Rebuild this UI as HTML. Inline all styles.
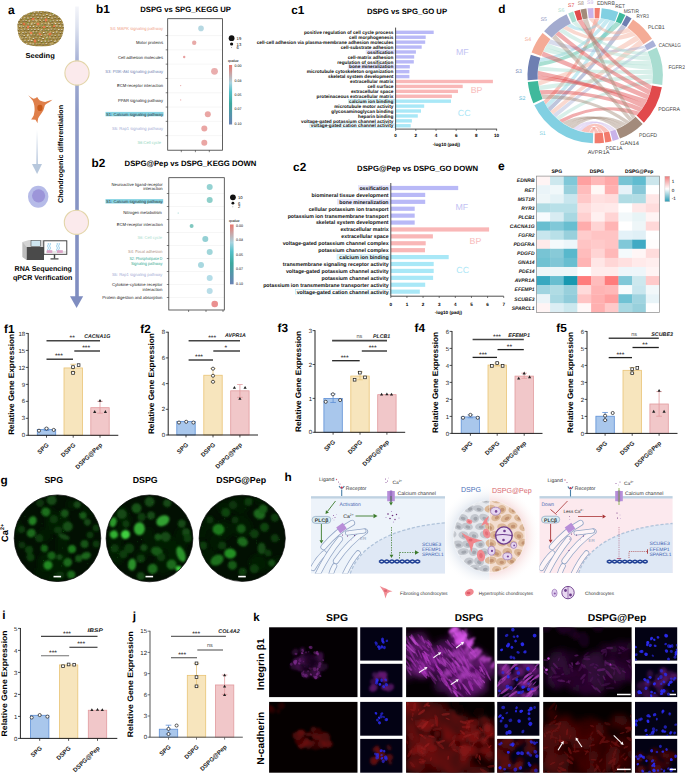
<!DOCTYPE html>
<html><head><meta charset="utf-8"><title>Figure</title>
<style>html,body{margin:0;padding:0;background:#fff;} svg{display:block;}</style></head>
<body><svg width="685" height="775" viewBox="0 0 685 775" font-family='"Liberation Sans", sans-serif' text-rendering="geometricPrecision">
<rect x="0" y="0" width="685" height="775" fill="#ffffff"/>
<text x="8.00" y="13.70" font-size="12" font-weight="bold" >a</text>
<clipPath id="scf"><path d="M17.5,27 C17,17 28,11 40.5,11 C53,11 64,17 63.8,27 C64,31 62,40 56,43.5 C50,46.5 45,46.3 40.5,46.3 C35,46.3 29,46 24,43 C19,39.5 17.5,33 17.5,27 Z"/></clipPath>
<g clip-path="url(#scf)">
<rect x="16.00" y="10.00" width="50.00" height="38.00" fill="#a48a44" />
<rect x="16.8" y="11.8" width="1.8" height="1.2" fill="#5a4618" fill-opacity="0.85"/>
<rect x="16.8" y="11.2" width="1.6" height="1.1" fill="#f4efe0" fill-opacity="0.79"/>
<rect x="20.0" y="12.1" width="1.8" height="1.2" fill="#5a4618" fill-opacity="0.85"/>
<rect x="20.0" y="11.5" width="1.6" height="1.1" fill="#f4efe0" fill-opacity="0.66"/>
<rect x="23.4" y="12.1" width="1.8" height="1.2" fill="#5a4618" fill-opacity="0.85"/>
<rect x="23.4" y="11.5" width="1.6" height="1.1" fill="#f4efe0" fill-opacity="0.52"/>
<rect x="27.1" y="11.8" width="1.8" height="1.2" fill="#5a4618" fill-opacity="0.85"/>
<rect x="27.1" y="11.2" width="1.6" height="1.1" fill="#f4efe0" fill-opacity="0.54"/>
<rect x="30.5" y="12.4" width="1.8" height="1.2" fill="#5a4618" fill-opacity="0.85"/>
<rect x="30.5" y="11.8" width="1.6" height="1.1" fill="#f4efe0" fill-opacity="0.56"/>
<rect x="33.7" y="12.2" width="1.8" height="1.2" fill="#5a4618" fill-opacity="0.85"/>
<rect x="33.7" y="11.6" width="1.6" height="1.1" fill="#f4efe0" fill-opacity="0.93"/>
<rect x="37.5" y="12.0" width="1.8" height="1.2" fill="#5a4618" fill-opacity="0.85"/>
<rect x="37.5" y="11.4" width="1.6" height="1.1" fill="#f4efe0" fill-opacity="0.94"/>
<rect x="40.3" y="12.4" width="1.8" height="1.2" fill="#5a4618" fill-opacity="0.85"/>
<rect x="40.3" y="11.8" width="1.6" height="1.1" fill="#f4efe0" fill-opacity="0.63"/>
<rect x="43.8" y="11.8" width="1.8" height="1.2" fill="#5a4618" fill-opacity="0.85"/>
<rect x="43.8" y="11.2" width="1.6" height="1.1" fill="#f4efe0" fill-opacity="0.64"/>
<rect x="47.9" y="11.8" width="1.8" height="1.2" fill="#5a4618" fill-opacity="0.85"/>
<rect x="47.9" y="11.2" width="1.6" height="1.1" fill="#f4efe0" fill-opacity="0.76"/>
<rect x="51.1" y="12.0" width="1.8" height="1.2" fill="#5a4618" fill-opacity="0.85"/>
<rect x="51.1" y="11.4" width="1.6" height="1.1" fill="#f4efe0" fill-opacity="0.75"/>
<rect x="54.0" y="11.7" width="1.8" height="1.2" fill="#5a4618" fill-opacity="0.85"/>
<rect x="54.0" y="11.1" width="1.6" height="1.1" fill="#f4efe0" fill-opacity="0.59"/>
<rect x="58.0" y="12.0" width="1.8" height="1.2" fill="#5a4618" fill-opacity="0.85"/>
<rect x="58.0" y="11.4" width="1.6" height="1.1" fill="#f4efe0" fill-opacity="0.64"/>
<rect x="61.3" y="12.1" width="1.8" height="1.2" fill="#5a4618" fill-opacity="0.85"/>
<rect x="61.3" y="11.5" width="1.6" height="1.1" fill="#f4efe0" fill-opacity="0.63"/>
<rect x="64.9" y="12.3" width="1.8" height="1.2" fill="#5a4618" fill-opacity="0.85"/>
<rect x="64.9" y="11.7" width="1.6" height="1.1" fill="#f4efe0" fill-opacity="0.61"/>
<rect x="18.8" y="15.0" width="1.8" height="1.2" fill="#5a4618" fill-opacity="0.85"/>
<rect x="18.8" y="14.4" width="1.6" height="1.1" fill="#f4efe0" fill-opacity="0.89"/>
<rect x="22.3" y="14.8" width="1.8" height="1.2" fill="#5a4618" fill-opacity="0.85"/>
<rect x="22.3" y="14.2" width="1.6" height="1.1" fill="#f4efe0" fill-opacity="0.94"/>
<rect x="25.1" y="14.9" width="1.8" height="1.2" fill="#5a4618" fill-opacity="0.85"/>
<rect x="25.1" y="14.3" width="1.6" height="1.1" fill="#f4efe0" fill-opacity="0.84"/>
<rect x="28.6" y="15.0" width="1.8" height="1.2" fill="#5a4618" fill-opacity="0.85"/>
<rect x="28.6" y="14.4" width="1.6" height="1.1" fill="#f4efe0" fill-opacity="0.52"/>
<rect x="32.5" y="15.2" width="1.8" height="1.2" fill="#5a4618" fill-opacity="0.85"/>
<rect x="32.5" y="14.6" width="1.6" height="1.1" fill="#f4efe0" fill-opacity="0.76"/>
<rect x="36.1" y="14.9" width="1.8" height="1.2" fill="#5a4618" fill-opacity="0.85"/>
<rect x="36.1" y="14.3" width="1.6" height="1.1" fill="#f4efe0" fill-opacity="0.81"/>
<rect x="39.2" y="15.1" width="1.8" height="1.2" fill="#5a4618" fill-opacity="0.85"/>
<rect x="39.2" y="14.5" width="1.6" height="1.1" fill="#f4efe0" fill-opacity="0.71"/>
<rect x="42.8" y="15.4" width="1.8" height="1.2" fill="#5a4618" fill-opacity="0.85"/>
<rect x="42.8" y="14.8" width="1.6" height="1.1" fill="#f4efe0" fill-opacity="0.71"/>
<rect x="46.1" y="14.6" width="1.8" height="1.2" fill="#5a4618" fill-opacity="0.85"/>
<rect x="46.1" y="14.0" width="1.6" height="1.1" fill="#f4efe0" fill-opacity="0.82"/>
<rect x="49.4" y="15.4" width="1.8" height="1.2" fill="#5a4618" fill-opacity="0.85"/>
<rect x="49.4" y="14.8" width="1.6" height="1.1" fill="#f4efe0" fill-opacity="0.87"/>
<rect x="52.5" y="14.9" width="1.8" height="1.2" fill="#5a4618" fill-opacity="0.85"/>
<rect x="52.5" y="14.3" width="1.6" height="1.1" fill="#f4efe0" fill-opacity="0.80"/>
<rect x="55.6" y="15.0" width="1.8" height="1.2" fill="#5a4618" fill-opacity="0.85"/>
<rect x="55.6" y="14.4" width="1.6" height="1.1" fill="#f4efe0" fill-opacity="0.58"/>
<rect x="59.1" y="14.6" width="1.8" height="1.2" fill="#5a4618" fill-opacity="0.85"/>
<rect x="59.1" y="14.0" width="1.6" height="1.1" fill="#f4efe0" fill-opacity="0.85"/>
<rect x="62.5" y="14.8" width="1.8" height="1.2" fill="#5a4618" fill-opacity="0.85"/>
<rect x="62.5" y="14.2" width="1.6" height="1.1" fill="#f4efe0" fill-opacity="0.68"/>
<rect x="17.4" y="17.6" width="1.8" height="1.2" fill="#5a4618" fill-opacity="0.85"/>
<rect x="17.4" y="17.0" width="1.6" height="1.1" fill="#f4efe0" fill-opacity="0.70"/>
<rect x="20.4" y="18.2" width="1.8" height="1.2" fill="#5a4618" fill-opacity="0.85"/>
<rect x="20.4" y="17.6" width="1.6" height="1.1" fill="#f4efe0" fill-opacity="0.87"/>
<rect x="24.2" y="17.7" width="1.8" height="1.2" fill="#5a4618" fill-opacity="0.85"/>
<rect x="24.2" y="17.1" width="1.6" height="1.1" fill="#f4efe0" fill-opacity="0.69"/>
<rect x="27.1" y="18.2" width="1.8" height="1.2" fill="#5a4618" fill-opacity="0.85"/>
<rect x="27.1" y="17.6" width="1.6" height="1.1" fill="#f4efe0" fill-opacity="0.93"/>
<rect x="30.3" y="17.6" width="1.8" height="1.2" fill="#5a4618" fill-opacity="0.85"/>
<rect x="30.3" y="17.0" width="1.6" height="1.1" fill="#f4efe0" fill-opacity="0.60"/>
<rect x="33.7" y="17.9" width="1.8" height="1.2" fill="#5a4618" fill-opacity="0.85"/>
<rect x="33.7" y="17.3" width="1.6" height="1.1" fill="#f4efe0" fill-opacity="0.77"/>
<rect x="37.2" y="17.5" width="1.8" height="1.2" fill="#5a4618" fill-opacity="0.85"/>
<rect x="37.2" y="16.9" width="1.6" height="1.1" fill="#f4efe0" fill-opacity="0.69"/>
<rect x="40.7" y="18.0" width="1.8" height="1.2" fill="#5a4618" fill-opacity="0.85"/>
<rect x="40.7" y="17.4" width="1.6" height="1.1" fill="#f4efe0" fill-opacity="0.93"/>
<rect x="44.4" y="17.9" width="1.8" height="1.2" fill="#5a4618" fill-opacity="0.85"/>
<rect x="44.4" y="17.3" width="1.6" height="1.1" fill="#f4efe0" fill-opacity="0.78"/>
<rect x="47.8" y="17.5" width="1.8" height="1.2" fill="#5a4618" fill-opacity="0.85"/>
<rect x="47.8" y="16.9" width="1.6" height="1.1" fill="#f4efe0" fill-opacity="0.90"/>
<rect x="51.3" y="18.2" width="1.8" height="1.2" fill="#5a4618" fill-opacity="0.85"/>
<rect x="51.3" y="17.6" width="1.6" height="1.1" fill="#f4efe0" fill-opacity="0.86"/>
<rect x="54.3" y="17.8" width="1.8" height="1.2" fill="#5a4618" fill-opacity="0.85"/>
<rect x="54.3" y="17.2" width="1.6" height="1.1" fill="#f4efe0" fill-opacity="0.55"/>
<rect x="57.9" y="17.5" width="1.8" height="1.2" fill="#5a4618" fill-opacity="0.85"/>
<rect x="57.9" y="16.9" width="1.6" height="1.1" fill="#f4efe0" fill-opacity="0.53"/>
<rect x="60.9" y="17.6" width="1.8" height="1.2" fill="#5a4618" fill-opacity="0.85"/>
<rect x="60.9" y="17.0" width="1.6" height="1.1" fill="#f4efe0" fill-opacity="0.65"/>
<rect x="64.2" y="17.5" width="1.8" height="1.2" fill="#5a4618" fill-opacity="0.85"/>
<rect x="64.2" y="16.9" width="1.6" height="1.1" fill="#f4efe0" fill-opacity="0.57"/>
<rect x="18.3" y="20.7" width="1.8" height="1.2" fill="#5a4618" fill-opacity="0.85"/>
<rect x="18.3" y="20.1" width="1.6" height="1.1" fill="#f4efe0" fill-opacity="0.51"/>
<rect x="22.5" y="20.9" width="1.8" height="1.2" fill="#5a4618" fill-opacity="0.85"/>
<rect x="22.5" y="20.3" width="1.6" height="1.1" fill="#f4efe0" fill-opacity="0.57"/>
<rect x="25.3" y="20.7" width="1.8" height="1.2" fill="#5a4618" fill-opacity="0.85"/>
<rect x="25.3" y="20.1" width="1.6" height="1.1" fill="#f4efe0" fill-opacity="0.66"/>
<rect x="28.5" y="21.1" width="1.8" height="1.2" fill="#5a4618" fill-opacity="0.85"/>
<rect x="28.5" y="20.5" width="1.6" height="1.1" fill="#f4efe0" fill-opacity="0.95"/>
<rect x="32.3" y="20.8" width="1.8" height="1.2" fill="#5a4618" fill-opacity="0.85"/>
<rect x="32.3" y="20.2" width="1.6" height="1.1" fill="#f4efe0" fill-opacity="0.54"/>
<rect x="35.3" y="20.7" width="1.8" height="1.2" fill="#5a4618" fill-opacity="0.85"/>
<rect x="35.3" y="20.1" width="1.6" height="1.1" fill="#f4efe0" fill-opacity="0.62"/>
<rect x="39.4" y="20.5" width="1.8" height="1.2" fill="#5a4618" fill-opacity="0.85"/>
<rect x="39.4" y="19.9" width="1.6" height="1.1" fill="#f4efe0" fill-opacity="0.51"/>
<rect x="43.0" y="20.8" width="1.8" height="1.2" fill="#5a4618" fill-opacity="0.85"/>
<rect x="43.0" y="20.2" width="1.6" height="1.1" fill="#f4efe0" fill-opacity="0.57"/>
<rect x="45.9" y="20.4" width="1.8" height="1.2" fill="#5a4618" fill-opacity="0.85"/>
<rect x="45.9" y="19.8" width="1.6" height="1.1" fill="#f4efe0" fill-opacity="0.74"/>
<rect x="49.8" y="21.1" width="1.8" height="1.2" fill="#5a4618" fill-opacity="0.85"/>
<rect x="49.8" y="20.5" width="1.6" height="1.1" fill="#f4efe0" fill-opacity="0.81"/>
<rect x="52.5" y="20.7" width="1.8" height="1.2" fill="#5a4618" fill-opacity="0.85"/>
<rect x="52.5" y="20.1" width="1.6" height="1.1" fill="#f4efe0" fill-opacity="0.58"/>
<rect x="56.4" y="20.8" width="1.8" height="1.2" fill="#5a4618" fill-opacity="0.85"/>
<rect x="56.4" y="20.2" width="1.6" height="1.1" fill="#f4efe0" fill-opacity="0.85"/>
<rect x="59.3" y="20.6" width="1.8" height="1.2" fill="#5a4618" fill-opacity="0.85"/>
<rect x="59.3" y="20.0" width="1.6" height="1.1" fill="#f4efe0" fill-opacity="0.87"/>
<rect x="63.4" y="21.1" width="1.8" height="1.2" fill="#5a4618" fill-opacity="0.85"/>
<rect x="63.4" y="20.5" width="1.6" height="1.1" fill="#f4efe0" fill-opacity="0.86"/>
<rect x="17.3" y="23.9" width="1.8" height="1.2" fill="#5a4618" fill-opacity="0.85"/>
<rect x="17.3" y="23.3" width="1.6" height="1.1" fill="#f4efe0" fill-opacity="0.60"/>
<rect x="20.4" y="23.6" width="1.8" height="1.2" fill="#5a4618" fill-opacity="0.85"/>
<rect x="20.4" y="23.0" width="1.6" height="1.1" fill="#f4efe0" fill-opacity="0.51"/>
<rect x="23.3" y="23.5" width="1.8" height="1.2" fill="#5a4618" fill-opacity="0.85"/>
<rect x="23.3" y="22.9" width="1.6" height="1.1" fill="#f4efe0" fill-opacity="0.62"/>
<rect x="27.4" y="24.1" width="1.8" height="1.2" fill="#5a4618" fill-opacity="0.85"/>
<rect x="27.4" y="23.5" width="1.6" height="1.1" fill="#f4efe0" fill-opacity="0.70"/>
<rect x="31.0" y="24.1" width="1.8" height="1.2" fill="#5a4618" fill-opacity="0.85"/>
<rect x="31.0" y="23.5" width="1.6" height="1.1" fill="#f4efe0" fill-opacity="0.93"/>
<rect x="33.9" y="23.5" width="1.8" height="1.2" fill="#5a4618" fill-opacity="0.85"/>
<rect x="33.9" y="22.9" width="1.6" height="1.1" fill="#f4efe0" fill-opacity="0.60"/>
<rect x="37.1" y="23.5" width="1.8" height="1.2" fill="#5a4618" fill-opacity="0.85"/>
<rect x="37.1" y="22.9" width="1.6" height="1.1" fill="#f4efe0" fill-opacity="0.78"/>
<rect x="41.2" y="24.0" width="1.8" height="1.2" fill="#5a4618" fill-opacity="0.85"/>
<rect x="41.2" y="23.4" width="1.6" height="1.1" fill="#f4efe0" fill-opacity="0.72"/>
<rect x="44.4" y="23.9" width="1.8" height="1.2" fill="#5a4618" fill-opacity="0.85"/>
<rect x="44.4" y="23.3" width="1.6" height="1.1" fill="#f4efe0" fill-opacity="0.54"/>
<rect x="47.8" y="24.0" width="1.8" height="1.2" fill="#5a4618" fill-opacity="0.85"/>
<rect x="47.8" y="23.4" width="1.6" height="1.1" fill="#f4efe0" fill-opacity="0.85"/>
<rect x="51.3" y="23.7" width="1.8" height="1.2" fill="#5a4618" fill-opacity="0.85"/>
<rect x="51.3" y="23.1" width="1.6" height="1.1" fill="#f4efe0" fill-opacity="0.58"/>
<rect x="54.7" y="23.6" width="1.8" height="1.2" fill="#5a4618" fill-opacity="0.85"/>
<rect x="54.7" y="23.0" width="1.6" height="1.1" fill="#f4efe0" fill-opacity="0.86"/>
<rect x="58.3" y="23.6" width="1.8" height="1.2" fill="#5a4618" fill-opacity="0.85"/>
<rect x="58.3" y="23.0" width="1.6" height="1.1" fill="#f4efe0" fill-opacity="0.68"/>
<rect x="61.6" y="23.9" width="1.8" height="1.2" fill="#5a4618" fill-opacity="0.85"/>
<rect x="61.6" y="23.3" width="1.6" height="1.1" fill="#f4efe0" fill-opacity="0.58"/>
<rect x="64.2" y="23.4" width="1.8" height="1.2" fill="#5a4618" fill-opacity="0.85"/>
<rect x="64.2" y="22.8" width="1.6" height="1.1" fill="#f4efe0" fill-opacity="0.91"/>
<rect x="19.0" y="26.3" width="1.8" height="1.2" fill="#5a4618" fill-opacity="0.85"/>
<rect x="19.0" y="25.7" width="1.6" height="1.1" fill="#f4efe0" fill-opacity="0.87"/>
<rect x="22.6" y="26.7" width="1.8" height="1.2" fill="#5a4618" fill-opacity="0.85"/>
<rect x="22.6" y="26.1" width="1.6" height="1.1" fill="#f4efe0" fill-opacity="0.66"/>
<rect x="25.5" y="26.3" width="1.8" height="1.2" fill="#5a4618" fill-opacity="0.85"/>
<rect x="25.5" y="25.7" width="1.6" height="1.1" fill="#f4efe0" fill-opacity="0.51"/>
<rect x="29.4" y="26.7" width="1.8" height="1.2" fill="#5a4618" fill-opacity="0.85"/>
<rect x="29.4" y="26.1" width="1.6" height="1.1" fill="#f4efe0" fill-opacity="0.74"/>
<rect x="32.7" y="26.5" width="1.8" height="1.2" fill="#5a4618" fill-opacity="0.85"/>
<rect x="32.7" y="25.9" width="1.6" height="1.1" fill="#f4efe0" fill-opacity="0.89"/>
<rect x="36.0" y="26.4" width="1.8" height="1.2" fill="#5a4618" fill-opacity="0.85"/>
<rect x="36.0" y="25.8" width="1.6" height="1.1" fill="#f4efe0" fill-opacity="0.61"/>
<rect x="38.9" y="26.4" width="1.8" height="1.2" fill="#5a4618" fill-opacity="0.85"/>
<rect x="38.9" y="25.8" width="1.6" height="1.1" fill="#f4efe0" fill-opacity="0.76"/>
<rect x="42.3" y="26.5" width="1.8" height="1.2" fill="#5a4618" fill-opacity="0.85"/>
<rect x="42.3" y="25.9" width="1.6" height="1.1" fill="#f4efe0" fill-opacity="0.56"/>
<rect x="46.3" y="26.5" width="1.8" height="1.2" fill="#5a4618" fill-opacity="0.85"/>
<rect x="46.3" y="25.9" width="1.6" height="1.1" fill="#f4efe0" fill-opacity="0.71"/>
<rect x="49.4" y="26.9" width="1.8" height="1.2" fill="#5a4618" fill-opacity="0.85"/>
<rect x="49.4" y="26.3" width="1.6" height="1.1" fill="#f4efe0" fill-opacity="0.69"/>
<rect x="53.1" y="26.6" width="1.8" height="1.2" fill="#5a4618" fill-opacity="0.85"/>
<rect x="53.1" y="26.0" width="1.6" height="1.1" fill="#f4efe0" fill-opacity="0.74"/>
<rect x="56.1" y="26.2" width="1.8" height="1.2" fill="#5a4618" fill-opacity="0.85"/>
<rect x="56.1" y="25.6" width="1.6" height="1.1" fill="#f4efe0" fill-opacity="0.70"/>
<rect x="59.2" y="26.2" width="1.8" height="1.2" fill="#5a4618" fill-opacity="0.85"/>
<rect x="59.2" y="25.6" width="1.6" height="1.1" fill="#f4efe0" fill-opacity="0.86"/>
<rect x="62.6" y="26.6" width="1.8" height="1.2" fill="#5a4618" fill-opacity="0.85"/>
<rect x="62.6" y="26.0" width="1.6" height="1.1" fill="#f4efe0" fill-opacity="0.83"/>
<rect x="17.1" y="29.4" width="1.8" height="1.2" fill="#5a4618" fill-opacity="0.85"/>
<rect x="17.1" y="28.8" width="1.6" height="1.1" fill="#f4efe0" fill-opacity="0.73"/>
<rect x="20.5" y="29.7" width="1.8" height="1.2" fill="#5a4618" fill-opacity="0.85"/>
<rect x="20.5" y="29.1" width="1.6" height="1.1" fill="#f4efe0" fill-opacity="0.55"/>
<rect x="23.9" y="29.3" width="1.8" height="1.2" fill="#5a4618" fill-opacity="0.85"/>
<rect x="23.9" y="28.7" width="1.6" height="1.1" fill="#f4efe0" fill-opacity="0.62"/>
<rect x="27.5" y="29.5" width="1.8" height="1.2" fill="#5a4618" fill-opacity="0.85"/>
<rect x="27.5" y="28.9" width="1.6" height="1.1" fill="#f4efe0" fill-opacity="0.75"/>
<rect x="30.9" y="29.8" width="1.8" height="1.2" fill="#5a4618" fill-opacity="0.85"/>
<rect x="30.9" y="29.2" width="1.6" height="1.1" fill="#f4efe0" fill-opacity="0.70"/>
<rect x="34.1" y="29.5" width="1.8" height="1.2" fill="#5a4618" fill-opacity="0.85"/>
<rect x="34.1" y="28.9" width="1.6" height="1.1" fill="#f4efe0" fill-opacity="0.73"/>
<rect x="37.6" y="29.5" width="1.8" height="1.2" fill="#5a4618" fill-opacity="0.85"/>
<rect x="37.6" y="28.9" width="1.6" height="1.1" fill="#f4efe0" fill-opacity="0.74"/>
<rect x="40.8" y="29.9" width="1.8" height="1.2" fill="#5a4618" fill-opacity="0.85"/>
<rect x="40.8" y="29.3" width="1.6" height="1.1" fill="#f4efe0" fill-opacity="0.81"/>
<rect x="44.6" y="29.9" width="1.8" height="1.2" fill="#5a4618" fill-opacity="0.85"/>
<rect x="44.6" y="29.3" width="1.6" height="1.1" fill="#f4efe0" fill-opacity="0.62"/>
<rect x="47.7" y="29.9" width="1.8" height="1.2" fill="#5a4618" fill-opacity="0.85"/>
<rect x="47.7" y="29.3" width="1.6" height="1.1" fill="#f4efe0" fill-opacity="0.88"/>
<rect x="50.6" y="29.2" width="1.8" height="1.2" fill="#5a4618" fill-opacity="0.85"/>
<rect x="50.6" y="28.6" width="1.6" height="1.1" fill="#f4efe0" fill-opacity="0.70"/>
<rect x="54.0" y="29.3" width="1.8" height="1.2" fill="#5a4618" fill-opacity="0.85"/>
<rect x="54.0" y="28.7" width="1.6" height="1.1" fill="#f4efe0" fill-opacity="0.53"/>
<rect x="58.0" y="29.7" width="1.8" height="1.2" fill="#5a4618" fill-opacity="0.85"/>
<rect x="58.0" y="29.1" width="1.6" height="1.1" fill="#f4efe0" fill-opacity="0.90"/>
<rect x="60.9" y="29.7" width="1.8" height="1.2" fill="#5a4618" fill-opacity="0.85"/>
<rect x="60.9" y="29.1" width="1.6" height="1.1" fill="#f4efe0" fill-opacity="0.80"/>
<rect x="64.2" y="29.8" width="1.8" height="1.2" fill="#5a4618" fill-opacity="0.85"/>
<rect x="64.2" y="29.2" width="1.6" height="1.1" fill="#f4efe0" fill-opacity="0.94"/>
<rect x="18.4" y="32.8" width="1.8" height="1.2" fill="#5a4618" fill-opacity="0.85"/>
<rect x="18.4" y="32.2" width="1.6" height="1.1" fill="#f4efe0" fill-opacity="0.68"/>
<rect x="22.1" y="32.8" width="1.8" height="1.2" fill="#5a4618" fill-opacity="0.85"/>
<rect x="22.1" y="32.2" width="1.6" height="1.1" fill="#f4efe0" fill-opacity="0.87"/>
<rect x="25.2" y="32.3" width="1.8" height="1.2" fill="#5a4618" fill-opacity="0.85"/>
<rect x="25.2" y="31.7" width="1.6" height="1.1" fill="#f4efe0" fill-opacity="0.73"/>
<rect x="28.7" y="32.2" width="1.8" height="1.2" fill="#5a4618" fill-opacity="0.85"/>
<rect x="28.7" y="31.6" width="1.6" height="1.1" fill="#f4efe0" fill-opacity="0.64"/>
<rect x="32.5" y="32.0" width="1.8" height="1.2" fill="#5a4618" fill-opacity="0.85"/>
<rect x="32.5" y="31.4" width="1.6" height="1.1" fill="#f4efe0" fill-opacity="0.75"/>
<rect x="35.6" y="32.0" width="1.8" height="1.2" fill="#5a4618" fill-opacity="0.85"/>
<rect x="35.6" y="31.4" width="1.6" height="1.1" fill="#f4efe0" fill-opacity="0.65"/>
<rect x="39.2" y="32.4" width="1.8" height="1.2" fill="#5a4618" fill-opacity="0.85"/>
<rect x="39.2" y="31.8" width="1.6" height="1.1" fill="#f4efe0" fill-opacity="0.53"/>
<rect x="43.0" y="32.6" width="1.8" height="1.2" fill="#5a4618" fill-opacity="0.85"/>
<rect x="43.0" y="32.0" width="1.6" height="1.1" fill="#f4efe0" fill-opacity="0.94"/>
<rect x="45.5" y="32.2" width="1.8" height="1.2" fill="#5a4618" fill-opacity="0.85"/>
<rect x="45.5" y="31.6" width="1.6" height="1.1" fill="#f4efe0" fill-opacity="0.52"/>
<rect x="49.6" y="32.2" width="1.8" height="1.2" fill="#5a4618" fill-opacity="0.85"/>
<rect x="49.6" y="31.6" width="1.6" height="1.1" fill="#f4efe0" fill-opacity="0.56"/>
<rect x="52.6" y="32.7" width="1.8" height="1.2" fill="#5a4618" fill-opacity="0.85"/>
<rect x="52.6" y="32.1" width="1.6" height="1.1" fill="#f4efe0" fill-opacity="0.87"/>
<rect x="55.9" y="32.1" width="1.8" height="1.2" fill="#5a4618" fill-opacity="0.85"/>
<rect x="55.9" y="31.5" width="1.6" height="1.1" fill="#f4efe0" fill-opacity="0.91"/>
<rect x="59.6" y="32.6" width="1.8" height="1.2" fill="#5a4618" fill-opacity="0.85"/>
<rect x="59.6" y="32.0" width="1.6" height="1.1" fill="#f4efe0" fill-opacity="0.54"/>
<rect x="62.5" y="32.6" width="1.8" height="1.2" fill="#5a4618" fill-opacity="0.85"/>
<rect x="62.5" y="32.0" width="1.6" height="1.1" fill="#f4efe0" fill-opacity="0.69"/>
<rect x="16.6" y="35.7" width="1.8" height="1.2" fill="#5a4618" fill-opacity="0.85"/>
<rect x="16.6" y="35.1" width="1.6" height="1.1" fill="#f4efe0" fill-opacity="0.79"/>
<rect x="20.7" y="35.0" width="1.8" height="1.2" fill="#5a4618" fill-opacity="0.85"/>
<rect x="20.7" y="34.4" width="1.6" height="1.1" fill="#f4efe0" fill-opacity="0.89"/>
<rect x="23.4" y="35.6" width="1.8" height="1.2" fill="#5a4618" fill-opacity="0.85"/>
<rect x="23.4" y="35.0" width="1.6" height="1.1" fill="#f4efe0" fill-opacity="0.70"/>
<rect x="27.0" y="35.3" width="1.8" height="1.2" fill="#5a4618" fill-opacity="0.85"/>
<rect x="27.0" y="34.7" width="1.6" height="1.1" fill="#f4efe0" fill-opacity="0.92"/>
<rect x="30.4" y="35.0" width="1.8" height="1.2" fill="#5a4618" fill-opacity="0.85"/>
<rect x="30.4" y="34.4" width="1.6" height="1.1" fill="#f4efe0" fill-opacity="0.74"/>
<rect x="33.7" y="35.0" width="1.8" height="1.2" fill="#5a4618" fill-opacity="0.85"/>
<rect x="33.7" y="34.4" width="1.6" height="1.1" fill="#f4efe0" fill-opacity="0.57"/>
<rect x="37.0" y="35.1" width="1.8" height="1.2" fill="#5a4618" fill-opacity="0.85"/>
<rect x="37.0" y="34.5" width="1.6" height="1.1" fill="#f4efe0" fill-opacity="0.64"/>
<rect x="40.6" y="35.5" width="1.8" height="1.2" fill="#5a4618" fill-opacity="0.85"/>
<rect x="40.6" y="34.9" width="1.6" height="1.1" fill="#f4efe0" fill-opacity="0.63"/>
<rect x="44.2" y="35.0" width="1.8" height="1.2" fill="#5a4618" fill-opacity="0.85"/>
<rect x="44.2" y="34.4" width="1.6" height="1.1" fill="#f4efe0" fill-opacity="0.66"/>
<rect x="47.1" y="35.1" width="1.8" height="1.2" fill="#5a4618" fill-opacity="0.85"/>
<rect x="47.1" y="34.5" width="1.6" height="1.1" fill="#f4efe0" fill-opacity="0.51"/>
<rect x="51.2" y="35.3" width="1.8" height="1.2" fill="#5a4618" fill-opacity="0.85"/>
<rect x="51.2" y="34.7" width="1.6" height="1.1" fill="#f4efe0" fill-opacity="0.59"/>
<rect x="54.4" y="35.6" width="1.8" height="1.2" fill="#5a4618" fill-opacity="0.85"/>
<rect x="54.4" y="35.0" width="1.6" height="1.1" fill="#f4efe0" fill-opacity="0.55"/>
<rect x="58.1" y="35.2" width="1.8" height="1.2" fill="#5a4618" fill-opacity="0.85"/>
<rect x="58.1" y="34.6" width="1.6" height="1.1" fill="#f4efe0" fill-opacity="0.72"/>
<rect x="61.5" y="35.2" width="1.8" height="1.2" fill="#5a4618" fill-opacity="0.85"/>
<rect x="61.5" y="34.6" width="1.6" height="1.1" fill="#f4efe0" fill-opacity="0.73"/>
<rect x="64.8" y="35.7" width="1.8" height="1.2" fill="#5a4618" fill-opacity="0.85"/>
<rect x="64.8" y="35.1" width="1.6" height="1.1" fill="#f4efe0" fill-opacity="0.65"/>
<rect x="19.0" y="38.4" width="1.8" height="1.2" fill="#5a4618" fill-opacity="0.85"/>
<rect x="19.0" y="37.8" width="1.6" height="1.1" fill="#f4efe0" fill-opacity="0.79"/>
<rect x="22.0" y="38.1" width="1.8" height="1.2" fill="#5a4618" fill-opacity="0.85"/>
<rect x="22.0" y="37.5" width="1.6" height="1.1" fill="#f4efe0" fill-opacity="0.52"/>
<rect x="25.1" y="37.9" width="1.8" height="1.2" fill="#5a4618" fill-opacity="0.85"/>
<rect x="25.1" y="37.3" width="1.6" height="1.1" fill="#f4efe0" fill-opacity="0.83"/>
<rect x="28.7" y="37.9" width="1.8" height="1.2" fill="#5a4618" fill-opacity="0.85"/>
<rect x="28.7" y="37.3" width="1.6" height="1.1" fill="#f4efe0" fill-opacity="0.54"/>
<rect x="32.6" y="38.5" width="1.8" height="1.2" fill="#5a4618" fill-opacity="0.85"/>
<rect x="32.6" y="37.9" width="1.6" height="1.1" fill="#f4efe0" fill-opacity="0.80"/>
<rect x="35.5" y="38.0" width="1.8" height="1.2" fill="#5a4618" fill-opacity="0.85"/>
<rect x="35.5" y="37.4" width="1.6" height="1.1" fill="#f4efe0" fill-opacity="0.63"/>
<rect x="39.1" y="37.9" width="1.8" height="1.2" fill="#5a4618" fill-opacity="0.85"/>
<rect x="39.1" y="37.3" width="1.6" height="1.1" fill="#f4efe0" fill-opacity="0.70"/>
<rect x="42.3" y="38.6" width="1.8" height="1.2" fill="#5a4618" fill-opacity="0.85"/>
<rect x="42.3" y="38.0" width="1.6" height="1.1" fill="#f4efe0" fill-opacity="0.94"/>
<rect x="45.9" y="38.0" width="1.8" height="1.2" fill="#5a4618" fill-opacity="0.85"/>
<rect x="45.9" y="37.4" width="1.6" height="1.1" fill="#f4efe0" fill-opacity="0.93"/>
<rect x="49.1" y="38.1" width="1.8" height="1.2" fill="#5a4618" fill-opacity="0.85"/>
<rect x="49.1" y="37.5" width="1.6" height="1.1" fill="#f4efe0" fill-opacity="0.50"/>
<rect x="52.6" y="38.2" width="1.8" height="1.2" fill="#5a4618" fill-opacity="0.85"/>
<rect x="52.6" y="37.6" width="1.6" height="1.1" fill="#f4efe0" fill-opacity="0.73"/>
<rect x="55.8" y="38.2" width="1.8" height="1.2" fill="#5a4618" fill-opacity="0.85"/>
<rect x="55.8" y="37.6" width="1.6" height="1.1" fill="#f4efe0" fill-opacity="0.50"/>
<rect x="59.3" y="37.9" width="1.8" height="1.2" fill="#5a4618" fill-opacity="0.85"/>
<rect x="59.3" y="37.3" width="1.6" height="1.1" fill="#f4efe0" fill-opacity="0.68"/>
<rect x="62.4" y="37.8" width="1.8" height="1.2" fill="#5a4618" fill-opacity="0.85"/>
<rect x="62.4" y="37.2" width="1.6" height="1.1" fill="#f4efe0" fill-opacity="0.64"/>
<rect x="16.7" y="41.2" width="1.8" height="1.2" fill="#5a4618" fill-opacity="0.85"/>
<rect x="16.7" y="40.6" width="1.6" height="1.1" fill="#f4efe0" fill-opacity="0.74"/>
<rect x="20.7" y="41.2" width="1.8" height="1.2" fill="#5a4618" fill-opacity="0.85"/>
<rect x="20.7" y="40.6" width="1.6" height="1.1" fill="#f4efe0" fill-opacity="0.82"/>
<rect x="24.2" y="41.0" width="1.8" height="1.2" fill="#5a4618" fill-opacity="0.85"/>
<rect x="24.2" y="40.4" width="1.6" height="1.1" fill="#f4efe0" fill-opacity="0.65"/>
<rect x="27.7" y="40.8" width="1.8" height="1.2" fill="#5a4618" fill-opacity="0.85"/>
<rect x="27.7" y="40.2" width="1.6" height="1.1" fill="#f4efe0" fill-opacity="0.83"/>
<rect x="30.7" y="40.7" width="1.8" height="1.2" fill="#5a4618" fill-opacity="0.85"/>
<rect x="30.7" y="40.1" width="1.6" height="1.1" fill="#f4efe0" fill-opacity="0.88"/>
<rect x="34.4" y="41.2" width="1.8" height="1.2" fill="#5a4618" fill-opacity="0.85"/>
<rect x="34.4" y="40.6" width="1.6" height="1.1" fill="#f4efe0" fill-opacity="0.83"/>
<rect x="37.7" y="40.8" width="1.8" height="1.2" fill="#5a4618" fill-opacity="0.85"/>
<rect x="37.7" y="40.2" width="1.6" height="1.1" fill="#f4efe0" fill-opacity="0.74"/>
<rect x="40.8" y="41.4" width="1.8" height="1.2" fill="#5a4618" fill-opacity="0.85"/>
<rect x="40.8" y="40.8" width="1.6" height="1.1" fill="#f4efe0" fill-opacity="0.86"/>
<rect x="44.5" y="41.2" width="1.8" height="1.2" fill="#5a4618" fill-opacity="0.85"/>
<rect x="44.5" y="40.6" width="1.6" height="1.1" fill="#f4efe0" fill-opacity="0.90"/>
<rect x="47.8" y="41.3" width="1.8" height="1.2" fill="#5a4618" fill-opacity="0.85"/>
<rect x="47.8" y="40.7" width="1.6" height="1.1" fill="#f4efe0" fill-opacity="0.60"/>
<rect x="50.5" y="40.8" width="1.8" height="1.2" fill="#5a4618" fill-opacity="0.85"/>
<rect x="50.5" y="40.2" width="1.6" height="1.1" fill="#f4efe0" fill-opacity="0.66"/>
<rect x="54.0" y="41.4" width="1.8" height="1.2" fill="#5a4618" fill-opacity="0.85"/>
<rect x="54.0" y="40.8" width="1.6" height="1.1" fill="#f4efe0" fill-opacity="0.75"/>
<rect x="57.9" y="41.2" width="1.8" height="1.2" fill="#5a4618" fill-opacity="0.85"/>
<rect x="57.9" y="40.6" width="1.6" height="1.1" fill="#f4efe0" fill-opacity="0.81"/>
<rect x="61.2" y="40.7" width="1.8" height="1.2" fill="#5a4618" fill-opacity="0.85"/>
<rect x="61.2" y="40.1" width="1.6" height="1.1" fill="#f4efe0" fill-opacity="0.86"/>
<rect x="64.8" y="41.1" width="1.8" height="1.2" fill="#5a4618" fill-opacity="0.85"/>
<rect x="64.8" y="40.5" width="1.6" height="1.1" fill="#f4efe0" fill-opacity="0.74"/>
<rect x="18.9" y="43.7" width="1.8" height="1.2" fill="#5a4618" fill-opacity="0.85"/>
<rect x="18.9" y="43.1" width="1.6" height="1.1" fill="#f4efe0" fill-opacity="0.83"/>
<rect x="21.9" y="43.7" width="1.8" height="1.2" fill="#5a4618" fill-opacity="0.85"/>
<rect x="21.9" y="43.1" width="1.6" height="1.1" fill="#f4efe0" fill-opacity="0.62"/>
<rect x="25.7" y="43.8" width="1.8" height="1.2" fill="#5a4618" fill-opacity="0.85"/>
<rect x="25.7" y="43.2" width="1.6" height="1.1" fill="#f4efe0" fill-opacity="0.83"/>
<rect x="29.4" y="44.0" width="1.8" height="1.2" fill="#5a4618" fill-opacity="0.85"/>
<rect x="29.4" y="43.4" width="1.6" height="1.1" fill="#f4efe0" fill-opacity="0.67"/>
<rect x="32.3" y="44.1" width="1.8" height="1.2" fill="#5a4618" fill-opacity="0.85"/>
<rect x="32.3" y="43.5" width="1.6" height="1.1" fill="#f4efe0" fill-opacity="0.85"/>
<rect x="35.8" y="44.1" width="1.8" height="1.2" fill="#5a4618" fill-opacity="0.85"/>
<rect x="35.8" y="43.5" width="1.6" height="1.1" fill="#f4efe0" fill-opacity="0.53"/>
<rect x="38.7" y="43.8" width="1.8" height="1.2" fill="#5a4618" fill-opacity="0.85"/>
<rect x="38.7" y="43.2" width="1.6" height="1.1" fill="#f4efe0" fill-opacity="0.83"/>
<rect x="42.3" y="44.1" width="1.8" height="1.2" fill="#5a4618" fill-opacity="0.85"/>
<rect x="42.3" y="43.5" width="1.6" height="1.1" fill="#f4efe0" fill-opacity="0.51"/>
<rect x="45.5" y="43.8" width="1.8" height="1.2" fill="#5a4618" fill-opacity="0.85"/>
<rect x="45.5" y="43.2" width="1.6" height="1.1" fill="#f4efe0" fill-opacity="0.80"/>
<rect x="49.5" y="44.1" width="1.8" height="1.2" fill="#5a4618" fill-opacity="0.85"/>
<rect x="49.5" y="43.5" width="1.6" height="1.1" fill="#f4efe0" fill-opacity="0.63"/>
<rect x="52.7" y="44.0" width="1.8" height="1.2" fill="#5a4618" fill-opacity="0.85"/>
<rect x="52.7" y="43.4" width="1.6" height="1.1" fill="#f4efe0" fill-opacity="0.71"/>
<rect x="55.7" y="44.3" width="1.8" height="1.2" fill="#5a4618" fill-opacity="0.85"/>
<rect x="55.7" y="43.7" width="1.6" height="1.1" fill="#f4efe0" fill-opacity="0.59"/>
<rect x="60.0" y="44.3" width="1.8" height="1.2" fill="#5a4618" fill-opacity="0.85"/>
<rect x="60.0" y="43.7" width="1.6" height="1.1" fill="#f4efe0" fill-opacity="0.51"/>
<rect x="62.9" y="44.3" width="1.8" height="1.2" fill="#5a4618" fill-opacity="0.85"/>
<rect x="62.9" y="43.7" width="1.6" height="1.1" fill="#f4efe0" fill-opacity="0.94"/>
<rect x="16.9" y="46.7" width="1.8" height="1.2" fill="#5a4618" fill-opacity="0.85"/>
<rect x="16.9" y="46.1" width="1.6" height="1.1" fill="#f4efe0" fill-opacity="0.59"/>
<rect x="20.8" y="46.7" width="1.8" height="1.2" fill="#5a4618" fill-opacity="0.85"/>
<rect x="20.8" y="46.1" width="1.6" height="1.1" fill="#f4efe0" fill-opacity="0.76"/>
<rect x="23.4" y="46.9" width="1.8" height="1.2" fill="#5a4618" fill-opacity="0.85"/>
<rect x="23.4" y="46.3" width="1.6" height="1.1" fill="#f4efe0" fill-opacity="0.93"/>
<rect x="26.8" y="47.2" width="1.8" height="1.2" fill="#5a4618" fill-opacity="0.85"/>
<rect x="26.8" y="46.6" width="1.6" height="1.1" fill="#f4efe0" fill-opacity="0.73"/>
<rect x="31.0" y="47.1" width="1.8" height="1.2" fill="#5a4618" fill-opacity="0.85"/>
<rect x="31.0" y="46.5" width="1.6" height="1.1" fill="#f4efe0" fill-opacity="0.60"/>
<rect x="34.4" y="46.9" width="1.8" height="1.2" fill="#5a4618" fill-opacity="0.85"/>
<rect x="34.4" y="46.3" width="1.6" height="1.1" fill="#f4efe0" fill-opacity="0.51"/>
<rect x="36.9" y="46.9" width="1.8" height="1.2" fill="#5a4618" fill-opacity="0.85"/>
<rect x="36.9" y="46.3" width="1.6" height="1.1" fill="#f4efe0" fill-opacity="0.70"/>
<rect x="40.6" y="46.6" width="1.8" height="1.2" fill="#5a4618" fill-opacity="0.85"/>
<rect x="40.6" y="46.0" width="1.6" height="1.1" fill="#f4efe0" fill-opacity="0.65"/>
<rect x="44.0" y="47.2" width="1.8" height="1.2" fill="#5a4618" fill-opacity="0.85"/>
<rect x="44.0" y="46.6" width="1.6" height="1.1" fill="#f4efe0" fill-opacity="0.50"/>
<rect x="47.9" y="47.2" width="1.8" height="1.2" fill="#5a4618" fill-opacity="0.85"/>
<rect x="47.9" y="46.6" width="1.6" height="1.1" fill="#f4efe0" fill-opacity="0.55"/>
<rect x="51.4" y="47.1" width="1.8" height="1.2" fill="#5a4618" fill-opacity="0.85"/>
<rect x="51.4" y="46.5" width="1.6" height="1.1" fill="#f4efe0" fill-opacity="0.91"/>
<rect x="54.2" y="46.8" width="1.8" height="1.2" fill="#5a4618" fill-opacity="0.85"/>
<rect x="54.2" y="46.2" width="1.6" height="1.1" fill="#f4efe0" fill-opacity="0.68"/>
<rect x="58.3" y="47.0" width="1.8" height="1.2" fill="#5a4618" fill-opacity="0.85"/>
<rect x="58.3" y="46.4" width="1.6" height="1.1" fill="#f4efe0" fill-opacity="0.66"/>
<rect x="61.1" y="46.7" width="1.8" height="1.2" fill="#5a4618" fill-opacity="0.85"/>
<rect x="61.1" y="46.1" width="1.6" height="1.1" fill="#f4efe0" fill-opacity="0.52"/>
<rect x="64.2" y="47.2" width="1.8" height="1.2" fill="#5a4618" fill-opacity="0.85"/>
<rect x="64.2" y="46.6" width="1.6" height="1.1" fill="#f4efe0" fill-opacity="0.63"/>
<line x1="60.97" y1="19.73" x2="62.67" y2="21.60" stroke="#c8ae68" stroke-width="0.6" />
<line x1="53.34" y1="38.48" x2="53.69" y2="40.00" stroke="#8a7030" stroke-width="0.6" />
<line x1="59.93" y1="43.92" x2="59.48" y2="46.83" stroke="#d8c282" stroke-width="0.6" />
<line x1="60.87" y1="25.38" x2="60.25" y2="27.04" stroke="#e2d09a" stroke-width="0.6" />
<line x1="39.82" y1="42.92" x2="39.53" y2="44.74" stroke="#8a7030" stroke-width="0.6" />
<line x1="33.15" y1="21.42" x2="30.80" y2="23.95" stroke="#e2d09a" stroke-width="0.6" />
<line x1="36.09" y1="19.35" x2="36.24" y2="22.19" stroke="#d8c282" stroke-width="0.6" />
<line x1="24.86" y1="16.66" x2="27.50" y2="18.67" stroke="#8a7030" stroke-width="0.6" />
<line x1="42.87" y1="26.85" x2="44.38" y2="29.47" stroke="#8a7030" stroke-width="0.6" />
<line x1="23.56" y1="17.73" x2="25.66" y2="18.35" stroke="#d8c282" stroke-width="0.6" />
<line x1="32.01" y1="23.89" x2="30.43" y2="24.96" stroke="#d8c282" stroke-width="0.6" />
<line x1="52.23" y1="25.45" x2="52.91" y2="27.90" stroke="#8a7030" stroke-width="0.6" />
<line x1="29.70" y1="37.32" x2="29.72" y2="39.97" stroke="#e2d09a" stroke-width="0.6" />
<line x1="22.92" y1="28.62" x2="21.64" y2="31.58" stroke="#c8ae68" stroke-width="0.6" />
<line x1="21.35" y1="42.39" x2="22.34" y2="45.00" stroke="#8a7030" stroke-width="0.6" />
<line x1="61.84" y1="40.70" x2="60.41" y2="41.30" stroke="#d8c282" stroke-width="0.6" />
<line x1="36.98" y1="37.73" x2="34.18" y2="39.71" stroke="#8a7030" stroke-width="0.6" />
<line x1="17.01" y1="24.70" x2="13.94" y2="25.42" stroke="#8a7030" stroke-width="0.6" />
<line x1="62.70" y1="19.70" x2="64.40" y2="20.30" stroke="#d8c282" stroke-width="0.6" />
<line x1="61.25" y1="36.26" x2="59.90" y2="38.97" stroke="#8a7030" stroke-width="0.6" />
<line x1="21.00" y1="38.19" x2="22.75" y2="38.20" stroke="#d8c282" stroke-width="0.6" />
<line x1="47.34" y1="21.63" x2="49.18" y2="22.42" stroke="#8a7030" stroke-width="0.6" />
<line x1="49.83" y1="14.92" x2="52.32" y2="15.48" stroke="#c8ae68" stroke-width="0.6" />
<line x1="35.24" y1="18.83" x2="34.77" y2="20.27" stroke="#e2d09a" stroke-width="0.6" />
<line x1="63.83" y1="20.75" x2="65.56" y2="23.42" stroke="#c8ae68" stroke-width="0.6" />
<line x1="39.34" y1="19.22" x2="41.78" y2="21.61" stroke="#e2d09a" stroke-width="0.6" />
<line x1="19.60" y1="17.79" x2="16.99" y2="18.78" stroke="#d8c282" stroke-width="0.6" />
<line x1="29.09" y1="34.36" x2="27.19" y2="34.81" stroke="#d8c282" stroke-width="0.6" />
<line x1="49.70" y1="36.14" x2="50.66" y2="38.22" stroke="#d8c282" stroke-width="0.6" />
<line x1="54.46" y1="36.87" x2="54.43" y2="38.78" stroke="#c8ae68" stroke-width="0.6" />
<line x1="31.65" y1="39.70" x2="33.10" y2="40.99" stroke="#e2d09a" stroke-width="0.6" />
<line x1="22.12" y1="32.83" x2="21.01" y2="35.92" stroke="#8a7030" stroke-width="0.6" />
<line x1="36.60" y1="34.29" x2="34.83" y2="34.57" stroke="#8a7030" stroke-width="0.6" />
<line x1="19.55" y1="11.83" x2="18.86" y2="14.05" stroke="#d8c282" stroke-width="0.6" />
<line x1="25.65" y1="26.74" x2="24.34" y2="28.41" stroke="#d8c282" stroke-width="0.6" />
<line x1="63.88" y1="43.61" x2="64.84" y2="45.21" stroke="#8a7030" stroke-width="0.6" />
<line x1="18.50" y1="34.26" x2="19.34" y2="36.34" stroke="#e2d09a" stroke-width="0.6" />
<line x1="37.79" y1="14.81" x2="39.41" y2="15.22" stroke="#8a7030" stroke-width="0.6" />
<line x1="61.91" y1="15.33" x2="60.01" y2="15.54" stroke="#e2d09a" stroke-width="0.6" />
<line x1="53.13" y1="21.80" x2="51.76" y2="22.77" stroke="#8a7030" stroke-width="0.6" />
<line x1="26.20" y1="29.95" x2="26.56" y2="32.07" stroke="#8a7030" stroke-width="0.6" />
<line x1="18.42" y1="25.38" x2="15.90" y2="27.07" stroke="#d8c282" stroke-width="0.6" />
<line x1="34.65" y1="27.24" x2="33.33" y2="28.18" stroke="#c8ae68" stroke-width="0.6" />
<line x1="52.12" y1="42.45" x2="53.11" y2="44.24" stroke="#d8c282" stroke-width="0.6" />
<line x1="29.32" y1="36.08" x2="30.44" y2="37.80" stroke="#d8c282" stroke-width="0.6" />
<line x1="50.91" y1="31.84" x2="48.13" y2="33.79" stroke="#d8c282" stroke-width="0.6" />
<line x1="18.14" y1="19.19" x2="18.41" y2="22.59" stroke="#8a7030" stroke-width="0.6" />
<line x1="54.12" y1="42.97" x2="52.65" y2="43.94" stroke="#8a7030" stroke-width="0.6" />
<line x1="25.60" y1="39.09" x2="23.46" y2="41.39" stroke="#c8ae68" stroke-width="0.6" />
<line x1="45.54" y1="22.47" x2="46.74" y2="24.35" stroke="#d8c282" stroke-width="0.6" />
<line x1="41.06" y1="24.71" x2="43.09" y2="25.82" stroke="#d8c282" stroke-width="0.6" />
<line x1="39.64" y1="30.06" x2="41.70" y2="31.20" stroke="#d8c282" stroke-width="0.6" />
<line x1="63.43" y1="20.27" x2="65.06" y2="20.71" stroke="#8a7030" stroke-width="0.6" />
<line x1="63.46" y1="45.02" x2="64.97" y2="45.94" stroke="#8a7030" stroke-width="0.6" />
<line x1="46.15" y1="34.59" x2="43.91" y2="36.87" stroke="#d8c282" stroke-width="0.6" />
<line x1="53.65" y1="21.29" x2="54.95" y2="22.85" stroke="#e2d09a" stroke-width="0.6" />
<line x1="51.69" y1="17.97" x2="53.11" y2="19.37" stroke="#c8ae68" stroke-width="0.6" />
<line x1="30.22" y1="42.76" x2="31.58" y2="43.67" stroke="#e2d09a" stroke-width="0.6" />
<line x1="63.65" y1="28.76" x2="65.97" y2="30.83" stroke="#8a7030" stroke-width="0.6" />
<line x1="63.57" y1="14.58" x2="63.82" y2="17.71" stroke="#8a7030" stroke-width="0.6" />
<line x1="59.98" y1="12.41" x2="61.03" y2="13.80" stroke="#c8ae68" stroke-width="0.6" />
<line x1="45.22" y1="39.98" x2="46.58" y2="40.92" stroke="#c8ae68" stroke-width="0.6" />
<line x1="38.11" y1="20.10" x2="35.51" y2="22.28" stroke="#d8c282" stroke-width="0.6" />
<line x1="46.96" y1="35.84" x2="47.68" y2="37.24" stroke="#e2d09a" stroke-width="0.6" />
<line x1="23.64" y1="18.14" x2="25.52" y2="20.08" stroke="#c8ae68" stroke-width="0.6" />
<line x1="55.29" y1="39.66" x2="55.93" y2="41.81" stroke="#e2d09a" stroke-width="0.6" />
<line x1="20.66" y1="12.10" x2="20.70" y2="14.57" stroke="#8a7030" stroke-width="0.6" />
<line x1="21.77" y1="24.84" x2="21.33" y2="27.58" stroke="#d8c282" stroke-width="0.6" />
<line x1="47.69" y1="24.92" x2="49.98" y2="27.54" stroke="#e2d09a" stroke-width="0.6" />
<line x1="36.64" y1="12.80" x2="34.36" y2="15.14" stroke="#8a7030" stroke-width="0.6" />
<line x1="36.57" y1="41.25" x2="34.35" y2="41.27" stroke="#c8ae68" stroke-width="0.6" />
<line x1="35.36" y1="25.17" x2="33.04" y2="25.60" stroke="#c8ae68" stroke-width="0.6" />
<line x1="36.92" y1="39.71" x2="37.86" y2="42.84" stroke="#8a7030" stroke-width="0.6" />
<line x1="53.33" y1="15.55" x2="55.10" y2="15.84" stroke="#8a7030" stroke-width="0.6" />
<line x1="21.18" y1="32.78" x2="22.17" y2="35.08" stroke="#c8ae68" stroke-width="0.6" />
<line x1="33.35" y1="16.66" x2="34.76" y2="17.50" stroke="#8a7030" stroke-width="0.6" />
<line x1="40.05" y1="39.17" x2="38.17" y2="39.37" stroke="#c8ae68" stroke-width="0.6" />
<line x1="56.35" y1="12.52" x2="54.30" y2="13.10" stroke="#8a7030" stroke-width="0.6" />
<line x1="21.06" y1="35.93" x2="19.23" y2="38.66" stroke="#c8ae68" stroke-width="0.6" />
<line x1="46.19" y1="32.52" x2="48.19" y2="33.93" stroke="#c8ae68" stroke-width="0.6" />
<line x1="18.96" y1="43.85" x2="20.92" y2="44.90" stroke="#c8ae68" stroke-width="0.6" />
<line x1="28.61" y1="36.37" x2="27.11" y2="36.87" stroke="#d8c282" stroke-width="0.6" />
<line x1="48.39" y1="22.35" x2="49.21" y2="24.62" stroke="#e2d09a" stroke-width="0.6" />
<line x1="47.50" y1="21.79" x2="49.12" y2="23.39" stroke="#e2d09a" stroke-width="0.6" />
<line x1="38.00" y1="26.34" x2="40.73" y2="26.54" stroke="#8a7030" stroke-width="0.6" />
<line x1="38.87" y1="26.64" x2="37.73" y2="29.56" stroke="#c8ae68" stroke-width="0.6" />
<line x1="55.09" y1="25.01" x2="57.26" y2="25.48" stroke="#e2d09a" stroke-width="0.6" />
<line x1="21.31" y1="26.47" x2="21.26" y2="28.05" stroke="#c8ae68" stroke-width="0.6" />
<line x1="20.87" y1="36.67" x2="18.93" y2="38.29" stroke="#d8c282" stroke-width="0.6" />
<line x1="52.35" y1="42.32" x2="50.93" y2="45.04" stroke="#d8c282" stroke-width="0.6" />
<line x1="34.35" y1="18.35" x2="31.65" y2="19.65" stroke="#e06a3c" stroke-width="1.2" />
<line x1="33.55" y1="18.21" x2="32.45" y2="19.79" stroke="#e8784a" stroke-width="1.2" />
<line x1="34.19" y1="18.93" x2="31.81" y2="19.07" stroke="#e8784a" stroke-width="1.2" />
<line x1="38.74" y1="22.89" x2="37.26" y2="25.11" stroke="#e8784a" stroke-width="1.2" />
<line x1="36.91" y1="23.77" x2="39.09" y2="24.23" stroke="#ea8050" stroke-width="1.2" />
<line x1="36.74" y1="23.31" x2="39.26" y2="24.69" stroke="#ea8050" stroke-width="1.2" />
<line x1="47.12" y1="19.66" x2="44.88" y2="20.34" stroke="#ea8050" stroke-width="1.2" />
<line x1="46.01" y1="18.55" x2="45.99" y2="21.45" stroke="#e8784a" stroke-width="1.2" />
<line x1="46.36" y1="18.78" x2="45.64" y2="21.22" stroke="#e8784a" stroke-width="1.2" />
<line x1="27.50" y1="26.22" x2="28.50" y2="27.78" stroke="#e8784a" stroke-width="1.2" />
<line x1="27.62" y1="25.78" x2="28.38" y2="28.22" stroke="#ea8050" stroke-width="1.2" />
<line x1="28.77" y1="25.79" x2="27.23" y2="28.21" stroke="#e8784a" stroke-width="1.2" />
<line x1="44.84" y1="26.36" x2="43.16" y2="27.64" stroke="#e06a3c" stroke-width="1.2" />
<line x1="42.60" y1="26.78" x2="45.40" y2="27.22" stroke="#ea8050" stroke-width="1.2" />
<line x1="44.22" y1="25.77" x2="43.78" y2="28.23" stroke="#e8784a" stroke-width="1.2" />
<line x1="30.14" y1="32.13" x2="31.86" y2="33.87" stroke="#ea8050" stroke-width="1.2" />
<line x1="31.76" y1="32.18" x2="30.24" y2="33.82" stroke="#ea8050" stroke-width="1.2" />
<line x1="32.25" y1="32.96" x2="29.75" y2="33.04" stroke="#ea8050" stroke-width="1.2" />
<line x1="39.52" y1="33.18" x2="40.48" y2="34.82" stroke="#e8784a" stroke-width="1.2" />
<line x1="38.86" y1="33.29" x2="41.14" y2="34.71" stroke="#e8784a" stroke-width="1.2" />
<line x1="39.28" y1="33.03" x2="40.72" y2="34.97" stroke="#ea8050" stroke-width="1.2" />
<line x1="50.63" y1="32.65" x2="49.37" y2="35.35" stroke="#e06a3c" stroke-width="1.2" />
<line x1="51.40" y1="33.68" x2="48.60" y2="34.32" stroke="#e06a3c" stroke-width="1.2" />
<line x1="49.08" y1="33.99" x2="50.92" y2="34.01" stroke="#e8784a" stroke-width="1.2" />
<line x1="34.22" y1="39.99" x2="35.78" y2="42.01" stroke="#ea8050" stroke-width="1.2" />
<line x1="35.06" y1="39.56" x2="34.94" y2="42.44" stroke="#e8784a" stroke-width="1.2" />
<line x1="34.95" y1="39.73" x2="35.05" y2="42.27" stroke="#e8784a" stroke-width="1.2" />
<line x1="23.10" y1="23.94" x2="24.90" y2="24.06" stroke="#ea8050" stroke-width="1.2" />
<line x1="23.30" y1="23.01" x2="24.70" y2="24.99" stroke="#e06a3c" stroke-width="1.2" />
<line x1="23.05" y1="23.19" x2="24.95" y2="24.81" stroke="#e06a3c" stroke-width="1.2" />
<line x1="52.98" y1="25.54" x2="55.02" y2="26.46" stroke="#ea8050" stroke-width="1.2" />
<line x1="53.20" y1="25.57" x2="54.80" y2="26.43" stroke="#e8784a" stroke-width="1.2" />
<line x1="54.71" y1="25.07" x2="53.29" y2="26.93" stroke="#e8784a" stroke-width="1.2" />
<circle cx="46.80" cy="40.01" r="0.50" fill="#5e9a2a" />
<circle cx="52.85" cy="25.46" r="0.50" fill="#5e9a2a" />
<circle cx="31.10" cy="13.36" r="0.50" fill="#5e9a2a" />
<circle cx="47.09" cy="30.43" r="0.50" fill="#5e9a2a" />
<circle cx="34.71" cy="33.01" r="0.50" fill="#5e9a2a" />
<circle cx="38.64" cy="42.05" r="0.50" fill="#5e9a2a" />
<circle cx="50.81" cy="20.70" r="0.50" fill="#5e9a2a" />
<circle cx="57.95" cy="14.36" r="0.50" fill="#5e9a2a" />
<circle cx="42.32" cy="25.59" r="0.50" fill="#5e9a2a" />
<circle cx="29.98" cy="14.81" r="0.50" fill="#5e9a2a" />
<circle cx="52.71" cy="13.38" r="0.50" fill="#5e9a2a" />
<circle cx="43.14" cy="42.17" r="0.50" fill="#5e9a2a" />
<circle cx="25.98" cy="19.19" r="0.50" fill="#5e9a2a" />
<circle cx="45.54" cy="28.72" r="0.50" fill="#5e9a2a" />
<circle cx="46.95" cy="38.21" r="0.50" fill="#5e9a2a" />
<circle cx="27.33" cy="22.59" r="0.50" fill="#5e9a2a" />
</g>
<text x="40.10" y="57.90" font-size="7.2" font-weight="bold" text-anchor="middle" textLength="29.30" lengthAdjust="spacingAndGlyphs" >Seeding</text>
<defs><linearGradient id="mbar" x1="0" y1="0" x2="0" y2="1"><stop offset="0" stop-color="#f4f5fa"/><stop offset="0.07" stop-color="#dde2ef"/><stop offset="0.18" stop-color="#aab4d7"/><stop offset="0.36" stop-color="#8e9bc8"/><stop offset="1" stop-color="#7f8dc0"/></linearGradient><linearGradient id="sarr" x1="0" y1="0" x2="0" y2="1"><stop offset="0" stop-color="#ffffff"/><stop offset="1" stop-color="#b6c6dc"/></linearGradient></defs>
<rect x="75.20" y="6.50" width="3.60" height="291.00" fill="url(#mbar)" />
<path d="M70,296.2 L83.2,296.2 L76.6,307.9 Z" fill="#7f8dc0" />
<circle cx="77.00" cy="73.00" r="12.10" fill="#fbeaec" stroke="#e3d5a9" stroke-width="1.1" />
<circle cx="76.40" cy="222.30" r="12.10" fill="#fbeaec" stroke="#e3d5a9" stroke-width="1.1" />
<path d="M28.2,95.3 Q31,97.5 33.4,98.8 Q35.5,98.5 37.2,97.1 Q38.3,99.3 39.9,100.6 Q43,101.8 45.1,102 Q49,100.8 52.4,99.7 Q50,101.8 47.4,103.2 Q45.6,104 44.8,105.5 Q44.2,108 43.4,110.2 Q41.8,113 39.9,115.4 Q38.8,117 38.1,118.4 Q37.6,121 37.5,123.3 Q36.6,121.3 35.5,119.8 Q33.3,119.4 31.1,119.5 Q32.6,117.5 33.7,115.4 Q34.3,112.8 34.6,110.2 Q34.6,107.8 34.3,105.5 Q33.8,103 32.8,100.8 Q30.6,98 28.2,95.3 Z" fill="#df7f4a" />
<ellipse cx="39.9" cy="107.9" rx="2.6" ry="3.1" fill="#c85a1a"/>
<rect x="36.30" y="130.00" width="1.60" height="35.00" fill="url(#sarr)" />
<path d="M32,164 L42,164 L37.1,174 Z" fill="#b7c7dc" />
<ellipse cx="38.2" cy="196.8" rx="10.2" ry="11" fill="#b6bbe8"/>
<circle cx="38.60" cy="195.80" r="6.60" fill="#9c95d9" />
<text x="63.10" y="154.00" font-size="7.1" font-weight="bold" text-anchor="middle" textLength="98.00" lengthAdjust="spacingAndGlyphs" transform="rotate(-90 63.10 154.00)" >Chondrogenic differentiation</text>
<path d="M22.5,242 L29,240 L44,240 L44,260 L27,260 L22.5,257 Z" fill="#d4d4d4" />
<rect x="26.50" y="247.00" width="17.50" height="13.00" fill="#4a4a4a" />
<rect x="31.00" y="240.30" width="9.50" height="6.00" fill="#cfe6f0" stroke="#555" stroke-width="0.6" />
<path d="M22.5,242 L26.5,247 L26.5,260 L22.5,257 Z" fill="#bdbdbd" />
<rect x="43.80" y="240.80" width="23.00" height="13.50" fill="#ffffff" stroke="#333" stroke-width="0.9" />
<path d="M46,252 L66,252" fill="none" stroke="#888" stroke-width="0.4" />
<path d="M48,243 q1,1 0,2 q-1,1 0,2 q1,1 0,2 q-1,1 0,2" fill="none" stroke="#5ab2e0" stroke-width="0.6" />
<path d="M50,243 q1,1 0,2 q-1,1 0,2 q1,1 0,2 q-1,1 0,2" fill="none" stroke="#5ab2e0" stroke-width="0.6" />
<path d="M57,243 q1,1 0,2 q-1,1 0,2 q1,1 0,2 q-1,1 0,2" fill="none" stroke="#5ab2e0" stroke-width="0.6" />
<path d="M59,243 q1,1 0,2 q-1,1 0,2 q1,1 0,2 q-1,1 0,2" fill="none" stroke="#5ab2e0" stroke-width="0.6" />
<rect x="46.80" y="250.20" width="5.50" height="2.70" fill="#dba2c6" />
<rect x="57.00" y="250.20" width="5.80" height="2.70" fill="#dba2c6" />
<rect x="53.80" y="254.30" width="1.40" height="4.20" fill="#444" />
<rect x="50.50" y="258.30" width="8.00" height="1.20" fill="#444" />
<text x="43.20" y="271.40" font-size="7.08" font-weight="bold" text-anchor="middle" textLength="57.20" lengthAdjust="spacingAndGlyphs" >RNA Sequencing</text>
<text x="42.70" y="280.20" font-size="7.07" font-weight="bold" text-anchor="middle" textLength="59.30" lengthAdjust="spacingAndGlyphs" >qPCR Verification</text>
<text x="96.00" y="12.50" font-size="11.8" font-weight="bold" >b1</text>
<text x="140.20" y="12.00" font-size="7.72" font-weight="bold" textLength="90.80" lengthAdjust="spacingAndGlyphs" >DSPG vs SPG_KEGG UP</text>
<line x1="167.70" y1="35.55" x2="222.50" y2="35.55" stroke="#ececec" stroke-width="0.5" />
<line x1="165.70" y1="35.55" x2="167.70" y2="35.55" stroke="#333" stroke-width="0.6" />
<line x1="167.70" y1="49.85" x2="222.50" y2="49.85" stroke="#ececec" stroke-width="0.5" />
<line x1="165.70" y1="49.85" x2="167.70" y2="49.85" stroke="#333" stroke-width="0.6" />
<line x1="167.70" y1="64.15" x2="222.50" y2="64.15" stroke="#ececec" stroke-width="0.5" />
<line x1="165.70" y1="64.15" x2="167.70" y2="64.15" stroke="#333" stroke-width="0.6" />
<line x1="167.70" y1="78.45" x2="222.50" y2="78.45" stroke="#ececec" stroke-width="0.5" />
<line x1="165.70" y1="78.45" x2="167.70" y2="78.45" stroke="#333" stroke-width="0.6" />
<line x1="167.70" y1="92.75" x2="222.50" y2="92.75" stroke="#ececec" stroke-width="0.5" />
<line x1="165.70" y1="92.75" x2="167.70" y2="92.75" stroke="#333" stroke-width="0.6" />
<line x1="167.70" y1="107.05" x2="222.50" y2="107.05" stroke="#ececec" stroke-width="0.5" />
<line x1="165.70" y1="107.05" x2="167.70" y2="107.05" stroke="#333" stroke-width="0.6" />
<line x1="167.70" y1="121.35" x2="222.50" y2="121.35" stroke="#ececec" stroke-width="0.5" />
<line x1="165.70" y1="121.35" x2="167.70" y2="121.35" stroke="#333" stroke-width="0.6" />
<line x1="167.70" y1="135.65" x2="222.50" y2="135.65" stroke="#ececec" stroke-width="0.5" />
<line x1="165.70" y1="135.65" x2="167.70" y2="135.65" stroke="#333" stroke-width="0.6" />
<rect x="167.70" y="18.70" width="54.80" height="131.50" fill="none" stroke="#3a3a3a" stroke-width="0.8" />
<circle cx="201.00" cy="28.40" r="2.80" fill="#b6d8e2" />
<circle cx="194.20" cy="42.70" r="2.20" fill="#e8aaa8" />
<circle cx="184.20" cy="57.00" r="1.20" fill="#e8a0a0" />
<circle cx="214.50" cy="71.30" r="3.40" fill="#eaaeae" />
<circle cx="180.70" cy="85.60" r="0.55" fill="#e8a0a0" />
<circle cx="180.70" cy="99.90" r="0.55" fill="#e8a0a0" />
<circle cx="207.80" cy="114.20" r="3.00" fill="#eaa6a4" />
<circle cx="204.30" cy="128.50" r="3.00" fill="#eaa6a4" />
<circle cx="204.30" cy="142.80" r="3.00" fill="#eaa6a4" />
<text x="163.00" y="30.00" font-size="4.3" fill="#f0a088" text-anchor="end" textLength="53.00" lengthAdjust="spacingAndGlyphs" >S4: MAPK signaling pathway</text>
<text x="163.00" y="44.30" font-size="4.3" fill="#222" text-anchor="end" textLength="27.00" lengthAdjust="spacingAndGlyphs" >Motor proteins</text>
<text x="163.00" y="58.60" font-size="4.3" fill="#222" text-anchor="end" textLength="45.00" lengthAdjust="spacingAndGlyphs" >Cell adhesion molecules</text>
<text x="163.00" y="72.90" font-size="4.3" fill="#6f7fb2" text-anchor="end" textLength="57.70" lengthAdjust="spacingAndGlyphs" >S3: PI3K-Akt signaling pathway</text>
<text x="163.00" y="87.20" font-size="4.3" fill="#222" text-anchor="end" textLength="46.00" lengthAdjust="spacingAndGlyphs" >ECM-receptor interaction</text>
<text x="163.00" y="101.50" font-size="4.3" fill="#222" text-anchor="end" textLength="45.00" lengthAdjust="spacingAndGlyphs" >PPAR signaling pathway</text>
<rect x="105.50" y="111.90" width="58.00" height="4.40" fill="#86d3e3" />
<text x="163.00" y="115.80" font-size="4.3" fill="#333" text-anchor="end" textLength="57.00" lengthAdjust="spacingAndGlyphs" >S1: Calcium signaling pathway</text>
<text x="163.00" y="130.10" font-size="4.3" fill="#a2aad4" text-anchor="end" textLength="51.00" lengthAdjust="spacingAndGlyphs" >S5: Rap1 signaling pathway</text>
<text x="161.00" y="144.40" font-size="4.3" fill="#94d6bd" text-anchor="end" textLength="23.60" lengthAdjust="spacingAndGlyphs" >S6:Cell cycle</text>
<circle cx="231.60" cy="38.20" r="2.90" fill="#111" />
<text x="236.60" y="39.70" font-size="4.2" >19</text>
<circle cx="231.60" cy="44.00" r="1.60" fill="#111" />
<text x="236.60" y="45.50" font-size="4.2" >13</text>
<circle cx="231.60" cy="47.60" r="0.35" fill="#111" />
<text x="236.60" y="49.10" font-size="4.2" >6</text>
<defs><linearGradient id="cb65" x1="0" y1="0" x2="0" y2="1"><stop offset="0" stop-color="#e8786e"/><stop offset="0.3" stop-color="#a9d3df"/><stop offset="0.45" stop-color="#55c0c9"/><stop offset="0.65" stop-color="#3da89e"/><stop offset="1" stop-color="#6a82b4"/></linearGradient></defs>
<rect x="229.00" y="65.00" width="3.10" height="59.50" fill="url(#cb65)" />
<text x="228.00" y="62.40" font-size="3.6" >qvalue</text>
<text x="234.60" y="67.30" font-size="3.6" >0.00</text>
<text x="234.60" y="81.67" font-size="3.6" >0.03</text>
<text x="234.60" y="96.05" font-size="3.6" >0.05</text>
<text x="234.60" y="110.42" font-size="3.6" >0.07</text>
<text x="234.60" y="124.80" font-size="3.6" >0.10</text>
<line x1="181.30" y1="150.20" x2="181.30" y2="152.20" stroke="#333" stroke-width="0.6" />
<line x1="195.40" y1="150.20" x2="195.40" y2="152.20" stroke="#333" stroke-width="0.6" />
<line x1="209.30" y1="150.20" x2="209.30" y2="152.20" stroke="#333" stroke-width="0.6" />
<text x="91.60" y="167.30" font-size="11.8" font-weight="bold" >b2</text>
<text x="124.60" y="166.20" font-size="7.72" font-weight="bold" textLength="131.80" lengthAdjust="spacingAndGlyphs" >DSPG@Pep vs DSPG_KEGG DOWN</text>
<line x1="168.80" y1="193.50" x2="224.30" y2="193.50" stroke="#ececec" stroke-width="0.5" />
<line x1="166.80" y1="193.50" x2="168.80" y2="193.50" stroke="#333" stroke-width="0.6" />
<line x1="168.80" y1="206.50" x2="224.30" y2="206.50" stroke="#ececec" stroke-width="0.5" />
<line x1="166.80" y1="206.50" x2="168.80" y2="206.50" stroke="#333" stroke-width="0.6" />
<line x1="168.80" y1="219.50" x2="224.30" y2="219.50" stroke="#ececec" stroke-width="0.5" />
<line x1="166.80" y1="219.50" x2="168.80" y2="219.50" stroke="#333" stroke-width="0.6" />
<line x1="168.80" y1="232.50" x2="224.30" y2="232.50" stroke="#ececec" stroke-width="0.5" />
<line x1="166.80" y1="232.50" x2="168.80" y2="232.50" stroke="#333" stroke-width="0.6" />
<line x1="168.80" y1="245.50" x2="224.30" y2="245.50" stroke="#ececec" stroke-width="0.5" />
<line x1="166.80" y1="245.50" x2="168.80" y2="245.50" stroke="#333" stroke-width="0.6" />
<line x1="168.80" y1="258.50" x2="224.30" y2="258.50" stroke="#ececec" stroke-width="0.5" />
<line x1="166.80" y1="258.50" x2="168.80" y2="258.50" stroke="#333" stroke-width="0.6" />
<line x1="168.80" y1="271.50" x2="224.30" y2="271.50" stroke="#ececec" stroke-width="0.5" />
<line x1="166.80" y1="271.50" x2="168.80" y2="271.50" stroke="#333" stroke-width="0.6" />
<line x1="168.80" y1="284.50" x2="224.30" y2="284.50" stroke="#ececec" stroke-width="0.5" />
<line x1="166.80" y1="284.50" x2="168.80" y2="284.50" stroke="#333" stroke-width="0.6" />
<line x1="168.80" y1="297.50" x2="224.30" y2="297.50" stroke="#ececec" stroke-width="0.5" />
<line x1="166.80" y1="297.50" x2="168.80" y2="297.50" stroke="#333" stroke-width="0.6" />
<rect x="168.80" y="177.70" width="55.50" height="132.30" fill="none" stroke="#3a3a3a" stroke-width="0.8" />
<circle cx="209.70" cy="187.00" r="3.00" fill="#94d2d2" />
<circle cx="209.70" cy="200.00" r="3.00" fill="#8ecfca" />
<circle cx="178.20" cy="213.00" r="0.60" fill="#8ecfca" />
<circle cx="191.60" cy="226.00" r="2.00" fill="#80c8c0" />
<circle cx="205.30" cy="239.00" r="3.00" fill="#94d0d4" />
<circle cx="209.70" cy="252.00" r="3.00" fill="#a0d6da" />
<circle cx="201.00" cy="265.00" r="3.00" fill="#a8d8e0" />
<circle cx="209.70" cy="278.00" r="3.00" fill="#b4dde8" />
<circle cx="209.70" cy="291.00" r="3.00" fill="#b8dde8" />
<circle cx="214.70" cy="304.00" r="3.30" fill="#ea9090" />
<text x="162.70" y="185.80" font-size="4.3" fill="#222" text-anchor="end" textLength="51.10" lengthAdjust="spacingAndGlyphs" >Neuroactive ligand-receptor</text>
<text x="162.70" y="190.00" font-size="4.3" fill="#222" text-anchor="end" textLength="19.40" lengthAdjust="spacingAndGlyphs" >interaction</text>
<rect x="105.50" y="199.10" width="57.70" height="4.40" fill="#86d3e3" />
<text x="162.70" y="203.00" font-size="4.3" fill="#333" text-anchor="end" textLength="56.70" lengthAdjust="spacingAndGlyphs" >S1: Calcium signaling pathway</text>
<text x="161.80" y="213.80" font-size="4.3" fill="#222" text-anchor="end" textLength="38.50" lengthAdjust="spacingAndGlyphs" >Nitrogen metabolism</text>
<text x="162.70" y="225.50" font-size="4.3" fill="#222" text-anchor="end" textLength="46.00" lengthAdjust="spacingAndGlyphs" >ECM-receptor interaction</text>
<text x="162.00" y="238.90" font-size="4.3" fill="#a8dccb" text-anchor="end" textLength="24.60" lengthAdjust="spacingAndGlyphs" >S6: Cell cycle</text>
<text x="162.40" y="252.60" font-size="4.3" fill="#b09080" text-anchor="end" textLength="34.40" lengthAdjust="spacingAndGlyphs" >S4: Focal adhesion</text>
<text x="162.40" y="260.20" font-size="4.3" fill="#30a890" text-anchor="end" textLength="33.00" lengthAdjust="spacingAndGlyphs" >S2: Phospholipase D</text>
<text x="162.40" y="265.20" font-size="4.3" fill="#30a890" text-anchor="end" textLength="31.50" lengthAdjust="spacingAndGlyphs" >Signaling pathway</text>
<text x="162.40" y="276.00" font-size="4.3" fill="#a2aad4" text-anchor="end" textLength="50.50" lengthAdjust="spacingAndGlyphs" >S5: Rap1 signaling pathway</text>
<text x="162.40" y="285.90" font-size="4.3" fill="#222" text-anchor="end" textLength="50.50" lengthAdjust="spacingAndGlyphs" >Cytokine-cytokine receptor</text>
<text x="162.40" y="290.60" font-size="4.3" fill="#222" text-anchor="end" textLength="19.80" lengthAdjust="spacingAndGlyphs" >interaction</text>
<text x="162.40" y="299.00" font-size="4.3" fill="#222" text-anchor="end" textLength="60.10" lengthAdjust="spacingAndGlyphs" >Protein digestion and absorption</text>
<circle cx="232.90" cy="197.30" r="2.90" fill="#111" />
<text x="237.90" y="198.80" font-size="4.2" >10</text>
<circle cx="232.90" cy="203.20" r="1.40" fill="#111" />
<text x="237.90" y="204.70" font-size="4.2" >6</text>
<circle cx="232.90" cy="206.80" r="0.35" fill="#111" />
<text x="237.90" y="208.30" font-size="4.2" >2</text>
<defs><linearGradient id="cb224" x1="0" y1="0" x2="0" y2="1"><stop offset="0" stop-color="#e8786e"/><stop offset="0.3" stop-color="#a9d3df"/><stop offset="0.45" stop-color="#55c0c9"/><stop offset="0.65" stop-color="#3da89e"/><stop offset="1" stop-color="#6a82b4"/></linearGradient></defs>
<rect x="230.00" y="224.50" width="3.60" height="59.80" fill="url(#cb224)" />
<text x="229.00" y="221.90" font-size="3.6" >qvalue</text>
<text x="236.10" y="226.80" font-size="3.6" >0.00</text>
<text x="236.10" y="241.25" font-size="3.6" >0.03</text>
<text x="236.10" y="255.70" font-size="3.6" >0.05</text>
<text x="236.10" y="270.15" font-size="3.6" >0.07</text>
<text x="236.10" y="284.60" font-size="3.6" >0.10</text>
<line x1="188.60" y1="310.00" x2="188.60" y2="312.00" stroke="#333" stroke-width="0.6" />
<line x1="206.00" y1="310.00" x2="206.00" y2="312.00" stroke="#333" stroke-width="0.6" />
<line x1="223.00" y1="310.00" x2="223.00" y2="312.00" stroke="#333" stroke-width="0.6" />
<text x="291.20" y="13.90" font-size="11.8" font-weight="bold" >c1</text>
<text x="366.90" y="14.20" font-size="7.72" font-weight="bold" textLength="80.20" lengthAdjust="spacingAndGlyphs" >DSPG vs SPG_GO UP</text>
<text x="393.40" y="34.00" font-size="4.73" font-weight="bold" fill="#111" text-anchor="end" >positive regulation of cell cycle process</text>
<rect x="395.60" y="30.60" width="38.10" height="3.40" fill="#b9b9f7" />
<text x="393.40" y="38.92" font-size="4.73" font-weight="bold" fill="#111" text-anchor="end" >cell morphogenesis</text>
<rect x="395.60" y="35.52" width="30.10" height="3.40" fill="#b9b9f7" />
<text x="393.40" y="43.84" font-size="4.73" font-weight="bold" fill="#111" text-anchor="end" >cell-cell adhesion via plasma-membrane adhesion molecules</text>
<rect x="395.60" y="40.44" width="29.60" height="3.40" fill="#b9b9f7" />
<text x="393.40" y="48.76" font-size="4.73" font-weight="bold" fill="#111" text-anchor="end" >cell-substrate adhesion</text>
<rect x="395.60" y="45.36" width="26.10" height="3.40" fill="#b9b9f7" />
<rect x="366.00" y="50.08" width="29.00" height="3.80" fill="#e6e6fd" stroke="#d6d6f8" stroke-width="0.4" />
<text x="393.40" y="53.68" font-size="4.73" font-weight="bold" fill="#111" text-anchor="end" >ossification</text>
<rect x="395.60" y="50.28" width="20.30" height="3.40" fill="#b9b9f7" />
<text x="393.40" y="58.60" font-size="4.73" font-weight="bold" fill="#111" text-anchor="end" >cell-matrix adhesion</text>
<rect x="395.60" y="55.20" width="18.60" height="3.40" fill="#b9b9f7" />
<text x="393.40" y="63.52" font-size="4.73" font-weight="bold" fill="#111" text-anchor="end" >regulation of ossification</text>
<rect x="395.60" y="60.12" width="18.20" height="3.40" fill="#b9b9f7" />
<rect x="348.00" y="64.84" width="47.00" height="3.80" fill="#e6e6fd" stroke="#d6d6f8" stroke-width="0.4" />
<text x="393.40" y="68.44" font-size="4.73" font-weight="bold" fill="#111" text-anchor="end" >bone mineralization</text>
<rect x="395.60" y="65.04" width="14.20" height="3.40" fill="#b9b9f7" />
<text x="393.40" y="73.36" font-size="4.73" font-weight="bold" fill="#111" text-anchor="end" >microtubule cytoskeleton organization</text>
<rect x="395.60" y="69.96" width="13.80" height="3.40" fill="#b9b9f7" />
<text x="393.40" y="78.28" font-size="4.73" font-weight="bold" fill="#111" text-anchor="end" >skeletal system development</text>
<rect x="395.60" y="74.88" width="13.80" height="3.40" fill="#b9b9f7" />
<text x="393.40" y="83.20" font-size="4.73" font-weight="bold" fill="#111" text-anchor="end" >extracellular matrix</text>
<rect x="395.60" y="79.80" width="97.30" height="3.40" fill="#f9b7b7" />
<text x="393.40" y="88.12" font-size="4.73" font-weight="bold" fill="#111" text-anchor="end" >cell surface</text>
<rect x="395.60" y="84.72" width="67.10" height="3.40" fill="#f9b7b7" />
<text x="393.40" y="93.04" font-size="4.73" font-weight="bold" fill="#111" text-anchor="end" >extracellular space</text>
<rect x="395.60" y="89.64" width="62.40" height="3.40" fill="#f9b7b7" />
<text x="393.40" y="97.96" font-size="4.73" font-weight="bold" fill="#111" text-anchor="end" >proteinaceous extracellular matrix</text>
<rect x="395.60" y="94.56" width="56.30" height="3.40" fill="#f9b7b7" />
<rect x="348.30" y="99.28" width="46.70" height="3.80" fill="#e2f6fc" stroke="#a6e2f2" stroke-width="0.5" />
<text x="393.40" y="102.88" font-size="4.73" font-weight="bold" fill="#111" text-anchor="end" >calcium ion binding</text>
<rect x="395.60" y="99.48" width="55.40" height="3.40" fill="#a9e8f7" />
<text x="393.40" y="107.80" font-size="4.73" font-weight="bold" fill="#111" text-anchor="end" >microtubule motor activity</text>
<rect x="395.60" y="104.40" width="28.60" height="3.40" fill="#a9e8f7" />
<text x="393.40" y="112.72" font-size="4.73" font-weight="bold" fill="#111" text-anchor="end" >glycosaminoglycan binding</text>
<rect x="395.60" y="109.32" width="25.40" height="3.40" fill="#a9e8f7" />
<text x="393.40" y="117.64" font-size="4.73" font-weight="bold" fill="#111" text-anchor="end" >heparin binding</text>
<rect x="395.60" y="114.24" width="22.20" height="3.40" fill="#a9e8f7" />
<text x="393.40" y="122.56" font-size="4.73" font-weight="bold" fill="#111" text-anchor="end" >voltage-gated potassium channel activity</text>
<rect x="395.60" y="119.16" width="16.30" height="3.40" fill="#a9e8f7" />
<rect x="309.80" y="123.88" width="85.20" height="3.80" fill="#ffffff" stroke="#a6e2f2" stroke-width="0.6" />
<text x="393.40" y="127.48" font-size="4.73" font-weight="bold" fill="#111" text-anchor="end" >voltage-gated cation channel activity</text>
<rect x="395.60" y="124.08" width="15.10" height="3.40" fill="#a9e8f7" />
<line x1="395.60" y1="27.60" x2="395.60" y2="129.10" stroke="#222" stroke-width="0.8" />
<line x1="395.60" y1="129.10" x2="497.10" y2="129.10" stroke="#222" stroke-width="0.8" />
<line x1="395.60" y1="129.10" x2="395.60" y2="130.90" stroke="#222" stroke-width="0.6" />
<text x="395.60" y="137.40" font-size="4.6" font-weight="bold" text-anchor="middle" >0</text>
<line x1="415.80" y1="129.10" x2="415.80" y2="130.90" stroke="#222" stroke-width="0.6" />
<text x="415.80" y="137.40" font-size="4.6" font-weight="bold" text-anchor="middle" >2</text>
<line x1="436.00" y1="129.10" x2="436.00" y2="130.90" stroke="#222" stroke-width="0.6" />
<text x="436.00" y="137.40" font-size="4.6" font-weight="bold" text-anchor="middle" >4</text>
<line x1="456.20" y1="129.10" x2="456.20" y2="130.90" stroke="#222" stroke-width="0.6" />
<text x="456.20" y="137.40" font-size="4.6" font-weight="bold" text-anchor="middle" >6</text>
<line x1="476.40" y1="129.10" x2="476.40" y2="130.90" stroke="#222" stroke-width="0.6" />
<text x="476.40" y="137.40" font-size="4.6" font-weight="bold" text-anchor="middle" >8</text>
<line x1="496.60" y1="129.10" x2="496.60" y2="130.90" stroke="#222" stroke-width="0.6" />
<text x="496.60" y="137.40" font-size="4.6" font-weight="bold" text-anchor="middle" >10</text>
<text x="455.90" y="55.10" font-size="8.8" fill="#c3c3f3" >MF</text>
<text x="470.70" y="93.00" font-size="8.8" fill="#f8bcbc" >BP</text>
<text x="457.80" y="116.40" font-size="8.8" fill="#a9e6f6" >CC</text>
<text x="446.40" y="146.20" font-size="4.6" font-weight="bold" text-anchor="middle" >-log10 (padj)</text>
<text x="293.10" y="171.00" font-size="11.8" font-weight="bold" >c2</text>
<text x="357.10" y="171.30" font-size="7.7" font-weight="bold" textLength="120.90" lengthAdjust="spacingAndGlyphs" >DSPG@Pep vs DSPG_GO DOWN</text>
<rect x="358.50" y="185.70" width="31.70" height="4.60" fill="#e6e6fd" stroke="#d6d6f8" stroke-width="0.4" />
<text x="388.60" y="189.89" font-size="5.25" font-weight="bold" fill="#111" text-anchor="end" >ossification</text>
<rect x="390.80" y="185.90" width="67.40" height="4.20" fill="#b9b9f7" />
<text x="388.60" y="196.80" font-size="5.25" font-weight="bold" fill="#111" text-anchor="end" >biomineral tissue development</text>
<rect x="390.80" y="192.81" width="34.40" height="4.20" fill="#b9b9f7" />
<rect x="337.50" y="199.52" width="52.70" height="4.60" fill="#e6e6fd" stroke="#d6d6f8" stroke-width="0.4" />
<text x="388.60" y="203.71" font-size="5.25" font-weight="bold" fill="#111" text-anchor="end" >bone mineralization</text>
<rect x="390.80" y="199.72" width="34.40" height="4.20" fill="#b9b9f7" />
<text x="388.60" y="210.62" font-size="5.25" font-weight="bold" fill="#111" text-anchor="end" >cellular potassium ion transport</text>
<rect x="390.80" y="206.63" width="23.90" height="4.20" fill="#b9b9f7" />
<text x="388.60" y="217.53" font-size="5.25" font-weight="bold" fill="#111" text-anchor="end" >potassium ion transmembrane transport</text>
<rect x="390.80" y="213.54" width="23.90" height="4.20" fill="#b9b9f7" />
<text x="388.60" y="224.44" font-size="5.25" font-weight="bold" fill="#111" text-anchor="end" >skeletal system development</text>
<rect x="390.80" y="220.45" width="23.90" height="4.20" fill="#b9b9f7" />
<text x="388.60" y="231.35" font-size="5.25" font-weight="bold" fill="#111" text-anchor="end" >extracellular matrix</text>
<rect x="390.80" y="227.36" width="98.30" height="4.20" fill="#f9b7b7" />
<text x="388.60" y="238.26" font-size="5.25" font-weight="bold" fill="#111" text-anchor="end" >extracellular space</text>
<rect x="390.80" y="234.27" width="42.10" height="4.20" fill="#f9b7b7" />
<text x="388.60" y="245.17" font-size="5.25" font-weight="bold" fill="#111" text-anchor="end" >voltage-gated potassium channel complex</text>
<rect x="390.80" y="241.18" width="34.90" height="4.20" fill="#f9b7b7" />
<text x="388.60" y="252.08" font-size="5.25" font-weight="bold" fill="#111" text-anchor="end" >potassium channel complex</text>
<rect x="390.80" y="248.09" width="34.20" height="4.20" fill="#f9b7b7" />
<rect x="337.00" y="254.80" width="53.20" height="4.60" fill="#e2f6fc" stroke="#a6e2f2" stroke-width="0.5" />
<text x="388.60" y="258.99" font-size="5.25" font-weight="bold" fill="#111" text-anchor="end" >calcium ion binding</text>
<rect x="390.80" y="255.00" width="57.90" height="4.20" fill="#a9e8f7" />
<text x="388.60" y="265.90" font-size="5.25" font-weight="bold" fill="#111" text-anchor="end" >transmembrane signaling receptor activity</text>
<rect x="390.80" y="261.91" width="42.90" height="4.20" fill="#a9e8f7" />
<text x="388.60" y="272.81" font-size="5.25" font-weight="bold" fill="#111" text-anchor="end" >voltage-gated potassium channel activity</text>
<rect x="390.80" y="268.82" width="42.90" height="4.20" fill="#a9e8f7" />
<text x="388.60" y="279.72" font-size="5.25" font-weight="bold" fill="#111" text-anchor="end" >potassium channel activity</text>
<rect x="390.80" y="275.73" width="42.30" height="4.20" fill="#a9e8f7" />
<text x="388.60" y="286.63" font-size="5.25" font-weight="bold" fill="#111" text-anchor="end" >potassium ion transmembrane transporter activity</text>
<rect x="390.80" y="282.64" width="34.40" height="4.20" fill="#a9e8f7" />
<rect x="295.50" y="289.35" width="94.70" height="4.60" fill="#ffffff" stroke="#a6e2f2" stroke-width="0.6" />
<text x="388.60" y="293.54" font-size="5.25" font-weight="bold" fill="#111" text-anchor="end" >voltage-gated cation channel activity</text>
<rect x="390.80" y="289.55" width="29.00" height="4.20" fill="#a9e8f7" />
<line x1="390.80" y1="183.00" x2="390.80" y2="296.20" stroke="#222" stroke-width="0.8" />
<line x1="390.80" y1="296.20" x2="503.70" y2="296.20" stroke="#222" stroke-width="0.8" />
<line x1="390.80" y1="296.20" x2="390.80" y2="298.00" stroke="#222" stroke-width="0.6" />
<text x="390.80" y="305.50" font-size="4.6" font-weight="bold" text-anchor="middle" >0</text>
<line x1="406.93" y1="296.20" x2="406.93" y2="298.00" stroke="#222" stroke-width="0.6" />
<text x="406.93" y="305.50" font-size="4.6" font-weight="bold" text-anchor="middle" >1</text>
<line x1="423.06" y1="296.20" x2="423.06" y2="298.00" stroke="#222" stroke-width="0.6" />
<text x="423.06" y="305.50" font-size="4.6" font-weight="bold" text-anchor="middle" >2</text>
<line x1="439.19" y1="296.20" x2="439.19" y2="298.00" stroke="#222" stroke-width="0.6" />
<text x="439.19" y="305.50" font-size="4.6" font-weight="bold" text-anchor="middle" >3</text>
<line x1="455.32" y1="296.20" x2="455.32" y2="298.00" stroke="#222" stroke-width="0.6" />
<text x="455.32" y="305.50" font-size="4.6" font-weight="bold" text-anchor="middle" >4</text>
<line x1="471.45" y1="296.20" x2="471.45" y2="298.00" stroke="#222" stroke-width="0.6" />
<text x="471.45" y="305.50" font-size="4.6" font-weight="bold" text-anchor="middle" >5</text>
<line x1="487.58" y1="296.20" x2="487.58" y2="298.00" stroke="#222" stroke-width="0.6" />
<text x="487.58" y="305.50" font-size="4.6" font-weight="bold" text-anchor="middle" >6</text>
<line x1="503.71" y1="296.20" x2="503.71" y2="298.00" stroke="#222" stroke-width="0.6" />
<text x="503.71" y="305.50" font-size="4.6" font-weight="bold" text-anchor="middle" >7</text>
<text x="455.50" y="209.80" font-size="8.8" fill="#c3c3f3" >MF</text>
<text x="469.60" y="244.00" font-size="8.8" fill="#f8bcbc" >BP</text>
<text x="456.30" y="272.70" font-size="8.8" fill="#a9e6f6" >CC</text>
<text x="448.30" y="314.30" font-size="4.6" font-weight="bold" text-anchor="middle" >-log10 (padj)</text>
<text x="498.20" y="12.80" font-size="11.8" font-weight="bold" >d</text>
<g opacity="1">
<path d="M593.2,132.9 A57.300000000000004,57.300000000000004 0 0 1 589.1,132.6 Q595.7,120.6 602.7,132.4 A57.300000000000004,57.300000000000004 0 0 1 598.7,132.8 Q595.8,122.8 593.2,132.9 Z" fill="#f27b6c" fill-opacity="0.45"/>
<path d="M589.1,132.6 A57.300000000000004,57.300000000000004 0 0 1 585.0,132.0 Q592.5,120.5 598.7,132.8 A57.300000000000004,57.300000000000004 0 0 1 594.7,132.9 Q592.5,122.7 589.1,132.6 Z" fill="#f27b6c" fill-opacity="0.45"/>
<path d="M585.0,132.0 A57.300000000000004,57.300000000000004 0 0 1 581.0,131.1 Q595.1,116.6 609.1,131.2 A57.300000000000004,57.300000000000004 0 0 1 603.7,132.3 Q594.5,119.2 585.0,132.0 Z" fill="#f27b6c" fill-opacity="0.45"/>
<path d="M581.0,131.1 A57.300000000000004,57.300000000000004 0 0 1 577.0,129.9 Q595.9,113.7 615.3,129.3 A57.300000000000004,57.300000000000004 0 0 1 612.7,130.2 Q596.4,115.6 581.0,131.1 Z" fill="#c9b3e9" fill-opacity="0.45"/>
<path d="M577.0,129.9 A57.300000000000004,57.300000000000004 0 0 1 573.1,128.5 Q593.6,113.3 612.7,130.2 A57.300000000000004,57.300000000000004 0 0 1 610.0,130.9 Q594.0,115.2 577.0,129.9 Z" fill="#c9b3e9" fill-opacity="0.45"/>
<path d="M573.1,128.5 A57.300000000000004,57.300000000000004 0 0 1 569.4,126.7 Q597.0,108.1 626.4,123.7 A57.300000000000004,57.300000000000004 0 0 1 623.1,125.6 Q597.2,110.2 573.1,128.5 Z" fill="#a38b7b" fill-opacity="0.45"/>
<path d="M569.4,126.7 A57.300000000000004,57.300000000000004 0 0 1 565.7,124.7 Q594.7,108.0 623.1,125.6 A57.300000000000004,57.300000000000004 0 0 1 619.7,127.4 Q594.8,110.2 569.4,126.7 Z" fill="#a38b7b" fill-opacity="0.45"/>
<path d="M565.7,124.7 A57.300000000000004,57.300000000000004 0 0 1 562.3,122.5 Q592.5,107.8 619.7,127.4 A57.300000000000004,57.300000000000004 0 0 1 616.2,128.9 Q592.4,110.0 565.7,124.7 Z" fill="#a38b7b" fill-opacity="0.45"/>
<path d="M562.3,122.5 A57.300000000000004,57.300000000000004 0 0 1 559.0,120.0 Q597.7,99.8 639.6,111.8 A57.300000000000004,57.300000000000004 0 0 1 636.4,115.4 Q597.8,102.2 562.3,122.5 Z" fill="#e14a4c" fill-opacity="0.45"/>
<path d="M559.0,120.0 A57.300000000000004,57.300000000000004 0 0 1 555.9,117.3 Q600.2,88.2 652.4,79.0 A57.300000000000004,57.300000000000004 0 0 1 651.9,83.6 Q601.0,90.4 559.0,120.0 Z" fill="#a9ddd1" fill-opacity="0.45"/>
<path d="M555.9,117.3 A57.300000000000004,57.300000000000004 0 0 1 553.0,114.3 Q597.4,78.6 645.4,48.0 A57.300000000000004,57.300000000000004 0 0 1 646.7,50.5 Q598.5,80.1 555.9,117.3 Z" fill="#a9b1d8" fill-opacity="0.45"/>
<path d="M553.0,114.3 A57.300000000000004,57.300000000000004 0 0 1 550.3,111.2 Q595.1,75.5 639.9,39.7 A57.300000000000004,57.300000000000004 0 0 1 643.3,44.4 Q596.8,77.6 553.0,114.3 Z" fill="#f4ab96" fill-opacity="0.45"/>
<path d="M550.3,111.2 A57.300000000000004,57.300000000000004 0 0 1 547.8,107.9 Q589.5,70.5 621.7,24.8 A57.300000000000004,57.300000000000004 0 0 1 626.0,27.3 Q591.4,72.1 550.3,111.2 Z" fill="#6e7fb2" fill-opacity="0.45"/>
<path d="M547.8,107.9 A57.300000000000004,57.300000000000004 0 0 1 545.6,104.4 Q585.6,68.2 610.2,20.3 A57.300000000000004,57.300000000000004 0 0 1 614.8,21.8 Q587.6,69.7 547.8,107.9 Z" fill="#82d0e2" fill-opacity="0.45"/>
<path d="M545.6,104.4 A57.300000000000004,57.300000000000004 0 0 1 543.7,100.7 Q580.4,66.4 594.7,18.3 A57.300000000000004,57.300000000000004 0 0 1 599.2,18.4 Q582.4,67.6 545.6,104.4 Z" fill="#f27b6c" fill-opacity="0.45"/>
<path d="M542.9,98.9 A57.300000000000004,57.300000000000004 0 0 1 541.1,94.6 Q589.5,94.4 629.6,121.5 A57.300000000000004,57.300000000000004 0 0 1 626.4,123.7 Q589.0,96.6 542.9,98.9 Z" fill="#a38b7b" fill-opacity="0.45"/>
<path d="M541.1,94.6 A57.300000000000004,57.300000000000004 0 0 1 539.8,90.2 Q592.9,88.7 642.5,107.9 A57.300000000000004,57.300000000000004 0 0 1 639.6,111.8 Q592.5,91.2 541.1,94.6 Z" fill="#e14a4c" fill-opacity="0.45"/>
<path d="M539.8,90.2 A57.300000000000004,57.300000000000004 0 0 1 538.8,85.7 Q595.4,78.0 652.5,74.3 A57.300000000000004,57.300000000000004 0 0 1 652.4,79.0 Q595.7,80.5 539.8,90.2 Z" fill="#a9ddd1" fill-opacity="0.45"/>
<path d="M538.8,85.7 A57.300000000000004,57.300000000000004 0 0 1 538.2,81.1 Q590.7,66.0 636.1,35.4 A57.300000000000004,57.300000000000004 0 0 1 639.9,39.7 Q592.0,68.5 538.8,85.7 Z" fill="#f4ab96" fill-opacity="0.45"/>
<path d="M538.0,79.6 A57.300000000000004,57.300000000000004 0 0 1 537.9,75.2 Q593.8,82.0 647.3,99.4 A57.300000000000004,57.300000000000004 0 0 1 645.1,103.8 Q593.2,84.4 538.0,79.6 Z" fill="#e14a4c" fill-opacity="0.45"/>
<path d="M537.9,75.2 A57.300000000000004,57.300000000000004 0 0 1 538.1,70.8 Q593.2,82.0 645.1,103.8 A57.300000000000004,57.300000000000004 0 0 1 642.5,107.9 Q592.5,84.4 537.9,75.2 Z" fill="#e14a4c" fill-opacity="0.45"/>
<path d="M538.1,70.8 A57.300000000000004,57.300000000000004 0 0 1 538.6,66.4 Q595.3,71.5 652.2,69.7 A57.300000000000004,57.300000000000004 0 0 1 652.5,74.3 Q595.3,74.0 538.1,70.8 Z" fill="#a9ddd1" fill-opacity="0.45"/>
<path d="M538.6,66.4 A57.300000000000004,57.300000000000004 0 0 1 539.5,62.1 Q584.8,55.8 615.7,22.1 A57.300000000000004,57.300000000000004 0 0 1 620.8,24.3 Q586.2,58.1 538.6,66.4 Z" fill="#40b99c" fill-opacity="0.45"/>
<path d="M539.5,62.1 A57.300000000000004,57.300000000000004 0 0 1 540.7,57.9 Q581.7,52.9 605.5,19.2 A57.300000000000004,57.300000000000004 0 0 1 610.2,20.3 Q583.0,55.0 539.5,62.1 Z" fill="#82d0e2" fill-opacity="0.45"/>
<path d="M541.4,56.0 A57.300000000000004,57.300000000000004 0 0 1 543.2,51.6 Q595.7,74.3 649.1,94.9 A57.300000000000004,57.300000000000004 0 0 1 647.3,99.4 Q594.7,76.7 541.4,56.0 Z" fill="#e14a4c" fill-opacity="0.45"/>
<path d="M543.2,51.6 A57.300000000000004,57.300000000000004 0 0 1 545.3,47.4 Q596.7,63.6 650.5,60.6 A57.300000000000004,57.300000000000004 0 0 1 651.5,65.1 Q596.4,66.1 543.2,51.6 Z" fill="#a9ddd1" fill-opacity="0.45"/>
<path d="M545.3,47.4 A57.300000000000004,57.300000000000004 0 0 1 547.8,43.4 Q597.7,63.7 651.5,65.1 A57.300000000000004,57.300000000000004 0 0 1 652.2,69.7 Q597.2,66.2 545.3,47.4 Z" fill="#a9ddd1" fill-opacity="0.45"/>
<path d="M547.8,43.4 A57.300000000000004,57.300000000000004 0 0 1 550.7,39.5 Q596.4,56.6 644.1,45.7 A57.300000000000004,57.300000000000004 0 0 1 645.4,48.0 Q596.0,58.6 547.8,43.4 Z" fill="#a9b1d8" fill-opacity="0.45"/>
<path d="M552.0,38.0 A57.300000000000004,57.300000000000004 0 0 1 555.3,34.5 Q594.5,76.2 632.5,119.1 A57.300000000000004,57.300000000000004 0 0 1 629.6,121.5 Q592.8,77.8 552.0,38.0 Z" fill="#a38b7b" fill-opacity="0.45"/>
<path d="M555.3,34.5 A57.300000000000004,57.300000000000004 0 0 1 558.8,31.3 Q600.4,67.5 650.6,90.3 A57.300000000000004,57.300000000000004 0 0 1 649.1,94.9 Q599.0,69.7 555.3,34.5 Z" fill="#e14a4c" fill-opacity="0.45"/>
<path d="M558.8,31.3 A57.300000000000004,57.300000000000004 0 0 1 562.7,28.4 Q601.4,56.2 649.1,56.1 A57.300000000000004,57.300000000000004 0 0 1 650.5,60.6 Q600.6,58.6 558.8,31.3 Z" fill="#a9ddd1" fill-opacity="0.45"/>
<path d="M562.7,28.4 A57.300000000000004,57.300000000000004 0 0 1 566.7,25.9 Q597.8,45.8 631.8,31.5 A57.300000000000004,57.300000000000004 0 0 1 636.1,35.4 Q597.8,48.7 562.7,28.4 Z" fill="#f4ab96" fill-opacity="0.45"/>
<path d="M566.7,25.9 A57.300000000000004,57.300000000000004 0 0 1 571.0,23.7 Q588.3,35.7 600.7,18.6 A57.300000000000004,57.300000000000004 0 0 1 605.5,19.2 Q588.8,38.3 566.7,25.9 Z" fill="#82d0e2" fill-opacity="0.45"/>
<path d="M572.4,23.1 A57.300000000000004,57.300000000000004 0 0 1 576.5,21.4 Q605.4,51.9 647.3,51.8 A57.300000000000004,57.300000000000004 0 0 1 649.1,56.1 Q604.5,54.1 572.4,23.1 Z" fill="#a9ddd1" fill-opacity="0.45"/>
<path d="M577.5,21.1 A57.300000000000004,57.300000000000004 0 0 1 582.3,19.8 Q607.7,62.4 651.6,85.6 A57.300000000000004,57.300000000000004 0 0 1 650.6,90.3 Q605.8,64.4 577.5,21.1 Z" fill="#e14a4c" fill-opacity="0.45"/>
<path d="M582.8,19.7 A57.300000000000004,57.300000000000004 0 0 1 587.7,18.8 Q604.2,71.2 635.4,116.5 A57.300000000000004,57.300000000000004 0 0 1 632.5,119.1 Q602.0,72.2 582.8,19.7 Z" fill="#a38b7b" fill-opacity="0.45"/>
<path d="M588.7,18.7 A57.300000000000004,57.300000000000004 0 0 1 593.7,18.3 Q606.1,38.1 627.2,28.1 A57.300000000000004,57.300000000000004 0 0 1 631.8,31.5 Q605.6,40.9 588.7,18.7 Z" fill="#f4ab96" fill-opacity="0.45"/>
</g>
<path d="M592.84,143.26 A67.7,67.7 0 0 1 534.35,105.28 L543.43,100.85 A57.6,57.6 0 0 0 593.19,133.16 Z" fill="#82d0e2" />
<path d="M533.35,103.14 A67.7,67.7 0 0 1 527.81,82.09 L537.87,81.12 A57.6,57.6 0 0 0 542.58,99.03 Z" fill="#40b99c" />
<path d="M527.66,80.32 A67.7,67.7 0 0 1 530.81,54.68 L540.42,57.80 A57.6,57.6 0 0 0 537.74,79.62 Z" fill="#6e7fb2" />
<path d="M531.58,52.45 A67.7,67.7 0 0 1 542.59,33.00 L550.44,39.35 A57.6,57.6 0 0 0 541.07,55.90 Z" fill="#f4ab96" />
<path d="M544.11,31.18 A67.7,67.7 0 0 1 566.59,14.24 L570.86,23.40 A57.6,57.6 0 0 0 551.73,37.81 Z" fill="#a3abcf" />
<path d="M568.20,13.52 A67.7,67.7 0 0 1 573.16,11.59 L576.45,21.14 A57.6,57.6 0 0 0 572.23,22.78 Z" fill="#a9ddd1" />
<path d="M574.28,11.21 A67.7,67.7 0 0 1 579.97,9.64 L582.24,19.48 A57.6,57.6 0 0 0 577.40,20.82 Z" fill="#e14a4c" />
<path d="M580.55,9.50 A67.7,67.7 0 0 1 586.36,8.48 L587.68,18.49 A57.6,57.6 0 0 0 582.73,19.37 Z" fill="#a38b7b" />
<path d="M587.54,8.34 A67.7,67.7 0 0 1 593.43,7.92 L593.69,18.02 A57.6,57.6 0 0 0 588.68,18.37 Z" fill="#c9b3e9" />
<path d="M594.61,7.90 A67.7,67.7 0 0 1 599.92,8.06 L599.22,18.14 A57.6,57.6 0 0 0 594.70,18.00 Z" fill="#f27b6c" />
<path d="M601.69,8.21 A67.7,67.7 0 0 1 618.35,11.98 L614.90,21.47 A57.6,57.6 0 0 0 600.72,18.27 Z" fill="#82d0e2" />
<path d="M619.46,12.40 A67.7,67.7 0 0 1 625.41,15.01 L620.90,24.05 A57.6,57.6 0 0 0 615.84,21.83 Z" fill="#40b99c" />
<path d="M626.46,15.55 A67.7,67.7 0 0 1 631.58,18.50 L626.15,27.02 A57.6,57.6 0 0 0 621.80,24.51 Z" fill="#6e7fb2" />
<path d="M633.06,19.47 A67.7,67.7 0 0 1 651.98,38.73 L643.51,44.23 A57.6,57.6 0 0 0 627.41,27.85 Z" fill="#f4ab96" />
<path d="M652.92,40.23 A67.7,67.7 0 0 1 656.05,45.92 L646.97,50.35 A57.6,57.6 0 0 0 644.31,45.50 Z" fill="#a9b1d8" />
<path d="M656.80,47.53 A67.7,67.7 0 0 1 662.24,85.02 L652.24,83.62 A57.6,57.6 0 0 0 647.61,51.71 Z" fill="#a9ddd1" />
<path d="M661.87,87.36 A67.7,67.7 0 0 1 643.90,122.63 L636.63,115.61 A57.6,57.6 0 0 0 651.92,85.60 Z" fill="#e14a4c" />
<path d="M642.65,123.89 A67.7,67.7 0 0 1 620.01,138.59 L616.31,129.19 A57.6,57.6 0 0 0 635.57,116.68 Z" fill="#a38b7b" />
<path d="M618.91,139.01 A67.7,67.7 0 0 1 612.72,140.99 L610.11,131.24 A57.6,57.6 0 0 0 615.37,129.55 Z" fill="#c9b3e9" />
<path d="M611.58,141.29 A67.7,67.7 0 0 1 605.21,142.56 L603.71,132.57 A57.6,57.6 0 0 0 609.13,131.49 Z" fill="#f27b6c" />
<path d="M604.04,142.72 A67.7,67.7 0 0 1 594.61,143.30 L594.70,133.20 A57.6,57.6 0 0 0 602.72,132.71 Z" fill="#f27b6c" />
<text x="539.40" y="135.40" font-size="5.3" fill="#82d0e2" textLength="6.30" lengthAdjust="spacingAndGlyphs" >S1</text>
<text x="519.00" y="100.40" font-size="5.3" fill="#5ab8d8" textLength="6.30" lengthAdjust="spacingAndGlyphs" >S2</text>
<text x="515.60" y="73.30" font-size="5.3" fill="#6e7fb2" textLength="6.30" lengthAdjust="spacingAndGlyphs" >S3</text>
<text x="524.80" y="40.90" font-size="5.3" fill="#f4ab96" textLength="6.30" lengthAdjust="spacingAndGlyphs" >S4</text>
<text x="540.70" y="21.20" font-size="5.3" fill="#8f98c4" textLength="6.30" lengthAdjust="spacingAndGlyphs" >S5</text>
<text x="558.00" y="11.50" font-size="5.3" fill="#a9ddd1" textLength="6.30" lengthAdjust="spacingAndGlyphs" >S6</text>
<text x="568.00" y="7.20" font-size="5.3" fill="#e14a4c" textLength="6.30" lengthAdjust="spacingAndGlyphs" >S7</text>
<text x="577.70" y="5.00" font-size="5.3" fill="#a38b7b" textLength="6.30" lengthAdjust="spacingAndGlyphs" >S8</text>
<text x="587.00" y="3.80" font-size="5.3" fill="#c9b3e9" textLength="6.30" lengthAdjust="spacingAndGlyphs" >S9</text>
<text x="596.90" y="5.10" font-size="5.3" fill="#444" textLength="17.90" lengthAdjust="spacingAndGlyphs" >EDNRB</text>
<text x="615.30" y="7.70" font-size="5.3" fill="#444" textLength="9.70" lengthAdjust="spacingAndGlyphs" >RET</text>
<text x="623.70" y="12.80" font-size="5.3" fill="#444" textLength="15.30" lengthAdjust="spacingAndGlyphs" >MSTIR</text>
<text x="636.50" y="17.90" font-size="5.3" fill="#444" textLength="12.50" lengthAdjust="spacingAndGlyphs" >RYR3</text>
<text x="648.00" y="28.90" font-size="5.3" fill="#444" textLength="16.60" lengthAdjust="spacingAndGlyphs" >PLCB1</text>
<text x="658.70" y="47.30" font-size="5.3" fill="#444" textLength="22.00" lengthAdjust="spacingAndGlyphs" >CACNA1G</text>
<text x="668.40" y="69.00" font-size="5.3" fill="#444" textLength="16.60" lengthAdjust="spacingAndGlyphs" >FGFR2</text>
<text x="658.20" y="111.00" font-size="5.3" fill="#444" textLength="21.80" lengthAdjust="spacingAndGlyphs" >PDGFRA</text>
<text x="639.00" y="136.70" font-size="5.3" fill="#444" textLength="18.00" lengthAdjust="spacingAndGlyphs" >PDGFD</text>
<text x="620.00" y="145.00" font-size="5.3" fill="#444" textLength="19.00" lengthAdjust="spacingAndGlyphs" >GAN14</text>
<text x="605.80" y="149.50" font-size="5.3" fill="#444" textLength="16.60" lengthAdjust="spacingAndGlyphs" >PDE1A</text>
<text x="587.80" y="154.00" font-size="5.3" fill="#444" textLength="21.70" lengthAdjust="spacingAndGlyphs" >AVPR1A</text>
<text x="498.10" y="170.30" font-size="12" font-weight="bold" >e</text>
<rect x="536.40" y="176.10" width="13.98" height="9.39" fill="#fff4f4" />
<rect x="550.08" y="176.10" width="13.98" height="9.39" fill="#cde8ee" />
<rect x="563.76" y="176.10" width="13.98" height="9.39" fill="#80c8d8" />
<rect x="577.43" y="176.10" width="13.98" height="9.39" fill="#ffa0a0" />
<rect x="591.11" y="176.10" width="13.98" height="9.39" fill="#ffb8b8" />
<rect x="604.79" y="176.10" width="13.98" height="9.39" fill="#ffa8a8" />
<rect x="618.47" y="176.10" width="13.98" height="9.39" fill="#78c4d4" />
<rect x="632.14" y="176.10" width="13.98" height="9.39" fill="#60bcd0" />
<rect x="645.82" y="176.10" width="13.98" height="9.39" fill="#cce6ec" />
<rect x="536.40" y="185.19" width="13.98" height="9.39" fill="#eaf4f8" />
<rect x="550.08" y="185.19" width="13.98" height="9.39" fill="#f0f8fa" />
<rect x="563.76" y="185.19" width="13.98" height="9.39" fill="#98d0dc" />
<rect x="577.43" y="185.19" width="13.98" height="9.39" fill="#ffbcbc" />
<rect x="591.11" y="185.19" width="13.98" height="9.39" fill="#fff8f6" />
<rect x="604.79" y="185.19" width="13.98" height="9.39" fill="#ffb0b0" />
<rect x="618.47" y="185.19" width="13.98" height="9.39" fill="#e6f2f8" />
<rect x="632.14" y="185.19" width="13.98" height="9.39" fill="#88c8d8" />
<rect x="645.82" y="185.19" width="13.98" height="9.39" fill="#ffffff" />
<rect x="536.40" y="194.27" width="13.98" height="9.39" fill="#eef6f8" />
<rect x="550.08" y="194.27" width="13.98" height="9.39" fill="#e4f2f6" />
<rect x="563.76" y="194.27" width="13.98" height="9.39" fill="#c8e6ee" />
<rect x="577.43" y="194.27" width="13.98" height="9.39" fill="#ffc8c8" />
<rect x="591.11" y="194.27" width="13.98" height="9.39" fill="#ffe0e0" />
<rect x="604.79" y="194.27" width="13.98" height="9.39" fill="#ffdcdc" />
<rect x="618.47" y="194.27" width="13.98" height="9.39" fill="#b0dce4" />
<rect x="632.14" y="194.27" width="13.98" height="9.39" fill="#b0dce4" />
<rect x="645.82" y="194.27" width="13.98" height="9.39" fill="#ffe6e6" />
<rect x="536.40" y="203.36" width="13.98" height="9.39" fill="#b0dce4" />
<rect x="550.08" y="203.36" width="13.98" height="9.39" fill="#b8e0e8" />
<rect x="563.76" y="203.36" width="13.98" height="9.39" fill="#b8e0e8" />
<rect x="577.43" y="203.36" width="13.98" height="9.39" fill="#ffdcdc" />
<rect x="591.11" y="203.36" width="13.98" height="9.39" fill="#ffe8e8" />
<rect x="604.79" y="203.36" width="13.98" height="9.39" fill="#ffeaea" />
<rect x="618.47" y="203.36" width="13.98" height="9.39" fill="#ffffff" />
<rect x="632.14" y="203.36" width="13.98" height="9.39" fill="#ffe8e8" />
<rect x="645.82" y="203.36" width="13.98" height="9.39" fill="#ffdcdc" />
<rect x="536.40" y="212.45" width="13.98" height="9.39" fill="#f6fbfd" />
<rect x="550.08" y="212.45" width="13.98" height="9.39" fill="#d8ecf2" />
<rect x="563.76" y="212.45" width="13.98" height="9.39" fill="#a8d8e2" />
<rect x="577.43" y="212.45" width="13.98" height="9.39" fill="#ffd0d0" />
<rect x="591.11" y="212.45" width="13.98" height="9.39" fill="#fff0f0" />
<rect x="604.79" y="212.45" width="13.98" height="9.39" fill="#ffd4d4" />
<rect x="618.47" y="212.45" width="13.98" height="9.39" fill="#f2f8fa" />
<rect x="632.14" y="212.45" width="13.98" height="9.39" fill="#e8f4f6" />
<rect x="645.82" y="212.45" width="13.98" height="9.39" fill="#fff4f4" />
<rect x="536.40" y="221.53" width="13.98" height="9.39" fill="#68bed0" />
<rect x="550.08" y="221.53" width="13.98" height="9.39" fill="#80c8d8" />
<rect x="563.76" y="221.53" width="13.98" height="9.39" fill="#68bed0" />
<rect x="577.43" y="221.53" width="13.98" height="9.39" fill="#ffacac" />
<rect x="591.11" y="221.53" width="13.98" height="9.39" fill="#ffd4d4" />
<rect x="604.79" y="221.53" width="13.98" height="9.39" fill="#ffb4b4" />
<rect x="618.47" y="221.53" width="13.98" height="9.39" fill="#ffffff" />
<rect x="632.14" y="221.53" width="13.98" height="9.39" fill="#eef6f8" />
<rect x="645.82" y="221.53" width="13.98" height="9.39" fill="#ffd8d8" />
<rect x="536.40" y="230.62" width="13.98" height="9.39" fill="#c8e6ee" />
<rect x="550.08" y="230.62" width="13.98" height="9.39" fill="#b8e0e8" />
<rect x="563.76" y="230.62" width="13.98" height="9.39" fill="#98d0dc" />
<rect x="577.43" y="230.62" width="13.98" height="9.39" fill="#ffcccc" />
<rect x="591.11" y="230.62" width="13.98" height="9.39" fill="#ffc4c4" />
<rect x="604.79" y="230.62" width="13.98" height="9.39" fill="#ffc4c4" />
<rect x="618.47" y="230.62" width="13.98" height="9.39" fill="#e4f2f8" />
<rect x="632.14" y="230.62" width="13.98" height="9.39" fill="#e0f0f6" />
<rect x="645.82" y="230.62" width="13.98" height="9.39" fill="#ffffff" />
<rect x="536.40" y="239.71" width="13.98" height="9.39" fill="#ffeaea" />
<rect x="550.08" y="239.71" width="13.98" height="9.39" fill="#f4fafc" />
<rect x="563.76" y="239.71" width="13.98" height="9.39" fill="#ecf6fa" />
<rect x="577.43" y="239.71" width="13.98" height="9.39" fill="#ffc4c4" />
<rect x="591.11" y="239.71" width="13.98" height="9.39" fill="#ffcaca" />
<rect x="604.79" y="239.71" width="13.98" height="9.39" fill="#ffc4c4" />
<rect x="618.47" y="239.71" width="13.98" height="9.39" fill="#80c8d8" />
<rect x="632.14" y="239.71" width="13.98" height="9.39" fill="#40aac4" />
<rect x="645.82" y="239.71" width="13.98" height="9.39" fill="#fffcfc" />
<rect x="536.40" y="248.79" width="13.98" height="9.39" fill="#78c4d4" />
<rect x="550.08" y="248.79" width="13.98" height="9.39" fill="#88cad8" />
<rect x="563.76" y="248.79" width="13.98" height="9.39" fill="#58b8cc" />
<rect x="577.43" y="248.79" width="13.98" height="9.39" fill="#ffbcbc" />
<rect x="591.11" y="248.79" width="13.98" height="9.39" fill="#ffd4d4" />
<rect x="604.79" y="248.79" width="13.98" height="9.39" fill="#ffb8b8" />
<rect x="618.47" y="248.79" width="13.98" height="9.39" fill="#f4fafc" />
<rect x="632.14" y="248.79" width="13.98" height="9.39" fill="#fff6f6" />
<rect x="645.82" y="248.79" width="13.98" height="9.39" fill="#ffdcdc" />
<rect x="536.40" y="257.88" width="13.98" height="9.39" fill="#70c2d2" />
<rect x="550.08" y="257.88" width="13.98" height="9.39" fill="#80c6d6" />
<rect x="563.76" y="257.88" width="13.98" height="9.39" fill="#68bed0" />
<rect x="577.43" y="257.88" width="13.98" height="9.39" fill="#ffb4b4" />
<rect x="591.11" y="257.88" width="13.98" height="9.39" fill="#ffe6e6" />
<rect x="604.79" y="257.88" width="13.98" height="9.39" fill="#ffd6d6" />
<rect x="618.47" y="257.88" width="13.98" height="9.39" fill="#ffe0e0" />
<rect x="632.14" y="257.88" width="13.98" height="9.39" fill="#ffeaea" />
<rect x="645.82" y="257.88" width="13.98" height="9.39" fill="#ffeeee" />
<rect x="536.40" y="266.97" width="13.98" height="9.39" fill="#eef6f8" />
<rect x="550.08" y="266.97" width="13.98" height="9.39" fill="#eef6f8" />
<rect x="563.76" y="266.97" width="13.98" height="9.39" fill="#eef6f8" />
<rect x="577.43" y="266.97" width="13.98" height="9.39" fill="#ffffff" />
<rect x="591.11" y="266.97" width="13.98" height="9.39" fill="#ffecec" />
<rect x="604.79" y="266.97" width="13.98" height="9.39" fill="#ffecec" />
<rect x="618.47" y="266.97" width="13.98" height="9.39" fill="#eef6fa" />
<rect x="632.14" y="266.97" width="13.98" height="9.39" fill="#eef6fa" />
<rect x="645.82" y="266.97" width="13.98" height="9.39" fill="#fff4f4" />
<rect x="536.40" y="276.05" width="13.98" height="9.39" fill="#38a8c0" />
<rect x="550.08" y="276.05" width="13.98" height="9.39" fill="#68bed0" />
<rect x="563.76" y="276.05" width="13.98" height="9.39" fill="#1898b0" />
<rect x="577.43" y="276.05" width="13.98" height="9.39" fill="#ff7c7c" />
<rect x="591.11" y="276.05" width="13.98" height="9.39" fill="#ffbcbc" />
<rect x="604.79" y="276.05" width="13.98" height="9.39" fill="#ff7c7c" />
<rect x="618.47" y="276.05" width="13.98" height="9.39" fill="#80c8d8" />
<rect x="632.14" y="276.05" width="13.98" height="9.39" fill="#cde8ee" />
<rect x="645.82" y="276.05" width="13.98" height="9.39" fill="#ffcaca" />
<rect x="536.40" y="285.14" width="13.98" height="9.39" fill="#a0d4e0" />
<rect x="550.08" y="285.14" width="13.98" height="9.39" fill="#b0dce4" />
<rect x="563.76" y="285.14" width="13.98" height="9.39" fill="#98d0dc" />
<rect x="577.43" y="285.14" width="13.98" height="9.39" fill="#ffdada" />
<rect x="591.11" y="285.14" width="13.98" height="9.39" fill="#ffb4b4" />
<rect x="604.79" y="285.14" width="13.98" height="9.39" fill="#ffb8b8" />
<rect x="618.47" y="285.14" width="13.98" height="9.39" fill="#f8fcfd" />
<rect x="632.14" y="285.14" width="13.98" height="9.39" fill="#c8e6ee" />
<rect x="645.82" y="285.14" width="13.98" height="9.39" fill="#f2f8fa" />
<rect x="536.40" y="294.23" width="13.98" height="9.39" fill="#eaf4f8" />
<rect x="550.08" y="294.23" width="13.98" height="9.39" fill="#a8d8e2" />
<rect x="563.76" y="294.23" width="13.98" height="9.39" fill="#90ccda" />
<rect x="577.43" y="294.23" width="13.98" height="9.39" fill="#ffc4c4" />
<rect x="591.11" y="294.23" width="13.98" height="9.39" fill="#ffb0b0" />
<rect x="604.79" y="294.23" width="13.98" height="9.39" fill="#ffa0a0" />
<rect x="618.47" y="294.23" width="13.98" height="9.39" fill="#70c2d4" />
<rect x="632.14" y="294.23" width="13.98" height="9.39" fill="#a0d4e0" />
<rect x="645.82" y="294.23" width="13.98" height="9.39" fill="#e8f4f8" />
<rect x="536.40" y="303.31" width="13.98" height="9.39" fill="#fff4f4" />
<rect x="550.08" y="303.31" width="13.98" height="9.39" fill="#dceef4" />
<rect x="563.76" y="303.31" width="13.98" height="9.39" fill="#cce8ee" />
<rect x="577.43" y="303.31" width="13.98" height="9.39" fill="#fff8f8" />
<rect x="591.11" y="303.31" width="13.98" height="9.39" fill="#ffb0b0" />
<rect x="604.79" y="303.31" width="13.98" height="9.39" fill="#ffcaca" />
<rect x="618.47" y="303.31" width="13.98" height="9.39" fill="#a8d8e2" />
<rect x="632.14" y="303.31" width="13.98" height="9.39" fill="#98d0dc" />
<rect x="645.82" y="303.31" width="13.98" height="9.39" fill="#ffffff" />
<rect x="536.40" y="176.10" width="123.10" height="136.30" fill="none" stroke="#8a8a8a" stroke-width="0.7" />
<text x="534.60" y="182.44" font-size="5.0" font-weight="bold" fill="#222" text-anchor="end" font-style="italic" >EDNRB</text>
<text x="534.60" y="191.53" font-size="5.0" font-weight="bold" fill="#222" text-anchor="end" font-style="italic" >RET</text>
<text x="534.60" y="200.62" font-size="5.0" font-weight="bold" fill="#222" text-anchor="end" font-style="italic" >MST1R</text>
<text x="534.60" y="209.70" font-size="5.0" font-weight="bold" fill="#222" text-anchor="end" font-style="italic" >RYR3</text>
<text x="534.60" y="218.79" font-size="5.0" font-weight="bold" fill="#222" text-anchor="end" font-style="italic" >PLCB1</text>
<text x="534.60" y="227.88" font-size="5.0" font-weight="bold" fill="#222" text-anchor="end" font-style="italic" >CACNA1G</text>
<text x="534.60" y="236.96" font-size="5.0" font-weight="bold" fill="#222" text-anchor="end" font-style="italic" >FGFR2</text>
<text x="534.60" y="246.05" font-size="5.0" font-weight="bold" fill="#222" text-anchor="end" font-style="italic" >PDGFRA</text>
<text x="534.60" y="255.14" font-size="5.0" font-weight="bold" fill="#222" text-anchor="end" font-style="italic" >PDGFD</text>
<text x="534.60" y="264.22" font-size="5.0" font-weight="bold" fill="#222" text-anchor="end" font-style="italic" >GNA14</text>
<text x="534.60" y="273.31" font-size="5.0" font-weight="bold" fill="#222" text-anchor="end" font-style="italic" >PDE14</text>
<text x="534.60" y="282.40" font-size="5.0" font-weight="bold" fill="#222" text-anchor="end" font-style="italic" >AVPR1A</text>
<text x="534.60" y="291.48" font-size="5.0" font-weight="bold" fill="#222" text-anchor="end" font-style="italic" >EFEMP1</text>
<text x="534.60" y="300.57" font-size="5.0" font-weight="bold" fill="#222" text-anchor="end" font-style="italic" >SCUBE3</text>
<text x="534.60" y="309.66" font-size="5.0" font-weight="bold" fill="#222" text-anchor="end" font-style="italic" >SPARCL1</text>
<text x="556.80" y="173.40" font-size="5.0" font-weight="bold" text-anchor="middle" >SPG</text>
<text x="596.80" y="173.40" font-size="5.0" font-weight="bold" text-anchor="middle" >DSPG</text>
<text x="639.20" y="173.40" font-size="5.0" font-weight="bold" text-anchor="middle" >DSPG@Pep</text>
<defs><linearGradient id="hmcb" x1="0" y1="0" x2="0" y2="1"><stop offset="0" stop-color="#f07c7c"/><stop offset="0.5" stop-color="#ffffff"/><stop offset="1" stop-color="#2a9db6"/></linearGradient></defs>
<rect x="664.90" y="176.20" width="4.80" height="25.40" fill="url(#hmcb)" stroke="#bbbbbb" stroke-width="0.4" />
<text x="671.80" y="183.30" font-size="4.6" >1</text>
<text x="671.80" y="191.50" font-size="4.6" >0</text>
<text x="671.80" y="199.60" font-size="4.6" >-1</text>
<rect x="37.30" y="429.41" width="18.40" height="5.89" fill="#a9c7ec" stroke="#5d8fd6" stroke-width="0.8" />
<line x1="46.50" y1="428.23" x2="46.50" y2="430.49" stroke="#5d8fd6" stroke-width="0.8" />
<line x1="43.70" y1="428.23" x2="49.30" y2="428.23" stroke="#5d8fd6" stroke-width="0.8" />
<line x1="43.70" y1="430.49" x2="49.30" y2="430.49" stroke="#5d8fd6" stroke-width="0.8" />
<rect x="64.00" y="367.95" width="18.40" height="67.35" fill="#f7e5bd" stroke="#e9c375" stroke-width="0.8" />
<line x1="73.20" y1="364.27" x2="73.20" y2="372.47" stroke="#e9c375" stroke-width="0.8" />
<line x1="70.40" y1="364.27" x2="76.00" y2="364.27" stroke="#e9c375" stroke-width="0.8" />
<line x1="70.40" y1="372.47" x2="76.00" y2="372.47" stroke="#e9c375" stroke-width="0.8" />
<rect x="90.80" y="407.68" width="18.40" height="27.62" fill="#f1c7c9" stroke="#e29b9e" stroke-width="0.8" />
<line x1="100.00" y1="401.34" x2="100.00" y2="413.23" stroke="#e29b9e" stroke-width="0.8" />
<line x1="97.20" y1="401.34" x2="102.80" y2="401.34" stroke="#e29b9e" stroke-width="0.8" />
<line x1="97.20" y1="413.23" x2="102.80" y2="413.23" stroke="#e29b9e" stroke-width="0.8" />
<circle cx="39.00" cy="430.72" r="1.55" fill="#ffffff" stroke="#222" stroke-width="0.75" />
<circle cx="46.50" cy="428.56" r="1.55" fill="#ffffff" stroke="#222" stroke-width="0.75" />
<circle cx="53.70" cy="429.92" r="1.55" fill="#ffffff" stroke="#222" stroke-width="0.75" />
<rect x="71.65" y="365.75" width="2.70" height="2.70" fill="#ffffff" stroke="#222" stroke-width="0.75" />
<rect x="77.25" y="363.77" width="2.70" height="2.70" fill="#ffffff" stroke="#222" stroke-width="0.75" />
<rect x="71.65" y="371.58" width="2.70" height="2.70" fill="#ffffff" stroke="#222" stroke-width="0.75" />
<path d="M98.40,401.69 L101.60,401.69 L100.00,398.89 Z" fill="#222" />
<path d="M93.10,412.90 L96.30,412.90 L94.70,410.10 Z" fill="#222" />
<path d="M103.80,412.90 L107.00,412.90 L105.40,410.10 Z" fill="#222" />
<line x1="28.20" y1="333.02" x2="28.20" y2="435.30" stroke="#222" stroke-width="1.0" />
<line x1="27.70" y1="435.30" x2="118.30" y2="435.30" stroke="#222" stroke-width="1.0" />
<line x1="25.80" y1="435.30" x2="28.20" y2="435.30" stroke="#222" stroke-width="0.8" />
<text x="25.20" y="437.45" font-size="6.0" fill="#222" text-anchor="end" >0</text>
<line x1="25.80" y1="418.32" x2="28.20" y2="418.32" stroke="#222" stroke-width="0.8" />
<text x="25.20" y="420.47" font-size="6.0" fill="#222" text-anchor="end" >3</text>
<line x1="25.80" y1="401.34" x2="28.20" y2="401.34" stroke="#222" stroke-width="0.8" />
<text x="25.20" y="403.49" font-size="6.0" fill="#222" text-anchor="end" >6</text>
<line x1="25.80" y1="384.36" x2="28.20" y2="384.36" stroke="#222" stroke-width="0.8" />
<text x="25.20" y="386.51" font-size="6.0" fill="#222" text-anchor="end" >9</text>
<line x1="25.80" y1="367.38" x2="28.20" y2="367.38" stroke="#222" stroke-width="0.8" />
<text x="25.20" y="369.53" font-size="6.0" fill="#222" text-anchor="end" >12</text>
<line x1="25.80" y1="350.40" x2="28.20" y2="350.40" stroke="#222" stroke-width="0.8" />
<text x="25.20" y="352.55" font-size="6.0" fill="#222" text-anchor="end" >15</text>
<line x1="25.80" y1="333.42" x2="28.20" y2="333.42" stroke="#222" stroke-width="0.8" />
<text x="25.20" y="335.57" font-size="6.0" fill="#222" text-anchor="end" >18</text>
<line x1="46.50" y1="435.30" x2="46.50" y2="437.70" stroke="#222" stroke-width="0.8" />
<line x1="73.20" y1="435.30" x2="73.20" y2="437.70" stroke="#222" stroke-width="0.8" />
<line x1="100.00" y1="435.30" x2="100.00" y2="437.70" stroke="#222" stroke-width="0.8" />
<text x="49.10" y="445.50" font-size="6.1" font-weight="bold" fill="#222" text-anchor="end" transform="rotate(-44 49.10 445.50)" >SPG</text>
<text x="75.80" y="445.50" font-size="6.1" font-weight="bold" fill="#222" text-anchor="end" transform="rotate(-44 75.80 445.50)" >DSPG</text>
<text x="102.60" y="445.50" font-size="6.1" font-weight="bold" fill="#222" text-anchor="end" transform="rotate(-44 102.60 445.50)" >DSPG@Pep</text>
<text x="14.20" y="384.36" font-size="7.95" font-weight="bold" text-anchor="middle" textLength="101.00" lengthAdjust="spacingAndGlyphs" transform="rotate(-90 14.20 384.36)" >Relative Gene Expression</text>
<line x1="46.50" y1="340.70" x2="100.00" y2="340.70" stroke="#444" stroke-width="1.6" />
<text x="72.20" y="339.80" font-size="6.8" fill="#222" text-anchor="middle" >**</text>
<line x1="46.50" y1="359.20" x2="73.00" y2="359.20" stroke="#222" stroke-width="1.3" />
<text x="58.90" y="358.30" font-size="6.8" fill="#222" text-anchor="middle" >***</text>
<line x1="74.30" y1="351.00" x2="100.00" y2="351.00" stroke="#222" stroke-width="1.3" />
<text x="86.20" y="350.10" font-size="6.8" fill="#222" text-anchor="middle" >***</text>
<text x="84.20" y="337.80" font-size="5.3" font-weight="bold" fill="#222" font-style="italic" textLength="26.10" lengthAdjust="spacingAndGlyphs" >CACNA1G</text>
<text x="4.00" y="332.50" font-size="11.8" font-weight="bold" >f1</text>
<rect x="176.80" y="421.38" width="18.40" height="13.62" fill="#a9c7ec" stroke="#5d8fd6" stroke-width="0.8" />
<rect x="203.80" y="375.25" width="18.40" height="59.75" fill="#f7e5bd" stroke="#e9c375" stroke-width="0.8" />
<line x1="213.00" y1="368.44" x2="213.00" y2="381.93" stroke="#e9c375" stroke-width="0.8" />
<line x1="210.20" y1="368.44" x2="215.80" y2="368.44" stroke="#e9c375" stroke-width="0.8" />
<line x1="210.20" y1="381.93" x2="215.80" y2="381.93" stroke="#e9c375" stroke-width="0.8" />
<rect x="230.70" y="390.80" width="18.40" height="44.20" fill="#f1c7c9" stroke="#e29b9e" stroke-width="0.8" />
<line x1="239.90" y1="384.50" x2="239.90" y2="397.35" stroke="#e29b9e" stroke-width="0.8" />
<line x1="237.10" y1="384.50" x2="242.70" y2="384.50" stroke="#e29b9e" stroke-width="0.8" />
<line x1="237.10" y1="397.35" x2="242.70" y2="397.35" stroke="#e29b9e" stroke-width="0.8" />
<circle cx="179.00" cy="422.54" r="1.55" fill="#ffffff" stroke="#222" stroke-width="0.75" />
<circle cx="186.20" cy="421.76" r="1.55" fill="#ffffff" stroke="#222" stroke-width="0.75" />
<circle cx="193.40" cy="422.54" r="1.55" fill="#ffffff" stroke="#222" stroke-width="0.75" />
<circle cx="213.00" cy="368.69" r="1.55" fill="#ffffff" stroke="#222" stroke-width="0.75" />
<circle cx="213.00" cy="375.76" r="1.55" fill="#ffffff" stroke="#222" stroke-width="0.75" />
<circle cx="213.00" cy="381.80" r="1.55" fill="#ffffff" stroke="#222" stroke-width="0.75" />
<path d="M232.80,388.78 L236.00,388.78 L234.40,385.98 Z" fill="#222" />
<path d="M243.50,388.78 L246.70,388.78 L245.10,385.98 Z" fill="#222" />
<path d="M238.30,399.83 L241.50,399.83 L239.90,397.03 Z" fill="#222" />
<line x1="168.20" y1="331.80" x2="168.20" y2="435.00" stroke="#222" stroke-width="1.0" />
<line x1="167.70" y1="435.00" x2="258.00" y2="435.00" stroke="#222" stroke-width="1.0" />
<line x1="165.80" y1="435.00" x2="168.20" y2="435.00" stroke="#222" stroke-width="0.8" />
<text x="165.20" y="437.15" font-size="6.0" fill="#222" text-anchor="end" >0</text>
<line x1="165.80" y1="409.30" x2="168.20" y2="409.30" stroke="#222" stroke-width="0.8" />
<text x="165.20" y="411.45" font-size="6.0" fill="#222" text-anchor="end" >2</text>
<line x1="165.80" y1="383.60" x2="168.20" y2="383.60" stroke="#222" stroke-width="0.8" />
<text x="165.20" y="385.75" font-size="6.0" fill="#222" text-anchor="end" >4</text>
<line x1="165.80" y1="357.90" x2="168.20" y2="357.90" stroke="#222" stroke-width="0.8" />
<text x="165.20" y="360.05" font-size="6.0" fill="#222" text-anchor="end" >6</text>
<line x1="165.80" y1="332.20" x2="168.20" y2="332.20" stroke="#222" stroke-width="0.8" />
<text x="165.20" y="334.35" font-size="6.0" fill="#222" text-anchor="end" >8</text>
<line x1="186.00" y1="435.00" x2="186.00" y2="437.40" stroke="#222" stroke-width="0.8" />
<line x1="213.00" y1="435.00" x2="213.00" y2="437.40" stroke="#222" stroke-width="0.8" />
<line x1="239.90" y1="435.00" x2="239.90" y2="437.40" stroke="#222" stroke-width="0.8" />
<text x="188.60" y="445.20" font-size="6.1" font-weight="bold" fill="#222" text-anchor="end" transform="rotate(-44 188.60 445.20)" >SPG</text>
<text x="215.60" y="445.20" font-size="6.1" font-weight="bold" fill="#222" text-anchor="end" transform="rotate(-44 215.60 445.20)" >DSPG</text>
<text x="242.50" y="445.20" font-size="6.1" font-weight="bold" fill="#222" text-anchor="end" transform="rotate(-44 242.50 445.20)" >DSPG@Pep</text>
<text x="154.20" y="383.60" font-size="7.95" font-weight="bold" text-anchor="middle" textLength="101.00" lengthAdjust="spacingAndGlyphs" transform="rotate(-90 154.20 383.60)" >Relative Gene Expression</text>
<line x1="188.60" y1="340.70" x2="240.00" y2="340.70" stroke="#444" stroke-width="1.6" />
<text x="212.20" y="339.80" font-size="6.8" fill="#222" text-anchor="middle" >***</text>
<line x1="188.60" y1="360.00" x2="213.00" y2="360.00" stroke="#222" stroke-width="1.3" />
<text x="199.00" y="359.10" font-size="6.8" fill="#222" text-anchor="middle" >***</text>
<line x1="213.30" y1="351.00" x2="240.00" y2="351.00" stroke="#222" stroke-width="1.3" />
<text x="225.80" y="350.10" font-size="6.8" fill="#222" text-anchor="middle" >*</text>
<text x="225.00" y="337.30" font-size="5.3" font-weight="bold" fill="#222" font-style="italic" textLength="20.90" lengthAdjust="spacingAndGlyphs" >AVPR1A</text>
<text x="140.30" y="332.50" font-size="11.8" font-weight="bold" >f2</text>
<rect x="323.90" y="398.40" width="18.40" height="33.90" fill="#a9c7ec" stroke="#5d8fd6" stroke-width="0.8" />
<line x1="333.10" y1="393.99" x2="333.10" y2="402.47" stroke="#5d8fd6" stroke-width="0.8" />
<line x1="330.30" y1="393.99" x2="335.90" y2="393.99" stroke="#5d8fd6" stroke-width="0.8" />
<line x1="330.30" y1="402.47" x2="335.90" y2="402.47" stroke="#5d8fd6" stroke-width="0.8" />
<rect x="350.80" y="376.03" width="18.40" height="56.27" fill="#f7e5bd" stroke="#e9c375" stroke-width="0.8" />
<line x1="360.00" y1="371.96" x2="360.00" y2="379.75" stroke="#e9c375" stroke-width="0.8" />
<line x1="357.20" y1="371.96" x2="362.80" y2="371.96" stroke="#e9c375" stroke-width="0.8" />
<line x1="357.20" y1="379.75" x2="362.80" y2="379.75" stroke="#e9c375" stroke-width="0.8" />
<rect x="377.70" y="394.67" width="18.40" height="37.63" fill="#f1c7c9" stroke="#e29b9e" stroke-width="0.8" />
<circle cx="325.70" cy="401.79" r="1.55" fill="#ffffff" stroke="#222" stroke-width="0.75" />
<circle cx="332.90" cy="394.33" r="1.55" fill="#ffffff" stroke="#222" stroke-width="0.75" />
<circle cx="340.10" cy="400.10" r="1.55" fill="#ffffff" stroke="#222" stroke-width="0.75" />
<rect x="353.25" y="378.40" width="2.70" height="2.70" fill="#ffffff" stroke="#222" stroke-width="0.75" />
<rect x="358.55" y="371.29" width="2.70" height="2.70" fill="#ffffff" stroke="#222" stroke-width="0.75" />
<rect x="363.65" y="376.03" width="2.70" height="2.70" fill="#ffffff" stroke="#222" stroke-width="0.75" />
<path d="M380.00,395.53 L383.20,395.53 L381.60,392.73 Z" fill="#222" />
<path d="M385.30,395.19 L388.50,395.19 L386.90,392.39 Z" fill="#222" />
<path d="M389.90,395.53 L393.10,395.53 L391.50,392.73 Z" fill="#222" />
<line x1="315.00" y1="330.20" x2="315.00" y2="432.30" stroke="#222" stroke-width="1.0" />
<line x1="314.50" y1="432.30" x2="405.20" y2="432.30" stroke="#222" stroke-width="1.0" />
<line x1="312.60" y1="432.30" x2="315.00" y2="432.30" stroke="#222" stroke-width="0.8" />
<text x="312.00" y="434.45" font-size="6.0" fill="#222" text-anchor="end" >0</text>
<line x1="312.60" y1="398.40" x2="315.00" y2="398.40" stroke="#222" stroke-width="0.8" />
<text x="312.00" y="400.55" font-size="6.0" fill="#222" text-anchor="end" >1</text>
<line x1="312.60" y1="364.50" x2="315.00" y2="364.50" stroke="#222" stroke-width="0.8" />
<text x="312.00" y="366.65" font-size="6.0" fill="#222" text-anchor="end" >2</text>
<line x1="312.60" y1="330.60" x2="315.00" y2="330.60" stroke="#222" stroke-width="0.8" />
<text x="312.00" y="332.75" font-size="6.0" fill="#222" text-anchor="end" >3</text>
<line x1="333.10" y1="432.30" x2="333.10" y2="434.70" stroke="#222" stroke-width="0.8" />
<line x1="360.00" y1="432.30" x2="360.00" y2="434.70" stroke="#222" stroke-width="0.8" />
<line x1="386.90" y1="432.30" x2="386.90" y2="434.70" stroke="#222" stroke-width="0.8" />
<text x="335.70" y="442.50" font-size="6.1" font-weight="bold" fill="#222" text-anchor="end" transform="rotate(-44 335.70 442.50)" >SPG</text>
<text x="362.60" y="442.50" font-size="6.1" font-weight="bold" fill="#222" text-anchor="end" transform="rotate(-44 362.60 442.50)" >DSPG</text>
<text x="389.50" y="442.50" font-size="6.1" font-weight="bold" fill="#222" text-anchor="end" transform="rotate(-44 389.50 442.50)" >DSPG@Pep</text>
<text x="300.90" y="381.45" font-size="7.95" font-weight="bold" text-anchor="middle" textLength="101.00" lengthAdjust="spacingAndGlyphs" transform="rotate(-90 300.90 381.45)" >Relative Gene Expression</text>
<line x1="332.10" y1="340.60" x2="387.00" y2="340.60" stroke="#444" stroke-width="1.6" />
<text x="359.40" y="338.00" font-size="5.6" fill="#555" text-anchor="middle" >ns</text>
<line x1="332.10" y1="360.70" x2="359.70" y2="360.70" stroke="#222" stroke-width="1.3" />
<text x="344.60" y="359.80" font-size="6.8" fill="#222" text-anchor="middle" >***</text>
<line x1="361.80" y1="351.00" x2="387.00" y2="351.00" stroke="#222" stroke-width="1.3" />
<text x="372.60" y="350.10" font-size="6.8" fill="#222" text-anchor="middle" >***</text>
<text x="373.10" y="337.80" font-size="5.3" font-weight="bold" fill="#222" font-style="italic" textLength="17.20" lengthAdjust="spacingAndGlyphs" >PLCB1</text>
<text x="277.50" y="331.60" font-size="11.8" font-weight="bold" >f3</text>
<rect x="461.20" y="416.91" width="18.40" height="16.49" fill="#a9c7ec" stroke="#5d8fd6" stroke-width="0.8" />
<line x1="470.40" y1="414.87" x2="470.40" y2="417.76" stroke="#5d8fd6" stroke-width="0.8" />
<line x1="467.60" y1="414.87" x2="473.20" y2="414.87" stroke="#5d8fd6" stroke-width="0.8" />
<line x1="467.60" y1="417.76" x2="473.20" y2="417.76" stroke="#5d8fd6" stroke-width="0.8" />
<rect x="488.00" y="365.06" width="18.40" height="68.34" fill="#f7e5bd" stroke="#e9c375" stroke-width="0.8" />
<line x1="497.20" y1="363.02" x2="497.20" y2="365.91" stroke="#e9c375" stroke-width="0.8" />
<line x1="494.40" y1="363.02" x2="500.00" y2="363.02" stroke="#e9c375" stroke-width="0.8" />
<line x1="494.40" y1="365.91" x2="500.00" y2="365.91" stroke="#e9c375" stroke-width="0.8" />
<rect x="515.00" y="376.11" width="18.40" height="57.29" fill="#f1c7c9" stroke="#e29b9e" stroke-width="0.8" />
<line x1="524.20" y1="373.22" x2="524.20" y2="378.32" stroke="#e29b9e" stroke-width="0.8" />
<line x1="521.40" y1="373.22" x2="527.00" y2="373.22" stroke="#e29b9e" stroke-width="0.8" />
<line x1="521.40" y1="378.32" x2="527.00" y2="378.32" stroke="#e29b9e" stroke-width="0.8" />
<circle cx="463.00" cy="417.76" r="1.55" fill="#ffffff" stroke="#222" stroke-width="0.75" />
<circle cx="470.40" cy="414.87" r="1.55" fill="#ffffff" stroke="#222" stroke-width="0.75" />
<circle cx="477.70" cy="417.76" r="1.55" fill="#ffffff" stroke="#222" stroke-width="0.75" />
<rect x="490.55" y="364.56" width="2.70" height="2.70" fill="#ffffff" stroke="#222" stroke-width="0.75" />
<rect x="495.85" y="361.67" width="2.70" height="2.70" fill="#ffffff" stroke="#222" stroke-width="0.75" />
<rect x="501.25" y="364.56" width="2.70" height="2.70" fill="#ffffff" stroke="#222" stroke-width="0.75" />
<path d="M517.10,379.52 L520.30,379.52 L518.70,376.72 Z" fill="#222" />
<path d="M522.60,374.42 L525.80,374.42 L524.20,371.62 Z" fill="#222" />
<path d="M528.00,378.16 L531.20,378.16 L529.60,375.36 Z" fill="#222" />
<line x1="452.00" y1="331.00" x2="452.00" y2="433.40" stroke="#222" stroke-width="1.0" />
<line x1="451.50" y1="433.40" x2="542.50" y2="433.40" stroke="#222" stroke-width="1.0" />
<line x1="449.60" y1="433.40" x2="452.00" y2="433.40" stroke="#222" stroke-width="0.8" />
<text x="449.00" y="435.55" font-size="6.0" fill="#222" text-anchor="end" >0</text>
<line x1="449.60" y1="416.40" x2="452.00" y2="416.40" stroke="#222" stroke-width="0.8" />
<text x="449.00" y="418.55" font-size="6.0" fill="#222" text-anchor="end" >1</text>
<line x1="449.60" y1="399.40" x2="452.00" y2="399.40" stroke="#222" stroke-width="0.8" />
<text x="449.00" y="401.55" font-size="6.0" fill="#222" text-anchor="end" >2</text>
<line x1="449.60" y1="382.40" x2="452.00" y2="382.40" stroke="#222" stroke-width="0.8" />
<text x="449.00" y="384.55" font-size="6.0" fill="#222" text-anchor="end" >3</text>
<line x1="449.60" y1="365.40" x2="452.00" y2="365.40" stroke="#222" stroke-width="0.8" />
<text x="449.00" y="367.55" font-size="6.0" fill="#222" text-anchor="end" >4</text>
<line x1="449.60" y1="348.40" x2="452.00" y2="348.40" stroke="#222" stroke-width="0.8" />
<text x="449.00" y="350.55" font-size="6.0" fill="#222" text-anchor="end" >5</text>
<line x1="449.60" y1="331.40" x2="452.00" y2="331.40" stroke="#222" stroke-width="0.8" />
<text x="449.00" y="333.55" font-size="6.0" fill="#222" text-anchor="end" >6</text>
<line x1="470.40" y1="433.40" x2="470.40" y2="435.80" stroke="#222" stroke-width="0.8" />
<line x1="497.20" y1="433.40" x2="497.20" y2="435.80" stroke="#222" stroke-width="0.8" />
<line x1="524.20" y1="433.40" x2="524.20" y2="435.80" stroke="#222" stroke-width="0.8" />
<text x="473.00" y="443.60" font-size="6.1" font-weight="bold" fill="#222" text-anchor="end" transform="rotate(-44 473.00 443.60)" >SPG</text>
<text x="499.80" y="443.60" font-size="6.1" font-weight="bold" fill="#222" text-anchor="end" transform="rotate(-44 499.80 443.60)" >DSPG</text>
<text x="526.80" y="443.60" font-size="6.1" font-weight="bold" fill="#222" text-anchor="end" transform="rotate(-44 526.80 443.60)" >DSPG@Pep</text>
<text x="437.90" y="382.40" font-size="7.95" font-weight="bold" text-anchor="middle" textLength="101.00" lengthAdjust="spacingAndGlyphs" transform="rotate(-90 437.90 382.40)" >Relative Gene Expression</text>
<line x1="472.60" y1="339.50" x2="523.80" y2="339.50" stroke="#444" stroke-width="1.6" />
<text x="497.00" y="338.60" font-size="6.8" fill="#222" text-anchor="middle" >***</text>
<line x1="472.60" y1="357.40" x2="497.00" y2="357.40" stroke="#222" stroke-width="1.3" />
<text x="483.00" y="356.50" font-size="6.8" fill="#222" text-anchor="middle" >***</text>
<line x1="497.50" y1="349.60" x2="523.80" y2="349.60" stroke="#222" stroke-width="1.3" />
<text x="509.50" y="348.70" font-size="6.8" fill="#222" text-anchor="middle" >**</text>
<text x="508.30" y="336.90" font-size="5.3" font-weight="bold" fill="#222" font-style="italic" textLength="21.70" lengthAdjust="spacingAndGlyphs" >EFEMP1</text>
<text x="414.50" y="331.60" font-size="11.8" font-weight="bold" >f4</text>
<rect x="595.90" y="416.23" width="18.40" height="17.17" fill="#a9c7ec" stroke="#5d8fd6" stroke-width="0.8" />
<line x1="605.10" y1="412.49" x2="605.10" y2="420.14" stroke="#5d8fd6" stroke-width="0.8" />
<line x1="602.30" y1="412.49" x2="607.90" y2="412.49" stroke="#5d8fd6" stroke-width="0.8" />
<line x1="602.30" y1="420.14" x2="607.90" y2="420.14" stroke="#5d8fd6" stroke-width="0.8" />
<rect x="623.00" y="370.33" width="18.40" height="63.07" fill="#f7e5bd" stroke="#e9c375" stroke-width="0.8" />
<line x1="632.20" y1="367.61" x2="632.20" y2="373.22" stroke="#e9c375" stroke-width="0.8" />
<line x1="629.40" y1="367.61" x2="635.00" y2="367.61" stroke="#e9c375" stroke-width="0.8" />
<line x1="629.40" y1="373.22" x2="635.00" y2="373.22" stroke="#e9c375" stroke-width="0.8" />
<rect x="649.90" y="403.99" width="18.40" height="29.41" fill="#f1c7c9" stroke="#e29b9e" stroke-width="0.8" />
<line x1="659.10" y1="391.58" x2="659.10" y2="416.23" stroke="#e29b9e" stroke-width="0.8" />
<line x1="656.30" y1="391.58" x2="661.90" y2="391.58" stroke="#e29b9e" stroke-width="0.8" />
<line x1="656.30" y1="416.23" x2="661.90" y2="416.23" stroke="#e29b9e" stroke-width="0.8" />
<circle cx="605.10" cy="415.72" r="1.55" fill="#ffffff" stroke="#222" stroke-width="0.75" />
<circle cx="605.10" cy="420.14" r="1.55" fill="#ffffff" stroke="#222" stroke-width="0.75" />
<circle cx="612.70" cy="413.00" r="1.55" fill="#ffffff" stroke="#222" stroke-width="0.75" />
<rect x="630.85" y="367.79" width="2.70" height="2.70" fill="#ffffff" stroke="#222" stroke-width="0.75" />
<rect x="630.85" y="371.87" width="2.70" height="2.70" fill="#ffffff" stroke="#222" stroke-width="0.75" />
<rect x="635.95" y="366.60" width="2.70" height="2.70" fill="#ffffff" stroke="#222" stroke-width="0.75" />
<path d="M657.50,391.76 L660.70,391.76 L659.10,388.96 Z" fill="#222" />
<path d="M652.10,412.67 L655.30,412.67 L653.70,409.87 Z" fill="#222" />
<path d="M662.50,412.67 L665.70,412.67 L664.10,409.87 Z" fill="#222" />
<line x1="587.00" y1="331.00" x2="587.00" y2="433.40" stroke="#222" stroke-width="1.0" />
<line x1="586.50" y1="433.40" x2="677.50" y2="433.40" stroke="#222" stroke-width="1.0" />
<line x1="584.60" y1="433.40" x2="587.00" y2="433.40" stroke="#222" stroke-width="0.8" />
<text x="584.00" y="435.55" font-size="6.0" fill="#222" text-anchor="end" >0</text>
<line x1="584.60" y1="416.40" x2="587.00" y2="416.40" stroke="#222" stroke-width="0.8" />
<text x="584.00" y="418.55" font-size="6.0" fill="#222" text-anchor="end" >1</text>
<line x1="584.60" y1="399.40" x2="587.00" y2="399.40" stroke="#222" stroke-width="0.8" />
<text x="584.00" y="401.55" font-size="6.0" fill="#222" text-anchor="end" >2</text>
<line x1="584.60" y1="382.40" x2="587.00" y2="382.40" stroke="#222" stroke-width="0.8" />
<text x="584.00" y="384.55" font-size="6.0" fill="#222" text-anchor="end" >3</text>
<line x1="584.60" y1="365.40" x2="587.00" y2="365.40" stroke="#222" stroke-width="0.8" />
<text x="584.00" y="367.55" font-size="6.0" fill="#222" text-anchor="end" >4</text>
<line x1="584.60" y1="348.40" x2="587.00" y2="348.40" stroke="#222" stroke-width="0.8" />
<text x="584.00" y="350.55" font-size="6.0" fill="#222" text-anchor="end" >5</text>
<line x1="584.60" y1="331.40" x2="587.00" y2="331.40" stroke="#222" stroke-width="0.8" />
<text x="584.00" y="333.55" font-size="6.0" fill="#222" text-anchor="end" >6</text>
<line x1="605.10" y1="433.40" x2="605.10" y2="435.80" stroke="#222" stroke-width="0.8" />
<line x1="632.20" y1="433.40" x2="632.20" y2="435.80" stroke="#222" stroke-width="0.8" />
<line x1="659.10" y1="433.40" x2="659.10" y2="435.80" stroke="#222" stroke-width="0.8" />
<text x="607.70" y="443.60" font-size="6.1" font-weight="bold" fill="#222" text-anchor="end" transform="rotate(-44 607.70 443.60)" >SPG</text>
<text x="634.80" y="443.60" font-size="6.1" font-weight="bold" fill="#222" text-anchor="end" transform="rotate(-44 634.80 443.60)" >DSPG</text>
<text x="661.70" y="443.60" font-size="6.1" font-weight="bold" fill="#222" text-anchor="end" transform="rotate(-44 661.70 443.60)" >DSPG@Pep</text>
<text x="572.90" y="382.40" font-size="7.95" font-weight="bold" text-anchor="middle" textLength="101.00" lengthAdjust="spacingAndGlyphs" transform="rotate(-90 572.90 382.40)" >Relative Gene Expression</text>
<line x1="608.70" y1="338.20" x2="658.80" y2="338.20" stroke="#444" stroke-width="1.6" />
<text x="634.10" y="335.60" font-size="5.6" fill="#555" text-anchor="middle" >ns</text>
<line x1="608.70" y1="357.60" x2="632.00" y2="357.60" stroke="#222" stroke-width="1.3" />
<text x="620.40" y="356.70" font-size="6.8" fill="#222" text-anchor="middle" >***</text>
<line x1="632.50" y1="347.50" x2="658.80" y2="347.50" stroke="#222" stroke-width="1.3" />
<text x="644.90" y="346.60" font-size="6.8" fill="#222" text-anchor="middle" >**</text>
<text x="651.30" y="335.70" font-size="5.3" font-weight="bold" fill="#222" font-style="italic" textLength="21.70" lengthAdjust="spacingAndGlyphs" >SCUBE3</text>
<text x="556.30" y="332.20" font-size="11.8" font-weight="bold" >f5</text>
<rect x="30.50" y="715.30" width="18.40" height="23.10" fill="#a9c7ec" stroke="#5d8fd6" stroke-width="0.8" />
<rect x="59.40" y="664.92" width="18.40" height="73.48" fill="#f7e5bd" stroke="#e9c375" stroke-width="0.8" />
<rect x="88.30" y="710.24" width="18.40" height="28.16" fill="#f1c7c9" stroke="#e29b9e" stroke-width="0.8" />
<circle cx="31.70" cy="717.50" r="1.55" fill="#ffffff" stroke="#222" stroke-width="0.75" />
<circle cx="39.70" cy="715.08" r="1.55" fill="#ffffff" stroke="#222" stroke-width="0.75" />
<circle cx="47.40" cy="716.62" r="1.55" fill="#ffffff" stroke="#222" stroke-width="0.75" />
<rect x="61.65" y="664.89" width="2.70" height="2.70" fill="#ffffff" stroke="#222" stroke-width="0.75" />
<rect x="67.25" y="663.13" width="2.70" height="2.70" fill="#ffffff" stroke="#222" stroke-width="0.75" />
<rect x="72.85" y="663.35" width="2.70" height="2.70" fill="#ffffff" stroke="#222" stroke-width="0.75" />
<path d="M90.30,711.00 L93.50,711.00 L91.90,708.20 Z" fill="#222" />
<path d="M95.90,710.78 L99.10,710.78 L97.50,707.98 Z" fill="#222" />
<path d="M100.70,711.00 L103.90,711.00 L102.30,708.20 Z" fill="#222" />
<line x1="20.40" y1="628.00" x2="20.40" y2="738.40" stroke="#222" stroke-width="1.0" />
<line x1="19.90" y1="738.40" x2="117.30" y2="738.40" stroke="#222" stroke-width="1.0" />
<line x1="18.00" y1="738.40" x2="20.40" y2="738.40" stroke="#222" stroke-width="0.8" />
<text x="17.40" y="740.55" font-size="6.0" fill="#222" text-anchor="end" >0</text>
<line x1="18.00" y1="716.40" x2="20.40" y2="716.40" stroke="#222" stroke-width="0.8" />
<text x="17.40" y="718.55" font-size="6.0" fill="#222" text-anchor="end" >1</text>
<line x1="18.00" y1="694.40" x2="20.40" y2="694.40" stroke="#222" stroke-width="0.8" />
<text x="17.40" y="696.55" font-size="6.0" fill="#222" text-anchor="end" >2</text>
<line x1="18.00" y1="672.40" x2="20.40" y2="672.40" stroke="#222" stroke-width="0.8" />
<text x="17.40" y="674.55" font-size="6.0" fill="#222" text-anchor="end" >3</text>
<line x1="18.00" y1="650.40" x2="20.40" y2="650.40" stroke="#222" stroke-width="0.8" />
<text x="17.40" y="652.55" font-size="6.0" fill="#222" text-anchor="end" >4</text>
<line x1="18.00" y1="628.40" x2="20.40" y2="628.40" stroke="#222" stroke-width="0.8" />
<text x="17.40" y="630.55" font-size="6.0" fill="#222" text-anchor="end" >5</text>
<line x1="39.70" y1="738.40" x2="39.70" y2="740.80" stroke="#222" stroke-width="0.8" />
<line x1="68.60" y1="738.40" x2="68.60" y2="740.80" stroke="#222" stroke-width="0.8" />
<line x1="97.50" y1="738.40" x2="97.50" y2="740.80" stroke="#222" stroke-width="0.8" />
<text x="42.30" y="748.60" font-size="6.1" font-weight="bold" fill="#222" text-anchor="end" transform="rotate(-44 42.30 748.60)" >SPG</text>
<text x="71.20" y="748.60" font-size="6.1" font-weight="bold" fill="#222" text-anchor="end" transform="rotate(-44 71.20 748.60)" >DSPG</text>
<text x="100.10" y="748.60" font-size="6.1" font-weight="bold" fill="#222" text-anchor="end" transform="rotate(-44 100.10 748.60)" >DSPG@Pep</text>
<text x="7.20" y="683.40" font-size="7.95" font-weight="bold" text-anchor="middle" textLength="106.00" lengthAdjust="spacingAndGlyphs" transform="rotate(-90 7.20 683.40)" >Relative Gene Expression</text>
<line x1="41.00" y1="636.40" x2="97.50" y2="636.40" stroke="#444" stroke-width="1.2" />
<text x="67.00" y="635.50" font-size="6.8" fill="#222" text-anchor="middle" >***</text>
<line x1="41.00" y1="655.70" x2="69.10" y2="655.70" stroke="#888" stroke-width="1.2" />
<text x="53.00" y="654.80" font-size="6.8" fill="#222" text-anchor="middle" >***</text>
<line x1="69.40" y1="647.30" x2="97.50" y2="647.30" stroke="#444" stroke-width="1.2" />
<text x="81.10" y="646.40" font-size="6.8" fill="#222" text-anchor="middle" >***</text>
<text x="87.40" y="632.40" font-size="5.3" font-weight="bold" fill="#222" font-style="italic" textLength="15.40" lengthAdjust="spacingAndGlyphs" >IBSP</text>
<text x="2.30" y="619.20" font-size="11.8" font-weight="bold" >i</text>
<rect x="159.30" y="729.21" width="18.40" height="7.99" fill="#a9c7ec" stroke="#5d8fd6" stroke-width="0.8" />
<line x1="168.50" y1="725.19" x2="168.50" y2="734.02" stroke="#5d8fd6" stroke-width="0.8" />
<line x1="165.70" y1="725.19" x2="171.30" y2="725.19" stroke="#5d8fd6" stroke-width="0.8" />
<line x1="165.70" y1="734.02" x2="171.30" y2="734.02" stroke="#5d8fd6" stroke-width="0.8" />
<rect x="187.30" y="675.36" width="18.40" height="61.84" fill="#f7e5bd" stroke="#e9c375" stroke-width="0.8" />
<line x1="196.50" y1="663.35" x2="196.50" y2="686.32" stroke="#e9c375" stroke-width="0.8" />
<line x1="193.70" y1="663.35" x2="199.30" y2="663.35" stroke="#e9c375" stroke-width="0.8" />
<line x1="193.70" y1="686.32" x2="199.30" y2="686.32" stroke="#e9c375" stroke-width="0.8" />
<rect x="215.40" y="684.97" width="18.40" height="52.23" fill="#f1c7c9" stroke="#e29b9e" stroke-width="0.8" />
<line x1="224.60" y1="675.01" x2="224.60" y2="694.44" stroke="#e29b9e" stroke-width="0.8" />
<line x1="221.80" y1="675.01" x2="227.40" y2="675.01" stroke="#e29b9e" stroke-width="0.8" />
<line x1="221.80" y1="694.44" x2="227.40" y2="694.44" stroke="#e29b9e" stroke-width="0.8" />
<circle cx="168.50" cy="734.02" r="1.55" fill="#ffffff" stroke="#222" stroke-width="0.75" />
<circle cx="168.50" cy="728.93" r="1.55" fill="#ffffff" stroke="#222" stroke-width="0.75" />
<circle cx="176.60" cy="725.54" r="1.55" fill="#ffffff" stroke="#222" stroke-width="0.75" />
<rect x="195.15" y="662.00" width="2.70" height="2.70" fill="#ffffff" stroke="#222" stroke-width="0.75" />
<rect x="195.15" y="675.78" width="2.70" height="2.70" fill="#ffffff" stroke="#222" stroke-width="0.75" />
<rect x="195.15" y="684.97" width="2.70" height="2.70" fill="#ffffff" stroke="#222" stroke-width="0.75" />
<path d="M223.00,676.21 L226.20,676.21 L224.60,673.41 Z" fill="#222" />
<path d="M223.00,687.52 L226.20,687.52 L224.60,684.72 Z" fill="#222" />
<path d="M223.00,696.00 L226.20,696.00 L224.60,693.20 Z" fill="#222" />
<line x1="150.00" y1="630.80" x2="150.00" y2="737.20" stroke="#555" stroke-width="1.0" />
<line x1="149.50" y1="737.20" x2="242.80" y2="737.20" stroke="#555" stroke-width="1.0" />
<line x1="147.60" y1="737.20" x2="150.00" y2="737.20" stroke="#555" stroke-width="0.8" />
<text x="147.00" y="739.35" font-size="6.0" fill="#222" text-anchor="end" >0</text>
<line x1="147.60" y1="716.00" x2="150.00" y2="716.00" stroke="#555" stroke-width="0.8" />
<text x="147.00" y="718.15" font-size="6.0" fill="#222" text-anchor="end" >3</text>
<line x1="147.60" y1="694.80" x2="150.00" y2="694.80" stroke="#555" stroke-width="0.8" />
<text x="147.00" y="696.95" font-size="6.0" fill="#222" text-anchor="end" >6</text>
<line x1="147.60" y1="673.60" x2="150.00" y2="673.60" stroke="#555" stroke-width="0.8" />
<text x="147.00" y="675.75" font-size="6.0" fill="#222" text-anchor="end" >9</text>
<line x1="147.60" y1="652.40" x2="150.00" y2="652.40" stroke="#555" stroke-width="0.8" />
<text x="147.00" y="654.55" font-size="6.0" fill="#222" text-anchor="end" >12</text>
<line x1="147.60" y1="631.20" x2="150.00" y2="631.20" stroke="#555" stroke-width="0.8" />
<text x="147.00" y="633.35" font-size="6.0" fill="#222" text-anchor="end" >15</text>
<line x1="168.50" y1="737.20" x2="168.50" y2="739.60" stroke="#555" stroke-width="0.8" />
<line x1="196.50" y1="737.20" x2="196.50" y2="739.60" stroke="#555" stroke-width="0.8" />
<line x1="224.60" y1="737.20" x2="224.60" y2="739.60" stroke="#555" stroke-width="0.8" />
<text x="171.10" y="747.40" font-size="6.1" font-weight="bold" fill="#222" text-anchor="end" transform="rotate(-44 171.10 747.40)" >SPG</text>
<text x="199.10" y="747.40" font-size="6.1" font-weight="bold" fill="#222" text-anchor="end" transform="rotate(-44 199.10 747.40)" >DSPG</text>
<text x="227.20" y="747.40" font-size="6.1" font-weight="bold" fill="#222" text-anchor="end" transform="rotate(-44 227.20 747.40)" >DSPG@Pep</text>
<text x="133.10" y="684.20" font-size="7.95" font-weight="bold" text-anchor="middle" textLength="106.00" lengthAdjust="spacingAndGlyphs" transform="rotate(-90 133.10 684.20)" >Relative Gene Expression</text>
<line x1="171.00" y1="636.40" x2="225.90" y2="636.40" stroke="#666" stroke-width="1.2" />
<text x="196.20" y="635.50" font-size="6.8" fill="#222" text-anchor="middle" >***</text>
<line x1="171.00" y1="657.70" x2="197.00" y2="657.70" stroke="#666" stroke-width="1.2" />
<text x="182.10" y="656.80" font-size="6.8" fill="#222" text-anchor="middle" >***</text>
<line x1="197.30" y1="650.00" x2="223.00" y2="650.00" stroke="#666" stroke-width="1.2" />
<text x="209.90" y="647.40" font-size="5.6" fill="#555" text-anchor="middle" >ns</text>
<text x="218.20" y="633.20" font-size="5.3" font-weight="bold" fill="#222" font-style="italic" textLength="21.70" lengthAdjust="spacingAndGlyphs" >COL4A2</text>
<text x="132.70" y="620.20" font-size="11.8" font-weight="bold" >j</text>
<text x="0.60" y="483.60" font-size="11.8" font-weight="bold" >g</text>
<text x="53.80" y="482.70" font-size="8.8" font-weight="bold" text-anchor="middle" >SPG</text>
<text x="145.20" y="483.20" font-size="8.8" font-weight="bold" text-anchor="middle" >DSPG</text>
<text x="241.20" y="483.40" font-size="8.8" font-weight="bold" text-anchor="middle" >DSPG@Pep</text>
<g transform="translate(7.5,541.9) rotate(-90)"><text x="0" y="0" font-size="9.3" font-weight="bold">Ca<tspan font-size="5.4" dy="-3.7">2+</tspan></text></g>
<defs><filter id="gbl" x="-30%" y="-30%" width="160%" height="160%"><feGaussianBlur stdDeviation="0.85"/></filter><filter id="gbl2" x="-30%" y="-30%" width="160%" height="160%"><feGaussianBlur stdDeviation="2.0"/></filter></defs>
<clipPath id="gc57"><circle cx="57.5" cy="538.2" r="43.3"/></clipPath>
<circle cx="57.50" cy="538.20" r="43.30" fill="#021002" />
<g clip-path="url(#gc57)">
<g filter="url(#gbl2)">
<ellipse cx="59.4" cy="564.8" rx="10.8" ry="9.5" fill="#062006" fill-opacity="0.68" transform="rotate(138 59.4 564.8)"/>
<ellipse cx="71.5" cy="504.4" rx="6.1" ry="5.7" fill="#062006" fill-opacity="0.50" transform="rotate(134 71.5 504.4)"/>
<ellipse cx="57.6" cy="522.4" rx="10.2" ry="12.0" fill="#062006" fill-opacity="0.80" transform="rotate(72 57.6 522.4)"/>
<ellipse cx="90.0" cy="508.0" rx="9.5" ry="9.5" fill="#062006" fill-opacity="0.48" transform="rotate(172 90.0 508.0)"/>
<ellipse cx="61.0" cy="571.3" rx="9.2" ry="8.2" fill="#062006" fill-opacity="0.78" transform="rotate(15 61.0 571.3)"/>
<ellipse cx="55.3" cy="581.2" rx="6.7" ry="7.5" fill="#062006" fill-opacity="0.77" transform="rotate(146 55.3 581.2)"/>
<ellipse cx="15.7" cy="527.1" rx="6.3" ry="6.8" fill="#062006" fill-opacity="0.78" transform="rotate(64 15.7 527.1)"/>
<ellipse cx="46.7" cy="562.0" rx="10.3" ry="8.9" fill="#062006" fill-opacity="0.78" transform="rotate(100 46.7 562.0)"/>
<ellipse cx="59.8" cy="526.1" rx="7.3" ry="8.1" fill="#062006" fill-opacity="0.64" transform="rotate(35 59.8 526.1)"/>
<ellipse cx="62.3" cy="542.8" rx="6.6" ry="7.0" fill="#062006" fill-opacity="0.53" transform="rotate(165 62.3 542.8)"/>
<ellipse cx="43.0" cy="573.6" rx="8.9" ry="7.8" fill="#062006" fill-opacity="0.70" transform="rotate(2 43.0 573.6)"/>
<ellipse cx="44.3" cy="535.4" rx="7.4" ry="7.6" fill="#062006" fill-opacity="0.52" transform="rotate(131 44.3 535.4)"/>
<ellipse cx="63.1" cy="554.3" rx="8.0" ry="8.7" fill="#062006" fill-opacity="0.64" transform="rotate(173 63.1 554.3)"/>
<ellipse cx="48.1" cy="511.8" rx="7.3" ry="5.9" fill="#062006" fill-opacity="0.48" transform="rotate(20 48.1 511.8)"/>
</g><g filter="url(#gbl)">
<ellipse cx="51.6" cy="500.2" rx="5.0" ry="5.0" fill="#124a12" transform="rotate(21 51.6 500.2)"/>
<ellipse cx="45.8" cy="511.9" rx="4.5" ry="4.5" fill="#1a6e1a" transform="rotate(2 45.8 511.9)"/>
<ellipse cx="32.6" cy="520.7" rx="4.0" ry="4.6" fill="#208020" transform="rotate(18 32.6 520.7)"/>
<ellipse cx="64.7" cy="513.4" rx="4.0" ry="4.0" fill="#145414" transform="rotate(25 64.7 513.4)"/>
<ellipse cx="77.2" cy="504.6" rx="3.6" ry="3.6" fill="#124812" transform="rotate(19 77.2 504.6)"/>
<ellipse cx="83.0" cy="515.5" rx="3.6" ry="3.6" fill="#155a15" transform="rotate(-27 83.0 515.5)"/>
<ellipse cx="87.4" cy="522.1" rx="3.5" ry="3.5" fill="#124a12" transform="rotate(26 87.4 522.1)"/>
<ellipse cx="31.2" cy="533.1" rx="4.6" ry="4.2" fill="#1a6a1a" transform="rotate(-24 31.2 533.1)"/>
<ellipse cx="67.7" cy="526.5" rx="5.0" ry="5.0" fill="#145014" transform="rotate(16 67.7 526.5)"/>
<ellipse cx="64.0" cy="536.7" rx="6.0" ry="2.6" fill="#124a12" transform="rotate(20 64.0 536.7)"/>
<ellipse cx="44.3" cy="548.4" rx="3.6" ry="3.6" fill="#186418" transform="rotate(9 44.3 548.4)"/>
<ellipse cx="72.0" cy="549.1" rx="4.0" ry="4.0" fill="#1e7a1e" transform="rotate(-6 72.0 549.1)"/>
<ellipse cx="51.6" cy="555.7" rx="4.0" ry="4.0" fill="#186418" transform="rotate(-25 51.6 555.7)"/>
<ellipse cx="67.7" cy="562.3" rx="4.5" ry="4.3" fill="#1a6a1a" transform="rotate(-25 67.7 562.3)"/>
<ellipse cx="48.0" cy="565.2" rx="4.5" ry="4.5" fill="#218a21" transform="rotate(8 48.0 565.2)"/>
<ellipse cx="85.9" cy="555.7" rx="5.0" ry="3.6" fill="#1a661a" transform="rotate(-15 85.9 555.7)"/>
<ellipse cx="84.5" cy="544.0" rx="4.0" ry="4.0" fill="#145414" transform="rotate(2 84.5 544.0)"/>
<ellipse cx="29.0" cy="549.9" rx="4.0" ry="4.0" fill="#104010" transform="rotate(-14 29.0 549.9)"/>
<ellipse cx="30.4" cy="557.2" rx="4.0" ry="4.0" fill="#104010" transform="rotate(-20 30.4 557.2)"/>
<ellipse cx="71.3" cy="574.7" rx="4.0" ry="4.0" fill="#1a6a1a" transform="rotate(-12 71.3 574.7)"/>
<ellipse cx="59.6" cy="557.2" rx="3.0" ry="3.0" fill="#124a12" transform="rotate(13 59.6 557.2)"/>
<ellipse cx="21.7" cy="529.4" rx="3.5" ry="3.5" fill="#0e3a0e" transform="rotate(-1 21.7 529.4)"/>
<ellipse cx="96.1" cy="544.0" rx="3.5" ry="3.5" fill="#0e3a0e" transform="rotate(-6 96.1 544.0)"/>
<ellipse cx="96.1" cy="528.0" rx="3.5" ry="3.5" fill="#0e3a0e" transform="rotate(-1 96.1 528.0)"/>
<ellipse cx="39.2" cy="538.2" rx="4.0" ry="4.0" fill="#0e3a0e" transform="rotate(3 39.2 538.2)"/>
<ellipse cx="53.8" cy="519.2" rx="4.0" ry="4.0" fill="#0e3a0e" transform="rotate(1 53.8 519.2)"/>
<ellipse cx="78.6" cy="558.6" rx="3.5" ry="3.5" fill="#155515" transform="rotate(-3 78.6 558.6)"/>
<ellipse cx="40.0" cy="503.0" rx="4.0" ry="4.0" fill="#0c340c" transform="rotate(28 40.0 503.0)"/>
<ellipse cx="58.0" cy="530.0" rx="4.0" ry="3.5" fill="#0e3a0e" transform="rotate(15 58.0 530.0)"/>
<ellipse cx="22.0" cy="545.0" rx="3.5" ry="3.5" fill="#0c340c" transform="rotate(-16 22.0 545.0)"/>
<ellipse cx="60.0" cy="575.0" rx="4.0" ry="3.5" fill="#0c340c" transform="rotate(-11 60.0 575.0)"/>
<ellipse cx="90.0" cy="535.0" rx="3.5" ry="3.5" fill="#0e3a0e" transform="rotate(-19 90.0 535.0)"/>
</g>
<circle cx="45.73" cy="497.36" r="0.40" fill="#2ab02a" fill-opacity="0.60"/>
<circle cx="63.38" cy="531.50" r="0.40" fill="#2ab02a" fill-opacity="0.66"/>
<circle cx="42.67" cy="545.01" r="0.40" fill="#2ab02a" fill-opacity="0.67"/>
<circle cx="62.34" cy="547.98" r="0.40" fill="#2ab02a" fill-opacity="0.45"/>
<circle cx="100.64" cy="560.26" r="0.40" fill="#2ab02a" fill-opacity="0.42"/>
<circle cx="44.99" cy="546.12" r="0.40" fill="#2ab02a" fill-opacity="0.51"/>
<circle cx="59.52" cy="511.53" r="0.40" fill="#2ab02a" fill-opacity="0.53"/>
<circle cx="75.16" cy="561.15" r="0.40" fill="#2ab02a" fill-opacity="0.48"/>
<circle cx="52.79" cy="538.57" r="0.40" fill="#2ab02a" fill-opacity="0.51"/>
<circle cx="55.33" cy="495.95" r="0.40" fill="#2ab02a" fill-opacity="0.41"/>
<circle cx="99.74" cy="566.46" r="0.40" fill="#2ab02a" fill-opacity="0.49"/>
<circle cx="79.32" cy="513.19" r="0.40" fill="#2ab02a" fill-opacity="0.41"/>
<circle cx="59.03" cy="555.46" r="0.40" fill="#2ab02a" fill-opacity="0.31"/>
<circle cx="55.05" cy="573.37" r="0.40" fill="#2ab02a" fill-opacity="0.54"/>
<circle cx="100.20" cy="503.45" r="0.40" fill="#2ab02a" fill-opacity="0.66"/>
<circle cx="86.72" cy="497.17" r="0.40" fill="#2ab02a" fill-opacity="0.51"/>
<circle cx="79.95" cy="514.13" r="0.40" fill="#2ab02a" fill-opacity="0.56"/>
<circle cx="87.85" cy="563.66" r="0.40" fill="#2ab02a" fill-opacity="0.47"/>
<circle cx="19.25" cy="541.59" r="0.40" fill="#2ab02a" fill-opacity="0.38"/>
<circle cx="60.85" cy="518.23" r="0.40" fill="#2ab02a" fill-opacity="0.44"/>
<circle cx="61.29" cy="565.88" r="0.40" fill="#2ab02a" fill-opacity="0.69"/>
<circle cx="49.32" cy="495.55" r="0.40" fill="#2ab02a" fill-opacity="0.60"/>
<circle cx="43.58" cy="560.51" r="0.40" fill="#2ab02a" fill-opacity="0.63"/>
<circle cx="17.10" cy="558.19" r="0.40" fill="#2ab02a" fill-opacity="0.41"/>
<circle cx="42.05" cy="523.85" r="0.40" fill="#2ab02a" fill-opacity="0.52"/>
<circle cx="35.27" cy="537.72" r="0.40" fill="#2ab02a" fill-opacity="0.41"/>
<circle cx="24.99" cy="516.55" r="0.40" fill="#2ab02a" fill-opacity="0.57"/>
<circle cx="41.09" cy="512.25" r="0.40" fill="#2ab02a" fill-opacity="0.45"/>
<circle cx="32.70" cy="580.16" r="0.40" fill="#2ab02a" fill-opacity="0.61"/>
<circle cx="27.33" cy="520.34" r="0.40" fill="#2ab02a" fill-opacity="0.47"/>
</g>
<circle cx="57.50" cy="538.20" r="43.30" fill="none" stroke="#0a0a0a" stroke-width="0.7" />
<rect x="53.50" y="575.80" width="7.60" height="1.60" fill="#ffffff" />
<clipPath id="gc149"><circle cx="149.5" cy="538.4" r="43.4"/></clipPath>
<circle cx="149.50" cy="538.40" r="43.40" fill="#021002" />
<g clip-path="url(#gc149)">
<g filter="url(#gbl2)">
<ellipse cx="121.8" cy="552.4" rx="7.7" ry="6.4" fill="#062006" fill-opacity="0.60" transform="rotate(88 121.8 552.4)"/>
<ellipse cx="147.7" cy="534.8" rx="7.3" ry="6.3" fill="#062006" fill-opacity="0.53" transform="rotate(125 147.7 534.8)"/>
<ellipse cx="164.7" cy="563.3" rx="10.3" ry="12.1" fill="#062006" fill-opacity="0.49" transform="rotate(42 164.7 563.3)"/>
<ellipse cx="169.9" cy="545.0" rx="7.0" ry="7.4" fill="#062006" fill-opacity="0.73" transform="rotate(157 169.9 545.0)"/>
<ellipse cx="124.9" cy="520.9" rx="6.0" ry="7.2" fill="#062006" fill-opacity="0.69" transform="rotate(40 124.9 520.9)"/>
<ellipse cx="152.8" cy="546.5" rx="8.6" ry="9.7" fill="#062006" fill-opacity="0.52" transform="rotate(108 152.8 546.5)"/>
<ellipse cx="116.1" cy="536.4" rx="10.6" ry="8.7" fill="#062006" fill-opacity="0.65" transform="rotate(123 116.1 536.4)"/>
<ellipse cx="120.0" cy="513.0" rx="9.4" ry="8.9" fill="#062006" fill-opacity="0.59" transform="rotate(73 120.0 513.0)"/>
<ellipse cx="114.9" cy="556.2" rx="8.9" ry="8.9" fill="#062006" fill-opacity="0.72" transform="rotate(61 114.9 556.2)"/>
<ellipse cx="177.6" cy="542.3" rx="6.4" ry="5.3" fill="#062006" fill-opacity="0.43" transform="rotate(27 177.6 542.3)"/>
<ellipse cx="162.4" cy="542.2" rx="7.0" ry="8.1" fill="#062006" fill-opacity="0.72" transform="rotate(113 162.4 542.2)"/>
<ellipse cx="177.1" cy="554.2" rx="8.6" ry="10.3" fill="#062006" fill-opacity="0.68" transform="rotate(24 177.1 554.2)"/>
<ellipse cx="182.9" cy="536.5" rx="10.1" ry="8.4" fill="#062006" fill-opacity="0.51" transform="rotate(75 182.9 536.5)"/>
<ellipse cx="140.6" cy="555.9" rx="6.7" ry="6.1" fill="#062006" fill-opacity="0.52" transform="rotate(152 140.6 555.9)"/>
</g><g filter="url(#gbl)">
<ellipse cx="113.9" cy="534.5" rx="4.0" ry="4.0" fill="#30b030" transform="rotate(-22 113.9 534.5)"/>
<ellipse cx="125.5" cy="534.5" rx="4.5" ry="4.5" fill="#40d040" transform="rotate(30 125.5 534.5)"/>
<ellipse cx="139.4" cy="528.7" rx="5.5" ry="6.5" fill="#30a830" transform="rotate(2 139.4 528.7)"/>
<ellipse cx="162.8" cy="520.7" rx="7.0" ry="5.0" fill="#30a030" transform="rotate(-29 162.8 520.7)"/>
<ellipse cx="132.1" cy="564.5" rx="4.0" ry="6.0" fill="#2a902a" transform="rotate(4 132.1 564.5)"/>
<ellipse cx="181.0" cy="554.2" rx="4.0" ry="8.0" fill="#2a942a" transform="rotate(-21 181.0 554.2)"/>
<ellipse cx="178.8" cy="568.8" rx="3.0" ry="3.0" fill="#40d040" transform="rotate(-20 178.8 568.8)"/>
<ellipse cx="113.1" cy="522.1" rx="3.5" ry="5.0" fill="#2a9a2a" transform="rotate(14 113.1 522.1)"/>
<ellipse cx="149.6" cy="501.7" rx="5.0" ry="5.0" fill="#124a12" transform="rotate(9 149.6 501.7)"/>
<ellipse cx="136.5" cy="508.2" rx="5.0" ry="5.0" fill="#145214" transform="rotate(-4 136.5 508.2)"/>
<ellipse cx="121.9" cy="514.1" rx="5.0" ry="5.0" fill="#124a12" transform="rotate(1 121.9 514.1)"/>
<ellipse cx="141.6" cy="517.0" rx="4.0" ry="4.0" fill="#0e3e0e" transform="rotate(4 141.6 517.0)"/>
<ellipse cx="151.1" cy="515.5" rx="4.0" ry="4.0" fill="#124a12" transform="rotate(-2 151.1 515.5)"/>
<ellipse cx="129.2" cy="548.4" rx="5.0" ry="5.0" fill="#0e3e0e" transform="rotate(-24 129.2 548.4)"/>
<ellipse cx="156.9" cy="551.3" rx="6.0" ry="4.5" fill="#165a16" transform="rotate(16 156.9 551.3)"/>
<ellipse cx="165.7" cy="536.7" rx="5.0" ry="5.0" fill="#124a12" transform="rotate(16 165.7 536.7)"/>
<ellipse cx="186.1" cy="532.3" rx="4.0" ry="4.0" fill="#124a12" transform="rotate(-5 186.1 532.3)"/>
<ellipse cx="187.6" cy="538.2" rx="4.0" ry="4.0" fill="#0e3e0e" transform="rotate(-6 187.6 538.2)"/>
<ellipse cx="152.6" cy="568.8" rx="5.0" ry="5.0" fill="#1a6a1a" transform="rotate(7 152.6 568.8)"/>
<ellipse cx="171.5" cy="564.5" rx="5.0" ry="5.0" fill="#1a6a1a" transform="rotate(-2 171.5 564.5)"/>
<ellipse cx="140.9" cy="558.6" rx="4.0" ry="4.0" fill="#0e3e0e" transform="rotate(-5 140.9 558.6)"/>
<ellipse cx="143.8" cy="547.7" rx="3.5" ry="3.5" fill="#124a12" transform="rotate(23 143.8 547.7)"/>
<ellipse cx="161.3" cy="557.2" rx="4.0" ry="4.0" fill="#0e3e0e" transform="rotate(24 161.3 557.2)"/>
<ellipse cx="140.9" cy="576.1" rx="4.0" ry="4.0" fill="#124a12" transform="rotate(-21 140.9 576.1)"/>
<ellipse cx="123.4" cy="554.2" rx="4.0" ry="4.0" fill="#0e3e0e" transform="rotate(-20 123.4 554.2)"/>
<ellipse cx="114.6" cy="548.4" rx="4.0" ry="4.0" fill="#0e3e0e" transform="rotate(17 114.6 548.4)"/>
<ellipse cx="167.2" cy="503.1" rx="4.0" ry="4.0" fill="#124a12" transform="rotate(27 167.2 503.1)"/>
<ellipse cx="181.8" cy="523.6" rx="4.0" ry="4.0" fill="#124a12" transform="rotate(14 181.8 523.6)"/>
<ellipse cx="158.0" cy="537.0" rx="3.5" ry="3.5" fill="#145414" transform="rotate(-12 158.0 537.0)"/>
<ellipse cx="126.0" cy="524.0" rx="3.5" ry="3.5" fill="#0e3e0e" transform="rotate(-26 126.0 524.0)"/>
</g>
<circle cx="177.91" cy="575.74" r="0.40" fill="#2ab02a" fill-opacity="0.60"/>
<circle cx="169.98" cy="579.43" r="0.40" fill="#2ab02a" fill-opacity="0.51"/>
<circle cx="186.83" cy="517.76" r="0.40" fill="#2ab02a" fill-opacity="0.33"/>
<circle cx="178.96" cy="555.64" r="0.40" fill="#2ab02a" fill-opacity="0.62"/>
<circle cx="117.41" cy="521.05" r="0.40" fill="#2ab02a" fill-opacity="0.53"/>
<circle cx="111.71" cy="523.51" r="0.40" fill="#2ab02a" fill-opacity="0.54"/>
<circle cx="187.42" cy="557.44" r="0.40" fill="#2ab02a" fill-opacity="0.46"/>
<circle cx="141.51" cy="539.52" r="0.40" fill="#2ab02a" fill-opacity="0.60"/>
<circle cx="192.51" cy="495.96" r="0.40" fill="#2ab02a" fill-opacity="0.67"/>
<circle cx="175.77" cy="498.97" r="0.40" fill="#2ab02a" fill-opacity="0.40"/>
<circle cx="129.84" cy="513.71" r="0.40" fill="#2ab02a" fill-opacity="0.36"/>
<circle cx="117.94" cy="553.67" r="0.40" fill="#2ab02a" fill-opacity="0.48"/>
<circle cx="115.39" cy="568.21" r="0.40" fill="#2ab02a" fill-opacity="0.63"/>
<circle cx="128.68" cy="567.02" r="0.40" fill="#2ab02a" fill-opacity="0.61"/>
<circle cx="152.12" cy="502.63" r="0.40" fill="#2ab02a" fill-opacity="0.58"/>
<circle cx="182.02" cy="571.98" r="0.40" fill="#2ab02a" fill-opacity="0.68"/>
<circle cx="120.19" cy="579.71" r="0.40" fill="#2ab02a" fill-opacity="0.34"/>
<circle cx="137.67" cy="541.78" r="0.40" fill="#2ab02a" fill-opacity="0.56"/>
<circle cx="152.07" cy="573.73" r="0.40" fill="#2ab02a" fill-opacity="0.61"/>
<circle cx="180.66" cy="553.74" r="0.40" fill="#2ab02a" fill-opacity="0.48"/>
<circle cx="107.89" cy="551.16" r="0.40" fill="#2ab02a" fill-opacity="0.67"/>
<circle cx="122.63" cy="581.48" r="0.40" fill="#2ab02a" fill-opacity="0.31"/>
<circle cx="140.57" cy="560.18" r="0.40" fill="#2ab02a" fill-opacity="0.59"/>
<circle cx="156.21" cy="519.34" r="0.40" fill="#2ab02a" fill-opacity="0.40"/>
<circle cx="118.25" cy="550.99" r="0.40" fill="#2ab02a" fill-opacity="0.31"/>
<circle cx="117.32" cy="557.24" r="0.40" fill="#2ab02a" fill-opacity="0.48"/>
<circle cx="107.59" cy="531.84" r="0.40" fill="#2ab02a" fill-opacity="0.67"/>
<circle cx="150.52" cy="518.31" r="0.40" fill="#2ab02a" fill-opacity="0.35"/>
<circle cx="149.45" cy="516.04" r="0.40" fill="#2ab02a" fill-opacity="0.41"/>
<circle cx="111.40" cy="547.62" r="0.40" fill="#2ab02a" fill-opacity="0.62"/>
</g>
<circle cx="149.50" cy="538.40" r="43.40" fill="none" stroke="#0a0a0a" stroke-width="0.7" />
<rect x="145.50" y="575.80" width="7.60" height="1.60" fill="#ffffff" />
<clipPath id="gc242"><circle cx="242.2" cy="538.3" r="43.1"/></clipPath>
<circle cx="242.20" cy="538.30" r="43.10" fill="#021002" />
<g clip-path="url(#gc242)">
<g filter="url(#gbl2)">
<ellipse cx="257.5" cy="562.9" rx="8.6" ry="8.4" fill="#062006" fill-opacity="0.80" transform="rotate(71 257.5 562.9)"/>
<ellipse cx="224.0" cy="508.0" rx="7.3" ry="6.3" fill="#062006" fill-opacity="0.51" transform="rotate(59 224.0 508.0)"/>
<ellipse cx="208.4" cy="523.3" rx="7.6" ry="7.6" fill="#062006" fill-opacity="0.43" transform="rotate(36 208.4 523.3)"/>
<ellipse cx="216.6" cy="542.0" rx="7.9" ry="8.6" fill="#062006" fill-opacity="0.57" transform="rotate(145 216.6 542.0)"/>
<ellipse cx="207.7" cy="558.0" rx="9.8" ry="9.1" fill="#062006" fill-opacity="0.52" transform="rotate(118 207.7 558.0)"/>
<ellipse cx="278.0" cy="567.1" rx="10.0" ry="11.7" fill="#062006" fill-opacity="0.62" transform="rotate(42 278.0 567.1)"/>
<ellipse cx="262.1" cy="564.3" rx="8.0" ry="6.5" fill="#062006" fill-opacity="0.44" transform="rotate(113 262.1 564.3)"/>
<ellipse cx="259.9" cy="495.8" rx="8.3" ry="8.0" fill="#062006" fill-opacity="0.59" transform="rotate(22 259.9 495.8)"/>
<ellipse cx="242.2" cy="527.0" rx="10.5" ry="11.9" fill="#062006" fill-opacity="0.50" transform="rotate(160 242.2 527.0)"/>
<ellipse cx="201.3" cy="527.7" rx="6.6" ry="7.0" fill="#062006" fill-opacity="0.45" transform="rotate(47 201.3 527.7)"/>
<ellipse cx="223.6" cy="530.0" rx="9.7" ry="9.3" fill="#062006" fill-opacity="0.67" transform="rotate(54 223.6 530.0)"/>
<ellipse cx="258.4" cy="560.0" rx="6.5" ry="5.1" fill="#062006" fill-opacity="0.66" transform="rotate(91 258.4 560.0)"/>
<ellipse cx="200.5" cy="532.9" rx="7.4" ry="5.8" fill="#062006" fill-opacity="0.51" transform="rotate(31 200.5 532.9)"/>
<ellipse cx="239.4" cy="504.9" rx="9.1" ry="10.4" fill="#062006" fill-opacity="0.43" transform="rotate(123 239.4 504.9)"/>
</g><g filter="url(#gbl)">
<ellipse cx="218.5" cy="529.4" rx="6.0" ry="5.5" fill="#1e7a1e" transform="rotate(9 218.5 529.4)"/>
<ellipse cx="230.2" cy="553.5" rx="6.0" ry="5.0" fill="#249024" transform="rotate(8 230.2 553.5)"/>
<ellipse cx="217.1" cy="560.1" rx="7.0" ry="5.0" fill="#1c701c" transform="rotate(-29 217.1 560.1)"/>
<ellipse cx="232.4" cy="565.2" rx="4.5" ry="4.5" fill="#165a16" transform="rotate(-7 232.4 565.2)"/>
<ellipse cx="241.2" cy="528.7" rx="4.5" ry="4.5" fill="#165a16" transform="rotate(9 241.2 528.7)"/>
<ellipse cx="242.6" cy="541.8" rx="5.5" ry="4.5" fill="#1a6a1a" transform="rotate(27 242.6 541.8)"/>
<ellipse cx="259.4" cy="514.1" rx="6.0" ry="5.0" fill="#1a681a" transform="rotate(26 259.4 514.1)"/>
<ellipse cx="263.1" cy="509.0" rx="4.5" ry="4.5" fill="#165a16" transform="rotate(4 263.1 509.0)"/>
<ellipse cx="225.8" cy="512.6" rx="4.5" ry="4.5" fill="#104410" transform="rotate(5 225.8 512.6)"/>
<ellipse cx="264.5" cy="527.2" rx="4.5" ry="4.5" fill="#104410" transform="rotate(28 264.5 527.2)"/>
<ellipse cx="254.3" cy="533.8" rx="4.5" ry="4.5" fill="#0e3e0e" transform="rotate(-17 254.3 533.8)"/>
<ellipse cx="261.6" cy="548.4" rx="4.0" ry="6.0" fill="#124a12" transform="rotate(1 261.6 548.4)"/>
<ellipse cx="254.3" cy="568.8" rx="4.5" ry="4.5" fill="#0e3e0e" transform="rotate(-26 254.3 568.8)"/>
<ellipse cx="242.6" cy="571.8" rx="4.0" ry="4.0" fill="#0e3e0e" transform="rotate(16 242.6 571.8)"/>
<ellipse cx="203.2" cy="545.5" rx="4.0" ry="4.0" fill="#0e3e0e" transform="rotate(9 203.2 545.5)"/>
<ellipse cx="274.8" cy="517.7" rx="4.0" ry="4.0" fill="#0e3e0e" transform="rotate(-17 274.8 517.7)"/>
<ellipse cx="271.8" cy="563.0" rx="3.5" ry="3.5" fill="#145014" transform="rotate(-18 271.8 563.0)"/>
<ellipse cx="248.5" cy="501.7" rx="4.0" ry="4.0" fill="#0e3e0e" transform="rotate(1 248.5 501.7)"/>
<ellipse cx="222.2" cy="545.5" rx="4.0" ry="4.0" fill="#0e3a0e" transform="rotate(15 222.2 545.5)"/>
<ellipse cx="274.8" cy="538.2" rx="4.0" ry="4.0" fill="#0e3a0e" transform="rotate(-22 274.8 538.2)"/>
<ellipse cx="233.0" cy="505.0" rx="4.0" ry="4.0" fill="#0c360c" transform="rotate(-11 233.0 505.0)"/>
<ellipse cx="210.0" cy="520.0" rx="3.5" ry="3.5" fill="#0c340c" transform="rotate(1 210.0 520.0)"/>
<ellipse cx="268.0" cy="553.0" rx="3.5" ry="3.5" fill="#0e3a0e" transform="rotate(-14 268.0 553.0)"/>
<ellipse cx="235.0" cy="520.0" rx="3.5" ry="3.5" fill="#0c340c" transform="rotate(23 235.0 520.0)"/>
</g>
<circle cx="261.60" cy="577.56" r="0.40" fill="#2ab02a" fill-opacity="0.56"/>
<circle cx="257.83" cy="519.81" r="0.40" fill="#2ab02a" fill-opacity="0.50"/>
<circle cx="236.10" cy="536.44" r="0.40" fill="#2ab02a" fill-opacity="0.32"/>
<circle cx="272.34" cy="508.51" r="0.40" fill="#2ab02a" fill-opacity="0.48"/>
<circle cx="279.27" cy="539.42" r="0.40" fill="#2ab02a" fill-opacity="0.65"/>
<circle cx="221.56" cy="535.44" r="0.40" fill="#2ab02a" fill-opacity="0.45"/>
<circle cx="227.05" cy="527.04" r="0.40" fill="#2ab02a" fill-opacity="0.48"/>
<circle cx="271.66" cy="578.90" r="0.40" fill="#2ab02a" fill-opacity="0.34"/>
<circle cx="256.66" cy="540.79" r="0.40" fill="#2ab02a" fill-opacity="0.47"/>
<circle cx="202.61" cy="526.39" r="0.40" fill="#2ab02a" fill-opacity="0.43"/>
<circle cx="230.74" cy="546.36" r="0.40" fill="#2ab02a" fill-opacity="0.45"/>
<circle cx="224.60" cy="518.84" r="0.40" fill="#2ab02a" fill-opacity="0.69"/>
<circle cx="232.88" cy="579.06" r="0.40" fill="#2ab02a" fill-opacity="0.37"/>
<circle cx="256.33" cy="543.00" r="0.40" fill="#2ab02a" fill-opacity="0.58"/>
<circle cx="243.44" cy="570.53" r="0.40" fill="#2ab02a" fill-opacity="0.54"/>
<circle cx="203.12" cy="554.04" r="0.40" fill="#2ab02a" fill-opacity="0.55"/>
<circle cx="220.25" cy="558.18" r="0.40" fill="#2ab02a" fill-opacity="0.63"/>
<circle cx="222.99" cy="507.99" r="0.40" fill="#2ab02a" fill-opacity="0.42"/>
<circle cx="249.91" cy="533.48" r="0.40" fill="#2ab02a" fill-opacity="0.33"/>
<circle cx="237.86" cy="542.37" r="0.40" fill="#2ab02a" fill-opacity="0.53"/>
<circle cx="229.60" cy="562.89" r="0.40" fill="#2ab02a" fill-opacity="0.57"/>
<circle cx="221.37" cy="525.06" r="0.40" fill="#2ab02a" fill-opacity="0.67"/>
<circle cx="218.15" cy="533.77" r="0.40" fill="#2ab02a" fill-opacity="0.42"/>
<circle cx="249.38" cy="563.74" r="0.40" fill="#2ab02a" fill-opacity="0.35"/>
<circle cx="215.51" cy="500.70" r="0.40" fill="#2ab02a" fill-opacity="0.35"/>
<circle cx="243.98" cy="537.34" r="0.40" fill="#2ab02a" fill-opacity="0.68"/>
<circle cx="238.15" cy="540.49" r="0.40" fill="#2ab02a" fill-opacity="0.31"/>
<circle cx="218.53" cy="521.87" r="0.40" fill="#2ab02a" fill-opacity="0.40"/>
<circle cx="267.03" cy="531.15" r="0.40" fill="#2ab02a" fill-opacity="0.35"/>
<circle cx="245.14" cy="508.66" r="0.40" fill="#2ab02a" fill-opacity="0.37"/>
</g>
<circle cx="242.20" cy="538.30" r="43.10" fill="none" stroke="#0a0a0a" stroke-width="0.7" />
<rect x="238.20" y="575.80" width="7.60" height="1.60" fill="#ffffff" />
<text x="284.40" y="480.90" font-size="11.8" font-weight="bold" >h</text>
<defs><radialGradient id="halo" cx="0.5" cy="0.5" r="0.5"><stop offset="0.6" stop-color="#dfe3ea"/><stop offset="1" stop-color="#ffffff" stop-opacity="0"/></radialGradient><radialGradient id="halo2" cx="0.5" cy="0.5" r="0.5"><stop offset="0.6" stop-color="#f3d7d8"/><stop offset="1" stop-color="#ffffff" stop-opacity="0"/></radialGradient><clipPath id="hL"><rect x="440" y="470" width="50" height="120"/></clipPath><clipPath id="hR"><rect x="490" y="470" width="50" height="120"/></clipPath><clipPath id="hsc"><circle cx="489.8" cy="537.7" r="35.5"/></clipPath></defs>
<rect x="311.00" y="498.40" width="134.00" height="75.00" fill="#edf3fa" />
<path d="M350.3,573.5 C358,550 385,528 445.0,522.8 L445,573.5 Z" fill="#dfe8f5" />
<path d="M350.3,573.5 C358,550 385,528 445.0,522.8" fill="none" stroke="#b0c3da" stroke-width="1.3" stroke-dasharray="3.2,1.8"/>
<rect x="311.00" y="496.20" width="134.00" height="2.40" fill="#bfd2e2" />
<clipPath id="hlb"><rect x="311" y="498.4" width="134" height="75"/></clipPath>
<g clip-path="url(#hlb)">
<path d="M323.5,547 Q337,531 352,523" fill="none" stroke="#93a6c6" stroke-width="6.2" stroke-linecap="round"/>
<path d="M323.5,547 Q337,531 352,523" fill="none" stroke="#f3f7fc" stroke-width="4.7" stroke-linecap="round"/>
<path d="M336,561 Q349,542 365,531.5" fill="none" stroke="#93a6c6" stroke-width="6.2" stroke-linecap="round"/>
<path d="M336,561 Q349,542 365,531.5" fill="none" stroke="#f3f7fc" stroke-width="4.7" stroke-linecap="round"/>
<path d="M347.5,533 L364,531" fill="none" stroke="#93a6c6" stroke-width="5.0" stroke-linecap="round"/>
<path d="M347.5,533 L364,531" fill="none" stroke="#f3f7fc" stroke-width="3.5" stroke-linecap="round"/>
<path d="M313,568 Q318,559 324,553.5" fill="none" stroke="#93a6c6" stroke-width="6.0" stroke-linecap="round"/>
<path d="M313,568 Q318,559 324,553.5" fill="none" stroke="#f3f7fc" stroke-width="4.5" stroke-linecap="round"/>
<path d="M316,578 Q326,556 340,539" fill="none" stroke="#93a6c6" stroke-width="6.0" stroke-linecap="round"/>
<path d="M316,578 Q326,556 340,539" fill="none" stroke="#f3f7fc" stroke-width="4.5" stroke-linecap="round"/>
<path d="M330,578 Q332,570 334.5,566" fill="none" stroke="#93a6c6" stroke-width="5.5" stroke-linecap="round"/>
<path d="M330,578 Q332,570 334.5,566" fill="none" stroke="#f3f7fc" stroke-width="4.0" stroke-linecap="round"/>
<path d="M343,578 Q350,562 358,553" fill="none" stroke="#93a6c6" stroke-width="5.5" stroke-linecap="round"/>
<path d="M343,578 Q350,562 358,553" fill="none" stroke="#f3f7fc" stroke-width="4.0" stroke-linecap="round"/>
</g>
<text x="318.90" y="481.20" font-size="5.0" fill="#333" textLength="15.40" lengthAdjust="spacingAndGlyphs" >Ligand</text>
<circle cx="336.50" cy="479.50" r="0.70" fill="#d8607a" />
<circle cx="338.50" cy="482.00" r="0.50" fill="#8a4a8a" />
<circle cx="340.00" cy="484.00" r="0.50" fill="#8a4a8a" />
<line x1="341.70" y1="496.00" x2="341.70" y2="489.50" stroke="#4a80a8" stroke-width="1.1" />
<path d="M339.10,486.00 Q341.70,491.00 344.30,486.00" fill="none" stroke="#4a80a8" stroke-width="1.2" />
<circle cx="341.70" cy="487.50" r="1.10" fill="#d8324a" />
<text x="345.80" y="489.80" font-size="5.0" fill="#333" textLength="20.70" lengthAdjust="spacingAndGlyphs" >Receptor</text>
<rect x="387.20" y="491.00" width="7.60" height="10.20" fill="#b78fd9" />
<rect x="389.80" y="490.50" width="2.40" height="11.20" fill="#9a70c4" />
<circle cx="385.50" cy="479.00" r="0.50" fill="#7a3a8a" />
<circle cx="387.50" cy="481.00" r="0.50" fill="#7a3a8a" />
<circle cx="386.00" cy="482.50" r="0.50" fill="#7a3a8a" />
<circle cx="388.50" cy="478.00" r="0.40" fill="#b080c0" />
<text x="392.5" y="483.8" font-size="4.8" fill="#333">Ca<tspan font-size="3.1" dy="-1.8">2+</tspan></text>
<text x="397.50" y="494.80" font-size="5.0" fill="#333" textLength="38.30" lengthAdjust="spacingAndGlyphs" >Calcium channel</text>
<line x1="391.00" y1="496.00" x2="391.00" y2="502.30" stroke="#3b7a2a" stroke-width="0.8" />
<path d="M391.00,505.50 L389.10,502.30 L392.90,502.30 Z" fill="#3b7a2a" />
<text x="339.40" y="505.90" font-size="5.0" fill="#4a6ab4" textLength="21.50" lengthAdjust="spacingAndGlyphs" >Activation</text>
<line x1="335.50" y1="501.00" x2="327.45" y2="511.46" stroke="#3b7a2a" stroke-width="0.9" />
<path d="M325.50,514.00 L325.95,510.31 L328.96,512.62 Z" fill="#3b7a2a" />
<rect x="312.0" y="516.4" width="18.8" height="7.0" rx="3.5" fill="#d8ecf4" stroke="#7d98b4" stroke-width="0.6"/>
<text x="321.60" y="522.10" font-size="5.2" font-weight="600" fill="#333" text-anchor="middle" textLength="13.50" lengthAdjust="spacingAndGlyphs" >PLCβ</text>
<line x1="321.40" y1="524.00" x2="321.40" y2="540.30" stroke="#3b7a2a" stroke-width="0.9" />
<path d="M321.40,543.50 L319.50,540.30 L323.30,540.30 Z" fill="#3b7a2a" />
<circle cx="333.50" cy="515.50" r="0.50" fill="#8a4a9a" />
<circle cx="335.00" cy="517.50" r="0.50" fill="#8a4a9a" />
<circle cx="332.50" cy="518.50" r="0.40" fill="#b090c8" />
<circle cx="336.50" cy="514.50" r="0.40" fill="#b090c8" />
<circle cx="334.00" cy="520.00" r="0.40" fill="#b090c8" />
<text x="343.2" y="517.6" font-size="5.2" fill="#333">Ca<tspan font-size="3.3" dy="-2">2+</tspan></text>
<line x1="355.50" y1="516.00" x2="373.50" y2="516.00" stroke="#3b7a2a" stroke-width="0.9" />
<path d="M377.50,516.00 L373.50,518.20 L373.50,513.80 Z" fill="#3b7a2a" />
<rect x="337.5" y="524.5" width="8" height="7" fill="#b88ed8" transform="rotate(-35 341.5 528)"/>
<circle cx="342.50" cy="535.00" r="0.55" fill="#6a2a7a" />
<circle cx="347.50" cy="536.00" r="0.55" fill="#6a2a7a" />
<circle cx="354.50" cy="535.50" r="0.55" fill="#6a2a7a" />
<circle cx="351.50" cy="540.00" r="0.45" fill="#c0a0d0" />
<circle cx="348.00" cy="531.50" r="0.45" fill="#c0a0d0" />
<text x="360.00" y="540.20" font-size="4.5" fill="#8a9ab8" >ER</text>
<circle cx="388.00" cy="514.00" r="0.80" fill="#6a2a7a" />
<circle cx="392.50" cy="515.50" r="0.80" fill="#6a2a7a" />
<circle cx="396.50" cy="514.50" r="0.70" fill="#6a2a7a" />
<circle cx="390.00" cy="518.50" r="0.80" fill="#6a2a7a" />
<circle cx="395.00" cy="519.50" r="0.70" fill="#6a2a7a" />
<circle cx="386.00" cy="517.50" r="0.60" fill="#b090c8" />
<circle cx="399.00" cy="518.00" r="0.60" fill="#b090c8" />
<circle cx="391.50" cy="511.50" r="0.60" fill="#b090c8" />
<circle cx="393.50" cy="522.00" r="0.60" fill="#b090c8" />
<line x1="391.50" y1="527.00" x2="391.50" y2="554.80" stroke="#3b7a2a" stroke-width="0.7" stroke-dasharray="1.5,1"/>
<path d="M391.50,558.00 L389.60,554.80 L393.40,554.80 Z" fill="#3b7a2a" />
<path d="M379.10,561.50 Q381.66,558.70 384.23,561.50 Q386.79,564.30 389.35,561.50 Q391.91,558.70 394.48,561.50 Q397.04,564.30 399.60,561.50 Q402.16,558.70 404.73,561.50 Q407.29,564.30 409.85,561.50 Q412.41,558.70 414.98,561.50 Q417.54,564.30 420.10,561.50 " fill="none" stroke="#1f3f94" stroke-width="1.5" />
<path d="M379.10,561.50 Q381.66,564.30 384.23,561.50 Q386.79,558.70 389.35,561.50 Q391.91,564.30 394.48,561.50 Q397.04,558.70 399.60,561.50 Q402.16,564.30 404.73,561.50 Q407.29,558.70 409.85,561.50 Q412.41,564.30 414.98,561.50 Q417.54,558.70 420.10,561.50 " fill="none" stroke="#1f3f94" stroke-width="1.5" />
<line x1="399.50" y1="558.50" x2="399.50" y2="552.50" stroke="#3b7a2a" stroke-width="0.7" stroke-dasharray="1.5,1"/>
<line x1="399.50" y1="552.50" x2="415.00" y2="552.50" stroke="#3b7a2a" stroke-width="0.7" stroke-dasharray="1.5,1"/>
<path d="M419.00,552.50 L415.00,554.80 L415.00,550.20 Z" fill="#3b7a2a" />
<text x="422.00" y="545.60" font-size="4.8" fill="#3a5cb0" textLength="19.20" lengthAdjust="spacingAndGlyphs" >SCUBE3</text>
<text x="422.00" y="550.80" font-size="4.8" fill="#3a5cb0" textLength="19.00" lengthAdjust="spacingAndGlyphs" >EFEMP1</text>
<text x="422.00" y="556.00" font-size="4.8" fill="#3a5cb0" textLength="21.60" lengthAdjust="spacingAndGlyphs" >SPARCL1</text>
<defs><radialGradient id="hal1" cx="489.4" cy="536.5" r="52" gradientUnits="userSpaceOnUse"><stop offset="0.65" stop-color="#dde4ee"/><stop offset="1" stop-color="#ffffff" stop-opacity="0"/></radialGradient><radialGradient id="hal2" cx="489.4" cy="536.5" r="52" gradientUnits="userSpaceOnUse"><stop offset="0.65" stop-color="#f6d9da"/><stop offset="1" stop-color="#ffffff" stop-opacity="0"/></radialGradient></defs>
<rect x="445.50" y="482.00" width="43.90" height="98.00" fill="url(#hal1)" />
<rect x="489.40" y="482.00" width="49.50" height="98.00" fill="url(#hal2)" />
<text x="461.00" y="492.20" font-size="7.2" fill="#4a70b8" textLength="20.00" lengthAdjust="spacingAndGlyphs" >DSPG</text>
<text x="491.90" y="492.60" font-size="7.2" fill="#d8686e" textLength="39.80" lengthAdjust="spacingAndGlyphs" >DSPG@Pep</text>
<clipPath id="hsc2"><circle cx="489.4" cy="536.5" r="36"/></clipPath>
<g clip-path="url(#hsc2)">
<rect x="452.00" y="499.00" width="37.40" height="76.00" fill="#e6e9ee" />
<rect x="489.40" y="499.00" width="38.00" height="76.00" fill="#f3ddd0" />
<ellipse cx="452.3" cy="501.0" rx="5.6" ry="4.2" fill="#c3c7ce" transform="rotate(14 452.3 501.0)"/>
<ellipse cx="452.9" cy="501.6" rx="2.5" ry="1.9" fill="#a2a6ae" transform="rotate(14 452.3 501.0)"/>
<ellipse cx="464.0" cy="499.6" rx="5.2" ry="4.2" fill="#c3c7ce" transform="rotate(9 464.0 499.6)"/>
<ellipse cx="464.6" cy="500.2" rx="2.3" ry="1.9" fill="#a2a6ae" transform="rotate(9 464.0 499.6)"/>
<ellipse cx="475.0" cy="499.7" rx="5.2" ry="3.6" fill="#c3c7ce" transform="rotate(3 475.0 499.7)"/>
<ellipse cx="475.6" cy="500.3" rx="2.3" ry="1.6" fill="#a2a6ae" transform="rotate(3 475.0 499.7)"/>
<ellipse cx="485.2" cy="499.5" rx="4.9" ry="3.7" fill="#c3c7ce" transform="rotate(25 485.2 499.5)"/>
<ellipse cx="485.8" cy="500.1" rx="2.2" ry="1.6" fill="#a2a6ae" transform="rotate(25 485.2 499.5)"/>
<ellipse cx="496.6" cy="499.8" rx="5.6" ry="3.5" fill="#dcb898" transform="rotate(7 496.6 499.8)"/>
<ellipse cx="497.2" cy="500.4" rx="2.5" ry="1.6" fill="#c39372" transform="rotate(7 496.6 499.8)"/>
<ellipse cx="506.1" cy="499.5" rx="5.6" ry="3.6" fill="#dcb898" transform="rotate(-17 506.1 499.5)"/>
<ellipse cx="506.7" cy="500.1" rx="2.5" ry="1.6" fill="#c39372" transform="rotate(-17 506.1 499.5)"/>
<ellipse cx="519.2" cy="501.2" rx="4.9" ry="4.3" fill="#dcb898" transform="rotate(2 519.2 501.2)"/>
<ellipse cx="519.8" cy="501.8" rx="2.2" ry="1.9" fill="#c39372" transform="rotate(2 519.2 501.2)"/>
<ellipse cx="457.9" cy="508.5" rx="5.7" ry="4.0" fill="#c3c7ce" transform="rotate(28 457.9 508.5)"/>
<ellipse cx="458.5" cy="509.1" rx="2.6" ry="1.8" fill="#a2a6ae" transform="rotate(28 457.9 508.5)"/>
<ellipse cx="469.4" cy="508.7" rx="5.0" ry="3.5" fill="#c3c7ce" transform="rotate(-21 469.4 508.7)"/>
<ellipse cx="470.0" cy="509.3" rx="2.3" ry="1.6" fill="#a2a6ae" transform="rotate(-21 469.4 508.7)"/>
<ellipse cx="478.5" cy="508.7" rx="5.3" ry="3.4" fill="#c3c7ce" transform="rotate(11 478.5 508.7)"/>
<ellipse cx="479.1" cy="509.3" rx="2.4" ry="1.5" fill="#a2a6ae" transform="rotate(11 478.5 508.7)"/>
<ellipse cx="490.1" cy="508.7" rx="5.6" ry="3.8" fill="#dcb898" transform="rotate(-11 490.1 508.7)"/>
<ellipse cx="490.7" cy="509.3" rx="2.5" ry="1.7" fill="#c39372" transform="rotate(-11 490.1 508.7)"/>
<ellipse cx="501.5" cy="509.5" rx="4.7" ry="4.3" fill="#dcb898" transform="rotate(-29 501.5 509.5)"/>
<ellipse cx="502.1" cy="510.1" rx="2.1" ry="1.9" fill="#c39372" transform="rotate(-29 501.5 509.5)"/>
<ellipse cx="513.1" cy="509.8" rx="4.6" ry="4.1" fill="#dcb898" transform="rotate(-8 513.1 509.8)"/>
<ellipse cx="513.7" cy="510.4" rx="2.1" ry="1.8" fill="#c39372" transform="rotate(-8 513.1 509.8)"/>
<ellipse cx="523.7" cy="508.1" rx="4.7" ry="3.6" fill="#dcb898" transform="rotate(27 523.7 508.1)"/>
<ellipse cx="524.3" cy="508.7" rx="2.1" ry="1.6" fill="#c39372" transform="rotate(27 523.7 508.1)"/>
<ellipse cx="451.3" cy="518.2" rx="5.7" ry="4.2" fill="#c3c7ce" transform="rotate(-9 451.3 518.2)"/>
<ellipse cx="451.9" cy="518.8" rx="2.6" ry="1.9" fill="#a2a6ae" transform="rotate(-9 451.3 518.2)"/>
<ellipse cx="462.7" cy="517.7" rx="5.5" ry="3.5" fill="#c3c7ce" transform="rotate(15 462.7 517.7)"/>
<ellipse cx="463.3" cy="518.3" rx="2.5" ry="1.6" fill="#a2a6ae" transform="rotate(15 462.7 517.7)"/>
<ellipse cx="474.7" cy="518.4" rx="4.6" ry="4.3" fill="#c3c7ce" transform="rotate(-25 474.7 518.4)"/>
<ellipse cx="475.3" cy="519.0" rx="2.1" ry="1.9" fill="#a2a6ae" transform="rotate(-25 474.7 518.4)"/>
<ellipse cx="484.6" cy="517.9" rx="5.7" ry="3.7" fill="#c3c7ce" transform="rotate(25 484.6 517.9)"/>
<ellipse cx="485.2" cy="518.5" rx="2.6" ry="1.7" fill="#a2a6ae" transform="rotate(25 484.6 517.9)"/>
<ellipse cx="496.1" cy="517.3" rx="5.0" ry="3.6" fill="#dcb898" transform="rotate(-25 496.1 517.3)"/>
<ellipse cx="496.7" cy="517.9" rx="2.2" ry="1.6" fill="#c39372" transform="rotate(-25 496.1 517.3)"/>
<ellipse cx="506.2" cy="518.1" rx="5.8" ry="3.5" fill="#dcb898" transform="rotate(-27 506.2 518.1)"/>
<ellipse cx="506.8" cy="518.7" rx="2.6" ry="1.6" fill="#c39372" transform="rotate(-27 506.2 518.1)"/>
<ellipse cx="519.2" cy="517.8" rx="5.1" ry="3.6" fill="#dcb898" transform="rotate(6 519.2 517.8)"/>
<ellipse cx="519.8" cy="518.4" rx="2.3" ry="1.6" fill="#c39372" transform="rotate(6 519.2 517.8)"/>
<ellipse cx="458.3" cy="526.2" rx="5.1" ry="3.5" fill="#c3c7ce" transform="rotate(25 458.3 526.2)"/>
<ellipse cx="458.9" cy="526.8" rx="2.3" ry="1.6" fill="#a2a6ae" transform="rotate(25 458.3 526.2)"/>
<ellipse cx="467.4" cy="526.3" rx="5.6" ry="3.5" fill="#c3c7ce" transform="rotate(14 467.4 526.3)"/>
<ellipse cx="468.0" cy="526.9" rx="2.5" ry="1.6" fill="#a2a6ae" transform="rotate(14 467.4 526.3)"/>
<ellipse cx="480.6" cy="526.6" rx="5.5" ry="3.5" fill="#c3c7ce" transform="rotate(-4 480.6 526.6)"/>
<ellipse cx="481.2" cy="527.2" rx="2.5" ry="1.6" fill="#a2a6ae" transform="rotate(-4 480.6 526.6)"/>
<ellipse cx="489.7" cy="527.0" rx="5.0" ry="3.8" fill="#dcb898" transform="rotate(30 489.7 527.0)"/>
<ellipse cx="490.3" cy="527.6" rx="2.2" ry="1.7" fill="#c39372" transform="rotate(30 489.7 527.0)"/>
<ellipse cx="502.3" cy="527.3" rx="5.1" ry="3.8" fill="#dcb898" transform="rotate(14 502.3 527.3)"/>
<ellipse cx="502.9" cy="527.9" rx="2.3" ry="1.7" fill="#c39372" transform="rotate(14 502.3 527.3)"/>
<ellipse cx="512.4" cy="525.9" rx="5.1" ry="3.5" fill="#dcb898" transform="rotate(-7 512.4 525.9)"/>
<ellipse cx="513.0" cy="526.5" rx="2.3" ry="1.6" fill="#c39372" transform="rotate(-7 512.4 525.9)"/>
<ellipse cx="524.7" cy="527.2" rx="5.4" ry="3.8" fill="#dcb898" transform="rotate(-10 524.7 527.2)"/>
<ellipse cx="525.3" cy="527.8" rx="2.4" ry="1.7" fill="#c39372" transform="rotate(-10 524.7 527.2)"/>
<ellipse cx="451.0" cy="534.4" rx="5.5" ry="4.2" fill="#c3c7ce" transform="rotate(-8 451.0 534.4)"/>
<ellipse cx="451.6" cy="535.0" rx="2.5" ry="1.9" fill="#a2a6ae" transform="rotate(-8 451.0 534.4)"/>
<ellipse cx="463.7" cy="535.4" rx="5.4" ry="4.0" fill="#c3c7ce" transform="rotate(16 463.7 535.4)"/>
<ellipse cx="464.3" cy="536.0" rx="2.4" ry="1.8" fill="#a2a6ae" transform="rotate(16 463.7 535.4)"/>
<ellipse cx="473.7" cy="535.3" rx="4.9" ry="3.8" fill="#c3c7ce" transform="rotate(16 473.7 535.3)"/>
<ellipse cx="474.3" cy="535.9" rx="2.2" ry="1.7" fill="#a2a6ae" transform="rotate(16 473.7 535.3)"/>
<ellipse cx="485.5" cy="534.5" rx="5.7" ry="4.0" fill="#c3c7ce" transform="rotate(5 485.5 534.5)"/>
<ellipse cx="486.1" cy="535.1" rx="2.6" ry="1.8" fill="#a2a6ae" transform="rotate(5 485.5 534.5)"/>
<ellipse cx="494.8" cy="535.0" rx="4.9" ry="4.0" fill="#dcb898" transform="rotate(-2 494.8 535.0)"/>
<ellipse cx="495.4" cy="535.6" rx="2.2" ry="1.8" fill="#c39372" transform="rotate(-2 494.8 535.0)"/>
<ellipse cx="507.8" cy="535.2" rx="5.6" ry="3.7" fill="#dcb898" transform="rotate(9 507.8 535.2)"/>
<ellipse cx="508.4" cy="535.8" rx="2.5" ry="1.7" fill="#c39372" transform="rotate(9 507.8 535.2)"/>
<ellipse cx="518.6" cy="535.6" rx="5.0" ry="4.2" fill="#dcb898" transform="rotate(22 518.6 535.6)"/>
<ellipse cx="519.2" cy="536.2" rx="2.3" ry="1.9" fill="#c39372" transform="rotate(22 518.6 535.6)"/>
<ellipse cx="458.0" cy="544.5" rx="5.7" ry="3.9" fill="#c3c7ce" transform="rotate(2 458.0 544.5)"/>
<ellipse cx="458.6" cy="545.1" rx="2.6" ry="1.7" fill="#a2a6ae" transform="rotate(2 458.0 544.5)"/>
<ellipse cx="467.7" cy="544.2" rx="5.7" ry="3.8" fill="#c3c7ce" transform="rotate(11 467.7 544.2)"/>
<ellipse cx="468.3" cy="544.8" rx="2.6" ry="1.7" fill="#a2a6ae" transform="rotate(11 467.7 544.2)"/>
<ellipse cx="480.0" cy="544.0" rx="4.8" ry="4.1" fill="#c3c7ce" transform="rotate(5 480.0 544.0)"/>
<ellipse cx="480.6" cy="544.6" rx="2.2" ry="1.8" fill="#a2a6ae" transform="rotate(5 480.0 544.0)"/>
<ellipse cx="490.9" cy="543.3" rx="5.3" ry="4.1" fill="#dcb898" transform="rotate(8 490.9 543.3)"/>
<ellipse cx="491.5" cy="543.9" rx="2.4" ry="1.8" fill="#c39372" transform="rotate(8 490.9 543.3)"/>
<ellipse cx="502.0" cy="542.6" rx="4.8" ry="3.8" fill="#dcb898" transform="rotate(9 502.0 542.6)"/>
<ellipse cx="502.6" cy="543.2" rx="2.2" ry="1.7" fill="#c39372" transform="rotate(9 502.0 542.6)"/>
<ellipse cx="511.8" cy="543.9" rx="5.4" ry="3.4" fill="#dcb898" transform="rotate(-2 511.8 543.9)"/>
<ellipse cx="512.4" cy="544.5" rx="2.4" ry="1.5" fill="#c39372" transform="rotate(-2 511.8 543.9)"/>
<ellipse cx="522.8" cy="542.6" rx="4.8" ry="3.7" fill="#dcb898" transform="rotate(-19 522.8 542.6)"/>
<ellipse cx="523.4" cy="543.2" rx="2.1" ry="1.7" fill="#c39372" transform="rotate(-19 522.8 542.6)"/>
<ellipse cx="451.3" cy="551.2" rx="5.2" ry="3.7" fill="#c3c7ce" transform="rotate(7 451.3 551.2)"/>
<ellipse cx="451.9" cy="551.8" rx="2.3" ry="1.7" fill="#a2a6ae" transform="rotate(7 451.3 551.2)"/>
<ellipse cx="463.2" cy="551.6" rx="5.7" ry="3.4" fill="#c3c7ce" transform="rotate(-6 463.2 551.6)"/>
<ellipse cx="463.8" cy="552.2" rx="2.6" ry="1.5" fill="#a2a6ae" transform="rotate(-6 463.2 551.6)"/>
<ellipse cx="473.5" cy="551.9" rx="4.7" ry="4.1" fill="#c3c7ce" transform="rotate(-8 473.5 551.9)"/>
<ellipse cx="474.1" cy="552.5" rx="2.1" ry="1.9" fill="#a2a6ae" transform="rotate(-8 473.5 551.9)"/>
<ellipse cx="483.9" cy="552.3" rx="4.7" ry="3.9" fill="#c3c7ce" transform="rotate(-10 483.9 552.3)"/>
<ellipse cx="484.5" cy="552.9" rx="2.1" ry="1.8" fill="#a2a6ae" transform="rotate(-10 483.9 552.3)"/>
<ellipse cx="496.2" cy="553.0" rx="5.6" ry="3.8" fill="#dcb898" transform="rotate(19 496.2 553.0)"/>
<ellipse cx="496.8" cy="553.6" rx="2.5" ry="1.7" fill="#c39372" transform="rotate(19 496.2 553.0)"/>
<ellipse cx="507.3" cy="551.8" rx="4.8" ry="3.9" fill="#dcb898" transform="rotate(4 507.3 551.8)"/>
<ellipse cx="507.9" cy="552.4" rx="2.1" ry="1.8" fill="#c39372" transform="rotate(4 507.3 551.8)"/>
<ellipse cx="519.1" cy="553.0" rx="5.3" ry="3.7" fill="#dcb898" transform="rotate(24 519.1 553.0)"/>
<ellipse cx="519.7" cy="553.6" rx="2.4" ry="1.7" fill="#c39372" transform="rotate(24 519.1 553.0)"/>
<ellipse cx="456.3" cy="559.9" rx="5.3" ry="4.0" fill="#c3c7ce" transform="rotate(-22 456.3 559.9)"/>
<ellipse cx="456.9" cy="560.5" rx="2.4" ry="1.8" fill="#a2a6ae" transform="rotate(-22 456.3 559.9)"/>
<ellipse cx="468.8" cy="561.5" rx="5.1" ry="3.8" fill="#c3c7ce" transform="rotate(-16 468.8 561.5)"/>
<ellipse cx="469.4" cy="562.1" rx="2.3" ry="1.7" fill="#a2a6ae" transform="rotate(-16 468.8 561.5)"/>
<ellipse cx="479.0" cy="561.6" rx="5.1" ry="4.3" fill="#c3c7ce" transform="rotate(25 479.0 561.6)"/>
<ellipse cx="479.6" cy="562.2" rx="2.3" ry="1.9" fill="#a2a6ae" transform="rotate(25 479.0 561.6)"/>
<ellipse cx="490.7" cy="560.2" rx="5.8" ry="3.8" fill="#dcb898" transform="rotate(-5 490.7 560.2)"/>
<ellipse cx="491.3" cy="560.8" rx="2.6" ry="1.7" fill="#c39372" transform="rotate(-5 490.7 560.2)"/>
<ellipse cx="501.1" cy="561.7" rx="5.2" ry="3.7" fill="#dcb898" transform="rotate(-1 501.1 561.7)"/>
<ellipse cx="501.7" cy="562.3" rx="2.3" ry="1.6" fill="#c39372" transform="rotate(-1 501.1 561.7)"/>
<ellipse cx="511.6" cy="560.9" rx="5.1" ry="3.7" fill="#dcb898" transform="rotate(17 511.6 560.9)"/>
<ellipse cx="512.2" cy="561.5" rx="2.3" ry="1.6" fill="#c39372" transform="rotate(17 511.6 560.9)"/>
<ellipse cx="524.3" cy="559.7" rx="5.2" ry="3.6" fill="#dcb898" transform="rotate(26 524.3 559.7)"/>
<ellipse cx="524.9" cy="560.3" rx="2.4" ry="1.6" fill="#c39372" transform="rotate(26 524.3 559.7)"/>
<ellipse cx="452.7" cy="568.8" rx="4.9" ry="3.5" fill="#c3c7ce" transform="rotate(29 452.7 568.8)"/>
<ellipse cx="453.3" cy="569.4" rx="2.2" ry="1.6" fill="#a2a6ae" transform="rotate(29 452.7 568.8)"/>
<ellipse cx="462.5" cy="569.5" rx="5.2" ry="4.0" fill="#c3c7ce" transform="rotate(6 462.5 569.5)"/>
<ellipse cx="463.1" cy="570.1" rx="2.3" ry="1.8" fill="#a2a6ae" transform="rotate(6 462.5 569.5)"/>
<ellipse cx="474.6" cy="568.5" rx="5.5" ry="3.7" fill="#c3c7ce" transform="rotate(2 474.6 568.5)"/>
<ellipse cx="475.2" cy="569.1" rx="2.5" ry="1.7" fill="#a2a6ae" transform="rotate(2 474.6 568.5)"/>
<ellipse cx="484.6" cy="568.9" rx="5.2" ry="3.8" fill="#c3c7ce" transform="rotate(-8 484.6 568.9)"/>
<ellipse cx="485.2" cy="569.5" rx="2.4" ry="1.7" fill="#a2a6ae" transform="rotate(-8 484.6 568.9)"/>
<ellipse cx="496.6" cy="569.5" rx="4.6" ry="3.6" fill="#dcb898" transform="rotate(-3 496.6 569.5)"/>
<ellipse cx="497.2" cy="570.1" rx="2.1" ry="1.6" fill="#c39372" transform="rotate(-3 496.6 569.5)"/>
<ellipse cx="508.0" cy="570.1" rx="5.3" ry="3.4" fill="#dcb898" transform="rotate(17 508.0 570.1)"/>
<ellipse cx="508.6" cy="570.7" rx="2.4" ry="1.5" fill="#c39372" transform="rotate(17 508.0 570.1)"/>
<ellipse cx="517.8" cy="569.5" rx="5.4" ry="4.0" fill="#dcb898" transform="rotate(-1 517.8 569.5)"/>
<ellipse cx="518.4" cy="570.1" rx="2.5" ry="1.8" fill="#c39372" transform="rotate(-1 517.8 569.5)"/>
<rect x="489.0" y="499" width="0.8" height="76" fill="#ffffff" fill-opacity="0.5"/>
<ellipse cx="481" cy="555.6" rx="4" ry="6" fill="#ef8c92" transform="rotate(-10 481 555.6)"/>
<ellipse cx="481" cy="555.6" rx="1.8" ry="2.7" fill="#e4707a" transform="rotate(-10 481 555.6)"/>
<ellipse cx="486.6" cy="533.4" rx="3.5" ry="5" fill="#ef8c92" transform="rotate(-20 486.6 533.4)"/>
<ellipse cx="486.6" cy="533.4" rx="1.575" ry="2.25" fill="#e4707a" transform="rotate(-20 486.6 533.4)"/>
<ellipse cx="469.3" cy="521.6" rx="3" ry="2.3" fill="#ef8c92" transform="rotate(20 469.3 521.6)"/>
<ellipse cx="469.3" cy="521.6" rx="1.35" ry="1.035" fill="#e4707a" transform="rotate(20 469.3 521.6)"/>
<path d="M461.5,532.5 Q466,535.5 470,537 Q476,539 482.5,540.5 Q476.5,541.5 473.5,543.5 Q472.3,548 471.5,552.5 Q470,547.5 468.8,544 Q465.5,538 461.5,532.5 Z" fill="#f0868c" />
<ellipse cx="470.5" cy="540" rx="2" ry="1.6" fill="#e06672"/>
<path d="M481,526 L485,519 L489,516 L487,521 L489,526 L485,524 Z" fill="#f0868c" />
<ellipse cx="495.6" cy="511.2" rx="5" ry="4" fill="#e6d6f0" stroke="#9a72b8" stroke-width="0.7"/>
<circle cx="496.10" cy="511.40" r="1.28" fill="#7a4a9a" />
<ellipse cx="513.7" cy="545.2" rx="3" ry="3.2" fill="#e6d6f0" stroke="#9a72b8" stroke-width="0.7"/>
<circle cx="514.20" cy="545.40" r="0.96" fill="#7a4a9a" />
<ellipse cx="507.4" cy="556.3" rx="4.5" ry="3.5" fill="#e6d6f0" stroke="#9a72b8" stroke-width="0.7"/>
<circle cx="507.90" cy="556.50" r="1.12" fill="#7a4a9a" />
<ellipse cx="491.5" cy="550.7" rx="3.5" ry="4.5" fill="#e6d6f0" stroke="#9a72b8" stroke-width="0.7"/>
<circle cx="492.00" cy="550.90" r="1.12" fill="#7a4a9a" />
<ellipse cx="503.9" cy="535.5" rx="8.3" ry="8.6" fill="#eadcf2" stroke="#6e3e90" stroke-width="1.4"/>
<path d="M495.8,535.2 Q503.9,533.5 512,535.8" fill="none" stroke="#6e3e90" stroke-width="1.1" />
<circle cx="504.50" cy="531.00" r="1.30" fill="#6e3e90" />
<circle cx="503.50" cy="540.00" r="1.30" fill="#6e3e90" />
</g>
<circle cx="489.4" cy="536.5" r="36" fill="none" stroke="#ffffff" stroke-opacity="0.6" stroke-width="0.8"/>
<rect x="539.50" y="498.30" width="133.10" height="74.70" fill="#fce9ee" />
<path d="M578.7,573.0 C586,550 613,528 672.6,523.5 L672.6,573 Z" fill="#dfe8f5" />
<path d="M578.7,573.0 C586,550 613,528 672.6,523.5" fill="none" stroke="#b0c3da" stroke-width="1.3" stroke-dasharray="3.2,1.8"/>
<rect x="539.50" y="496.10" width="133.10" height="2.40" fill="#bfd2e2" />
<clipPath id="hrb"><rect x="539.5" y="498.3" width="133.1" height="74.7"/></clipPath>
<g clip-path="url(#hrb)">
<path d="M552.0,547 Q565.5,531 580.5,523" fill="none" stroke="#93a6c6" stroke-width="6.2" stroke-linecap="round"/>
<path d="M552.0,547 Q565.5,531 580.5,523" fill="none" stroke="#fdf4f7" stroke-width="4.7" stroke-linecap="round"/>
<path d="M564.5,561 Q577.5,542 593.5,531.5" fill="none" stroke="#93a6c6" stroke-width="6.2" stroke-linecap="round"/>
<path d="M564.5,561 Q577.5,542 593.5,531.5" fill="none" stroke="#fdf4f7" stroke-width="4.7" stroke-linecap="round"/>
<path d="M576.0,533 L592.5,531" fill="none" stroke="#93a6c6" stroke-width="5.0" stroke-linecap="round"/>
<path d="M576.0,533 L592.5,531" fill="none" stroke="#fdf4f7" stroke-width="3.5" stroke-linecap="round"/>
<path d="M541.5,568 Q546.5,559 552.5,553.5" fill="none" stroke="#93a6c6" stroke-width="6.0" stroke-linecap="round"/>
<path d="M541.5,568 Q546.5,559 552.5,553.5" fill="none" stroke="#fdf4f7" stroke-width="4.5" stroke-linecap="round"/>
<path d="M544.5,578 Q554.5,556 568.5,539" fill="none" stroke="#93a6c6" stroke-width="6.0" stroke-linecap="round"/>
<path d="M544.5,578 Q554.5,556 568.5,539" fill="none" stroke="#fdf4f7" stroke-width="4.5" stroke-linecap="round"/>
<path d="M558.5,578 Q560.5,570 563.0,566" fill="none" stroke="#93a6c6" stroke-width="5.5" stroke-linecap="round"/>
<path d="M558.5,578 Q560.5,570 563.0,566" fill="none" stroke="#fdf4f7" stroke-width="4.0" stroke-linecap="round"/>
<path d="M571.5,578 Q578.5,562 586.5,553" fill="none" stroke="#93a6c6" stroke-width="5.5" stroke-linecap="round"/>
<path d="M571.5,578 Q578.5,562 586.5,553" fill="none" stroke="#fdf4f7" stroke-width="4.0" stroke-linecap="round"/>
</g>
<text x="547.40" y="481.70" font-size="5.0" fill="#333" textLength="15.40" lengthAdjust="spacingAndGlyphs" >Ligand</text>
<circle cx="565.00" cy="480.00" r="0.70" fill="#d8607a" />
<circle cx="567.00" cy="482.50" r="0.50" fill="#8a4a8a" />
<line x1="570.50" y1="496.50" x2="570.50" y2="490.00" stroke="#4a80a8" stroke-width="1.1" />
<path d="M567.90,486.50 Q570.50,491.50 573.10,486.50" fill="none" stroke="#4a80a8" stroke-width="1.2" />
<circle cx="570.50" cy="488.00" r="1.10" fill="#d8324a" />
<text x="574.80" y="490.20" font-size="5.0" fill="#333" textLength="20.70" lengthAdjust="spacingAndGlyphs" >Receptor</text>
<rect x="615.20" y="491.00" width="7.60" height="10.20" fill="#b78fd9" />
<rect x="617.80" y="490.50" width="2.40" height="11.20" fill="#9a70c4" />
<line x1="619.00" y1="488.00" x2="619.00" y2="505.00" stroke="#8ab04a" stroke-width="0.9" />
<circle cx="616.00" cy="483.50" r="0.50" fill="#7a3a8a" />
<circle cx="620.00" cy="482.00" r="0.50" fill="#7a3a8a" />
<circle cx="618.50" cy="485.00" r="0.40" fill="#b080c0" />
<text x="624.0" y="484.8" font-size="4.8" fill="#333">Ca<tspan font-size="3.1" dy="-1.8">2+</tspan></text>
<text x="625.00" y="494.80" font-size="5.0" fill="#333" textLength="38.30" lengthAdjust="spacingAndGlyphs" >Calcium channel</text>
<text x="541.50" y="506.00" font-size="5.0" fill="#4a6ab4" textLength="12.50" lengthAdjust="spacingAndGlyphs" >Down</text>
<line x1="567.50" y1="501.00" x2="556.00" y2="513.00" stroke="#a83234" stroke-width="0.8" />
<line x1="550.50" y1="509.50" x2="556.50" y2="514.50" stroke="#a83234" stroke-width="0.9" />
<rect x="541.5" y="516.2" width="18.2" height="6.8" rx="3.4" fill="#d8ecf4" stroke="#7d98b4" stroke-width="0.6"/>
<text x="550.60" y="521.80" font-size="5.2" font-weight="600" fill="#333" text-anchor="middle" textLength="13.00" lengthAdjust="spacingAndGlyphs" >PLCβ</text>
<line x1="550.60" y1="524.00" x2="550.60" y2="539.80" stroke="#a83234" stroke-width="0.9" />
<path d="M550.60,543.00 L548.70,539.80 L552.50,539.80 Z" fill="#a83234" />
<text x="563.5" y="513.0" font-size="4.6" fill="#333">Less Ca<tspan font-size="3.0" dy="-1.7">2+</tspan></text>
<circle cx="569.50" cy="516.50" r="0.45" fill="#6a2a7a" />
<circle cx="569.80" cy="519.50" r="0.45" fill="#b090c8" />
<line x1="578.00" y1="516.50" x2="602.60" y2="516.50" stroke="#a83234" stroke-width="0.8" />
<path d="M606.00,516.50 L602.60,518.40 L602.60,514.60 Z" fill="#a83234" />
<rect x="566" y="524.5" width="8" height="7" fill="#b88ed8" transform="rotate(-35 570 528)"/>
<circle cx="571.50" cy="534.00" r="0.55" fill="#6a2a7a" />
<circle cx="576.50" cy="535.00" r="0.55" fill="#6a2a7a" />
<circle cx="583.50" cy="536.00" r="0.55" fill="#6a2a7a" />
<circle cx="570.00" cy="539.00" r="0.55" fill="#6a2a7a" />
<circle cx="580.50" cy="540.00" r="0.45" fill="#c0a0d0" />
<circle cx="569.00" cy="550.50" r="0.55" fill="#6a2a7a" />
<text x="588.50" y="541.50" font-size="4.5" fill="#8a9ab8" >ER</text>
<circle cx="617.00" cy="513.00" r="0.55" fill="#6a2a7a" />
<circle cx="620.00" cy="515.00" r="0.45" fill="#b090c8" />
<circle cx="617.50" cy="518.00" r="0.55" fill="#6a2a7a" />
<circle cx="620.50" cy="518.50" r="0.40" fill="#b090c8" />
<line x1="619.00" y1="527.00" x2="619.00" y2="558.50" stroke="#b05a7a" stroke-width="0.6" stroke-dasharray="1.2,1"/>
<line x1="616.80" y1="558.50" x2="621.20" y2="558.50" stroke="#b05a7a" stroke-width="0.9" />
<path d="M606.90,561.60 Q609.45,558.80 612.00,561.60 Q614.55,564.40 617.10,561.60 Q619.65,558.80 622.20,561.60 Q624.75,564.40 627.30,561.60 Q629.85,558.80 632.40,561.60 Q634.95,564.40 637.50,561.60 Q640.05,558.80 642.60,561.60 Q645.15,564.40 647.70,561.60 " fill="none" stroke="#1f3f94" stroke-width="1.5" />
<path d="M606.90,561.60 Q609.45,564.40 612.00,561.60 Q614.55,558.80 617.10,561.60 Q619.65,564.40 622.20,561.60 Q624.75,558.80 627.30,561.60 Q629.85,564.40 632.40,561.60 Q634.95,558.80 637.50,561.60 Q640.05,564.40 642.60,561.60 Q645.15,558.80 647.70,561.60 " fill="none" stroke="#1f3f94" stroke-width="1.5" />
<line x1="629.00" y1="558.00" x2="629.00" y2="551.50" stroke="#a83234" stroke-width="0.6" stroke-dasharray="1.2,0.9"/>
<line x1="629.00" y1="551.50" x2="647.50" y2="551.50" stroke="#a83234" stroke-width="0.6" stroke-dasharray="1.2,0.9"/>
<line x1="647.50" y1="553.70" x2="647.50" y2="549.30" stroke="#a83234" stroke-width="0.9" />
<text x="649.50" y="545.40" font-size="4.8" fill="#3a5cb0" textLength="20.40" lengthAdjust="spacingAndGlyphs" >SCUBE3</text>
<text x="649.50" y="550.50" font-size="4.8" fill="#3a5cb0" textLength="20.00" lengthAdjust="spacingAndGlyphs" >EFEMP1</text>
<text x="649.50" y="555.60" font-size="4.8" fill="#3a5cb0" textLength="21.90" lengthAdjust="spacingAndGlyphs" >SPARCL1</text>
<path d="M379.7,586.1 Q383,587.8 385.8,588.6 Q389,590.6 392.5,591.3 Q389.3,591.9 387.4,593.2 Q386.2,595.8 385.5,598.6 Q384.6,595.5 383.9,592.6 Q382,589 379.7,586.1 Z" fill="#f08c94" />
<ellipse cx="385.6" cy="590.8" rx="1.6" ry="1.3" fill="#e06672"/>
<text x="400.10" y="594.50" font-size="4.8" fill="#333" textLength="47.40" lengthAdjust="spacingAndGlyphs" >Fibrosing chondrocytes</text>
<ellipse cx="469.3" cy="592.5" rx="4.6" ry="3.2" fill="#f08890" transform="rotate(-30 469.3 592.5)"/>
<ellipse cx="468.5" cy="593" rx="2" ry="1.3" fill="#e05a68"/>
<text x="478.70" y="594.50" font-size="4.8" fill="#333" textLength="54.30" lengthAdjust="spacingAndGlyphs" >Hypertrophic chondrocytes</text>
<ellipse cx="554.5" cy="593" rx="2.6" ry="3.8" fill="#e0d0f0" stroke="#8a5aa8" stroke-width="0.6"/>
<circle cx="554.80" cy="593.50" r="1.10" fill="#8a5aa8" />
<circle cx="568.00" cy="592.60" r="6.20" fill="#e8d8f0" stroke="#6a3a8a" stroke-width="0.9" />
<line x1="568.00" y1="586.50" x2="568.00" y2="598.70" stroke="#6a3a8a" stroke-width="0.6" />
<circle cx="565.50" cy="590.50" r="1.40" fill="#6a3a8a" />
<circle cx="570.50" cy="595.00" r="1.40" fill="#6a3a8a" />
<text x="585.00" y="594.50" font-size="4.8" fill="#333" textLength="29.00" lengthAdjust="spacingAndGlyphs" >Chondrocytes</text>
<defs><filter id="kb05" x="-50%" y="-50%" width="200%" height="200%"><feGaussianBlur stdDeviation="0.4"/></filter><filter id="kb1" x="-50%" y="-50%" width="200%" height="200%"><feGaussianBlur stdDeviation="0.9"/></filter><filter id="kb2" x="-50%" y="-50%" width="200%" height="200%"><feGaussianBlur stdDeviation="1.8"/></filter><filter id="kb3" x="-50%" y="-50%" width="200%" height="200%"><feGaussianBlur stdDeviation="3.0"/></filter></defs>
<text x="253.30" y="621.00" font-size="11.5" font-weight="bold" >k</text>
<text x="337.00" y="621.20" font-size="10.0" font-weight="bold" text-anchor="middle" textLength="21.90" lengthAdjust="spacingAndGlyphs" >SPG</text>
<text x="469.00" y="620.90" font-size="10.0" font-weight="bold" text-anchor="middle" textLength="28.50" lengthAdjust="spacingAndGlyphs" >DSPG</text>
<text x="617.00" y="621.20" font-size="10.0" font-weight="bold" text-anchor="middle" textLength="58.70" lengthAdjust="spacingAndGlyphs" >DSPG@Pep</text>
<text x="264.20" y="664.30" font-size="10.0" font-weight="bold" text-anchor="middle" textLength="51.70" lengthAdjust="spacingAndGlyphs" transform="rotate(-90 264.20 664.30)" >Integrin β1</text>
<text x="264.20" y="738.30" font-size="10.0" font-weight="bold" text-anchor="middle" textLength="53.10" lengthAdjust="spacingAndGlyphs" transform="rotate(-90 264.20 738.30)" >N-cadherin</text>
<clipPath id="kb00"><rect x="269.10" y="627.30" width="88.40" height="69.80"/></clipPath>
<rect x="269.10" y="627.30" width="88.40" height="69.80" fill="#040003" />
<g clip-path="url(#kb00)">
<g filter="url(#kb1)">
<ellipse cx="307.8" cy="664.2" rx="4.8" ry="4.7" fill="#300a38" fill-opacity="0.66" transform="rotate(91 307.8 664.2)"/>
<ellipse cx="320.1" cy="661.8" rx="4.0" ry="3.0" fill="#3a0c44" fill-opacity="0.63" transform="rotate(80 320.1 661.8)"/>
<ellipse cx="320.3" cy="668.1" rx="2.6" ry="3.6" fill="#300a38" fill-opacity="0.82" transform="rotate(174 320.3 668.1)"/>
<ellipse cx="314.8" cy="666.1" rx="4.6" ry="3.0" fill="#3a0c44" fill-opacity="0.78" transform="rotate(6 314.8 666.1)"/>
<ellipse cx="319.2" cy="657.5" rx="4.0" ry="3.0" fill="#44104e" fill-opacity="0.75" transform="rotate(42 319.2 657.5)"/>
<ellipse cx="315.2" cy="661.3" rx="3.2" ry="4.5" fill="#3a0c44" fill-opacity="0.81" transform="rotate(179 315.2 661.3)"/>
<ellipse cx="303.0" cy="654.7" rx="3.2" ry="2.1" fill="#44104e" fill-opacity="0.63" transform="rotate(138 303.0 654.7)"/>
<ellipse cx="302.2" cy="649.9" rx="2.5" ry="2.9" fill="#3a0c44" fill-opacity="0.74" transform="rotate(38 302.2 649.9)"/>
<ellipse cx="294.6" cy="666.3" rx="4.4" ry="3.6" fill="#44104e" fill-opacity="0.60" transform="rotate(16 294.6 666.3)"/>
<ellipse cx="306.4" cy="674.8" rx="2.8" ry="3.3" fill="#44104e" fill-opacity="0.84" transform="rotate(2 306.4 674.8)"/>
<ellipse cx="298.2" cy="664.2" rx="3.6" ry="2.7" fill="#3a0c44" fill-opacity="0.73" transform="rotate(132 298.2 664.2)"/>
<ellipse cx="305.4" cy="659.5" rx="5.0" ry="3.0" fill="#300a38" fill-opacity="0.69" transform="rotate(156 305.4 659.5)"/>
<ellipse cx="305.8" cy="672.8" rx="4.1" ry="2.8" fill="#3a0c44" fill-opacity="0.73" transform="rotate(178 305.8 672.8)"/>
<ellipse cx="321.1" cy="659.2" rx="2.7" ry="2.1" fill="#3a0c44" fill-opacity="0.78" transform="rotate(115 321.1 659.2)"/>
<ellipse cx="305.0" cy="661.1" rx="4.9" ry="4.8" fill="#44104e" fill-opacity="0.65" transform="rotate(103 305.0 661.1)"/>
<ellipse cx="320.6" cy="655.2" rx="3.0" ry="3.5" fill="#3a0c44" fill-opacity="0.81" transform="rotate(169 320.6 655.2)"/>
<ellipse cx="305.6" cy="662.0" rx="2.7" ry="1.7" fill="#300a38" fill-opacity="0.89" transform="rotate(20 305.6 662.0)"/>
<ellipse cx="300.3" cy="668.4" rx="3.1" ry="4.0" fill="#44104e" fill-opacity="0.76" transform="rotate(107 300.3 668.4)"/>
<ellipse cx="296.4" cy="661.9" rx="4.1" ry="4.5" fill="#3a0c44" fill-opacity="0.88" transform="rotate(13 296.4 661.9)"/>
<ellipse cx="301.4" cy="660.9" rx="2.7" ry="2.0" fill="#300a38" fill-opacity="0.89" transform="rotate(66 301.4 660.9)"/>
<ellipse cx="295.2" cy="652.0" rx="3.6" ry="3.1" fill="#300a38" fill-opacity="0.78" transform="rotate(132 295.2 652.0)"/>
<ellipse cx="316.5" cy="675.9" rx="2.6" ry="2.8" fill="#300a38" fill-opacity="0.69" transform="rotate(87 316.5 675.9)"/>
<ellipse cx="307.9" cy="658.7" rx="2.6" ry="3.5" fill="#3a0c44" fill-opacity="0.84" transform="rotate(133 307.9 658.7)"/>
<ellipse cx="316.0" cy="674.1" rx="4.7" ry="4.4" fill="#44104e" fill-opacity="0.77" transform="rotate(142 316.0 674.1)"/>
<ellipse cx="313.9" cy="659.1" rx="4.0" ry="4.3" fill="#300a38" fill-opacity="0.63" transform="rotate(14 313.9 659.1)"/>
<ellipse cx="301.0" cy="660.1" rx="3.3" ry="4.5" fill="#44104e" fill-opacity="0.73" transform="rotate(125 301.0 660.1)"/>
<ellipse cx="313.0" cy="661.9" rx="3.1" ry="3.6" fill="#300a38" fill-opacity="0.80" transform="rotate(90 313.0 661.9)"/>
<ellipse cx="309.0" cy="674.0" rx="3.4" ry="2.4" fill="#300a38" fill-opacity="0.65" transform="rotate(110 309.0 674.0)"/>
<ellipse cx="323.7" cy="667.1" rx="3.6" ry="4.7" fill="#300a38" fill-opacity="0.68" transform="rotate(59 323.7 667.1)"/>
<ellipse cx="314.2" cy="671.3" rx="4.4" ry="3.3" fill="#3a0c44" fill-opacity="0.77" transform="rotate(39 314.2 671.3)"/>
</g>
<g filter="url(#kb05)">
<ellipse cx="302.7" cy="650.5" rx="1.3" ry="1.6" fill="#8a3098" fill-opacity="0.43" transform="rotate(153 302.7 650.5)"/>
<ellipse cx="295.2" cy="661.6" rx="1.7" ry="2.2" fill="#8a3098" fill-opacity="0.60" transform="rotate(69 295.2 661.6)"/>
<ellipse cx="302.7" cy="673.7" rx="1.8" ry="1.7" fill="#7a2a8a" fill-opacity="0.51" transform="rotate(13 302.7 673.7)"/>
<ellipse cx="313.5" cy="668.4" rx="1.1" ry="1.0" fill="#8a3098" fill-opacity="0.41" transform="rotate(117 313.5 668.4)"/>
<ellipse cx="296.0" cy="661.0" rx="0.8" ry="1.0" fill="#7a2a8a" fill-opacity="0.72" transform="rotate(43 296.0 661.0)"/>
<ellipse cx="295.0" cy="663.7" rx="1.4" ry="1.3" fill="#7a2a8a" fill-opacity="0.48" transform="rotate(14 295.0 663.7)"/>
<ellipse cx="308.6" cy="651.9" rx="0.8" ry="0.8" fill="#7a2a8a" fill-opacity="0.49" transform="rotate(129 308.6 651.9)"/>
<ellipse cx="319.8" cy="663.8" rx="1.7" ry="1.7" fill="#7a2a8a" fill-opacity="0.56" transform="rotate(179 319.8 663.8)"/>
<ellipse cx="320.3" cy="675.9" rx="0.9" ry="1.2" fill="#7a2a8a" fill-opacity="0.58" transform="rotate(130 320.3 675.9)"/>
<ellipse cx="291.2" cy="664.2" rx="1.5" ry="1.5" fill="#6a2278" fill-opacity="0.59" transform="rotate(148 291.2 664.2)"/>
<ellipse cx="315.1" cy="652.8" rx="1.5" ry="1.9" fill="#8a3098" fill-opacity="0.45" transform="rotate(115 315.1 652.8)"/>
<ellipse cx="300.0" cy="658.9" rx="0.9" ry="0.8" fill="#6a2278" fill-opacity="0.50" transform="rotate(176 300.0 658.9)"/>
<ellipse cx="309.7" cy="647.2" rx="1.1" ry="1.1" fill="#7a2a8a" fill-opacity="0.49" transform="rotate(50 309.7 647.2)"/>
<ellipse cx="323.1" cy="660.2" rx="0.8" ry="0.9" fill="#7a2a8a" fill-opacity="0.59" transform="rotate(124 323.1 660.2)"/>
<ellipse cx="310.2" cy="668.4" rx="1.2" ry="1.6" fill="#8a3098" fill-opacity="0.43" transform="rotate(104 310.2 668.4)"/>
<ellipse cx="299.2" cy="663.4" rx="1.1" ry="1.3" fill="#8a3098" fill-opacity="0.61" transform="rotate(115 299.2 663.4)"/>
<ellipse cx="315.8" cy="677.5" rx="1.7" ry="1.8" fill="#7a2a8a" fill-opacity="0.79" transform="rotate(55 315.8 677.5)"/>
<ellipse cx="310.4" cy="664.9" rx="1.0" ry="1.0" fill="#8a3098" fill-opacity="0.55" transform="rotate(91 310.4 664.9)"/>
<ellipse cx="310.9" cy="647.5" rx="1.7" ry="1.8" fill="#7a2a8a" fill-opacity="0.60" transform="rotate(178 310.9 647.5)"/>
<ellipse cx="310.9" cy="659.7" rx="1.8" ry="2.4" fill="#6a2278" fill-opacity="0.60" transform="rotate(48 310.9 659.7)"/>
<ellipse cx="303.6" cy="675.7" rx="1.7" ry="2.3" fill="#7a2a8a" fill-opacity="0.48" transform="rotate(94 303.6 675.7)"/>
<ellipse cx="313.9" cy="676.5" rx="0.9" ry="1.1" fill="#7a2a8a" fill-opacity="0.46" transform="rotate(4 313.9 676.5)"/>
<ellipse cx="317.8" cy="654.1" rx="1.3" ry="1.3" fill="#8a3098" fill-opacity="0.65" transform="rotate(105 317.8 654.1)"/>
<ellipse cx="317.6" cy="669.1" rx="1.7" ry="1.0" fill="#8a3098" fill-opacity="0.65" transform="rotate(114 317.6 669.1)"/>
<ellipse cx="310.9" cy="674.5" rx="1.3" ry="1.0" fill="#8a3098" fill-opacity="0.64" transform="rotate(39 310.9 674.5)"/>
<ellipse cx="318.4" cy="672.7" rx="1.7" ry="1.5" fill="#7a2a8a" fill-opacity="0.49" transform="rotate(57 318.4 672.7)"/>
<ellipse cx="296.0" cy="653.9" rx="1.5" ry="1.2" fill="#6a2278" fill-opacity="0.62" transform="rotate(17 296.0 653.9)"/>
<ellipse cx="317.1" cy="652.6" rx="1.4" ry="1.8" fill="#8a3098" fill-opacity="0.67" transform="rotate(17 317.1 652.6)"/>
<ellipse cx="295.3" cy="662.7" rx="1.6" ry="1.6" fill="#7a2a8a" fill-opacity="0.72" transform="rotate(123 295.3 662.7)"/>
<ellipse cx="319.2" cy="666.2" rx="1.7" ry="1.7" fill="#7a2a8a" fill-opacity="0.48" transform="rotate(34 319.2 666.2)"/>
<ellipse cx="308.1" cy="671.2" rx="1.1" ry="1.1" fill="#6a2278" fill-opacity="0.48" transform="rotate(93 308.1 671.2)"/>
<ellipse cx="304.8" cy="666.9" rx="0.8" ry="0.6" fill="#6a2278" fill-opacity="0.70" transform="rotate(73 304.8 666.9)"/>
<ellipse cx="306.0" cy="652.4" rx="1.0" ry="1.0" fill="#7a2a8a" fill-opacity="0.72" transform="rotate(3 306.0 652.4)"/>
<ellipse cx="317.1" cy="674.4" rx="1.4" ry="1.3" fill="#8a3098" fill-opacity="0.63" transform="rotate(108 317.1 674.4)"/>
<ellipse cx="303.6" cy="671.2" rx="1.1" ry="0.7" fill="#7a2a8a" fill-opacity="0.73" transform="rotate(134 303.6 671.2)"/>
<ellipse cx="306.0" cy="675.6" rx="1.7" ry="1.9" fill="#7a2a8a" fill-opacity="0.56" transform="rotate(138 306.0 675.6)"/>
<ellipse cx="303.6" cy="661.5" rx="0.8" ry="0.7" fill="#8a3098" fill-opacity="0.42" transform="rotate(115 303.6 661.5)"/>
<ellipse cx="302.1" cy="653.1" rx="1.2" ry="0.9" fill="#8a3098" fill-opacity="0.80" transform="rotate(14 302.1 653.1)"/>
<ellipse cx="314.8" cy="669.1" rx="1.6" ry="2.2" fill="#8a3098" fill-opacity="0.44" transform="rotate(4 314.8 669.1)"/>
<ellipse cx="299.8" cy="660.6" rx="1.3" ry="1.6" fill="#7a2a8a" fill-opacity="0.44" transform="rotate(117 299.8 660.6)"/>
</g>
<g filter="url(#kb1)">
<ellipse cx="304.5" cy="668.4" rx="3.1" ry="3.1" fill="#1a0420" fill-opacity="0.79" transform="rotate(174 304.5 668.4)"/>
<ellipse cx="310.8" cy="665.9" rx="2.1" ry="2.8" fill="#1a0420" fill-opacity="0.89" transform="rotate(29 310.8 665.9)"/>
<ellipse cx="315.4" cy="662.2" rx="3.2" ry="3.0" fill="#1a0420" fill-opacity="0.76" transform="rotate(89 315.4 662.2)"/>
<ellipse cx="310.8" cy="659.2" rx="2.6" ry="2.9" fill="#1a0420" fill-opacity="0.80" transform="rotate(101 310.8 659.2)"/>
<ellipse cx="313.9" cy="663.0" rx="3.3" ry="3.0" fill="#1a0420" fill-opacity="0.87" transform="rotate(123 313.9 663.0)"/>
<ellipse cx="307.7" cy="661.1" rx="3.9" ry="3.1" fill="#1a0420" fill-opacity="0.64" transform="rotate(94 307.7 661.1)"/>
<ellipse cx="307.5" cy="655.0" rx="3.7" ry="3.3" fill="#1a0420" fill-opacity="0.73" transform="rotate(28 307.5 655.0)"/>
<ellipse cx="312.0" cy="660.7" rx="2.5" ry="2.7" fill="#1a0420" fill-opacity="0.89" transform="rotate(76 312.0 660.7)"/>
<ellipse cx="313.2" cy="657.1" rx="2.2" ry="2.9" fill="#1a0420" fill-opacity="0.68" transform="rotate(141 313.2 657.1)"/>
<ellipse cx="311.0" cy="665.3" rx="3.4" ry="2.6" fill="#1a0420" fill-opacity="0.66" transform="rotate(50 311.0 665.3)"/>
</g>
</g>
<clipPath id="kb01"><rect x="406.10" y="627.30" width="88.40" height="69.80"/></clipPath>
<rect x="406.10" y="627.30" width="88.40" height="69.80" fill="#040003" />
<g clip-path="url(#kb01)">
<g filter="url(#kb3)">
<ellipse cx="430.1" cy="657.8" rx="6.5" ry="4.4" fill="#4a1056" fill-opacity="0.76" transform="rotate(97 430.1 657.8)"/>
<ellipse cx="449.1" cy="652.9" rx="5.4" ry="5.3" fill="#4a1056" fill-opacity="0.78" transform="rotate(24 449.1 652.9)"/>
<ellipse cx="445.8" cy="685.1" rx="7.4" ry="8.9" fill="#6a1a7a" fill-opacity="0.64" transform="rotate(80 445.8 685.1)"/>
<ellipse cx="419.4" cy="639.1" rx="7.3" ry="7.9" fill="#5a1468" fill-opacity="0.65" transform="rotate(52 419.4 639.1)"/>
<ellipse cx="413.4" cy="667.3" rx="5.9" ry="6.8" fill="#4a1056" fill-opacity="0.53" transform="rotate(54 413.4 667.3)"/>
<ellipse cx="425.0" cy="674.1" rx="4.3" ry="3.6" fill="#6a1a7a" fill-opacity="0.60" transform="rotate(130 425.0 674.1)"/>
<ellipse cx="418.7" cy="653.1" rx="6.9" ry="6.2" fill="#3a0c44" fill-opacity="0.70" transform="rotate(21 418.7 653.1)"/>
<ellipse cx="434.3" cy="656.0" rx="7.7" ry="10.2" fill="#6a1a7a" fill-opacity="0.79" transform="rotate(45 434.3 656.0)"/>
<ellipse cx="458.0" cy="683.3" rx="7.0" ry="6.2" fill="#5a1468" fill-opacity="0.79" transform="rotate(70 458.0 683.3)"/>
<ellipse cx="456.1" cy="640.6" rx="7.0" ry="9.2" fill="#4a1056" fill-opacity="0.58" transform="rotate(51 456.1 640.6)"/>
<ellipse cx="411.1" cy="639.4" rx="5.2" ry="3.2" fill="#3a0c44" fill-opacity="0.52" transform="rotate(152 411.1 639.4)"/>
<ellipse cx="454.7" cy="682.7" rx="4.3" ry="2.9" fill="#6a1a7a" fill-opacity="0.53" transform="rotate(133 454.7 682.7)"/>
<ellipse cx="462.4" cy="638.4" rx="7.0" ry="7.8" fill="#5a1468" fill-opacity="0.67" transform="rotate(44 462.4 638.4)"/>
<ellipse cx="446.9" cy="652.6" rx="7.2" ry="6.3" fill="#3a0c44" fill-opacity="0.69" transform="rotate(25 446.9 652.6)"/>
<ellipse cx="470.2" cy="677.2" rx="7.7" ry="7.1" fill="#6a1a7a" fill-opacity="0.80" transform="rotate(149 470.2 677.2)"/>
<ellipse cx="477.7" cy="685.9" rx="7.6" ry="10.3" fill="#7a2088" fill-opacity="0.63" transform="rotate(115 477.7 685.9)"/>
<ellipse cx="462.5" cy="675.6" rx="5.3" ry="4.8" fill="#6a1a7a" fill-opacity="0.84" transform="rotate(95 462.5 675.6)"/>
<ellipse cx="411.3" cy="649.7" rx="4.5" ry="5.0" fill="#5a1468" fill-opacity="0.82" transform="rotate(140 411.3 649.7)"/>
<ellipse cx="448.8" cy="683.6" rx="5.3" ry="4.0" fill="#7a2088" fill-opacity="0.58" transform="rotate(65 448.8 683.6)"/>
<ellipse cx="469.8" cy="669.4" rx="4.9" ry="3.7" fill="#5a1468" fill-opacity="0.82" transform="rotate(51 469.8 669.4)"/>
<ellipse cx="489.4" cy="671.6" rx="7.8" ry="8.1" fill="#3a0c44" fill-opacity="0.81" transform="rotate(154 489.4 671.6)"/>
<ellipse cx="454.7" cy="694.3" rx="5.9" ry="4.6" fill="#5a1468" fill-opacity="0.78" transform="rotate(9 454.7 694.3)"/>
<ellipse cx="440.3" cy="664.8" rx="6.1" ry="5.0" fill="#5a1468" fill-opacity="0.81" transform="rotate(178 440.3 664.8)"/>
<ellipse cx="446.1" cy="645.5" rx="5.7" ry="7.4" fill="#6a1a7a" fill-opacity="0.55" transform="rotate(75 446.1 645.5)"/>
<ellipse cx="461.1" cy="664.0" rx="4.2" ry="4.5" fill="#5a1468" fill-opacity="0.79" transform="rotate(32 461.1 664.0)"/>
<ellipse cx="481.3" cy="685.1" rx="4.3" ry="3.5" fill="#4a1056" fill-opacity="0.81" transform="rotate(129 481.3 685.1)"/>
<ellipse cx="472.6" cy="665.9" rx="6.0" ry="3.7" fill="#5a1468" fill-opacity="0.82" transform="rotate(34 472.6 665.9)"/>
<ellipse cx="424.5" cy="665.9" rx="6.1" ry="4.4" fill="#6a1a7a" fill-opacity="0.61" transform="rotate(150 424.5 665.9)"/>
<ellipse cx="442.1" cy="666.8" rx="8.0" ry="9.1" fill="#4a1056" fill-opacity="0.74" transform="rotate(12 442.1 666.8)"/>
<ellipse cx="415.4" cy="655.6" rx="5.8" ry="8.0" fill="#3a0c44" fill-opacity="0.50" transform="rotate(149 415.4 655.6)"/>
<ellipse cx="439.6" cy="677.3" rx="4.9" ry="5.2" fill="#4a1056" fill-opacity="0.80" transform="rotate(82 439.6 677.3)"/>
<ellipse cx="481.2" cy="678.0" rx="7.6" ry="5.5" fill="#7a2088" fill-opacity="0.76" transform="rotate(113 481.2 678.0)"/>
<ellipse cx="455.4" cy="634.5" rx="4.8" ry="4.3" fill="#6a1a7a" fill-opacity="0.83" transform="rotate(20 455.4 634.5)"/>
<ellipse cx="456.1" cy="678.3" rx="5.3" ry="6.7" fill="#5a1468" fill-opacity="0.72" transform="rotate(17 456.1 678.3)"/>
<ellipse cx="417.7" cy="671.9" rx="4.7" ry="3.6" fill="#3a0c44" fill-opacity="0.71" transform="rotate(7 417.7 671.9)"/>
<ellipse cx="414.0" cy="644.1" rx="4.6" ry="3.2" fill="#4a1056" fill-opacity="0.62" transform="rotate(73 414.0 644.1)"/>
<ellipse cx="418.4" cy="642.6" rx="4.6" ry="5.3" fill="#3a0c44" fill-opacity="0.72" transform="rotate(87 418.4 642.6)"/>
<ellipse cx="470.7" cy="670.7" rx="5.3" ry="6.5" fill="#7a2088" fill-opacity="0.69" transform="rotate(44 470.7 670.7)"/>
<ellipse cx="433.3" cy="658.9" rx="6.2" ry="4.8" fill="#6a1a7a" fill-opacity="0.79" transform="rotate(60 433.3 658.9)"/>
<ellipse cx="460.4" cy="639.4" rx="7.1" ry="9.3" fill="#6a1a7a" fill-opacity="0.71" transform="rotate(99 460.4 639.4)"/>
<ellipse cx="451.7" cy="668.0" rx="4.8" ry="6.5" fill="#5a1468" fill-opacity="0.70" transform="rotate(180 451.7 668.0)"/>
<ellipse cx="408.4" cy="673.9" rx="7.1" ry="5.0" fill="#3a0c44" fill-opacity="0.74" transform="rotate(86 408.4 673.9)"/>
<ellipse cx="438.1" cy="660.4" rx="4.5" ry="6.2" fill="#7a2088" fill-opacity="0.69" transform="rotate(24 438.1 660.4)"/>
<ellipse cx="455.9" cy="667.1" rx="5.1" ry="6.7" fill="#6a1a7a" fill-opacity="0.71" transform="rotate(179 455.9 667.1)"/>
<ellipse cx="427.4" cy="668.0" rx="7.3" ry="5.5" fill="#4a1056" fill-opacity="0.66" transform="rotate(99 427.4 668.0)"/>
<ellipse cx="441.9" cy="682.4" rx="7.7" ry="10.8" fill="#3a0c44" fill-opacity="0.72" transform="rotate(25 441.9 682.4)"/>
<ellipse cx="463.0" cy="681.0" rx="4.6" ry="4.3" fill="#7a2088" fill-opacity="0.64" transform="rotate(6 463.0 681.0)"/>
<ellipse cx="456.7" cy="640.4" rx="6.1" ry="4.9" fill="#6a1a7a" fill-opacity="0.52" transform="rotate(102 456.7 640.4)"/>
<ellipse cx="475.8" cy="678.1" rx="7.2" ry="6.6" fill="#4a1056" fill-opacity="0.66" transform="rotate(90 475.8 678.1)"/>
<ellipse cx="442.6" cy="671.4" rx="6.8" ry="8.2" fill="#3a0c44" fill-opacity="0.81" transform="rotate(135 442.6 671.4)"/>
<ellipse cx="467.4" cy="685.3" rx="4.5" ry="3.1" fill="#6a1a7a" fill-opacity="0.68" transform="rotate(169 467.4 685.3)"/>
<ellipse cx="470.6" cy="690.4" rx="6.9" ry="7.5" fill="#6a1a7a" fill-opacity="0.81" transform="rotate(135 470.6 690.4)"/>
<ellipse cx="487.0" cy="666.0" rx="6.6" ry="9.0" fill="#6a1a7a" fill-opacity="0.80" transform="rotate(158 487.0 666.0)"/>
<ellipse cx="443.5" cy="683.9" rx="4.9" ry="5.9" fill="#4a1056" fill-opacity="0.53" transform="rotate(102 443.5 683.9)"/>
<ellipse cx="453.8" cy="693.9" rx="4.0" ry="3.2" fill="#6a1a7a" fill-opacity="0.56" transform="rotate(54 453.8 693.9)"/>
<ellipse cx="445.2" cy="659.5" rx="6.1" ry="4.4" fill="#5a1468" fill-opacity="0.52" transform="rotate(125 445.2 659.5)"/>
<ellipse cx="433.4" cy="662.8" rx="7.7" ry="10.7" fill="#5a1468" fill-opacity="0.57" transform="rotate(85 433.4 662.8)"/>
<ellipse cx="482.5" cy="676.1" rx="4.2" ry="3.6" fill="#3a0c44" fill-opacity="0.51" transform="rotate(155 482.5 676.1)"/>
<ellipse cx="462.5" cy="676.5" rx="6.2" ry="6.4" fill="#4a1056" fill-opacity="0.73" transform="rotate(43 462.5 676.5)"/>
<ellipse cx="475.3" cy="657.1" rx="4.7" ry="6.0" fill="#5a1468" fill-opacity="0.59" transform="rotate(22 475.3 657.1)"/>
<ellipse cx="470.1" cy="663.0" rx="5.2" ry="4.2" fill="#7a2088" fill-opacity="0.81" transform="rotate(145 470.1 663.0)"/>
<ellipse cx="458.5" cy="644.3" rx="5.2" ry="7.0" fill="#6a1a7a" fill-opacity="0.55" transform="rotate(120 458.5 644.3)"/>
<ellipse cx="465.4" cy="660.3" rx="4.3" ry="5.7" fill="#4a1056" fill-opacity="0.50" transform="rotate(13 465.4 660.3)"/>
<ellipse cx="458.2" cy="665.5" rx="5.7" ry="6.0" fill="#5a1468" fill-opacity="0.59" transform="rotate(30 458.2 665.5)"/>
<ellipse cx="430.8" cy="666.2" rx="4.7" ry="6.3" fill="#4a1056" fill-opacity="0.72" transform="rotate(178 430.8 666.2)"/>
<ellipse cx="487.6" cy="668.7" rx="4.0" ry="5.3" fill="#4a1056" fill-opacity="0.69" transform="rotate(11 487.6 668.7)"/>
<ellipse cx="463.4" cy="653.2" rx="6.6" ry="8.1" fill="#7a2088" fill-opacity="0.79" transform="rotate(93 463.4 653.2)"/>
<ellipse cx="472.2" cy="665.1" rx="6.4" ry="7.8" fill="#3a0c44" fill-opacity="0.58" transform="rotate(20 472.2 665.1)"/>
<ellipse cx="445.2" cy="681.7" rx="7.1" ry="8.8" fill="#3a0c44" fill-opacity="0.69" transform="rotate(42 445.2 681.7)"/>
<ellipse cx="481.9" cy="670.0" rx="5.0" ry="3.8" fill="#4a1056" fill-opacity="0.70" transform="rotate(175 481.9 670.0)"/>
<ellipse cx="450.2" cy="658.4" rx="5.8" ry="4.7" fill="#4a1056" fill-opacity="0.54" transform="rotate(144 450.2 658.4)"/>
<ellipse cx="421.9" cy="672.5" rx="6.3" ry="7.4" fill="#4a1056" fill-opacity="0.61" transform="rotate(112 421.9 672.5)"/>
<ellipse cx="409.8" cy="650.1" rx="6.5" ry="6.6" fill="#7a2088" fill-opacity="0.67" transform="rotate(48 409.8 650.1)"/>
<ellipse cx="463.9" cy="663.6" rx="5.5" ry="4.4" fill="#7a2088" fill-opacity="0.78" transform="rotate(89 463.9 663.6)"/>
<ellipse cx="411.4" cy="656.8" rx="5.5" ry="4.2" fill="#4a1056" fill-opacity="0.54" transform="rotate(175 411.4 656.8)"/>
<ellipse cx="473.2" cy="669.8" rx="4.5" ry="5.4" fill="#4a1056" fill-opacity="0.50" transform="rotate(94 473.2 669.8)"/>
<ellipse cx="442.5" cy="664.7" rx="4.4" ry="4.6" fill="#4a1056" fill-opacity="0.84" transform="rotate(85 442.5 664.7)"/>
<ellipse cx="466.5" cy="677.8" rx="7.9" ry="8.6" fill="#4a1056" fill-opacity="0.69" transform="rotate(53 466.5 677.8)"/>
<ellipse cx="427.5" cy="660.3" rx="7.7" ry="6.9" fill="#7a2088" fill-opacity="0.58" transform="rotate(61 427.5 660.3)"/>
<ellipse cx="420.3" cy="668.8" rx="8.0" ry="9.5" fill="#7a2088" fill-opacity="0.82" transform="rotate(102 420.3 668.8)"/>
<ellipse cx="443.2" cy="645.5" rx="7.2" ry="8.9" fill="#3a0c44" fill-opacity="0.58" transform="rotate(86 443.2 645.5)"/>
<ellipse cx="447.6" cy="649.7" rx="5.8" ry="8.1" fill="#3a0c44" fill-opacity="0.57" transform="rotate(122 447.6 649.7)"/>
<ellipse cx="467.5" cy="653.5" rx="5.1" ry="3.1" fill="#6a1a7a" fill-opacity="0.68" transform="rotate(33 467.5 653.5)"/>
<ellipse cx="456.5" cy="673.2" rx="4.9" ry="3.3" fill="#6a1a7a" fill-opacity="0.55" transform="rotate(10 456.5 673.2)"/>
<ellipse cx="480.7" cy="659.5" rx="7.4" ry="6.7" fill="#7a2088" fill-opacity="0.73" transform="rotate(46 480.7 659.5)"/>
<ellipse cx="432.9" cy="670.3" rx="6.0" ry="4.5" fill="#5a1468" fill-opacity="0.51" transform="rotate(93 432.9 670.3)"/>
<ellipse cx="433.8" cy="657.7" rx="6.2" ry="4.4" fill="#6a1a7a" fill-opacity="0.61" transform="rotate(127 433.8 657.7)"/>
<ellipse cx="446.2" cy="654.4" rx="7.5" ry="9.5" fill="#3a0c44" fill-opacity="0.64" transform="rotate(96 446.2 654.4)"/>
<ellipse cx="426.1" cy="648.6" rx="5.4" ry="4.2" fill="#4a1056" fill-opacity="0.76" transform="rotate(7 426.1 648.6)"/>
<ellipse cx="473.8" cy="679.6" rx="6.6" ry="4.3" fill="#7a2088" fill-opacity="0.74" transform="rotate(154 473.8 679.6)"/>
<ellipse cx="465.3" cy="694.2" rx="7.5" ry="5.9" fill="#4a1056" fill-opacity="0.78" transform="rotate(114 465.3 694.2)"/>
<ellipse cx="416.7" cy="662.4" rx="6.0" ry="8.0" fill="#6a1a7a" fill-opacity="0.58" transform="rotate(51 416.7 662.4)"/>
<ellipse cx="474.4" cy="652.6" rx="6.8" ry="7.0" fill="#3a0c44" fill-opacity="0.78" transform="rotate(134 474.4 652.6)"/>
<ellipse cx="448.6" cy="646.2" rx="7.4" ry="6.3" fill="#3a0c44" fill-opacity="0.54" transform="rotate(165 448.6 646.2)"/>
<ellipse cx="430.2" cy="654.4" rx="7.4" ry="6.2" fill="#6a1a7a" fill-opacity="0.53" transform="rotate(129 430.2 654.4)"/>
<ellipse cx="409.1" cy="650.8" rx="5.5" ry="4.6" fill="#5a1468" fill-opacity="0.72" transform="rotate(147 409.1 650.8)"/>
<ellipse cx="440.2" cy="652.0" rx="7.6" ry="4.7" fill="#5a1468" fill-opacity="0.77" transform="rotate(127 440.2 652.0)"/>
<ellipse cx="461.8" cy="671.2" rx="5.6" ry="5.3" fill="#3a0c44" fill-opacity="0.81" transform="rotate(50 461.8 671.2)"/>
<ellipse cx="409.4" cy="637.8" rx="6.0" ry="5.1" fill="#4a1056" fill-opacity="0.55" transform="rotate(65 409.4 637.8)"/>
<ellipse cx="423.1" cy="644.2" rx="6.7" ry="5.3" fill="#7a2088" fill-opacity="0.84" transform="rotate(0 423.1 644.2)"/>
</g>
<g filter="url(#kb05)">
<ellipse cx="406.3" cy="666.1" rx="1.2" ry="7.1" fill="#c850d8" fill-opacity="0.41" transform="rotate(-48 406.3 666.1)"/>
<ellipse cx="423.1" cy="639.6" rx="0.8" ry="4.4" fill="#c850d8" fill-opacity="0.45" transform="rotate(-26 423.1 639.6)"/>
<ellipse cx="453.5" cy="644.8" rx="0.7" ry="3.0" fill="#a030b0" fill-opacity="0.65" transform="rotate(-45 453.5 644.8)"/>
<ellipse cx="481.6" cy="663.8" rx="1.0" ry="3.3" fill="#9028a0" fill-opacity="0.65" transform="rotate(-31 481.6 663.8)"/>
<ellipse cx="410.8" cy="646.0" rx="0.9" ry="5.6" fill="#c850d8" fill-opacity="0.45" transform="rotate(-38 410.8 646.0)"/>
<ellipse cx="466.8" cy="641.1" rx="1.2" ry="4.5" fill="#a030b0" fill-opacity="0.53" transform="rotate(-33 466.8 641.1)"/>
<ellipse cx="443.4" cy="677.1" rx="1.0" ry="6.3" fill="#a030b0" fill-opacity="0.38" transform="rotate(-26 443.4 677.1)"/>
<ellipse cx="461.3" cy="648.6" rx="1.0" ry="7.0" fill="#a030b0" fill-opacity="0.41" transform="rotate(-36 461.3 648.6)"/>
<ellipse cx="430.1" cy="645.8" rx="1.0" ry="4.7" fill="#a030b0" fill-opacity="0.32" transform="rotate(-30 430.1 645.8)"/>
<ellipse cx="409.8" cy="648.2" rx="1.1" ry="7.6" fill="#c850d8" fill-opacity="0.66" transform="rotate(-46 409.8 648.2)"/>
<ellipse cx="480.1" cy="687.4" rx="0.6" ry="2.1" fill="#c850d8" fill-opacity="0.39" transform="rotate(-37 480.1 687.4)"/>
<ellipse cx="470.2" cy="656.6" rx="0.6" ry="3.3" fill="#a030b0" fill-opacity="0.52" transform="rotate(-30 470.2 656.6)"/>
<ellipse cx="456.4" cy="638.4" rx="1.0" ry="4.1" fill="#9028a0" fill-opacity="0.38" transform="rotate(-43 456.4 638.4)"/>
<ellipse cx="455.1" cy="667.0" rx="0.6" ry="1.9" fill="#b838c8" fill-opacity="0.30" transform="rotate(-27 455.1 667.0)"/>
<ellipse cx="437.3" cy="667.0" rx="0.9" ry="3.7" fill="#c850d8" fill-opacity="0.41" transform="rotate(-31 437.3 667.0)"/>
<ellipse cx="480.2" cy="678.4" rx="0.6" ry="2.0" fill="#b838c8" fill-opacity="0.57" transform="rotate(-45 480.2 678.4)"/>
<ellipse cx="455.5" cy="632.8" rx="0.9" ry="5.7" fill="#c850d8" fill-opacity="0.30" transform="rotate(-48 455.5 632.8)"/>
<ellipse cx="452.9" cy="684.2" rx="1.1" ry="6.7" fill="#b838c8" fill-opacity="0.67" transform="rotate(-38 452.9 684.2)"/>
<ellipse cx="448.9" cy="686.3" rx="0.8" ry="5.5" fill="#b838c8" fill-opacity="0.53" transform="rotate(-31 448.9 686.3)"/>
<ellipse cx="426.2" cy="655.2" rx="0.8" ry="4.5" fill="#c850d8" fill-opacity="0.55" transform="rotate(-26 426.2 655.2)"/>
<ellipse cx="446.0" cy="650.0" rx="0.6" ry="3.1" fill="#c850d8" fill-opacity="0.43" transform="rotate(-32 446.0 650.0)"/>
<ellipse cx="472.1" cy="666.1" rx="1.0" ry="3.9" fill="#a030b0" fill-opacity="0.45" transform="rotate(-47 472.1 666.1)"/>
<ellipse cx="480.7" cy="680.9" rx="0.5" ry="1.9" fill="#b838c8" fill-opacity="0.53" transform="rotate(-48 480.7 680.9)"/>
<ellipse cx="434.6" cy="661.1" rx="1.3" ry="6.3" fill="#a030b0" fill-opacity="0.63" transform="rotate(-27 434.6 661.1)"/>
<ellipse cx="412.2" cy="655.3" rx="1.2" ry="8.1" fill="#b838c8" fill-opacity="0.36" transform="rotate(-27 412.2 655.3)"/>
<ellipse cx="462.5" cy="654.5" rx="1.0" ry="3.9" fill="#9028a0" fill-opacity="0.64" transform="rotate(-32 462.5 654.5)"/>
<ellipse cx="461.9" cy="663.2" rx="1.0" ry="3.3" fill="#9028a0" fill-opacity="0.47" transform="rotate(-25 461.9 663.2)"/>
<ellipse cx="447.6" cy="686.1" rx="0.9" ry="4.1" fill="#b838c8" fill-opacity="0.51" transform="rotate(-34 447.6 686.1)"/>
<ellipse cx="408.9" cy="671.7" rx="0.9" ry="4.6" fill="#c850d8" fill-opacity="0.36" transform="rotate(-32 408.9 671.7)"/>
<ellipse cx="471.7" cy="650.0" rx="1.1" ry="7.6" fill="#a030b0" fill-opacity="0.60" transform="rotate(-38 471.7 650.0)"/>
<ellipse cx="428.4" cy="646.5" rx="0.6" ry="2.0" fill="#c850d8" fill-opacity="0.48" transform="rotate(-40 428.4 646.5)"/>
<ellipse cx="453.7" cy="688.0" rx="0.7" ry="2.7" fill="#b838c8" fill-opacity="0.34" transform="rotate(-31 453.7 688.0)"/>
<ellipse cx="445.2" cy="680.6" rx="1.2" ry="4.0" fill="#b838c8" fill-opacity="0.61" transform="rotate(-35 445.2 680.6)"/>
<ellipse cx="454.9" cy="690.8" rx="1.1" ry="4.1" fill="#b838c8" fill-opacity="0.43" transform="rotate(-39 454.9 690.8)"/>
<ellipse cx="425.5" cy="648.3" rx="0.8" ry="4.5" fill="#9028a0" fill-opacity="0.66" transform="rotate(-49 425.5 648.3)"/>
<ellipse cx="424.4" cy="671.8" rx="1.2" ry="7.1" fill="#9028a0" fill-opacity="0.45" transform="rotate(-44 424.4 671.8)"/>
<ellipse cx="478.7" cy="676.7" rx="1.2" ry="8.0" fill="#a030b0" fill-opacity="0.58" transform="rotate(-30 478.7 676.7)"/>
<ellipse cx="467.7" cy="660.6" rx="0.6" ry="2.1" fill="#c850d8" fill-opacity="0.42" transform="rotate(-22 467.7 660.6)"/>
<ellipse cx="483.5" cy="681.5" rx="0.7" ry="2.2" fill="#c850d8" fill-opacity="0.63" transform="rotate(-42 483.5 681.5)"/>
<ellipse cx="442.4" cy="659.9" rx="0.9" ry="6.1" fill="#9028a0" fill-opacity="0.39" transform="rotate(-40 442.4 659.9)"/>
<ellipse cx="457.6" cy="648.1" rx="1.2" ry="5.0" fill="#9028a0" fill-opacity="0.39" transform="rotate(-24 457.6 648.1)"/>
<ellipse cx="448.5" cy="642.2" rx="0.8" ry="3.2" fill="#c850d8" fill-opacity="0.47" transform="rotate(-31 448.5 642.2)"/>
<ellipse cx="431.0" cy="658.8" rx="1.3" ry="5.3" fill="#a030b0" fill-opacity="0.31" transform="rotate(-29 431.0 658.8)"/>
<ellipse cx="439.4" cy="669.3" rx="1.2" ry="5.4" fill="#b838c8" fill-opacity="0.63" transform="rotate(-42 439.4 669.3)"/>
<ellipse cx="481.7" cy="669.1" rx="0.9" ry="3.2" fill="#b838c8" fill-opacity="0.62" transform="rotate(-23 481.7 669.1)"/>
<ellipse cx="458.5" cy="676.5" rx="1.3" ry="8.1" fill="#a030b0" fill-opacity="0.49" transform="rotate(-24 458.5 676.5)"/>
<ellipse cx="438.2" cy="660.5" rx="0.8" ry="4.3" fill="#a030b0" fill-opacity="0.69" transform="rotate(-32 438.2 660.5)"/>
<ellipse cx="479.8" cy="673.2" rx="1.1" ry="7.4" fill="#9028a0" fill-opacity="0.56" transform="rotate(-48 479.8 673.2)"/>
<ellipse cx="452.1" cy="668.7" rx="0.9" ry="5.7" fill="#b838c8" fill-opacity="0.60" transform="rotate(-35 452.1 668.7)"/>
<ellipse cx="413.4" cy="640.0" rx="1.0" ry="5.6" fill="#c850d8" fill-opacity="0.57" transform="rotate(-28 413.4 640.0)"/>
<ellipse cx="419.9" cy="654.0" rx="0.8" ry="5.0" fill="#b838c8" fill-opacity="0.44" transform="rotate(-24 419.9 654.0)"/>
<ellipse cx="453.7" cy="665.2" rx="0.6" ry="3.6" fill="#b838c8" fill-opacity="0.33" transform="rotate(-41 453.7 665.2)"/>
<ellipse cx="427.2" cy="674.1" rx="0.9" ry="3.8" fill="#a030b0" fill-opacity="0.40" transform="rotate(-39 427.2 674.1)"/>
<ellipse cx="425.4" cy="659.6" rx="0.9" ry="4.6" fill="#b838c8" fill-opacity="0.62" transform="rotate(-24 425.4 659.6)"/>
<ellipse cx="456.2" cy="640.4" rx="1.0" ry="6.8" fill="#b838c8" fill-opacity="0.47" transform="rotate(-29 456.2 640.4)"/>
<ellipse cx="407.0" cy="639.1" rx="1.2" ry="6.9" fill="#a030b0" fill-opacity="0.42" transform="rotate(-29 407.0 639.1)"/>
<ellipse cx="461.1" cy="656.4" rx="0.9" ry="5.9" fill="#b838c8" fill-opacity="0.46" transform="rotate(-34 461.1 656.4)"/>
<ellipse cx="453.8" cy="673.7" rx="0.8" ry="5.5" fill="#a030b0" fill-opacity="0.53" transform="rotate(-44 453.8 673.7)"/>
<ellipse cx="450.6" cy="690.7" rx="0.8" ry="3.4" fill="#c850d8" fill-opacity="0.39" transform="rotate(-28 450.6 690.7)"/>
<ellipse cx="440.2" cy="673.1" rx="0.8" ry="2.7" fill="#b838c8" fill-opacity="0.37" transform="rotate(-41 440.2 673.1)"/>
<ellipse cx="440.0" cy="650.7" rx="1.2" ry="6.6" fill="#b838c8" fill-opacity="0.43" transform="rotate(-29 440.0 650.7)"/>
<ellipse cx="449.1" cy="644.3" rx="1.1" ry="5.4" fill="#9028a0" fill-opacity="0.54" transform="rotate(-50 449.1 644.3)"/>
<ellipse cx="473.5" cy="652.2" rx="1.2" ry="4.6" fill="#9028a0" fill-opacity="0.56" transform="rotate(-32 473.5 652.2)"/>
<ellipse cx="456.9" cy="635.2" rx="0.8" ry="3.2" fill="#b838c8" fill-opacity="0.43" transform="rotate(-42 456.9 635.2)"/>
<ellipse cx="478.9" cy="682.7" rx="1.0" ry="3.3" fill="#b838c8" fill-opacity="0.46" transform="rotate(-27 478.9 682.7)"/>
<ellipse cx="413.5" cy="638.0" rx="0.8" ry="4.5" fill="#a030b0" fill-opacity="0.53" transform="rotate(-31 413.5 638.0)"/>
<ellipse cx="443.2" cy="675.3" rx="1.3" ry="8.6" fill="#b838c8" fill-opacity="0.48" transform="rotate(-48 443.2 675.3)"/>
<ellipse cx="472.9" cy="654.5" rx="0.9" ry="4.1" fill="#c850d8" fill-opacity="0.66" transform="rotate(-46 472.9 654.5)"/>
<ellipse cx="470.8" cy="686.0" rx="1.3" ry="5.6" fill="#b838c8" fill-opacity="0.58" transform="rotate(-25 470.8 686.0)"/>
<ellipse cx="441.3" cy="676.0" rx="1.0" ry="3.5" fill="#b838c8" fill-opacity="0.47" transform="rotate(-24 441.3 676.0)"/>
<ellipse cx="453.7" cy="686.2" rx="0.6" ry="3.9" fill="#b838c8" fill-opacity="0.66" transform="rotate(-36 453.7 686.2)"/>
<ellipse cx="468.6" cy="662.5" rx="0.8" ry="5.3" fill="#9028a0" fill-opacity="0.34" transform="rotate(-35 468.6 662.5)"/>
<ellipse cx="458.1" cy="642.4" rx="0.8" ry="2.8" fill="#9028a0" fill-opacity="0.48" transform="rotate(-40 458.1 642.4)"/>
<ellipse cx="458.4" cy="660.3" rx="1.1" ry="4.0" fill="#9028a0" fill-opacity="0.43" transform="rotate(-29 458.4 660.3)"/>
<ellipse cx="468.1" cy="644.6" rx="0.7" ry="4.2" fill="#c850d8" fill-opacity="0.67" transform="rotate(-33 468.1 644.6)"/>
<ellipse cx="427.6" cy="643.2" rx="1.2" ry="4.0" fill="#9028a0" fill-opacity="0.66" transform="rotate(-45 427.6 643.2)"/>
<ellipse cx="446.6" cy="662.0" rx="0.7" ry="4.1" fill="#c850d8" fill-opacity="0.50" transform="rotate(-47 446.6 662.0)"/>
<ellipse cx="449.6" cy="662.2" rx="0.9" ry="5.9" fill="#c850d8" fill-opacity="0.34" transform="rotate(-39 449.6 662.2)"/>
<ellipse cx="423.7" cy="665.3" rx="1.0" ry="3.4" fill="#a030b0" fill-opacity="0.66" transform="rotate(-27 423.7 665.3)"/>
<ellipse cx="488.2" cy="675.9" rx="0.8" ry="5.4" fill="#c850d8" fill-opacity="0.54" transform="rotate(-28 488.2 675.9)"/>
<ellipse cx="415.8" cy="653.1" rx="0.6" ry="4.2" fill="#c850d8" fill-opacity="0.40" transform="rotate(-30 415.8 653.1)"/>
<ellipse cx="417.7" cy="661.9" rx="0.7" ry="3.0" fill="#a030b0" fill-opacity="0.65" transform="rotate(-42 417.7 661.9)"/>
<ellipse cx="482.1" cy="670.4" rx="0.9" ry="5.6" fill="#c850d8" fill-opacity="0.42" transform="rotate(-34 482.1 670.4)"/>
<ellipse cx="444.0" cy="682.2" rx="1.0" ry="5.3" fill="#c850d8" fill-opacity="0.44" transform="rotate(-36 444.0 682.2)"/>
<ellipse cx="425.2" cy="672.5" rx="0.7" ry="4.2" fill="#b838c8" fill-opacity="0.68" transform="rotate(-23 425.2 672.5)"/>
<ellipse cx="464.5" cy="633.4" rx="1.2" ry="4.2" fill="#b838c8" fill-opacity="0.38" transform="rotate(-33 464.5 633.4)"/>
<ellipse cx="438.7" cy="652.8" rx="0.6" ry="4.2" fill="#a030b0" fill-opacity="0.31" transform="rotate(-30 438.7 652.8)"/>
<ellipse cx="456.8" cy="696.1" rx="1.0" ry="6.7" fill="#b838c8" fill-opacity="0.47" transform="rotate(-26 456.8 696.1)"/>
<ellipse cx="467.8" cy="670.6" rx="1.2" ry="8.1" fill="#a030b0" fill-opacity="0.49" transform="rotate(-47 467.8 670.6)"/>
<ellipse cx="413.0" cy="662.0" rx="0.9" ry="6.5" fill="#a030b0" fill-opacity="0.66" transform="rotate(-33 413.0 662.0)"/>
<ellipse cx="428.8" cy="643.6" rx="0.7" ry="2.6" fill="#a030b0" fill-opacity="0.64" transform="rotate(-34 428.8 643.6)"/>
<ellipse cx="449.6" cy="669.1" rx="1.0" ry="5.7" fill="#a030b0" fill-opacity="0.33" transform="rotate(-32 449.6 669.1)"/>
<ellipse cx="479.8" cy="675.9" rx="0.9" ry="4.9" fill="#b838c8" fill-opacity="0.30" transform="rotate(-27 479.8 675.9)"/>
<ellipse cx="442.3" cy="651.6" rx="0.8" ry="2.4" fill="#c850d8" fill-opacity="0.32" transform="rotate(-27 442.3 651.6)"/>
<ellipse cx="438.9" cy="678.2" rx="0.9" ry="4.0" fill="#9028a0" fill-opacity="0.37" transform="rotate(-30 438.9 678.2)"/>
<ellipse cx="419.3" cy="645.9" rx="0.9" ry="5.4" fill="#a030b0" fill-opacity="0.57" transform="rotate(-40 419.3 645.9)"/>
<ellipse cx="460.3" cy="669.5" rx="1.0" ry="5.1" fill="#c850d8" fill-opacity="0.39" transform="rotate(-49 460.3 669.5)"/>
<ellipse cx="432.8" cy="651.2" rx="1.1" ry="6.2" fill="#b838c8" fill-opacity="0.33" transform="rotate(-26 432.8 651.2)"/>
<ellipse cx="425.4" cy="657.0" rx="1.3" ry="5.8" fill="#b838c8" fill-opacity="0.70" transform="rotate(-39 425.4 657.0)"/>
<ellipse cx="476.3" cy="682.3" rx="0.8" ry="4.7" fill="#c850d8" fill-opacity="0.52" transform="rotate(-39 476.3 682.3)"/>
<ellipse cx="420.2" cy="662.4" rx="0.7" ry="2.9" fill="#a030b0" fill-opacity="0.36" transform="rotate(-46 420.2 662.4)"/>
<ellipse cx="466.4" cy="689.2" rx="1.1" ry="7.3" fill="#c850d8" fill-opacity="0.59" transform="rotate(-36 466.4 689.2)"/>
<ellipse cx="470.6" cy="675.0" rx="0.6" ry="2.6" fill="#c850d8" fill-opacity="0.51" transform="rotate(-33 470.6 675.0)"/>
<ellipse cx="454.1" cy="667.6" rx="1.1" ry="5.7" fill="#b838c8" fill-opacity="0.56" transform="rotate(-22 454.1 667.6)"/>
<ellipse cx="466.3" cy="641.3" rx="1.3" ry="7.1" fill="#9028a0" fill-opacity="0.62" transform="rotate(-47 466.3 641.3)"/>
<ellipse cx="459.7" cy="686.7" rx="0.9" ry="3.3" fill="#b838c8" fill-opacity="0.48" transform="rotate(-22 459.7 686.7)"/>
<ellipse cx="458.0" cy="665.9" rx="0.7" ry="2.3" fill="#a030b0" fill-opacity="0.68" transform="rotate(-38 458.0 665.9)"/>
<ellipse cx="408.2" cy="657.7" rx="1.3" ry="6.9" fill="#b838c8" fill-opacity="0.37" transform="rotate(-48 408.2 657.7)"/>
<ellipse cx="407.4" cy="649.4" rx="0.5" ry="2.2" fill="#c850d8" fill-opacity="0.58" transform="rotate(-31 407.4 649.4)"/>
<ellipse cx="420.8" cy="638.4" rx="1.0" ry="5.3" fill="#9028a0" fill-opacity="0.40" transform="rotate(-37 420.8 638.4)"/>
<ellipse cx="466.3" cy="671.3" rx="1.2" ry="6.8" fill="#c850d8" fill-opacity="0.61" transform="rotate(-36 466.3 671.3)"/>
<ellipse cx="455.4" cy="656.3" rx="1.1" ry="4.6" fill="#b838c8" fill-opacity="0.44" transform="rotate(-31 455.4 656.3)"/>
<ellipse cx="455.8" cy="662.7" rx="1.2" ry="6.3" fill="#b838c8" fill-opacity="0.57" transform="rotate(-39 455.8 662.7)"/>
<ellipse cx="441.7" cy="662.7" rx="1.2" ry="6.2" fill="#c850d8" fill-opacity="0.50" transform="rotate(-48 441.7 662.7)"/>
<ellipse cx="448.9" cy="672.6" rx="1.3" ry="5.3" fill="#b838c8" fill-opacity="0.41" transform="rotate(-37 448.9 672.6)"/>
<ellipse cx="410.5" cy="668.6" rx="0.8" ry="2.6" fill="#b838c8" fill-opacity="0.47" transform="rotate(-44 410.5 668.6)"/>
<ellipse cx="455.4" cy="693.6" rx="0.9" ry="4.4" fill="#c850d8" fill-opacity="0.67" transform="rotate(-41 455.4 693.6)"/>
<ellipse cx="463.5" cy="675.9" rx="0.9" ry="3.6" fill="#a030b0" fill-opacity="0.57" transform="rotate(-30 463.5 675.9)"/>
<ellipse cx="477.0" cy="677.5" rx="1.1" ry="7.1" fill="#9028a0" fill-opacity="0.42" transform="rotate(-45 477.0 677.5)"/>
<ellipse cx="408.0" cy="663.7" rx="0.8" ry="4.8" fill="#9028a0" fill-opacity="0.67" transform="rotate(-32 408.0 663.7)"/>
<ellipse cx="463.3" cy="632.9" rx="1.0" ry="3.6" fill="#9028a0" fill-opacity="0.42" transform="rotate(-21 463.3 632.9)"/>
<ellipse cx="461.4" cy="637.1" rx="1.1" ry="3.5" fill="#9028a0" fill-opacity="0.61" transform="rotate(-24 461.4 637.1)"/>
<ellipse cx="483.7" cy="667.7" rx="1.3" ry="7.0" fill="#9028a0" fill-opacity="0.58" transform="rotate(-35 483.7 667.7)"/>
<ellipse cx="426.5" cy="671.0" rx="0.6" ry="2.1" fill="#9028a0" fill-opacity="0.41" transform="rotate(-37 426.5 671.0)"/>
<ellipse cx="422.7" cy="673.1" rx="1.0" ry="7.1" fill="#b838c8" fill-opacity="0.66" transform="rotate(-40 422.7 673.1)"/>
<ellipse cx="461.1" cy="694.7" rx="1.1" ry="4.9" fill="#9028a0" fill-opacity="0.33" transform="rotate(-42 461.1 694.7)"/>
<ellipse cx="452.8" cy="648.3" rx="1.2" ry="5.6" fill="#9028a0" fill-opacity="0.33" transform="rotate(-37 452.8 648.3)"/>
<ellipse cx="410.6" cy="652.9" rx="0.9" ry="6.3" fill="#9028a0" fill-opacity="0.39" transform="rotate(-31 410.6 652.9)"/>
<ellipse cx="444.2" cy="661.2" rx="0.8" ry="4.6" fill="#c850d8" fill-opacity="0.53" transform="rotate(-26 444.2 661.2)"/>
<ellipse cx="413.8" cy="641.0" rx="1.3" ry="7.0" fill="#c850d8" fill-opacity="0.61" transform="rotate(-44 413.8 641.0)"/>
<ellipse cx="458.0" cy="692.8" rx="0.7" ry="4.4" fill="#b838c8" fill-opacity="0.48" transform="rotate(-49 458.0 692.8)"/>
<ellipse cx="412.3" cy="647.0" rx="1.1" ry="5.0" fill="#9028a0" fill-opacity="0.50" transform="rotate(-46 412.3 647.0)"/>
<ellipse cx="413.7" cy="667.3" rx="0.7" ry="3.7" fill="#9028a0" fill-opacity="0.33" transform="rotate(-38 413.7 667.3)"/>
<ellipse cx="440.8" cy="660.7" rx="0.6" ry="4.0" fill="#9028a0" fill-opacity="0.69" transform="rotate(-24 440.8 660.7)"/>
<ellipse cx="462.8" cy="651.6" rx="0.5" ry="3.3" fill="#9028a0" fill-opacity="0.60" transform="rotate(-28 462.8 651.6)"/>
<ellipse cx="429.8" cy="642.7" rx="1.0" ry="3.9" fill="#a030b0" fill-opacity="0.55" transform="rotate(-37 429.8 642.7)"/>
<ellipse cx="442.6" cy="649.4" rx="1.1" ry="5.4" fill="#9028a0" fill-opacity="0.56" transform="rotate(-36 442.6 649.4)"/>
<ellipse cx="466.3" cy="663.2" rx="1.1" ry="7.7" fill="#b838c8" fill-opacity="0.60" transform="rotate(-23 466.3 663.2)"/>
<ellipse cx="432.4" cy="678.3" rx="1.3" ry="7.1" fill="#9028a0" fill-opacity="0.39" transform="rotate(-30 432.4 678.3)"/>
<ellipse cx="432.6" cy="669.8" rx="0.6" ry="3.0" fill="#9028a0" fill-opacity="0.31" transform="rotate(-28 432.6 669.8)"/>
<ellipse cx="443.0" cy="681.2" rx="0.7" ry="3.9" fill="#9028a0" fill-opacity="0.42" transform="rotate(-43 443.0 681.2)"/>
<ellipse cx="444.6" cy="662.8" rx="0.5" ry="2.1" fill="#b838c8" fill-opacity="0.54" transform="rotate(-30 444.6 662.8)"/>
<ellipse cx="469.4" cy="680.9" rx="1.1" ry="5.8" fill="#9028a0" fill-opacity="0.52" transform="rotate(-42 469.4 680.9)"/>
<ellipse cx="430.4" cy="667.5" rx="0.9" ry="4.6" fill="#9028a0" fill-opacity="0.57" transform="rotate(-45 430.4 667.5)"/>
<ellipse cx="459.9" cy="660.2" rx="0.9" ry="6.4" fill="#c850d8" fill-opacity="0.44" transform="rotate(-33 459.9 660.2)"/>
<ellipse cx="432.7" cy="676.1" rx="1.1" ry="6.6" fill="#c850d8" fill-opacity="0.36" transform="rotate(-39 432.7 676.1)"/>
<ellipse cx="457.5" cy="663.8" rx="0.9" ry="4.3" fill="#c850d8" fill-opacity="0.55" transform="rotate(-38 457.5 663.8)"/>
<ellipse cx="480.3" cy="670.6" rx="0.7" ry="2.1" fill="#b838c8" fill-opacity="0.60" transform="rotate(-23 480.3 670.6)"/>
<ellipse cx="429.5" cy="662.2" rx="1.1" ry="3.3" fill="#c850d8" fill-opacity="0.38" transform="rotate(-25 429.5 662.2)"/>
<ellipse cx="468.6" cy="676.6" rx="0.8" ry="5.0" fill="#9028a0" fill-opacity="0.58" transform="rotate(-43 468.6 676.6)"/>
<ellipse cx="451.0" cy="653.2" rx="0.9" ry="5.1" fill="#c850d8" fill-opacity="0.62" transform="rotate(-40 451.0 653.2)"/>
<ellipse cx="422.2" cy="669.3" rx="1.1" ry="5.4" fill="#c850d8" fill-opacity="0.39" transform="rotate(-32 422.2 669.3)"/>
<ellipse cx="426.2" cy="653.6" rx="0.7" ry="4.0" fill="#b838c8" fill-opacity="0.61" transform="rotate(-49 426.2 653.6)"/>
<ellipse cx="466.5" cy="693.2" rx="0.5" ry="2.2" fill="#9028a0" fill-opacity="0.54" transform="rotate(-32 466.5 693.2)"/>
<ellipse cx="468.0" cy="640.6" rx="0.7" ry="4.1" fill="#c850d8" fill-opacity="0.32" transform="rotate(-29 468.0 640.6)"/>
<ellipse cx="407.8" cy="645.7" rx="0.5" ry="3.4" fill="#b838c8" fill-opacity="0.31" transform="rotate(-41 407.8 645.7)"/>
<ellipse cx="433.6" cy="669.2" rx="0.7" ry="2.5" fill="#9028a0" fill-opacity="0.57" transform="rotate(-25 433.6 669.2)"/>
<ellipse cx="422.9" cy="666.0" rx="1.2" ry="7.8" fill="#9028a0" fill-opacity="0.58" transform="rotate(-26 422.9 666.0)"/>
<ellipse cx="450.5" cy="656.9" rx="0.8" ry="4.1" fill="#a030b0" fill-opacity="0.41" transform="rotate(-36 450.5 656.9)"/>
<ellipse cx="432.4" cy="655.4" rx="1.0" ry="3.2" fill="#a030b0" fill-opacity="0.45" transform="rotate(-36 432.4 655.4)"/>
</g>
<g filter="url(#kb1)">
<ellipse cx="469.3" cy="642.9" rx="2.1" ry="4.7" fill="#d050e0" fill-opacity="0.85" transform="rotate(45 469.3 642.9)"/>
<ellipse cx="493.6" cy="664.7" rx="2.0" ry="4.3" fill="#c048d0" fill-opacity="0.72" transform="rotate(37 493.6 664.7)"/>
<ellipse cx="475.2" cy="651.3" rx="1.2" ry="3.5" fill="#e060f0" fill-opacity="0.70" transform="rotate(57 475.2 651.3)"/>
<ellipse cx="459.2" cy="640.4" rx="1.2" ry="4.6" fill="#e060f0" fill-opacity="0.57" transform="rotate(46 459.2 640.4)"/>
<ellipse cx="458.3" cy="634.6" rx="1.4" ry="4.9" fill="#d050e0" fill-opacity="0.75" transform="rotate(51 458.3 634.6)"/>
<ellipse cx="453.3" cy="628.3" rx="1.8" ry="6.8" fill="#e060f0" fill-opacity="0.60" transform="rotate(39 453.3 628.3)"/>
<ellipse cx="459.0" cy="639.2" rx="2.1" ry="7.0" fill="#d050e0" fill-opacity="0.78" transform="rotate(32 459.0 639.2)"/>
<ellipse cx="477.1" cy="654.0" rx="1.8" ry="7.1" fill="#d050e0" fill-opacity="0.52" transform="rotate(40 477.1 654.0)"/>
<ellipse cx="470.6" cy="643.4" rx="1.6" ry="3.4" fill="#e060f0" fill-opacity="0.65" transform="rotate(31 470.6 643.4)"/>
<ellipse cx="463.2" cy="633.9" rx="1.7" ry="6.6" fill="#e060f0" fill-opacity="0.50" transform="rotate(35 463.2 633.9)"/>
<ellipse cx="478.3" cy="653.8" rx="1.8" ry="5.1" fill="#d050e0" fill-opacity="0.53" transform="rotate(45 478.3 653.8)"/>
<ellipse cx="482.3" cy="658.4" rx="1.9" ry="3.9" fill="#d050e0" fill-opacity="0.61" transform="rotate(55 482.3 658.4)"/>
<ellipse cx="486.0" cy="659.7" rx="1.5" ry="4.1" fill="#d050e0" fill-opacity="0.66" transform="rotate(52 486.0 659.7)"/>
<ellipse cx="461.1" cy="639.7" rx="1.9" ry="6.8" fill="#e060f0" fill-opacity="0.57" transform="rotate(51 461.1 639.7)"/>
<ellipse cx="460.9" cy="640.9" rx="1.7" ry="4.1" fill="#d050e0" fill-opacity="0.61" transform="rotate(43 460.9 640.9)"/>
<ellipse cx="463.1" cy="639.0" rx="2.2" ry="7.2" fill="#e060f0" fill-opacity="0.87" transform="rotate(32 463.1 639.0)"/>
<ellipse cx="469.3" cy="647.0" rx="1.8" ry="4.6" fill="#d050e0" fill-opacity="0.63" transform="rotate(47 469.3 647.0)"/>
<ellipse cx="455.5" cy="629.4" rx="1.5" ry="3.5" fill="#e060f0" fill-opacity="0.77" transform="rotate(52 455.5 629.4)"/>
<ellipse cx="459.8" cy="638.2" rx="1.5" ry="5.7" fill="#d050e0" fill-opacity="0.76" transform="rotate(58 459.8 638.2)"/>
<ellipse cx="473.5" cy="651.3" rx="2.0" ry="6.8" fill="#c048d0" fill-opacity="0.68" transform="rotate(59 473.5 651.3)"/>
<ellipse cx="464.5" cy="642.6" rx="1.1" ry="4.4" fill="#d050e0" fill-opacity="0.68" transform="rotate(52 464.5 642.6)"/>
<ellipse cx="470.3" cy="643.9" rx="1.6" ry="4.3" fill="#d050e0" fill-opacity="0.78" transform="rotate(60 470.3 643.9)"/>
<ellipse cx="458.6" cy="633.9" rx="1.8" ry="4.7" fill="#d050e0" fill-opacity="0.79" transform="rotate(42 458.6 633.9)"/>
<ellipse cx="454.5" cy="634.5" rx="1.1" ry="4.3" fill="#e060f0" fill-opacity="0.77" transform="rotate(52 454.5 634.5)"/>
<ellipse cx="453.0" cy="629.5" rx="1.8" ry="5.2" fill="#d050e0" fill-opacity="0.83" transform="rotate(57 453.0 629.5)"/>
<ellipse cx="470.8" cy="640.3" rx="1.5" ry="5.3" fill="#c048d0" fill-opacity="0.87" transform="rotate(59 470.8 640.3)"/>
<ellipse cx="489.6" cy="659.8" rx="1.0" ry="3.2" fill="#e060f0" fill-opacity="0.71" transform="rotate(34 489.6 659.8)"/>
<ellipse cx="460.1" cy="637.7" rx="1.8" ry="6.8" fill="#d050e0" fill-opacity="0.69" transform="rotate(58 460.1 637.7)"/>
<ellipse cx="453.4" cy="631.8" rx="1.2" ry="4.4" fill="#e060f0" fill-opacity="0.69" transform="rotate(45 453.4 631.8)"/>
<ellipse cx="457.1" cy="631.1" rx="1.3" ry="4.1" fill="#d050e0" fill-opacity="0.78" transform="rotate(37 457.1 631.1)"/>
</g>
<g filter="url(#kb2)">
<ellipse cx="466.9" cy="674.5" rx="3.5" ry="3.8" fill="#a038b0" fill-opacity="0.56" transform="rotate(158 466.9 674.5)"/>
<ellipse cx="469.2" cy="665.0" rx="2.8" ry="2.5" fill="#a038b0" fill-opacity="0.59" transform="rotate(117 469.2 665.0)"/>
<ellipse cx="465.2" cy="660.7" rx="3.4" ry="2.4" fill="#b040c0" fill-opacity="0.50" transform="rotate(52 465.2 660.7)"/>
<ellipse cx="454.2" cy="654.0" rx="3.6" ry="4.8" fill="#a038b0" fill-opacity="0.65" transform="rotate(54 454.2 654.0)"/>
<ellipse cx="463.9" cy="675.2" rx="3.1" ry="3.7" fill="#b040c0" fill-opacity="0.75" transform="rotate(88 463.9 675.2)"/>
<ellipse cx="455.9" cy="668.9" rx="2.4" ry="2.0" fill="#a038b0" fill-opacity="0.52" transform="rotate(76 455.9 668.9)"/>
<ellipse cx="461.6" cy="658.4" rx="3.1" ry="3.8" fill="#b040c0" fill-opacity="0.45" transform="rotate(89 461.6 658.4)"/>
<ellipse cx="467.1" cy="650.6" rx="2.9" ry="3.1" fill="#b040c0" fill-opacity="0.61" transform="rotate(57 467.1 650.6)"/>
<ellipse cx="459.7" cy="660.3" rx="2.3" ry="2.5" fill="#b040c0" fill-opacity="0.45" transform="rotate(136 459.7 660.3)"/>
<ellipse cx="465.1" cy="653.9" rx="2.2" ry="2.0" fill="#a038b0" fill-opacity="0.63" transform="rotate(28 465.1 653.9)"/>
<ellipse cx="474.1" cy="675.8" rx="2.9" ry="3.6" fill="#b040c0" fill-opacity="0.61" transform="rotate(120 474.1 675.8)"/>
<ellipse cx="479.2" cy="682.2" rx="3.5" ry="4.6" fill="#a038b0" fill-opacity="0.44" transform="rotate(109 479.2 682.2)"/>
<ellipse cx="446.5" cy="651.9" rx="2.3" ry="3.2" fill="#a038b0" fill-opacity="0.46" transform="rotate(56 446.5 651.9)"/>
<ellipse cx="447.6" cy="673.0" rx="3.3" ry="3.5" fill="#a038b0" fill-opacity="0.72" transform="rotate(19 447.6 673.0)"/>
<ellipse cx="443.1" cy="660.7" rx="3.5" ry="3.8" fill="#a038b0" fill-opacity="0.53" transform="rotate(120 443.1 660.7)"/>
<ellipse cx="469.4" cy="667.1" rx="2.1" ry="1.3" fill="#b040c0" fill-opacity="0.64" transform="rotate(84 469.4 667.1)"/>
<ellipse cx="465.5" cy="671.6" rx="3.0" ry="4.1" fill="#a038b0" fill-opacity="0.65" transform="rotate(38 465.5 671.6)"/>
<ellipse cx="461.4" cy="676.4" rx="2.9" ry="3.3" fill="#a038b0" fill-opacity="0.77" transform="rotate(157 461.4 676.4)"/>
<ellipse cx="449.4" cy="654.8" rx="2.3" ry="1.8" fill="#b040c0" fill-opacity="0.59" transform="rotate(162 449.4 654.8)"/>
<ellipse cx="445.7" cy="664.1" rx="2.5" ry="2.8" fill="#a038b0" fill-opacity="0.57" transform="rotate(130 445.7 664.1)"/>
<ellipse cx="460.6" cy="668.7" rx="2.7" ry="2.6" fill="#a038b0" fill-opacity="0.79" transform="rotate(123 460.6 668.7)"/>
<ellipse cx="471.4" cy="656.2" rx="3.1" ry="3.2" fill="#b040c0" fill-opacity="0.76" transform="rotate(167 471.4 656.2)"/>
<ellipse cx="470.1" cy="659.0" rx="2.7" ry="1.8" fill="#b040c0" fill-opacity="0.52" transform="rotate(40 470.1 659.0)"/>
<ellipse cx="446.2" cy="673.6" rx="3.7" ry="3.3" fill="#b040c0" fill-opacity="0.54" transform="rotate(32 446.2 673.6)"/>
<ellipse cx="460.0" cy="680.6" rx="2.4" ry="3.0" fill="#b040c0" fill-opacity="0.48" transform="rotate(170 460.0 680.6)"/>
<ellipse cx="454.2" cy="680.8" rx="3.5" ry="2.9" fill="#a038b0" fill-opacity="0.44" transform="rotate(81 454.2 680.8)"/>
<ellipse cx="453.4" cy="663.7" rx="3.1" ry="2.1" fill="#a038b0" fill-opacity="0.48" transform="rotate(153 453.4 663.7)"/>
<ellipse cx="476.2" cy="654.8" rx="2.6" ry="2.5" fill="#a038b0" fill-opacity="0.48" transform="rotate(151 476.2 654.8)"/>
<ellipse cx="480.4" cy="684.6" rx="3.0" ry="1.9" fill="#a038b0" fill-opacity="0.72" transform="rotate(51 480.4 684.6)"/>
<ellipse cx="457.9" cy="653.1" rx="3.7" ry="3.5" fill="#a038b0" fill-opacity="0.69" transform="rotate(74 457.9 653.1)"/>
</g>
</g>
<clipPath id="kb02"><rect x="543.20" y="627.30" width="88.40" height="69.80"/></clipPath>
<rect x="543.20" y="627.30" width="88.40" height="69.80" fill="#040003" />
<g clip-path="url(#kb02)">
<g filter="url(#kb3)">
<ellipse cx="573.3" cy="655.7" rx="4.3" ry="2.7" fill="#3e0c48" fill-opacity="0.69" transform="rotate(74 573.3 655.7)"/>
<ellipse cx="593.3" cy="658.7" rx="4.1" ry="4.6" fill="#260628" fill-opacity="0.83" transform="rotate(60 593.3 658.7)"/>
<ellipse cx="551.3" cy="674.3" rx="4.0" ry="4.9" fill="#34093c" fill-opacity="0.56" transform="rotate(28 551.3 674.3)"/>
<ellipse cx="621.2" cy="661.9" rx="5.8" ry="5.9" fill="#2a0830" fill-opacity="0.69" transform="rotate(4 621.2 661.9)"/>
<ellipse cx="617.2" cy="675.7" rx="4.4" ry="4.0" fill="#260628" fill-opacity="0.83" transform="rotate(49 617.2 675.7)"/>
<ellipse cx="607.6" cy="676.7" rx="5.8" ry="6.0" fill="#2a0830" fill-opacity="0.84" transform="rotate(104 607.6 676.7)"/>
<ellipse cx="616.5" cy="670.2" rx="6.2" ry="8.2" fill="#34093c" fill-opacity="0.68" transform="rotate(108 616.5 670.2)"/>
<ellipse cx="627.4" cy="652.7" rx="6.3" ry="4.5" fill="#260628" fill-opacity="0.59" transform="rotate(136 627.4 652.7)"/>
<ellipse cx="599.4" cy="683.5" rx="5.7" ry="4.9" fill="#260628" fill-opacity="0.86" transform="rotate(161 599.4 683.5)"/>
<ellipse cx="612.2" cy="657.9" rx="4.3" ry="5.0" fill="#2a0830" fill-opacity="0.76" transform="rotate(132 612.2 657.9)"/>
<ellipse cx="605.4" cy="648.6" rx="5.8" ry="4.6" fill="#260628" fill-opacity="0.88" transform="rotate(31 605.4 648.6)"/>
<ellipse cx="554.0" cy="665.9" rx="5.1" ry="5.8" fill="#3e0c48" fill-opacity="0.68" transform="rotate(20 554.0 665.9)"/>
<ellipse cx="588.8" cy="669.7" rx="4.5" ry="3.8" fill="#34093c" fill-opacity="0.80" transform="rotate(3 588.8 669.7)"/>
<ellipse cx="585.9" cy="678.1" rx="6.6" ry="5.5" fill="#34093c" fill-opacity="0.58" transform="rotate(118 585.9 678.1)"/>
<ellipse cx="561.6" cy="679.4" rx="7.4" ry="4.7" fill="#34093c" fill-opacity="0.59" transform="rotate(43 561.6 679.4)"/>
<ellipse cx="591.8" cy="665.9" rx="5.1" ry="6.8" fill="#34093c" fill-opacity="0.81" transform="rotate(104 591.8 665.9)"/>
<ellipse cx="611.3" cy="668.9" rx="5.1" ry="5.2" fill="#3e0c48" fill-opacity="0.81" transform="rotate(119 611.3 668.9)"/>
<ellipse cx="555.1" cy="657.1" rx="7.8" ry="5.8" fill="#2a0830" fill-opacity="0.88" transform="rotate(134 555.1 657.1)"/>
<ellipse cx="618.5" cy="683.6" rx="6.3" ry="4.1" fill="#2a0830" fill-opacity="0.57" transform="rotate(132 618.5 683.6)"/>
<ellipse cx="586.4" cy="687.0" rx="8.0" ry="7.6" fill="#3e0c48" fill-opacity="0.79" transform="rotate(122 586.4 687.0)"/>
<ellipse cx="575.7" cy="675.1" rx="4.3" ry="5.6" fill="#260628" fill-opacity="0.71" transform="rotate(130 575.7 675.1)"/>
<ellipse cx="561.3" cy="666.2" rx="6.7" ry="7.0" fill="#2a0830" fill-opacity="0.90" transform="rotate(20 561.3 666.2)"/>
<ellipse cx="616.0" cy="672.8" rx="4.5" ry="5.6" fill="#34093c" fill-opacity="0.81" transform="rotate(121 616.0 672.8)"/>
<ellipse cx="597.6" cy="661.7" rx="5.4" ry="3.5" fill="#2a0830" fill-opacity="0.85" transform="rotate(120 597.6 661.7)"/>
<ellipse cx="584.5" cy="667.8" rx="4.3" ry="5.7" fill="#260628" fill-opacity="0.71" transform="rotate(148 584.5 667.8)"/>
<ellipse cx="599.8" cy="685.6" rx="6.4" ry="5.7" fill="#3e0c48" fill-opacity="0.77" transform="rotate(1 599.8 685.6)"/>
<ellipse cx="630.7" cy="672.9" rx="7.4" ry="9.0" fill="#260628" fill-opacity="0.87" transform="rotate(178 630.7 672.9)"/>
<ellipse cx="599.4" cy="678.3" rx="6.2" ry="8.3" fill="#260628" fill-opacity="0.66" transform="rotate(11 599.4 678.3)"/>
<ellipse cx="594.2" cy="680.0" rx="7.0" ry="4.7" fill="#3e0c48" fill-opacity="0.83" transform="rotate(92 594.2 680.0)"/>
<ellipse cx="560.4" cy="669.9" rx="4.9" ry="3.0" fill="#3e0c48" fill-opacity="0.67" transform="rotate(54 560.4 669.9)"/>
<ellipse cx="619.1" cy="673.7" rx="6.8" ry="6.0" fill="#3e0c48" fill-opacity="0.88" transform="rotate(73 619.1 673.7)"/>
<ellipse cx="612.1" cy="682.7" rx="8.0" ry="5.6" fill="#260628" fill-opacity="0.57" transform="rotate(56 612.1 682.7)"/>
<ellipse cx="554.6" cy="680.2" rx="7.4" ry="10.2" fill="#34093c" fill-opacity="0.84" transform="rotate(140 554.6 680.2)"/>
<ellipse cx="552.7" cy="665.6" rx="5.9" ry="5.3" fill="#3e0c48" fill-opacity="0.57" transform="rotate(56 552.7 665.6)"/>
<ellipse cx="582.2" cy="683.6" rx="6.9" ry="4.3" fill="#34093c" fill-opacity="0.66" transform="rotate(17 582.2 683.6)"/>
<ellipse cx="597.0" cy="660.0" rx="6.7" ry="8.8" fill="#3e0c48" fill-opacity="0.87" transform="rotate(178 597.0 660.0)"/>
<ellipse cx="574.8" cy="673.2" rx="7.2" ry="7.1" fill="#34093c" fill-opacity="0.63" transform="rotate(92 574.8 673.2)"/>
<ellipse cx="607.2" cy="672.5" rx="7.3" ry="5.1" fill="#260628" fill-opacity="0.85" transform="rotate(152 607.2 672.5)"/>
<ellipse cx="587.1" cy="666.1" rx="5.1" ry="5.7" fill="#260628" fill-opacity="0.79" transform="rotate(1 587.1 666.1)"/>
<ellipse cx="553.4" cy="678.9" rx="6.8" ry="5.9" fill="#34093c" fill-opacity="0.69" transform="rotate(139 553.4 678.9)"/>
<ellipse cx="589.8" cy="658.0" rx="5.1" ry="6.8" fill="#260628" fill-opacity="0.68" transform="rotate(63 589.8 658.0)"/>
<ellipse cx="630.4" cy="672.7" rx="4.2" ry="3.1" fill="#3e0c48" fill-opacity="0.77" transform="rotate(9 630.4 672.7)"/>
<ellipse cx="628.0" cy="658.9" rx="4.9" ry="3.8" fill="#2a0830" fill-opacity="0.61" transform="rotate(26 628.0 658.9)"/>
<ellipse cx="594.7" cy="664.5" rx="6.2" ry="8.1" fill="#34093c" fill-opacity="0.74" transform="rotate(55 594.7 664.5)"/>
<ellipse cx="597.2" cy="686.1" rx="4.2" ry="4.9" fill="#34093c" fill-opacity="0.64" transform="rotate(42 597.2 686.1)"/>
<ellipse cx="575.8" cy="687.8" rx="4.3" ry="3.6" fill="#3e0c48" fill-opacity="0.85" transform="rotate(8 575.8 687.8)"/>
<ellipse cx="620.1" cy="647.2" rx="7.8" ry="6.2" fill="#34093c" fill-opacity="0.58" transform="rotate(154 620.1 647.2)"/>
<ellipse cx="582.3" cy="683.0" rx="5.0" ry="6.4" fill="#260628" fill-opacity="0.84" transform="rotate(44 582.3 683.0)"/>
<ellipse cx="566.6" cy="670.6" rx="5.5" ry="4.4" fill="#34093c" fill-opacity="0.79" transform="rotate(81 566.6 670.6)"/>
<ellipse cx="562.9" cy="654.4" rx="5.9" ry="4.9" fill="#2a0830" fill-opacity="0.73" transform="rotate(100 562.9 654.4)"/>
<ellipse cx="573.6" cy="685.4" rx="6.1" ry="3.9" fill="#260628" fill-opacity="0.86" transform="rotate(114 573.6 685.4)"/>
<ellipse cx="558.1" cy="679.1" rx="7.8" ry="6.0" fill="#34093c" fill-opacity="0.71" transform="rotate(1 558.1 679.1)"/>
<ellipse cx="573.8" cy="684.8" rx="7.3" ry="6.8" fill="#2a0830" fill-opacity="0.60" transform="rotate(172 573.8 684.8)"/>
<ellipse cx="554.9" cy="672.9" rx="6.6" ry="8.2" fill="#34093c" fill-opacity="0.75" transform="rotate(149 554.9 672.9)"/>
<ellipse cx="583.2" cy="663.8" rx="6.1" ry="6.7" fill="#260628" fill-opacity="0.86" transform="rotate(29 583.2 663.8)"/>
<ellipse cx="559.7" cy="668.2" rx="6.9" ry="8.8" fill="#34093c" fill-opacity="0.57" transform="rotate(57 559.7 668.2)"/>
<ellipse cx="611.0" cy="667.3" rx="7.9" ry="6.6" fill="#3e0c48" fill-opacity="0.81" transform="rotate(78 611.0 667.3)"/>
<ellipse cx="567.2" cy="674.0" rx="4.3" ry="4.9" fill="#34093c" fill-opacity="0.74" transform="rotate(171 567.2 674.0)"/>
<ellipse cx="590.6" cy="662.2" rx="8.0" ry="9.6" fill="#34093c" fill-opacity="0.81" transform="rotate(86 590.6 662.2)"/>
<ellipse cx="619.0" cy="666.5" rx="5.8" ry="3.7" fill="#260628" fill-opacity="0.84" transform="rotate(142 619.0 666.5)"/>
<ellipse cx="603.5" cy="678.9" rx="4.5" ry="4.6" fill="#2a0830" fill-opacity="0.60" transform="rotate(118 603.5 678.9)"/>
<ellipse cx="616.6" cy="673.7" rx="7.5" ry="7.8" fill="#3e0c48" fill-opacity="0.87" transform="rotate(29 616.6 673.7)"/>
<ellipse cx="597.7" cy="689.4" rx="6.3" ry="6.5" fill="#3e0c48" fill-opacity="0.70" transform="rotate(4 597.7 689.4)"/>
<ellipse cx="595.6" cy="657.2" rx="4.2" ry="4.4" fill="#34093c" fill-opacity="0.71" transform="rotate(74 595.6 657.2)"/>
<ellipse cx="561.9" cy="664.4" rx="4.4" ry="5.5" fill="#2a0830" fill-opacity="0.67" transform="rotate(72 561.9 664.4)"/>
<ellipse cx="590.0" cy="679.2" rx="6.2" ry="5.1" fill="#34093c" fill-opacity="0.86" transform="rotate(36 590.0 679.2)"/>
<ellipse cx="594.8" cy="657.1" rx="6.6" ry="5.6" fill="#2a0830" fill-opacity="0.75" transform="rotate(20 594.8 657.1)"/>
<ellipse cx="560.0" cy="676.6" rx="7.6" ry="7.4" fill="#2a0830" fill-opacity="0.84" transform="rotate(34 560.0 676.6)"/>
<ellipse cx="596.7" cy="689.0" rx="6.5" ry="6.9" fill="#260628" fill-opacity="0.76" transform="rotate(58 596.7 689.0)"/>
<ellipse cx="620.6" cy="676.3" rx="5.0" ry="3.4" fill="#3e0c48" fill-opacity="0.73" transform="rotate(24 620.6 676.3)"/>
<ellipse cx="596.9" cy="671.0" rx="6.7" ry="7.0" fill="#34093c" fill-opacity="0.65" transform="rotate(99 596.9 671.0)"/>
<ellipse cx="594.2" cy="659.7" rx="4.4" ry="6.0" fill="#260628" fill-opacity="0.73" transform="rotate(4 594.2 659.7)"/>
<ellipse cx="613.2" cy="649.0" rx="4.9" ry="4.0" fill="#34093c" fill-opacity="0.78" transform="rotate(37 613.2 649.0)"/>
<ellipse cx="558.9" cy="678.7" rx="6.3" ry="7.3" fill="#260628" fill-opacity="0.71" transform="rotate(143 558.9 678.7)"/>
<ellipse cx="555.5" cy="668.8" rx="6.1" ry="6.2" fill="#2a0830" fill-opacity="0.75" transform="rotate(50 555.5 668.8)"/>
<ellipse cx="629.7" cy="674.0" rx="6.2" ry="7.5" fill="#3e0c48" fill-opacity="0.82" transform="rotate(52 629.7 674.0)"/>
<ellipse cx="586.9" cy="686.9" rx="6.2" ry="5.5" fill="#260628" fill-opacity="0.73" transform="rotate(26 586.9 686.9)"/>
<ellipse cx="571.2" cy="680.4" rx="7.4" ry="5.8" fill="#260628" fill-opacity="0.76" transform="rotate(138 571.2 680.4)"/>
<ellipse cx="599.4" cy="670.8" rx="6.7" ry="7.0" fill="#2a0830" fill-opacity="0.70" transform="rotate(16 599.4 670.8)"/>
<ellipse cx="629.3" cy="667.6" rx="4.7" ry="4.7" fill="#34093c" fill-opacity="0.56" transform="rotate(64 629.3 667.6)"/>
<ellipse cx="559.2" cy="671.6" rx="4.9" ry="4.1" fill="#260628" fill-opacity="0.55" transform="rotate(117 559.2 671.6)"/>
<ellipse cx="582.9" cy="675.0" rx="5.8" ry="4.3" fill="#260628" fill-opacity="0.65" transform="rotate(64 582.9 675.0)"/>
<ellipse cx="612.9" cy="673.8" rx="7.9" ry="9.9" fill="#260628" fill-opacity="0.66" transform="rotate(1 612.9 673.8)"/>
<ellipse cx="628.0" cy="673.1" rx="5.1" ry="5.3" fill="#2a0830" fill-opacity="0.87" transform="rotate(156 628.0 673.1)"/>
<ellipse cx="564.2" cy="661.2" rx="6.0" ry="5.7" fill="#34093c" fill-opacity="0.70" transform="rotate(38 564.2 661.2)"/>
<ellipse cx="596.5" cy="657.7" rx="6.5" ry="6.3" fill="#34093c" fill-opacity="0.63" transform="rotate(143 596.5 657.7)"/>
<ellipse cx="629.9" cy="670.7" rx="5.3" ry="4.3" fill="#260628" fill-opacity="0.72" transform="rotate(128 629.9 670.7)"/>
<ellipse cx="631.4" cy="673.6" rx="6.5" ry="5.9" fill="#260628" fill-opacity="0.69" transform="rotate(180 631.4 673.6)"/>
<ellipse cx="594.4" cy="669.6" rx="6.2" ry="6.5" fill="#34093c" fill-opacity="0.58" transform="rotate(171 594.4 669.6)"/>
<ellipse cx="630.9" cy="645.7" rx="4.2" ry="5.3" fill="#2a0830" fill-opacity="0.83" transform="rotate(50 630.9 645.7)"/>
</g>
<g filter="url(#kb05)">
<ellipse cx="625.5" cy="649.9" rx="1.0" ry="3.8" fill="#4e1458" fill-opacity="0.32" transform="rotate(59 625.5 649.9)"/>
<ellipse cx="571.0" cy="668.1" rx="1.4" ry="4.5" fill="#4e1458" fill-opacity="0.34" transform="rotate(154 571.0 668.1)"/>
<ellipse cx="546.0" cy="673.1" rx="1.0" ry="2.7" fill="#6a2076" fill-opacity="0.67" transform="rotate(130 546.0 673.1)"/>
<ellipse cx="586.0" cy="654.4" rx="1.0" ry="3.6" fill="#4e1458" fill-opacity="0.32" transform="rotate(49 586.0 654.4)"/>
<ellipse cx="572.4" cy="663.7" rx="0.7" ry="1.4" fill="#6a2076" fill-opacity="0.60" transform="rotate(168 572.4 663.7)"/>
<ellipse cx="631.6" cy="660.7" rx="1.4" ry="4.1" fill="#5a1a66" fill-opacity="0.40" transform="rotate(92 631.6 660.7)"/>
<ellipse cx="619.1" cy="650.2" rx="0.6" ry="1.3" fill="#4e1458" fill-opacity="0.48" transform="rotate(161 619.1 650.2)"/>
<ellipse cx="556.1" cy="676.9" rx="1.4" ry="4.5" fill="#4e1458" fill-opacity="0.38" transform="rotate(80 556.1 676.9)"/>
<ellipse cx="609.8" cy="665.2" rx="1.0" ry="2.1" fill="#5a1a66" fill-opacity="0.33" transform="rotate(146 609.8 665.2)"/>
<ellipse cx="562.8" cy="674.3" rx="0.8" ry="1.6" fill="#4e1458" fill-opacity="0.68" transform="rotate(67 562.8 674.3)"/>
<ellipse cx="583.3" cy="681.1" rx="1.0" ry="2.8" fill="#4e1458" fill-opacity="0.61" transform="rotate(22 583.3 681.1)"/>
<ellipse cx="572.0" cy="664.1" rx="0.7" ry="2.4" fill="#5a1a66" fill-opacity="0.61" transform="rotate(152 572.0 664.1)"/>
<ellipse cx="543.6" cy="667.6" rx="1.0" ry="2.3" fill="#6a2076" fill-opacity="0.65" transform="rotate(132 543.6 667.6)"/>
<ellipse cx="544.6" cy="660.0" rx="1.0" ry="3.5" fill="#4e1458" fill-opacity="0.61" transform="rotate(97 544.6 660.0)"/>
<ellipse cx="586.8" cy="656.9" rx="0.8" ry="3.3" fill="#4e1458" fill-opacity="0.44" transform="rotate(86 586.8 656.9)"/>
<ellipse cx="594.0" cy="687.5" rx="0.9" ry="3.4" fill="#5a1a66" fill-opacity="0.66" transform="rotate(135 594.0 687.5)"/>
<ellipse cx="628.8" cy="662.3" rx="0.6" ry="2.1" fill="#5a1a66" fill-opacity="0.52" transform="rotate(119 628.8 662.3)"/>
<ellipse cx="584.7" cy="666.2" rx="0.6" ry="1.9" fill="#6a2076" fill-opacity="0.50" transform="rotate(146 584.7 666.2)"/>
<ellipse cx="614.2" cy="673.4" rx="1.0" ry="2.4" fill="#5a1a66" fill-opacity="0.41" transform="rotate(12 614.2 673.4)"/>
<ellipse cx="613.2" cy="668.2" rx="0.9" ry="3.1" fill="#6a2076" fill-opacity="0.46" transform="rotate(104 613.2 668.2)"/>
<ellipse cx="617.9" cy="670.0" rx="1.3" ry="5.2" fill="#4e1458" fill-opacity="0.66" transform="rotate(149 617.9 670.0)"/>
<ellipse cx="590.0" cy="672.5" rx="0.7" ry="1.7" fill="#5a1a66" fill-opacity="0.52" transform="rotate(115 590.0 672.5)"/>
<ellipse cx="597.0" cy="665.2" rx="0.8" ry="2.1" fill="#5a1a66" fill-opacity="0.43" transform="rotate(125 597.0 665.2)"/>
<ellipse cx="570.9" cy="666.0" rx="0.9" ry="3.1" fill="#4e1458" fill-opacity="0.62" transform="rotate(136 570.9 666.0)"/>
<ellipse cx="582.9" cy="666.0" rx="1.1" ry="2.9" fill="#6a2076" fill-opacity="0.39" transform="rotate(149 582.9 666.0)"/>
<ellipse cx="614.5" cy="665.2" rx="0.8" ry="3.0" fill="#4e1458" fill-opacity="0.68" transform="rotate(117 614.5 665.2)"/>
<ellipse cx="621.4" cy="648.2" rx="0.8" ry="3.3" fill="#4e1458" fill-opacity="0.63" transform="rotate(121 621.4 648.2)"/>
<ellipse cx="558.9" cy="668.7" rx="0.7" ry="1.9" fill="#4e1458" fill-opacity="0.42" transform="rotate(89 558.9 668.7)"/>
<ellipse cx="602.3" cy="651.6" rx="0.8" ry="1.7" fill="#4e1458" fill-opacity="0.56" transform="rotate(105 602.3 651.6)"/>
<ellipse cx="595.3" cy="667.5" rx="0.9" ry="1.9" fill="#5a1a66" fill-opacity="0.51" transform="rotate(103 595.3 667.5)"/>
<ellipse cx="609.7" cy="648.0" rx="1.3" ry="3.5" fill="#6a2076" fill-opacity="0.49" transform="rotate(89 609.7 648.0)"/>
<ellipse cx="561.3" cy="680.8" rx="1.1" ry="4.1" fill="#6a2076" fill-opacity="0.53" transform="rotate(99 561.3 680.8)"/>
<ellipse cx="592.1" cy="664.7" rx="1.2" ry="2.9" fill="#4e1458" fill-opacity="0.51" transform="rotate(70 592.1 664.7)"/>
<ellipse cx="608.6" cy="663.9" rx="1.3" ry="4.3" fill="#6a2076" fill-opacity="0.57" transform="rotate(119 608.6 663.9)"/>
<ellipse cx="606.1" cy="654.2" rx="0.9" ry="2.7" fill="#5a1a66" fill-opacity="0.36" transform="rotate(16 606.1 654.2)"/>
<ellipse cx="577.3" cy="662.8" rx="0.9" ry="2.4" fill="#6a2076" fill-opacity="0.56" transform="rotate(29 577.3 662.8)"/>
<ellipse cx="568.8" cy="681.9" rx="0.8" ry="1.9" fill="#5a1a66" fill-opacity="0.65" transform="rotate(166 568.8 681.9)"/>
<ellipse cx="605.8" cy="684.5" rx="1.3" ry="5.1" fill="#4e1458" fill-opacity="0.48" transform="rotate(74 605.8 684.5)"/>
<ellipse cx="545.5" cy="671.6" rx="0.9" ry="2.5" fill="#6a2076" fill-opacity="0.33" transform="rotate(174 545.5 671.6)"/>
<ellipse cx="580.6" cy="667.8" rx="1.3" ry="4.2" fill="#4e1458" fill-opacity="0.43" transform="rotate(27 580.6 667.8)"/>
<ellipse cx="604.2" cy="652.3" rx="1.1" ry="3.7" fill="#4e1458" fill-opacity="0.42" transform="rotate(44 604.2 652.3)"/>
<ellipse cx="628.2" cy="661.4" rx="0.8" ry="2.4" fill="#5a1a66" fill-opacity="0.63" transform="rotate(121 628.2 661.4)"/>
<ellipse cx="599.3" cy="681.7" rx="1.3" ry="4.3" fill="#4e1458" fill-opacity="0.32" transform="rotate(152 599.3 681.7)"/>
<ellipse cx="558.8" cy="659.3" rx="0.7" ry="1.9" fill="#5a1a66" fill-opacity="0.57" transform="rotate(21 558.8 659.3)"/>
<ellipse cx="610.2" cy="688.2" rx="1.1" ry="4.4" fill="#4e1458" fill-opacity="0.36" transform="rotate(87 610.2 688.2)"/>
<ellipse cx="586.7" cy="659.0" rx="1.2" ry="3.7" fill="#6a2076" fill-opacity="0.41" transform="rotate(94 586.7 659.0)"/>
<ellipse cx="601.3" cy="669.8" rx="1.3" ry="4.4" fill="#6a2076" fill-opacity="0.70" transform="rotate(82 601.3 669.8)"/>
<ellipse cx="591.5" cy="679.4" rx="1.1" ry="3.2" fill="#4e1458" fill-opacity="0.48" transform="rotate(31 591.5 679.4)"/>
<ellipse cx="631.9" cy="670.0" rx="0.6" ry="1.9" fill="#6a2076" fill-opacity="0.49" transform="rotate(143 631.9 670.0)"/>
<ellipse cx="568.5" cy="681.7" rx="1.0" ry="2.6" fill="#5a1a66" fill-opacity="0.45" transform="rotate(71 568.5 681.7)"/>
<ellipse cx="605.4" cy="663.1" rx="1.2" ry="3.2" fill="#5a1a66" fill-opacity="0.52" transform="rotate(180 605.4 663.1)"/>
<ellipse cx="603.7" cy="649.9" rx="0.9" ry="3.1" fill="#4e1458" fill-opacity="0.66" transform="rotate(74 603.7 649.9)"/>
<ellipse cx="583.0" cy="676.8" rx="1.3" ry="3.8" fill="#5a1a66" fill-opacity="0.58" transform="rotate(42 583.0 676.8)"/>
<ellipse cx="609.0" cy="674.3" rx="1.4" ry="5.4" fill="#6a2076" fill-opacity="0.59" transform="rotate(139 609.0 674.3)"/>
<ellipse cx="577.5" cy="663.6" rx="1.2" ry="2.5" fill="#6a2076" fill-opacity="0.66" transform="rotate(84 577.5 663.6)"/>
<ellipse cx="605.4" cy="652.0" rx="0.7" ry="2.2" fill="#4e1458" fill-opacity="0.32" transform="rotate(82 605.4 652.0)"/>
<ellipse cx="615.0" cy="681.9" rx="0.8" ry="1.7" fill="#6a2076" fill-opacity="0.38" transform="rotate(161 615.0 681.9)"/>
<ellipse cx="613.7" cy="669.2" rx="0.6" ry="2.0" fill="#4e1458" fill-opacity="0.68" transform="rotate(150 613.7 669.2)"/>
<ellipse cx="619.8" cy="653.1" rx="0.8" ry="2.2" fill="#5a1a66" fill-opacity="0.43" transform="rotate(89 619.8 653.1)"/>
<ellipse cx="623.4" cy="647.8" rx="0.8" ry="2.7" fill="#6a2076" fill-opacity="0.36" transform="rotate(120 623.4 647.8)"/>
<ellipse cx="553.6" cy="670.5" rx="1.4" ry="4.7" fill="#5a1a66" fill-opacity="0.41" transform="rotate(145 553.6 670.5)"/>
<ellipse cx="550.6" cy="677.2" rx="0.6" ry="1.5" fill="#5a1a66" fill-opacity="0.62" transform="rotate(54 550.6 677.2)"/>
<ellipse cx="598.3" cy="674.9" rx="0.7" ry="1.8" fill="#5a1a66" fill-opacity="0.55" transform="rotate(132 598.3 674.9)"/>
<ellipse cx="604.1" cy="677.9" rx="0.8" ry="2.9" fill="#6a2076" fill-opacity="0.58" transform="rotate(155 604.1 677.9)"/>
<ellipse cx="561.4" cy="680.3" rx="0.6" ry="1.4" fill="#5a1a66" fill-opacity="0.60" transform="rotate(58 561.4 680.3)"/>
<ellipse cx="576.4" cy="655.5" rx="1.0" ry="2.2" fill="#5a1a66" fill-opacity="0.69" transform="rotate(82 576.4 655.5)"/>
<ellipse cx="623.9" cy="671.6" rx="0.7" ry="2.3" fill="#6a2076" fill-opacity="0.50" transform="rotate(117 623.9 671.6)"/>
<ellipse cx="629.9" cy="666.7" rx="1.0" ry="3.1" fill="#4e1458" fill-opacity="0.48" transform="rotate(142 629.9 666.7)"/>
<ellipse cx="555.4" cy="665.6" rx="1.0" ry="3.7" fill="#6a2076" fill-opacity="0.54" transform="rotate(139 555.4 665.6)"/>
<ellipse cx="598.2" cy="690.1" rx="1.0" ry="3.6" fill="#5a1a66" fill-opacity="0.70" transform="rotate(137 598.2 690.1)"/>
</g>
<g filter="url(#kb2)">
<ellipse cx="583.5" cy="639.4" rx="5.6" ry="7.7" fill="#1e0522" fill-opacity="0.67" transform="rotate(165 583.5 639.4)"/>
<ellipse cx="561.3" cy="627.7" rx="5.4" ry="6.5" fill="#1e0522" fill-opacity="0.69" transform="rotate(151 561.3 627.7)"/>
<ellipse cx="597.5" cy="627.3" rx="4.4" ry="5.7" fill="#1e0522" fill-opacity="0.64" transform="rotate(114 597.5 627.3)"/>
<ellipse cx="545.9" cy="627.4" rx="4.8" ry="5.2" fill="#1e0522" fill-opacity="0.65" transform="rotate(98 545.9 627.4)"/>
<ellipse cx="568.0" cy="628.1" rx="3.4" ry="3.5" fill="#1e0522" fill-opacity="0.61" transform="rotate(103 568.0 628.1)"/>
<ellipse cx="576.4" cy="635.8" rx="3.8" ry="4.2" fill="#1e0522" fill-opacity="0.78" transform="rotate(47 576.4 635.8)"/>
<ellipse cx="571.8" cy="631.9" rx="4.9" ry="5.3" fill="#1e0522" fill-opacity="0.74" transform="rotate(138 571.8 631.9)"/>
<ellipse cx="563.4" cy="630.5" rx="4.9" ry="3.4" fill="#1e0522" fill-opacity="0.70" transform="rotate(32 563.4 630.5)"/>
</g>
<circle cx="548.50" cy="658.50" r="1.20" fill="#b040c0" />
<circle cx="546.50" cy="669.80" r="1.40" fill="#c050d0" />
<circle cx="610.50" cy="664.50" r="0.90" fill="#a038b0" />
</g>
<clipPath id="kb10"><rect x="269.10" y="701.90" width="88.40" height="70.80"/></clipPath>
<rect x="269.10" y="701.90" width="88.40" height="70.80" fill="#050000" />
<g clip-path="url(#kb10)">
<g filter="url(#kb1)">
<ellipse cx="328.3" cy="744.0" rx="3.8" ry="4.9" fill="#420606" fill-opacity="0.66" transform="rotate(89 328.3 744.0)"/>
<ellipse cx="308.9" cy="744.3" rx="3.6" ry="5.0" fill="#6a1010" fill-opacity="0.57" transform="rotate(14 308.9 744.3)"/>
<ellipse cx="317.0" cy="741.2" rx="4.3" ry="4.2" fill="#420606" fill-opacity="0.58" transform="rotate(31 317.0 741.2)"/>
<ellipse cx="322.4" cy="738.6" rx="4.5" ry="4.9" fill="#5a0c0c" fill-opacity="0.76" transform="rotate(102 322.4 738.6)"/>
<ellipse cx="315.9" cy="736.2" rx="3.5" ry="4.1" fill="#6a1010" fill-opacity="0.82" transform="rotate(111 315.9 736.2)"/>
<ellipse cx="316.2" cy="740.3" rx="3.5" ry="3.1" fill="#420606" fill-opacity="0.55" transform="rotate(25 316.2 740.3)"/>
<ellipse cx="312.3" cy="743.6" rx="2.7" ry="3.0" fill="#6a1010" fill-opacity="0.62" transform="rotate(10 312.3 743.6)"/>
<ellipse cx="313.5" cy="729.5" rx="2.8" ry="2.9" fill="#5a0c0c" fill-opacity="0.72" transform="rotate(97 313.5 729.5)"/>
<ellipse cx="322.4" cy="736.2" rx="4.8" ry="4.7" fill="#5a0c0c" fill-opacity="0.61" transform="rotate(107 322.4 736.2)"/>
<ellipse cx="305.9" cy="741.2" rx="2.7" ry="3.6" fill="#6a1010" fill-opacity="0.88" transform="rotate(40 305.9 741.2)"/>
<ellipse cx="317.7" cy="731.8" rx="4.0" ry="4.0" fill="#420606" fill-opacity="0.77" transform="rotate(165 317.7 731.8)"/>
<ellipse cx="300.9" cy="732.6" rx="4.0" ry="3.2" fill="#5a0c0c" fill-opacity="0.85" transform="rotate(5 300.9 732.6)"/>
<ellipse cx="323.4" cy="746.0" rx="3.0" ry="2.6" fill="#420606" fill-opacity="0.74" transform="rotate(108 323.4 746.0)"/>
<ellipse cx="303.9" cy="733.0" rx="2.7" ry="1.8" fill="#4a0808" fill-opacity="0.78" transform="rotate(105 303.9 733.0)"/>
<ellipse cx="301.0" cy="733.9" rx="3.6" ry="3.6" fill="#6a1010" fill-opacity="0.68" transform="rotate(106 301.0 733.9)"/>
<ellipse cx="308.3" cy="734.5" rx="2.7" ry="2.1" fill="#6a1010" fill-opacity="0.76" transform="rotate(3 308.3 734.5)"/>
<ellipse cx="306.8" cy="743.4" rx="3.7" ry="2.8" fill="#6a1010" fill-opacity="0.67" transform="rotate(179 306.8 743.4)"/>
<ellipse cx="321.6" cy="744.3" rx="3.4" ry="4.0" fill="#5a0c0c" fill-opacity="0.83" transform="rotate(63 321.6 744.3)"/>
<ellipse cx="310.5" cy="734.1" rx="2.6" ry="2.5" fill="#4a0808" fill-opacity="0.76" transform="rotate(143 310.5 734.1)"/>
<ellipse cx="326.9" cy="743.2" rx="4.2" ry="5.0" fill="#6a1010" fill-opacity="0.74" transform="rotate(124 326.9 743.2)"/>
<ellipse cx="302.5" cy="738.5" rx="3.3" ry="3.8" fill="#4a0808" fill-opacity="0.66" transform="rotate(114 302.5 738.5)"/>
<ellipse cx="302.0" cy="744.8" rx="3.7" ry="4.4" fill="#6a1010" fill-opacity="0.89" transform="rotate(62 302.0 744.8)"/>
<ellipse cx="299.1" cy="740.9" rx="4.0" ry="4.4" fill="#420606" fill-opacity="0.90" transform="rotate(91 299.1 740.9)"/>
<ellipse cx="325.7" cy="737.1" rx="4.5" ry="5.1" fill="#4a0808" fill-opacity="0.90" transform="rotate(145 325.7 737.1)"/>
<ellipse cx="297.3" cy="735.9" rx="4.0" ry="4.9" fill="#5a0c0c" fill-opacity="0.80" transform="rotate(107 297.3 735.9)"/>
<ellipse cx="316.0" cy="746.8" rx="4.8" ry="3.2" fill="#420606" fill-opacity="0.60" transform="rotate(174 316.0 746.8)"/>
</g>
<g filter="url(#kb1)">
<ellipse cx="270.3" cy="707.9" rx="3.0" ry="2.5" fill="#3a0606" fill-opacity="0.79" transform="rotate(28 270.3 707.9)"/>
<ellipse cx="271.1" cy="709.3" rx="3.5" ry="4.7" fill="#3a0606" fill-opacity="0.59" transform="rotate(131 271.1 709.3)"/>
<ellipse cx="281.4" cy="705.9" rx="3.4" ry="3.7" fill="#3a0606" fill-opacity="0.53" transform="rotate(67 281.4 705.9)"/>
<ellipse cx="278.2" cy="711.1" rx="2.2" ry="2.3" fill="#3a0606" fill-opacity="0.52" transform="rotate(176 278.2 711.1)"/>
</g>
</g>
<clipPath id="kb11"><rect x="406.10" y="701.90" width="88.40" height="70.80"/></clipPath>
<rect x="406.10" y="701.90" width="88.40" height="70.80" fill="#050000" />
<g clip-path="url(#kb11)">
<g filter="url(#kb3)">
<ellipse cx="471.8" cy="739.8" rx="7.0" ry="9.1" fill="#741010" fill-opacity="0.62" transform="rotate(27 471.8 739.8)"/>
<ellipse cx="413.2" cy="747.4" rx="8.8" ry="6.3" fill="#3a0606" fill-opacity="0.61" transform="rotate(34 413.2 747.4)"/>
<ellipse cx="427.0" cy="722.9" rx="6.7" ry="7.2" fill="#6a0e0e" fill-opacity="0.82" transform="rotate(14 427.0 722.9)"/>
<ellipse cx="414.0" cy="708.4" rx="5.6" ry="5.2" fill="#5a0a0a" fill-opacity="0.78" transform="rotate(60 414.0 708.4)"/>
<ellipse cx="406.8" cy="706.8" rx="8.1" ry="8.8" fill="#741010" fill-opacity="0.78" transform="rotate(179 406.8 706.8)"/>
<ellipse cx="438.1" cy="762.1" rx="7.0" ry="7.6" fill="#5a0a0a" fill-opacity="0.67" transform="rotate(165 438.1 762.1)"/>
<ellipse cx="424.6" cy="772.5" rx="8.8" ry="5.4" fill="#4a0808" fill-opacity="0.73" transform="rotate(152 424.6 772.5)"/>
<ellipse cx="426.1" cy="735.6" rx="4.5" ry="5.3" fill="#741010" fill-opacity="0.72" transform="rotate(178 426.1 735.6)"/>
<ellipse cx="412.7" cy="739.5" rx="4.3" ry="5.6" fill="#3a0606" fill-opacity="0.80" transform="rotate(95 412.7 739.5)"/>
<ellipse cx="487.6" cy="725.8" rx="5.8" ry="4.4" fill="#6a0e0e" fill-opacity="0.61" transform="rotate(133 487.6 725.8)"/>
<ellipse cx="408.5" cy="726.8" rx="6.4" ry="7.1" fill="#5a0a0a" fill-opacity="0.74" transform="rotate(111 408.5 726.8)"/>
<ellipse cx="457.2" cy="720.1" rx="6.0" ry="7.1" fill="#3a0606" fill-opacity="0.66" transform="rotate(15 457.2 720.1)"/>
<ellipse cx="415.5" cy="703.9" rx="4.1" ry="3.6" fill="#5a0a0a" fill-opacity="0.67" transform="rotate(69 415.5 703.9)"/>
<ellipse cx="429.2" cy="714.9" rx="8.2" ry="9.4" fill="#5a0a0a" fill-opacity="0.61" transform="rotate(160 429.2 714.9)"/>
<ellipse cx="406.6" cy="742.3" rx="5.9" ry="4.4" fill="#4a0808" fill-opacity="0.61" transform="rotate(160 406.6 742.3)"/>
<ellipse cx="408.4" cy="725.9" rx="6.1" ry="3.7" fill="#5a0a0a" fill-opacity="0.60" transform="rotate(63 408.4 725.9)"/>
<ellipse cx="456.2" cy="731.2" rx="4.3" ry="4.7" fill="#6a0e0e" fill-opacity="0.73" transform="rotate(60 456.2 731.2)"/>
<ellipse cx="425.4" cy="719.5" rx="9.0" ry="10.5" fill="#6a0e0e" fill-opacity="0.62" transform="rotate(133 425.4 719.5)"/>
<ellipse cx="490.7" cy="743.2" rx="7.8" ry="8.0" fill="#4a0808" fill-opacity="0.75" transform="rotate(73 490.7 743.2)"/>
<ellipse cx="481.9" cy="772.9" rx="8.1" ry="6.4" fill="#741010" fill-opacity="0.63" transform="rotate(177 481.9 772.9)"/>
<ellipse cx="484.5" cy="748.7" rx="8.9" ry="10.2" fill="#4a0808" fill-opacity="0.90" transform="rotate(54 484.5 748.7)"/>
<ellipse cx="466.0" cy="724.4" rx="7.7" ry="7.7" fill="#4a0808" fill-opacity="0.72" transform="rotate(16 466.0 724.4)"/>
<ellipse cx="436.7" cy="724.8" rx="4.2" ry="3.9" fill="#3a0606" fill-opacity="0.85" transform="rotate(0 436.7 724.8)"/>
<ellipse cx="429.2" cy="756.9" rx="5.5" ry="3.7" fill="#741010" fill-opacity="0.79" transform="rotate(77 429.2 756.9)"/>
<ellipse cx="450.2" cy="760.6" rx="5.7" ry="7.1" fill="#6a0e0e" fill-opacity="0.81" transform="rotate(79 450.2 760.6)"/>
<ellipse cx="452.7" cy="758.5" rx="5.3" ry="7.4" fill="#741010" fill-opacity="0.86" transform="rotate(64 452.7 758.5)"/>
<ellipse cx="417.4" cy="764.7" rx="8.8" ry="7.8" fill="#741010" fill-opacity="0.77" transform="rotate(142 417.4 764.7)"/>
<ellipse cx="466.5" cy="728.3" rx="5.8" ry="4.6" fill="#741010" fill-opacity="0.64" transform="rotate(149 466.5 728.3)"/>
<ellipse cx="433.4" cy="713.0" rx="4.4" ry="3.7" fill="#6a0e0e" fill-opacity="0.77" transform="rotate(47 433.4 713.0)"/>
<ellipse cx="490.2" cy="758.4" rx="4.6" ry="4.4" fill="#6a0e0e" fill-opacity="0.79" transform="rotate(68 490.2 758.4)"/>
<ellipse cx="441.9" cy="722.7" rx="6.5" ry="7.8" fill="#5a0a0a" fill-opacity="0.86" transform="rotate(178 441.9 722.7)"/>
<ellipse cx="491.8" cy="754.1" rx="7.7" ry="5.2" fill="#3a0606" fill-opacity="0.83" transform="rotate(73 491.8 754.1)"/>
<ellipse cx="414.4" cy="765.2" rx="4.2" ry="3.2" fill="#4a0808" fill-opacity="0.79" transform="rotate(64 414.4 765.2)"/>
<ellipse cx="443.8" cy="713.2" rx="4.2" ry="4.9" fill="#3a0606" fill-opacity="0.65" transform="rotate(110 443.8 713.2)"/>
<ellipse cx="427.8" cy="720.6" rx="6.9" ry="8.1" fill="#6a0e0e" fill-opacity="0.84" transform="rotate(82 427.8 720.6)"/>
<ellipse cx="413.4" cy="752.6" rx="6.5" ry="8.5" fill="#4a0808" fill-opacity="0.81" transform="rotate(50 413.4 752.6)"/>
<ellipse cx="436.2" cy="753.8" rx="5.8" ry="6.3" fill="#6a0e0e" fill-opacity="0.65" transform="rotate(18 436.2 753.8)"/>
<ellipse cx="439.6" cy="755.1" rx="7.2" ry="6.6" fill="#6a0e0e" fill-opacity="0.85" transform="rotate(176 439.6 755.1)"/>
<ellipse cx="454.7" cy="772.0" rx="8.9" ry="6.1" fill="#3a0606" fill-opacity="0.83" transform="rotate(163 454.7 772.0)"/>
<ellipse cx="457.9" cy="764.1" rx="8.2" ry="6.7" fill="#3a0606" fill-opacity="0.88" transform="rotate(69 457.9 764.1)"/>
<ellipse cx="462.4" cy="746.7" rx="5.7" ry="3.8" fill="#5a0a0a" fill-opacity="0.78" transform="rotate(59 462.4 746.7)"/>
<ellipse cx="488.7" cy="727.6" rx="5.3" ry="6.0" fill="#741010" fill-opacity="0.63" transform="rotate(14 488.7 727.6)"/>
<ellipse cx="438.5" cy="766.9" rx="6.3" ry="7.9" fill="#6a0e0e" fill-opacity="0.64" transform="rotate(33 438.5 766.9)"/>
<ellipse cx="482.8" cy="718.9" rx="5.8" ry="8.0" fill="#6a0e0e" fill-opacity="0.61" transform="rotate(3 482.8 718.9)"/>
<ellipse cx="451.9" cy="769.4" rx="6.8" ry="8.0" fill="#4a0808" fill-opacity="0.75" transform="rotate(147 451.9 769.4)"/>
<ellipse cx="460.9" cy="729.7" rx="5.4" ry="4.5" fill="#6a0e0e" fill-opacity="0.63" transform="rotate(41 460.9 729.7)"/>
<ellipse cx="416.3" cy="738.0" rx="8.9" ry="11.0" fill="#3a0606" fill-opacity="0.66" transform="rotate(120 416.3 738.0)"/>
<ellipse cx="416.2" cy="710.6" rx="5.7" ry="5.6" fill="#4a0808" fill-opacity="0.61" transform="rotate(39 416.2 710.6)"/>
<ellipse cx="406.6" cy="718.0" rx="7.2" ry="8.7" fill="#4a0808" fill-opacity="0.86" transform="rotate(99 406.6 718.0)"/>
<ellipse cx="407.4" cy="712.6" rx="7.2" ry="9.9" fill="#6a0e0e" fill-opacity="0.62" transform="rotate(167 407.4 712.6)"/>
<ellipse cx="455.3" cy="725.5" rx="4.2" ry="4.9" fill="#4a0808" fill-opacity="0.73" transform="rotate(107 455.3 725.5)"/>
<ellipse cx="456.4" cy="768.0" rx="6.9" ry="4.3" fill="#6a0e0e" fill-opacity="0.74" transform="rotate(81 456.4 768.0)"/>
<ellipse cx="488.2" cy="755.7" rx="5.1" ry="5.9" fill="#4a0808" fill-opacity="0.73" transform="rotate(157 488.2 755.7)"/>
<ellipse cx="413.4" cy="708.5" rx="4.5" ry="3.1" fill="#5a0a0a" fill-opacity="0.67" transform="rotate(115 413.4 708.5)"/>
<ellipse cx="463.9" cy="758.5" rx="7.2" ry="9.6" fill="#6a0e0e" fill-opacity="0.86" transform="rotate(21 463.9 758.5)"/>
<ellipse cx="454.4" cy="755.2" rx="6.1" ry="4.0" fill="#3a0606" fill-opacity="0.82" transform="rotate(97 454.4 755.2)"/>
<ellipse cx="478.0" cy="738.9" rx="7.4" ry="9.5" fill="#5a0a0a" fill-opacity="0.89" transform="rotate(150 478.0 738.9)"/>
<ellipse cx="488.9" cy="755.0" rx="5.2" ry="3.9" fill="#6a0e0e" fill-opacity="0.65" transform="rotate(147 488.9 755.0)"/>
<ellipse cx="419.6" cy="748.7" rx="7.1" ry="5.2" fill="#5a0a0a" fill-opacity="0.75" transform="rotate(163 419.6 748.7)"/>
<ellipse cx="443.6" cy="739.9" rx="6.1" ry="4.1" fill="#5a0a0a" fill-opacity="0.88" transform="rotate(116 443.6 739.9)"/>
<ellipse cx="415.4" cy="745.8" rx="7.1" ry="8.9" fill="#6a0e0e" fill-opacity="0.82" transform="rotate(10 415.4 745.8)"/>
<ellipse cx="489.6" cy="724.8" rx="7.0" ry="6.5" fill="#3a0606" fill-opacity="0.75" transform="rotate(12 489.6 724.8)"/>
<ellipse cx="420.4" cy="718.3" rx="8.1" ry="5.0" fill="#3a0606" fill-opacity="0.63" transform="rotate(4 420.4 718.3)"/>
<ellipse cx="425.5" cy="751.7" rx="6.9" ry="6.4" fill="#4a0808" fill-opacity="0.63" transform="rotate(77 425.5 751.7)"/>
<ellipse cx="461.0" cy="749.6" rx="5.3" ry="5.1" fill="#741010" fill-opacity="0.74" transform="rotate(57 461.0 749.6)"/>
<ellipse cx="411.3" cy="729.6" rx="6.2" ry="3.8" fill="#3a0606" fill-opacity="0.78" transform="rotate(36 411.3 729.6)"/>
<ellipse cx="448.0" cy="734.3" rx="8.5" ry="6.2" fill="#741010" fill-opacity="0.75" transform="rotate(70 448.0 734.3)"/>
<ellipse cx="462.0" cy="750.6" rx="7.1" ry="5.3" fill="#3a0606" fill-opacity="0.76" transform="rotate(102 462.0 750.6)"/>
<ellipse cx="457.3" cy="765.6" rx="7.9" ry="4.9" fill="#3a0606" fill-opacity="0.68" transform="rotate(101 457.3 765.6)"/>
<ellipse cx="431.9" cy="765.1" rx="5.2" ry="3.8" fill="#3a0606" fill-opacity="0.71" transform="rotate(52 431.9 765.1)"/>
<ellipse cx="413.4" cy="730.4" rx="6.3" ry="6.2" fill="#741010" fill-opacity="0.63" transform="rotate(176 413.4 730.4)"/>
<ellipse cx="435.7" cy="752.7" rx="7.2" ry="9.4" fill="#3a0606" fill-opacity="0.75" transform="rotate(150 435.7 752.7)"/>
<ellipse cx="428.1" cy="702.0" rx="5.0" ry="5.2" fill="#5a0a0a" fill-opacity="0.74" transform="rotate(151 428.1 702.0)"/>
<ellipse cx="473.0" cy="770.5" rx="7.7" ry="8.4" fill="#4a0808" fill-opacity="0.78" transform="rotate(91 473.0 770.5)"/>
<ellipse cx="446.2" cy="752.1" rx="6.1" ry="3.7" fill="#741010" fill-opacity="0.76" transform="rotate(0 446.2 752.1)"/>
<ellipse cx="446.9" cy="724.9" rx="6.9" ry="7.7" fill="#3a0606" fill-opacity="0.61" transform="rotate(106 446.9 724.9)"/>
<ellipse cx="454.5" cy="746.6" rx="7.2" ry="8.1" fill="#6a0e0e" fill-opacity="0.62" transform="rotate(178 454.5 746.6)"/>
<ellipse cx="453.3" cy="766.6" rx="8.3" ry="10.4" fill="#741010" fill-opacity="0.80" transform="rotate(110 453.3 766.6)"/>
<ellipse cx="434.9" cy="724.2" rx="5.0" ry="6.9" fill="#6a0e0e" fill-opacity="0.78" transform="rotate(166 434.9 724.2)"/>
<ellipse cx="442.8" cy="766.4" rx="8.2" ry="6.1" fill="#3a0606" fill-opacity="0.71" transform="rotate(162 442.8 766.4)"/>
<ellipse cx="471.5" cy="731.9" rx="7.5" ry="7.5" fill="#6a0e0e" fill-opacity="0.87" transform="rotate(114 471.5 731.9)"/>
<ellipse cx="448.3" cy="729.5" rx="7.6" ry="8.6" fill="#741010" fill-opacity="0.82" transform="rotate(17 448.3 729.5)"/>
<ellipse cx="442.7" cy="709.1" rx="6.8" ry="8.4" fill="#3a0606" fill-opacity="0.77" transform="rotate(27 442.7 709.1)"/>
<ellipse cx="482.0" cy="747.5" rx="7.2" ry="8.7" fill="#3a0606" fill-opacity="0.84" transform="rotate(70 482.0 747.5)"/>
<ellipse cx="413.7" cy="702.6" rx="7.1" ry="4.5" fill="#741010" fill-opacity="0.67" transform="rotate(133 413.7 702.6)"/>
<ellipse cx="417.5" cy="745.8" rx="5.7" ry="4.3" fill="#741010" fill-opacity="0.68" transform="rotate(109 417.5 745.8)"/>
<ellipse cx="447.6" cy="768.7" rx="5.9" ry="6.2" fill="#6a0e0e" fill-opacity="0.79" transform="rotate(91 447.6 768.7)"/>
<ellipse cx="415.9" cy="707.8" rx="6.3" ry="7.2" fill="#741010" fill-opacity="0.69" transform="rotate(42 415.9 707.8)"/>
<ellipse cx="449.2" cy="735.3" rx="8.9" ry="6.4" fill="#741010" fill-opacity="0.71" transform="rotate(45 449.2 735.3)"/>
<ellipse cx="436.2" cy="711.4" rx="8.6" ry="8.2" fill="#5a0a0a" fill-opacity="0.80" transform="rotate(104 436.2 711.4)"/>
<ellipse cx="432.5" cy="752.5" rx="6.9" ry="4.4" fill="#5a0a0a" fill-opacity="0.89" transform="rotate(44 432.5 752.5)"/>
<ellipse cx="444.6" cy="761.6" rx="4.1" ry="3.3" fill="#6a0e0e" fill-opacity="0.67" transform="rotate(178 444.6 761.6)"/>
<ellipse cx="437.1" cy="714.8" rx="7.7" ry="9.8" fill="#4a0808" fill-opacity="0.74" transform="rotate(37 437.1 714.8)"/>
<ellipse cx="447.3" cy="715.0" rx="6.6" ry="7.0" fill="#4a0808" fill-opacity="0.74" transform="rotate(103 447.3 715.0)"/>
<ellipse cx="424.7" cy="769.0" rx="4.6" ry="3.9" fill="#3a0606" fill-opacity="0.65" transform="rotate(75 424.7 769.0)"/>
<ellipse cx="464.2" cy="743.6" rx="8.9" ry="5.7" fill="#4a0808" fill-opacity="0.73" transform="rotate(180 464.2 743.6)"/>
<ellipse cx="417.7" cy="740.5" rx="7.7" ry="9.8" fill="#4a0808" fill-opacity="0.88" transform="rotate(169 417.7 740.5)"/>
<ellipse cx="408.5" cy="721.1" rx="6.9" ry="6.7" fill="#3a0606" fill-opacity="0.62" transform="rotate(54 408.5 721.1)"/>
<ellipse cx="440.2" cy="751.4" rx="8.2" ry="8.2" fill="#5a0a0a" fill-opacity="0.72" transform="rotate(155 440.2 751.4)"/>
<ellipse cx="468.3" cy="738.7" rx="4.6" ry="6.0" fill="#5a0a0a" fill-opacity="0.67" transform="rotate(152 468.3 738.7)"/>
<ellipse cx="453.7" cy="721.1" rx="8.7" ry="11.8" fill="#3a0606" fill-opacity="0.76" transform="rotate(165 453.7 721.1)"/>
<ellipse cx="444.2" cy="755.9" rx="7.3" ry="6.0" fill="#5a0a0a" fill-opacity="0.82" transform="rotate(36 444.2 755.9)"/>
<ellipse cx="485.7" cy="721.0" rx="4.6" ry="4.7" fill="#6a0e0e" fill-opacity="0.69" transform="rotate(134 485.7 721.0)"/>
<ellipse cx="458.3" cy="743.7" rx="5.9" ry="8.2" fill="#4a0808" fill-opacity="0.78" transform="rotate(56 458.3 743.7)"/>
<ellipse cx="411.1" cy="728.3" rx="8.8" ry="5.7" fill="#6a0e0e" fill-opacity="0.65" transform="rotate(110 411.1 728.3)"/>
<ellipse cx="426.1" cy="742.6" rx="6.7" ry="8.2" fill="#3a0606" fill-opacity="0.81" transform="rotate(56 426.1 742.6)"/>
<ellipse cx="456.5" cy="717.0" rx="6.8" ry="9.2" fill="#6a0e0e" fill-opacity="0.68" transform="rotate(3 456.5 717.0)"/>
<ellipse cx="472.3" cy="772.6" rx="7.3" ry="5.5" fill="#4a0808" fill-opacity="0.86" transform="rotate(109 472.3 772.6)"/>
<ellipse cx="411.7" cy="703.3" rx="7.0" ry="9.1" fill="#741010" fill-opacity="0.82" transform="rotate(99 411.7 703.3)"/>
<ellipse cx="428.2" cy="756.5" rx="6.5" ry="7.6" fill="#6a0e0e" fill-opacity="0.83" transform="rotate(134 428.2 756.5)"/>
<ellipse cx="450.8" cy="723.4" rx="5.5" ry="7.6" fill="#4a0808" fill-opacity="0.65" transform="rotate(115 450.8 723.4)"/>
<ellipse cx="436.1" cy="762.5" rx="5.1" ry="4.8" fill="#741010" fill-opacity="0.70" transform="rotate(158 436.1 762.5)"/>
<ellipse cx="466.7" cy="758.2" rx="6.4" ry="4.0" fill="#6a0e0e" fill-opacity="0.83" transform="rotate(158 466.7 758.2)"/>
<ellipse cx="429.2" cy="750.0" rx="8.0" ry="7.2" fill="#6a0e0e" fill-opacity="0.70" transform="rotate(107 429.2 750.0)"/>
<ellipse cx="429.9" cy="741.0" rx="5.5" ry="6.4" fill="#741010" fill-opacity="0.61" transform="rotate(55 429.9 741.0)"/>
<ellipse cx="411.0" cy="764.7" rx="7.4" ry="6.0" fill="#6a0e0e" fill-opacity="0.75" transform="rotate(116 411.0 764.7)"/>
<ellipse cx="416.6" cy="739.3" rx="5.6" ry="4.4" fill="#741010" fill-opacity="0.77" transform="rotate(13 416.6 739.3)"/>
<ellipse cx="455.9" cy="764.1" rx="6.4" ry="8.3" fill="#3a0606" fill-opacity="0.63" transform="rotate(166 455.9 764.1)"/>
<ellipse cx="463.1" cy="740.1" rx="8.0" ry="8.7" fill="#3a0606" fill-opacity="0.76" transform="rotate(144 463.1 740.1)"/>
<ellipse cx="463.9" cy="720.6" rx="5.9" ry="3.6" fill="#4a0808" fill-opacity="0.83" transform="rotate(130 463.9 720.6)"/>
</g>
<g filter="url(#kb2)">
<ellipse cx="422.6" cy="751.2" rx="4.2" ry="5.7" fill="#7a1212" fill-opacity="0.69" transform="rotate(172 422.6 751.2)"/>
<ellipse cx="473.0" cy="737.5" rx="5.7" ry="4.4" fill="#861616" fill-opacity="0.61" transform="rotate(145 473.0 737.5)"/>
<ellipse cx="411.1" cy="736.2" rx="3.0" ry="4.0" fill="#7a1212" fill-opacity="0.40" transform="rotate(160 411.1 736.2)"/>
<ellipse cx="488.8" cy="731.5" rx="5.0" ry="6.0" fill="#7a1212" fill-opacity="0.69" transform="rotate(101 488.8 731.5)"/>
<ellipse cx="467.4" cy="751.3" rx="5.4" ry="6.9" fill="#7a1212" fill-opacity="0.63" transform="rotate(61 467.4 751.3)"/>
<ellipse cx="462.5" cy="740.2" rx="3.6" ry="3.1" fill="#861616" fill-opacity="0.47" transform="rotate(176 462.5 740.2)"/>
<ellipse cx="455.9" cy="738.0" rx="3.4" ry="4.5" fill="#7a1212" fill-opacity="0.50" transform="rotate(62 455.9 738.0)"/>
<ellipse cx="421.2" cy="750.4" rx="5.3" ry="4.5" fill="#861616" fill-opacity="0.58" transform="rotate(30 421.2 750.4)"/>
<ellipse cx="427.0" cy="726.8" rx="5.7" ry="5.1" fill="#861616" fill-opacity="0.62" transform="rotate(104 427.0 726.8)"/>
<ellipse cx="473.7" cy="750.7" rx="4.6" ry="5.9" fill="#861616" fill-opacity="0.55" transform="rotate(147 473.7 750.7)"/>
<ellipse cx="416.9" cy="723.4" rx="3.6" ry="2.2" fill="#861616" fill-opacity="0.42" transform="rotate(76 416.9 723.4)"/>
<ellipse cx="463.9" cy="751.2" rx="4.4" ry="5.0" fill="#861616" fill-opacity="0.50" transform="rotate(10 463.9 751.2)"/>
<ellipse cx="461.3" cy="734.8" rx="3.0" ry="2.1" fill="#7a1212" fill-opacity="0.50" transform="rotate(122 461.3 734.8)"/>
<ellipse cx="474.6" cy="734.3" rx="4.5" ry="3.7" fill="#861616" fill-opacity="0.48" transform="rotate(74 474.6 734.3)"/>
<ellipse cx="432.1" cy="748.1" rx="3.8" ry="5.1" fill="#861616" fill-opacity="0.69" transform="rotate(90 432.1 748.1)"/>
<ellipse cx="464.8" cy="735.7" rx="6.0" ry="4.0" fill="#861616" fill-opacity="0.59" transform="rotate(153 464.8 735.7)"/>
<ellipse cx="472.9" cy="723.6" rx="5.0" ry="6.5" fill="#7a1212" fill-opacity="0.60" transform="rotate(73 472.9 723.6)"/>
<ellipse cx="474.7" cy="739.4" rx="3.4" ry="3.4" fill="#7a1212" fill-opacity="0.76" transform="rotate(136 474.7 739.4)"/>
<ellipse cx="418.6" cy="748.5" rx="4.0" ry="4.2" fill="#861616" fill-opacity="0.68" transform="rotate(150 418.6 748.5)"/>
<ellipse cx="485.2" cy="749.9" rx="5.9" ry="3.7" fill="#7a1212" fill-opacity="0.67" transform="rotate(166 485.2 749.9)"/>
<ellipse cx="486.8" cy="727.8" rx="3.4" ry="4.4" fill="#861616" fill-opacity="0.77" transform="rotate(4 486.8 727.8)"/>
<ellipse cx="463.6" cy="757.3" rx="4.5" ry="3.1" fill="#861616" fill-opacity="0.50" transform="rotate(115 463.6 757.3)"/>
<ellipse cx="432.5" cy="722.8" rx="4.3" ry="5.5" fill="#7a1212" fill-opacity="0.47" transform="rotate(68 432.5 722.8)"/>
<ellipse cx="488.8" cy="753.3" rx="4.2" ry="3.6" fill="#7a1212" fill-opacity="0.45" transform="rotate(66 488.8 753.3)"/>
<ellipse cx="489.1" cy="728.0" rx="5.2" ry="4.6" fill="#861616" fill-opacity="0.45" transform="rotate(7 489.1 728.0)"/>
<ellipse cx="431.9" cy="740.0" rx="5.3" ry="3.4" fill="#861616" fill-opacity="0.41" transform="rotate(162 431.9 740.0)"/>
<ellipse cx="478.2" cy="731.9" rx="3.2" ry="2.5" fill="#861616" fill-opacity="0.70" transform="rotate(176 478.2 731.9)"/>
<ellipse cx="484.0" cy="740.8" rx="3.6" ry="3.9" fill="#861616" fill-opacity="0.71" transform="rotate(155 484.0 740.8)"/>
<ellipse cx="419.8" cy="746.2" rx="3.5" ry="3.8" fill="#861616" fill-opacity="0.48" transform="rotate(156 419.8 746.2)"/>
<ellipse cx="463.4" cy="749.7" rx="5.2" ry="5.2" fill="#861616" fill-opacity="0.61" transform="rotate(130 463.4 749.7)"/>
<ellipse cx="465.8" cy="749.2" rx="5.4" ry="6.3" fill="#861616" fill-opacity="0.58" transform="rotate(21 465.8 749.2)"/>
<ellipse cx="489.9" cy="733.4" rx="4.5" ry="4.8" fill="#7a1212" fill-opacity="0.70" transform="rotate(99 489.9 733.4)"/>
<ellipse cx="426.0" cy="741.3" rx="5.7" ry="7.3" fill="#7a1212" fill-opacity="0.43" transform="rotate(139 426.0 741.3)"/>
<ellipse cx="437.0" cy="733.8" rx="3.3" ry="2.9" fill="#861616" fill-opacity="0.53" transform="rotate(66 437.0 733.8)"/>
<ellipse cx="422.6" cy="723.5" rx="5.0" ry="4.5" fill="#861616" fill-opacity="0.54" transform="rotate(78 422.6 723.5)"/>
<ellipse cx="414.4" cy="750.9" rx="3.7" ry="2.9" fill="#7a1212" fill-opacity="0.61" transform="rotate(99 414.4 750.9)"/>
<ellipse cx="453.9" cy="746.9" rx="4.1" ry="2.7" fill="#7a1212" fill-opacity="0.67" transform="rotate(81 453.9 746.9)"/>
<ellipse cx="413.4" cy="751.7" rx="3.1" ry="3.2" fill="#861616" fill-opacity="0.45" transform="rotate(32 413.4 751.7)"/>
<ellipse cx="493.9" cy="735.2" rx="3.6" ry="2.9" fill="#7a1212" fill-opacity="0.43" transform="rotate(39 493.9 735.2)"/>
<ellipse cx="422.0" cy="725.8" rx="3.9" ry="4.6" fill="#861616" fill-opacity="0.54" transform="rotate(34 422.0 725.8)"/>
</g>
<g filter="url(#kb05)">
<ellipse cx="448.2" cy="757.7" rx="0.8" ry="2.3" fill="#a02020" fill-opacity="0.56" transform="rotate(7 448.2 757.7)"/>
<ellipse cx="481.0" cy="729.3" rx="1.1" ry="2.7" fill="#901a1a" fill-opacity="0.51" transform="rotate(137 481.0 729.3)"/>
<ellipse cx="484.4" cy="771.4" rx="1.5" ry="5.3" fill="#901a1a" fill-opacity="0.36" transform="rotate(123 484.4 771.4)"/>
<ellipse cx="423.4" cy="761.8" rx="1.0" ry="2.0" fill="#901a1a" fill-opacity="0.37" transform="rotate(134 423.4 761.8)"/>
<ellipse cx="461.6" cy="746.7" rx="0.7" ry="2.4" fill="#a02020" fill-opacity="0.41" transform="rotate(103 461.6 746.7)"/>
<ellipse cx="455.5" cy="750.5" rx="1.2" ry="3.0" fill="#901a1a" fill-opacity="0.34" transform="rotate(121 455.5 750.5)"/>
<ellipse cx="467.4" cy="735.7" rx="1.2" ry="4.7" fill="#901a1a" fill-opacity="0.58" transform="rotate(71 467.4 735.7)"/>
<ellipse cx="423.5" cy="748.7" rx="1.0" ry="3.3" fill="#a02020" fill-opacity="0.33" transform="rotate(109 423.5 748.7)"/>
<ellipse cx="421.6" cy="712.2" rx="1.3" ry="4.2" fill="#a02020" fill-opacity="0.57" transform="rotate(53 421.6 712.2)"/>
<ellipse cx="440.0" cy="745.0" rx="1.5" ry="5.6" fill="#a02020" fill-opacity="0.38" transform="rotate(135 440.0 745.0)"/>
<ellipse cx="414.6" cy="707.0" rx="1.4" ry="4.2" fill="#a02020" fill-opacity="0.33" transform="rotate(4 414.6 707.0)"/>
<ellipse cx="421.7" cy="763.1" rx="1.3" ry="2.7" fill="#901a1a" fill-opacity="0.33" transform="rotate(101 421.7 763.1)"/>
<ellipse cx="412.2" cy="764.5" rx="1.4" ry="4.1" fill="#901a1a" fill-opacity="0.32" transform="rotate(140 412.2 764.5)"/>
<ellipse cx="479.1" cy="762.1" rx="0.8" ry="3.2" fill="#901a1a" fill-opacity="0.33" transform="rotate(146 479.1 762.1)"/>
<ellipse cx="488.0" cy="745.5" rx="0.9" ry="3.3" fill="#901a1a" fill-opacity="0.31" transform="rotate(146 488.0 745.5)"/>
<ellipse cx="466.0" cy="727.0" rx="1.4" ry="4.4" fill="#901a1a" fill-opacity="0.47" transform="rotate(89 466.0 727.0)"/>
<ellipse cx="445.7" cy="714.3" rx="1.3" ry="4.3" fill="#a02020" fill-opacity="0.48" transform="rotate(83 445.7 714.3)"/>
<ellipse cx="492.0" cy="766.2" rx="1.3" ry="4.7" fill="#901a1a" fill-opacity="0.49" transform="rotate(84 492.0 766.2)"/>
<ellipse cx="469.3" cy="721.3" rx="1.3" ry="4.8" fill="#901a1a" fill-opacity="0.50" transform="rotate(83 469.3 721.3)"/>
<ellipse cx="427.9" cy="705.3" rx="0.8" ry="2.3" fill="#a02020" fill-opacity="0.55" transform="rotate(115 427.9 705.3)"/>
<ellipse cx="437.3" cy="729.1" rx="1.5" ry="5.0" fill="#901a1a" fill-opacity="0.33" transform="rotate(78 437.3 729.1)"/>
<ellipse cx="421.3" cy="735.4" rx="1.1" ry="2.5" fill="#901a1a" fill-opacity="0.59" transform="rotate(119 421.3 735.4)"/>
<ellipse cx="489.9" cy="746.6" rx="0.7" ry="2.1" fill="#a02020" fill-opacity="0.55" transform="rotate(49 489.9 746.6)"/>
<ellipse cx="421.6" cy="752.3" rx="0.7" ry="2.6" fill="#901a1a" fill-opacity="0.38" transform="rotate(124 421.6 752.3)"/>
<ellipse cx="428.6" cy="705.7" rx="0.7" ry="2.0" fill="#901a1a" fill-opacity="0.58" transform="rotate(78 428.6 705.7)"/>
<ellipse cx="423.9" cy="721.2" rx="0.7" ry="2.7" fill="#a02020" fill-opacity="0.37" transform="rotate(99 423.9 721.2)"/>
<ellipse cx="486.8" cy="737.9" rx="1.4" ry="4.1" fill="#901a1a" fill-opacity="0.43" transform="rotate(42 486.8 737.9)"/>
<ellipse cx="432.3" cy="725.4" rx="0.9" ry="2.0" fill="#a02020" fill-opacity="0.41" transform="rotate(57 432.3 725.4)"/>
<ellipse cx="426.2" cy="704.7" rx="1.3" ry="3.4" fill="#901a1a" fill-opacity="0.59" transform="rotate(49 426.2 704.7)"/>
<ellipse cx="479.6" cy="756.2" rx="0.6" ry="1.6" fill="#a02020" fill-opacity="0.59" transform="rotate(150 479.6 756.2)"/>
<ellipse cx="426.8" cy="745.4" rx="1.2" ry="3.4" fill="#a02020" fill-opacity="0.51" transform="rotate(49 426.8 745.4)"/>
<ellipse cx="407.7" cy="703.4" rx="0.8" ry="2.6" fill="#901a1a" fill-opacity="0.55" transform="rotate(173 407.7 703.4)"/>
<ellipse cx="463.8" cy="722.4" rx="1.3" ry="4.4" fill="#901a1a" fill-opacity="0.60" transform="rotate(109 463.8 722.4)"/>
<ellipse cx="468.0" cy="724.9" rx="1.5" ry="4.3" fill="#901a1a" fill-opacity="0.55" transform="rotate(23 468.0 724.9)"/>
<ellipse cx="469.0" cy="727.6" rx="0.6" ry="2.4" fill="#901a1a" fill-opacity="0.56" transform="rotate(12 469.0 727.6)"/>
<ellipse cx="435.2" cy="717.1" rx="0.8" ry="3.2" fill="#901a1a" fill-opacity="0.41" transform="rotate(177 435.2 717.1)"/>
<ellipse cx="436.7" cy="721.1" rx="1.4" ry="5.6" fill="#901a1a" fill-opacity="0.52" transform="rotate(176 436.7 721.1)"/>
<ellipse cx="418.7" cy="709.9" rx="0.6" ry="1.4" fill="#a02020" fill-opacity="0.37" transform="rotate(8 418.7 709.9)"/>
<ellipse cx="476.6" cy="756.4" rx="1.2" ry="2.5" fill="#901a1a" fill-opacity="0.41" transform="rotate(22 476.6 756.4)"/>
<ellipse cx="419.3" cy="726.3" rx="1.0" ry="2.9" fill="#a02020" fill-opacity="0.40" transform="rotate(83 419.3 726.3)"/>
<ellipse cx="423.9" cy="736.9" rx="1.0" ry="3.7" fill="#901a1a" fill-opacity="0.36" transform="rotate(132 423.9 736.9)"/>
<ellipse cx="421.6" cy="751.5" rx="0.7" ry="2.5" fill="#901a1a" fill-opacity="0.46" transform="rotate(160 421.6 751.5)"/>
<ellipse cx="451.9" cy="743.3" rx="1.3" ry="4.8" fill="#a02020" fill-opacity="0.31" transform="rotate(42 451.9 743.3)"/>
<ellipse cx="424.9" cy="724.9" rx="1.3" ry="5.1" fill="#a02020" fill-opacity="0.60" transform="rotate(42 424.9 724.9)"/>
<ellipse cx="441.2" cy="741.6" rx="1.2" ry="4.1" fill="#a02020" fill-opacity="0.49" transform="rotate(70 441.2 741.6)"/>
<ellipse cx="412.7" cy="714.8" rx="1.0" ry="2.5" fill="#901a1a" fill-opacity="0.41" transform="rotate(4 412.7 714.8)"/>
<ellipse cx="479.7" cy="758.3" rx="1.0" ry="2.3" fill="#a02020" fill-opacity="0.59" transform="rotate(159 479.7 758.3)"/>
<ellipse cx="406.8" cy="741.7" rx="1.0" ry="3.1" fill="#901a1a" fill-opacity="0.34" transform="rotate(151 406.8 741.7)"/>
<ellipse cx="491.2" cy="734.6" rx="1.0" ry="2.4" fill="#901a1a" fill-opacity="0.44" transform="rotate(43 491.2 734.6)"/>
<ellipse cx="409.7" cy="753.5" rx="1.4" ry="4.2" fill="#901a1a" fill-opacity="0.43" transform="rotate(29 409.7 753.5)"/>
<ellipse cx="431.4" cy="736.5" rx="1.0" ry="3.4" fill="#901a1a" fill-opacity="0.60" transform="rotate(103 431.4 736.5)"/>
<ellipse cx="421.3" cy="759.4" rx="0.8" ry="3.0" fill="#901a1a" fill-opacity="0.46" transform="rotate(89 421.3 759.4)"/>
<ellipse cx="462.5" cy="732.5" rx="1.2" ry="3.3" fill="#a02020" fill-opacity="0.45" transform="rotate(131 462.5 732.5)"/>
<ellipse cx="430.9" cy="759.1" rx="0.8" ry="2.2" fill="#901a1a" fill-opacity="0.50" transform="rotate(8 430.9 759.1)"/>
<ellipse cx="412.0" cy="719.3" rx="0.7" ry="1.5" fill="#901a1a" fill-opacity="0.53" transform="rotate(161 412.0 719.3)"/>
<ellipse cx="412.1" cy="709.8" rx="0.9" ry="2.1" fill="#a02020" fill-opacity="0.39" transform="rotate(109 412.1 709.8)"/>
<ellipse cx="477.5" cy="738.2" rx="0.7" ry="1.7" fill="#901a1a" fill-opacity="0.58" transform="rotate(145 477.5 738.2)"/>
<ellipse cx="422.4" cy="761.4" rx="1.2" ry="3.8" fill="#a02020" fill-opacity="0.34" transform="rotate(80 422.4 761.4)"/>
<ellipse cx="473.3" cy="744.6" rx="0.7" ry="2.8" fill="#a02020" fill-opacity="0.32" transform="rotate(31 473.3 744.6)"/>
<ellipse cx="447.6" cy="718.9" rx="0.7" ry="2.5" fill="#a02020" fill-opacity="0.50" transform="rotate(117 447.6 718.9)"/>
</g>
<g filter="url(#kb2)">
<ellipse cx="479.0" cy="712.2" rx="6.4" ry="5.0" fill="#080000" fill-opacity="0.86" transform="rotate(167 479.0 712.2)"/>
<ellipse cx="454.6" cy="704.6" rx="4.7" ry="4.8" fill="#080000" fill-opacity="0.76" transform="rotate(161 454.6 704.6)"/>
<ellipse cx="460.1" cy="709.9" rx="5.1" ry="4.3" fill="#080000" fill-opacity="0.87" transform="rotate(127 460.1 709.9)"/>
<ellipse cx="459.9" cy="702.2" rx="6.6" ry="8.9" fill="#080000" fill-opacity="0.70" transform="rotate(72 459.9 702.2)"/>
<ellipse cx="491.0" cy="710.6" rx="6.9" ry="8.0" fill="#080000" fill-opacity="0.78" transform="rotate(65 491.0 710.6)"/>
<ellipse cx="460.4" cy="710.4" rx="4.4" ry="4.2" fill="#080000" fill-opacity="0.75" transform="rotate(93 460.4 710.4)"/>
</g>
</g>
<clipPath id="kb12"><rect x="543.20" y="701.90" width="88.40" height="70.80"/></clipPath>
<rect x="543.20" y="701.90" width="88.40" height="70.80" fill="#050000" />
<g clip-path="url(#kb12)">
<g filter="url(#kb3)">
<ellipse cx="570.1" cy="735.5" rx="7.8" ry="6.3" fill="#560a0a" fill-opacity="0.88" transform="rotate(41 570.1 735.5)"/>
<ellipse cx="564.0" cy="723.2" rx="5.7" ry="3.7" fill="#3a0606" fill-opacity="0.67" transform="rotate(17 564.0 723.2)"/>
<ellipse cx="563.8" cy="759.2" rx="5.9" ry="6.2" fill="#560a0a" fill-opacity="0.89" transform="rotate(118 563.8 759.2)"/>
<ellipse cx="553.0" cy="754.6" rx="4.1" ry="2.9" fill="#480808" fill-opacity="0.70" transform="rotate(46 553.0 754.6)"/>
<ellipse cx="543.0" cy="727.1" rx="5.3" ry="3.5" fill="#2e0404" fill-opacity="0.82" transform="rotate(30 543.0 727.1)"/>
<ellipse cx="584.9" cy="771.4" rx="4.8" ry="4.1" fill="#2e0404" fill-opacity="0.69" transform="rotate(105 584.9 771.4)"/>
<ellipse cx="578.1" cy="737.4" rx="7.7" ry="4.9" fill="#480808" fill-opacity="0.87" transform="rotate(160 578.1 737.4)"/>
<ellipse cx="577.7" cy="748.2" rx="4.1" ry="3.2" fill="#560a0a" fill-opacity="0.64" transform="rotate(117 577.7 748.2)"/>
<ellipse cx="577.5" cy="729.6" rx="4.3" ry="3.6" fill="#480808" fill-opacity="0.71" transform="rotate(173 577.5 729.6)"/>
<ellipse cx="545.1" cy="732.2" rx="5.7" ry="4.3" fill="#3a0606" fill-opacity="0.63" transform="rotate(77 545.1 732.2)"/>
<ellipse cx="586.0" cy="769.5" rx="6.2" ry="4.0" fill="#2e0404" fill-opacity="0.84" transform="rotate(171 586.0 769.5)"/>
<ellipse cx="583.5" cy="767.5" rx="7.1" ry="8.2" fill="#3a0606" fill-opacity="0.68" transform="rotate(29 583.5 767.5)"/>
<ellipse cx="561.1" cy="749.7" rx="5.7" ry="4.9" fill="#2e0404" fill-opacity="0.76" transform="rotate(154 561.1 749.7)"/>
<ellipse cx="608.0" cy="740.8" rx="7.2" ry="5.2" fill="#560a0a" fill-opacity="0.62" transform="rotate(85 608.0 740.8)"/>
<ellipse cx="593.1" cy="767.0" rx="4.3" ry="5.2" fill="#2e0404" fill-opacity="0.79" transform="rotate(129 593.1 767.0)"/>
<ellipse cx="596.2" cy="735.7" rx="5.8" ry="6.2" fill="#2e0404" fill-opacity="0.76" transform="rotate(61 596.2 735.7)"/>
<ellipse cx="581.7" cy="738.6" rx="6.8" ry="8.7" fill="#480808" fill-opacity="0.81" transform="rotate(147 581.7 738.6)"/>
<ellipse cx="547.2" cy="762.7" rx="4.7" ry="3.8" fill="#2e0404" fill-opacity="0.83" transform="rotate(163 547.2 762.7)"/>
<ellipse cx="582.2" cy="764.0" rx="5.4" ry="5.4" fill="#480808" fill-opacity="0.76" transform="rotate(48 582.2 764.0)"/>
<ellipse cx="606.0" cy="768.0" rx="5.2" ry="7.1" fill="#560a0a" fill-opacity="0.67" transform="rotate(21 606.0 768.0)"/>
<ellipse cx="564.4" cy="770.8" rx="6.3" ry="7.8" fill="#560a0a" fill-opacity="0.67" transform="rotate(180 564.4 770.8)"/>
<ellipse cx="630.4" cy="765.4" rx="4.0" ry="5.5" fill="#480808" fill-opacity="0.62" transform="rotate(117 630.4 765.4)"/>
<ellipse cx="576.8" cy="749.0" rx="7.5" ry="6.5" fill="#560a0a" fill-opacity="0.74" transform="rotate(72 576.8 749.0)"/>
<ellipse cx="552.7" cy="749.2" rx="6.6" ry="7.3" fill="#480808" fill-opacity="0.81" transform="rotate(10 552.7 749.2)"/>
<ellipse cx="548.0" cy="765.9" rx="6.6" ry="8.3" fill="#480808" fill-opacity="0.70" transform="rotate(139 548.0 765.9)"/>
<ellipse cx="547.6" cy="738.9" rx="7.5" ry="6.9" fill="#2e0404" fill-opacity="0.76" transform="rotate(46 547.6 738.9)"/>
<ellipse cx="559.9" cy="762.4" rx="4.1" ry="3.1" fill="#480808" fill-opacity="0.88" transform="rotate(95 559.9 762.4)"/>
<ellipse cx="614.8" cy="740.9" rx="5.1" ry="4.2" fill="#3a0606" fill-opacity="0.67" transform="rotate(39 614.8 740.9)"/>
<ellipse cx="593.4" cy="726.3" rx="7.6" ry="5.8" fill="#560a0a" fill-opacity="0.62" transform="rotate(53 593.4 726.3)"/>
<ellipse cx="586.7" cy="736.5" rx="5.2" ry="3.8" fill="#3a0606" fill-opacity="0.87" transform="rotate(90 586.7 736.5)"/>
<ellipse cx="551.5" cy="743.1" rx="6.7" ry="7.6" fill="#560a0a" fill-opacity="0.81" transform="rotate(100 551.5 743.1)"/>
<ellipse cx="625.9" cy="741.8" rx="6.8" ry="7.1" fill="#3a0606" fill-opacity="0.62" transform="rotate(14 625.9 741.8)"/>
<ellipse cx="546.5" cy="737.8" rx="5.9" ry="6.5" fill="#2e0404" fill-opacity="0.89" transform="rotate(107 546.5 737.8)"/>
<ellipse cx="555.2" cy="764.0" rx="8.0" ry="6.3" fill="#3a0606" fill-opacity="0.66" transform="rotate(6 555.2 764.0)"/>
<ellipse cx="568.1" cy="720.1" rx="7.9" ry="4.9" fill="#480808" fill-opacity="0.68" transform="rotate(39 568.1 720.1)"/>
<ellipse cx="601.6" cy="728.0" rx="5.1" ry="7.0" fill="#3a0606" fill-opacity="0.69" transform="rotate(96 601.6 728.0)"/>
<ellipse cx="594.9" cy="726.9" rx="6.8" ry="8.6" fill="#560a0a" fill-opacity="0.85" transform="rotate(101 594.9 726.9)"/>
<ellipse cx="620.9" cy="760.4" rx="4.8" ry="6.4" fill="#3a0606" fill-opacity="0.87" transform="rotate(146 620.9 760.4)"/>
<ellipse cx="551.3" cy="714.0" rx="7.2" ry="5.3" fill="#3a0606" fill-opacity="0.85" transform="rotate(63 551.3 714.0)"/>
<ellipse cx="578.6" cy="731.3" rx="6.8" ry="9.5" fill="#560a0a" fill-opacity="0.72" transform="rotate(113 578.6 731.3)"/>
<ellipse cx="554.6" cy="769.3" rx="6.3" ry="8.5" fill="#560a0a" fill-opacity="0.72" transform="rotate(179 554.6 769.3)"/>
<ellipse cx="544.3" cy="740.2" rx="6.6" ry="8.7" fill="#480808" fill-opacity="0.68" transform="rotate(175 544.3 740.2)"/>
<ellipse cx="598.4" cy="745.9" rx="6.2" ry="6.9" fill="#3a0606" fill-opacity="0.75" transform="rotate(13 598.4 745.9)"/>
<ellipse cx="594.9" cy="766.5" rx="7.1" ry="5.9" fill="#480808" fill-opacity="0.90" transform="rotate(45 594.9 766.5)"/>
<ellipse cx="593.1" cy="746.4" rx="5.6" ry="6.9" fill="#2e0404" fill-opacity="0.86" transform="rotate(54 593.1 746.4)"/>
<ellipse cx="556.9" cy="743.3" rx="6.1" ry="7.8" fill="#3a0606" fill-opacity="0.73" transform="rotate(6 556.9 743.3)"/>
<ellipse cx="562.9" cy="733.2" rx="7.8" ry="9.0" fill="#2e0404" fill-opacity="0.87" transform="rotate(155 562.9 733.2)"/>
<ellipse cx="614.6" cy="751.8" rx="7.9" ry="5.4" fill="#480808" fill-opacity="0.88" transform="rotate(8 614.6 751.8)"/>
<ellipse cx="587.8" cy="737.3" rx="7.2" ry="9.5" fill="#3a0606" fill-opacity="0.87" transform="rotate(35 587.8 737.3)"/>
<ellipse cx="559.6" cy="735.1" rx="7.2" ry="5.9" fill="#560a0a" fill-opacity="0.81" transform="rotate(31 559.6 735.1)"/>
<ellipse cx="623.2" cy="727.9" rx="6.0" ry="5.7" fill="#2e0404" fill-opacity="0.88" transform="rotate(177 623.2 727.9)"/>
<ellipse cx="587.3" cy="746.7" rx="4.3" ry="4.6" fill="#560a0a" fill-opacity="0.65" transform="rotate(125 587.3 746.7)"/>
<ellipse cx="584.6" cy="729.5" rx="7.7" ry="8.4" fill="#2e0404" fill-opacity="0.76" transform="rotate(167 584.6 729.5)"/>
<ellipse cx="614.7" cy="761.4" rx="7.0" ry="6.5" fill="#560a0a" fill-opacity="0.67" transform="rotate(97 614.7 761.4)"/>
<ellipse cx="602.2" cy="754.8" rx="6.5" ry="7.4" fill="#3a0606" fill-opacity="0.69" transform="rotate(87 602.2 754.8)"/>
<ellipse cx="584.2" cy="736.0" rx="6.0" ry="8.1" fill="#3a0606" fill-opacity="0.66" transform="rotate(77 584.2 736.0)"/>
<ellipse cx="619.6" cy="740.4" rx="4.2" ry="4.4" fill="#2e0404" fill-opacity="0.70" transform="rotate(99 619.6 740.4)"/>
<ellipse cx="632.0" cy="754.4" rx="4.1" ry="4.5" fill="#560a0a" fill-opacity="0.86" transform="rotate(37 632.0 754.4)"/>
<ellipse cx="556.2" cy="719.6" rx="5.7" ry="7.6" fill="#2e0404" fill-opacity="0.63" transform="rotate(143 556.2 719.6)"/>
<ellipse cx="551.7" cy="730.9" rx="4.3" ry="5.8" fill="#560a0a" fill-opacity="0.82" transform="rotate(46 551.7 730.9)"/>
<ellipse cx="578.8" cy="757.2" rx="4.5" ry="5.7" fill="#560a0a" fill-opacity="0.88" transform="rotate(173 578.8 757.2)"/>
<ellipse cx="584.5" cy="743.2" rx="4.3" ry="5.7" fill="#480808" fill-opacity="0.76" transform="rotate(136 584.5 743.2)"/>
<ellipse cx="549.1" cy="755.4" rx="7.3" ry="9.2" fill="#480808" fill-opacity="0.76" transform="rotate(155 549.1 755.4)"/>
<ellipse cx="553.1" cy="758.0" rx="5.8" ry="5.8" fill="#560a0a" fill-opacity="0.75" transform="rotate(119 553.1 758.0)"/>
<ellipse cx="562.9" cy="725.6" rx="6.5" ry="5.3" fill="#560a0a" fill-opacity="0.88" transform="rotate(9 562.9 725.6)"/>
<ellipse cx="547.7" cy="740.8" rx="6.9" ry="9.7" fill="#560a0a" fill-opacity="0.68" transform="rotate(151 547.7 740.8)"/>
<ellipse cx="612.8" cy="724.6" rx="6.1" ry="4.3" fill="#480808" fill-opacity="0.61" transform="rotate(73 612.8 724.6)"/>
<ellipse cx="559.8" cy="740.5" rx="6.6" ry="7.6" fill="#480808" fill-opacity="0.78" transform="rotate(124 559.8 740.5)"/>
<ellipse cx="547.9" cy="765.6" rx="6.8" ry="5.2" fill="#480808" fill-opacity="0.83" transform="rotate(136 547.9 765.6)"/>
<ellipse cx="591.8" cy="772.2" rx="6.6" ry="5.5" fill="#480808" fill-opacity="0.88" transform="rotate(163 591.8 772.2)"/>
<ellipse cx="618.5" cy="743.4" rx="5.9" ry="6.0" fill="#480808" fill-opacity="0.64" transform="rotate(57 618.5 743.4)"/>
<ellipse cx="631.1" cy="726.1" rx="5.8" ry="6.3" fill="#480808" fill-opacity="0.62" transform="rotate(56 631.1 726.1)"/>
<ellipse cx="620.7" cy="762.9" rx="7.1" ry="8.6" fill="#3a0606" fill-opacity="0.90" transform="rotate(34 620.7 762.9)"/>
<ellipse cx="594.1" cy="737.1" rx="7.1" ry="8.2" fill="#480808" fill-opacity="0.78" transform="rotate(134 594.1 737.1)"/>
<ellipse cx="623.6" cy="765.1" rx="4.9" ry="4.4" fill="#2e0404" fill-opacity="0.73" transform="rotate(4 623.6 765.1)"/>
<ellipse cx="550.4" cy="760.0" rx="5.3" ry="3.7" fill="#560a0a" fill-opacity="0.81" transform="rotate(1 550.4 760.0)"/>
<ellipse cx="631.3" cy="747.4" rx="6.5" ry="7.2" fill="#480808" fill-opacity="0.73" transform="rotate(11 631.3 747.4)"/>
<ellipse cx="607.4" cy="765.5" rx="6.4" ry="7.6" fill="#480808" fill-opacity="0.64" transform="rotate(40 607.4 765.5)"/>
<ellipse cx="551.1" cy="759.8" rx="5.9" ry="5.9" fill="#560a0a" fill-opacity="0.82" transform="rotate(71 551.1 759.8)"/>
<ellipse cx="577.7" cy="772.6" rx="7.6" ry="9.3" fill="#2e0404" fill-opacity="0.63" transform="rotate(108 577.7 772.6)"/>
<ellipse cx="616.8" cy="719.0" rx="4.9" ry="3.1" fill="#560a0a" fill-opacity="0.71" transform="rotate(64 616.8 719.0)"/>
<ellipse cx="572.5" cy="754.8" rx="4.9" ry="5.9" fill="#560a0a" fill-opacity="0.61" transform="rotate(174 572.5 754.8)"/>
<ellipse cx="612.5" cy="758.0" rx="7.2" ry="7.6" fill="#560a0a" fill-opacity="0.77" transform="rotate(19 612.5 758.0)"/>
<ellipse cx="586.2" cy="756.5" rx="4.7" ry="4.3" fill="#3a0606" fill-opacity="0.87" transform="rotate(114 586.2 756.5)"/>
<ellipse cx="566.4" cy="732.0" rx="6.1" ry="5.9" fill="#560a0a" fill-opacity="0.65" transform="rotate(14 566.4 732.0)"/>
<ellipse cx="563.8" cy="736.2" rx="4.6" ry="4.6" fill="#3a0606" fill-opacity="0.89" transform="rotate(120 563.8 736.2)"/>
<ellipse cx="543.8" cy="743.9" rx="7.8" ry="6.6" fill="#480808" fill-opacity="0.84" transform="rotate(65 543.8 743.9)"/>
<ellipse cx="613.4" cy="749.5" rx="4.5" ry="5.3" fill="#480808" fill-opacity="0.76" transform="rotate(177 613.4 749.5)"/>
<ellipse cx="582.8" cy="725.8" rx="7.9" ry="8.8" fill="#3a0606" fill-opacity="0.61" transform="rotate(89 582.8 725.8)"/>
<ellipse cx="591.0" cy="739.6" rx="5.0" ry="3.9" fill="#480808" fill-opacity="0.76" transform="rotate(141 591.0 739.6)"/>
<ellipse cx="590.8" cy="722.6" rx="6.9" ry="5.6" fill="#2e0404" fill-opacity="0.79" transform="rotate(64 590.8 722.6)"/>
<ellipse cx="576.3" cy="755.4" rx="7.3" ry="8.1" fill="#2e0404" fill-opacity="0.75" transform="rotate(55 576.3 755.4)"/>
<ellipse cx="581.7" cy="743.9" rx="4.4" ry="3.1" fill="#560a0a" fill-opacity="0.87" transform="rotate(155 581.7 743.9)"/>
<ellipse cx="601.9" cy="732.5" rx="4.7" ry="3.0" fill="#480808" fill-opacity="0.88" transform="rotate(106 601.9 732.5)"/>
<ellipse cx="549.9" cy="729.0" rx="6.2" ry="6.4" fill="#560a0a" fill-opacity="0.80" transform="rotate(29 549.9 729.0)"/>
<ellipse cx="622.3" cy="720.1" rx="5.4" ry="5.3" fill="#480808" fill-opacity="0.87" transform="rotate(48 622.3 720.1)"/>
<ellipse cx="567.2" cy="735.9" rx="5.3" ry="6.4" fill="#560a0a" fill-opacity="0.85" transform="rotate(75 567.2 735.9)"/>
<ellipse cx="593.1" cy="756.4" rx="6.0" ry="5.0" fill="#560a0a" fill-opacity="0.86" transform="rotate(108 593.1 756.4)"/>
<ellipse cx="591.3" cy="730.8" rx="4.8" ry="3.9" fill="#3a0606" fill-opacity="0.80" transform="rotate(2 591.3 730.8)"/>
<ellipse cx="599.6" cy="765.4" rx="5.8" ry="3.7" fill="#3a0606" fill-opacity="0.80" transform="rotate(13 599.6 765.4)"/>
</g>
<g filter="url(#kb05)">
<ellipse cx="592.1" cy="726.1" rx="1.1" ry="2.3" fill="#701212" fill-opacity="0.51" transform="rotate(114 592.1 726.1)"/>
<ellipse cx="562.5" cy="770.3" rx="1.1" ry="4.0" fill="#6a1010" fill-opacity="0.52" transform="rotate(76 562.5 770.3)"/>
<ellipse cx="557.9" cy="723.9" rx="1.2" ry="3.6" fill="#801616" fill-opacity="0.38" transform="rotate(81 557.9 723.9)"/>
<ellipse cx="555.3" cy="741.3" rx="0.8" ry="2.3" fill="#701212" fill-opacity="0.49" transform="rotate(173 555.3 741.3)"/>
<ellipse cx="600.4" cy="733.6" rx="1.4" ry="5.0" fill="#801616" fill-opacity="0.41" transform="rotate(139 600.4 733.6)"/>
<ellipse cx="562.2" cy="769.1" rx="1.4" ry="4.8" fill="#801616" fill-opacity="0.48" transform="rotate(115 562.2 769.1)"/>
<ellipse cx="600.8" cy="760.5" rx="1.1" ry="2.7" fill="#6a1010" fill-opacity="0.52" transform="rotate(45 600.8 760.5)"/>
<ellipse cx="625.7" cy="747.2" rx="1.0" ry="2.6" fill="#701212" fill-opacity="0.55" transform="rotate(66 625.7 747.2)"/>
<ellipse cx="554.6" cy="737.6" rx="1.4" ry="3.5" fill="#701212" fill-opacity="0.38" transform="rotate(104 554.6 737.6)"/>
<ellipse cx="555.8" cy="729.5" rx="1.3" ry="4.1" fill="#701212" fill-opacity="0.40" transform="rotate(58 555.8 729.5)"/>
<ellipse cx="617.7" cy="767.9" rx="1.4" ry="4.3" fill="#701212" fill-opacity="0.55" transform="rotate(36 617.7 767.9)"/>
<ellipse cx="555.8" cy="755.7" rx="0.8" ry="1.8" fill="#701212" fill-opacity="0.32" transform="rotate(173 555.8 755.7)"/>
<ellipse cx="614.3" cy="762.2" rx="1.2" ry="3.3" fill="#701212" fill-opacity="0.60" transform="rotate(3 614.3 762.2)"/>
<ellipse cx="630.9" cy="715.8" rx="0.8" ry="1.7" fill="#801616" fill-opacity="0.45" transform="rotate(21 630.9 715.8)"/>
<ellipse cx="607.3" cy="723.7" rx="1.5" ry="3.5" fill="#701212" fill-opacity="0.35" transform="rotate(107 607.3 723.7)"/>
<ellipse cx="574.6" cy="747.3" rx="1.0" ry="3.8" fill="#801616" fill-opacity="0.42" transform="rotate(177 574.6 747.3)"/>
<ellipse cx="624.9" cy="769.9" rx="0.9" ry="3.0" fill="#801616" fill-opacity="0.55" transform="rotate(172 624.9 769.9)"/>
<ellipse cx="622.9" cy="755.4" rx="1.1" ry="3.8" fill="#6a1010" fill-opacity="0.36" transform="rotate(45 622.9 755.4)"/>
<ellipse cx="629.4" cy="730.2" rx="1.2" ry="4.3" fill="#6a1010" fill-opacity="0.55" transform="rotate(56 629.4 730.2)"/>
<ellipse cx="561.7" cy="740.9" rx="0.9" ry="3.5" fill="#801616" fill-opacity="0.53" transform="rotate(111 561.7 740.9)"/>
<ellipse cx="555.7" cy="717.1" rx="0.8" ry="2.5" fill="#701212" fill-opacity="0.56" transform="rotate(37 555.7 717.1)"/>
<ellipse cx="560.1" cy="738.5" rx="1.2" ry="4.2" fill="#701212" fill-opacity="0.40" transform="rotate(176 560.1 738.5)"/>
<ellipse cx="570.0" cy="737.1" rx="1.0" ry="2.6" fill="#6a1010" fill-opacity="0.41" transform="rotate(19 570.0 737.1)"/>
<ellipse cx="556.1" cy="741.4" rx="0.7" ry="1.6" fill="#6a1010" fill-opacity="0.38" transform="rotate(180 556.1 741.4)"/>
<ellipse cx="551.5" cy="735.5" rx="1.2" ry="4.2" fill="#701212" fill-opacity="0.48" transform="rotate(14 551.5 735.5)"/>
<ellipse cx="569.7" cy="750.6" rx="1.3" ry="3.9" fill="#801616" fill-opacity="0.60" transform="rotate(159 569.7 750.6)"/>
<ellipse cx="544.9" cy="735.3" rx="0.8" ry="2.4" fill="#801616" fill-opacity="0.49" transform="rotate(172 544.9 735.3)"/>
<ellipse cx="556.0" cy="707.4" rx="0.8" ry="3.1" fill="#801616" fill-opacity="0.41" transform="rotate(12 556.0 707.4)"/>
<ellipse cx="591.8" cy="745.4" rx="1.0" ry="3.4" fill="#701212" fill-opacity="0.53" transform="rotate(77 591.8 745.4)"/>
<ellipse cx="555.9" cy="731.1" rx="1.0" ry="3.7" fill="#6a1010" fill-opacity="0.46" transform="rotate(82 555.9 731.1)"/>
<ellipse cx="630.1" cy="739.3" rx="1.5" ry="4.2" fill="#801616" fill-opacity="0.47" transform="rotate(117 630.1 739.3)"/>
<ellipse cx="559.3" cy="725.7" rx="1.2" ry="4.2" fill="#701212" fill-opacity="0.52" transform="rotate(22 559.3 725.7)"/>
<ellipse cx="558.9" cy="741.0" rx="0.7" ry="2.8" fill="#701212" fill-opacity="0.47" transform="rotate(117 558.9 741.0)"/>
<ellipse cx="616.6" cy="742.2" rx="1.2" ry="3.8" fill="#701212" fill-opacity="0.50" transform="rotate(25 616.6 742.2)"/>
<ellipse cx="590.9" cy="738.6" rx="0.8" ry="1.7" fill="#801616" fill-opacity="0.36" transform="rotate(160 590.9 738.6)"/>
<ellipse cx="571.7" cy="758.1" rx="1.5" ry="3.1" fill="#6a1010" fill-opacity="0.43" transform="rotate(140 571.7 758.1)"/>
<ellipse cx="569.8" cy="761.8" rx="1.4" ry="3.8" fill="#801616" fill-opacity="0.56" transform="rotate(124 569.8 761.8)"/>
<ellipse cx="561.4" cy="763.4" rx="1.4" ry="3.2" fill="#801616" fill-opacity="0.35" transform="rotate(62 561.4 763.4)"/>
<ellipse cx="603.8" cy="771.1" rx="1.3" ry="2.9" fill="#701212" fill-opacity="0.31" transform="rotate(35 603.8 771.1)"/>
<ellipse cx="602.4" cy="740.4" rx="1.3" ry="4.9" fill="#801616" fill-opacity="0.51" transform="rotate(37 602.4 740.4)"/>
<ellipse cx="613.3" cy="768.2" rx="1.4" ry="5.1" fill="#6a1010" fill-opacity="0.48" transform="rotate(169 613.3 768.2)"/>
<ellipse cx="567.1" cy="732.0" rx="0.9" ry="3.5" fill="#801616" fill-opacity="0.57" transform="rotate(8 567.1 732.0)"/>
<ellipse cx="592.2" cy="764.9" rx="0.8" ry="2.8" fill="#6a1010" fill-opacity="0.39" transform="rotate(121 592.2 764.9)"/>
<ellipse cx="549.6" cy="772.9" rx="0.8" ry="2.9" fill="#801616" fill-opacity="0.48" transform="rotate(123 549.6 772.9)"/>
<ellipse cx="591.8" cy="733.6" rx="1.2" ry="3.2" fill="#6a1010" fill-opacity="0.35" transform="rotate(32 591.8 733.6)"/>
<ellipse cx="612.1" cy="761.1" rx="1.6" ry="4.9" fill="#801616" fill-opacity="0.40" transform="rotate(52 612.1 761.1)"/>
<ellipse cx="622.2" cy="733.0" rx="0.8" ry="2.6" fill="#701212" fill-opacity="0.59" transform="rotate(76 622.2 733.0)"/>
<ellipse cx="576.2" cy="751.4" rx="1.0" ry="3.7" fill="#801616" fill-opacity="0.54" transform="rotate(85 576.2 751.4)"/>
<ellipse cx="593.4" cy="759.8" rx="0.7" ry="2.9" fill="#801616" fill-opacity="0.52" transform="rotate(93 593.4 759.8)"/>
<ellipse cx="625.9" cy="758.4" rx="0.9" ry="2.8" fill="#701212" fill-opacity="0.49" transform="rotate(34 625.9 758.4)"/>
<ellipse cx="552.3" cy="706.2" rx="1.4" ry="4.8" fill="#6a1010" fill-opacity="0.31" transform="rotate(40 552.3 706.2)"/>
<ellipse cx="624.4" cy="759.2" rx="0.8" ry="2.5" fill="#6a1010" fill-opacity="0.47" transform="rotate(124 624.4 759.2)"/>
<ellipse cx="566.9" cy="754.6" rx="1.1" ry="4.4" fill="#701212" fill-opacity="0.39" transform="rotate(138 566.9 754.6)"/>
<ellipse cx="544.2" cy="747.9" rx="1.3" ry="4.5" fill="#6a1010" fill-opacity="0.50" transform="rotate(80 544.2 747.9)"/>
<ellipse cx="626.1" cy="758.4" rx="0.9" ry="2.7" fill="#6a1010" fill-opacity="0.32" transform="rotate(37 626.1 758.4)"/>
<ellipse cx="586.3" cy="752.8" rx="0.8" ry="2.8" fill="#801616" fill-opacity="0.48" transform="rotate(29 586.3 752.8)"/>
<ellipse cx="543.7" cy="772.8" rx="1.2" ry="2.8" fill="#6a1010" fill-opacity="0.53" transform="rotate(7 543.7 772.8)"/>
<ellipse cx="596.3" cy="768.7" rx="1.2" ry="3.7" fill="#801616" fill-opacity="0.42" transform="rotate(37 596.3 768.7)"/>
<ellipse cx="615.4" cy="744.0" rx="1.3" ry="5.3" fill="#801616" fill-opacity="0.43" transform="rotate(122 615.4 744.0)"/>
<ellipse cx="614.5" cy="753.5" rx="1.5" ry="5.9" fill="#6a1010" fill-opacity="0.47" transform="rotate(20 614.5 753.5)"/>
<ellipse cx="628.6" cy="727.9" rx="1.5" ry="3.4" fill="#801616" fill-opacity="0.56" transform="rotate(90 628.6 727.9)"/>
<ellipse cx="552.5" cy="763.4" rx="1.0" ry="3.1" fill="#801616" fill-opacity="0.47" transform="rotate(65 552.5 763.4)"/>
<ellipse cx="559.7" cy="771.7" rx="1.0" ry="3.4" fill="#801616" fill-opacity="0.49" transform="rotate(134 559.7 771.7)"/>
<ellipse cx="563.4" cy="741.8" rx="1.5" ry="4.8" fill="#801616" fill-opacity="0.48" transform="rotate(108 563.4 741.8)"/>
<ellipse cx="611.1" cy="746.3" rx="0.7" ry="2.2" fill="#6a1010" fill-opacity="0.57" transform="rotate(145 611.1 746.3)"/>
<ellipse cx="549.7" cy="731.8" rx="1.5" ry="4.8" fill="#701212" fill-opacity="0.35" transform="rotate(70 549.7 731.8)"/>
<ellipse cx="552.4" cy="722.8" rx="1.6" ry="4.6" fill="#701212" fill-opacity="0.39" transform="rotate(55 552.4 722.8)"/>
<ellipse cx="598.3" cy="768.0" rx="1.3" ry="5.0" fill="#701212" fill-opacity="0.35" transform="rotate(149 598.3 768.0)"/>
<ellipse cx="586.7" cy="751.4" rx="0.9" ry="3.2" fill="#701212" fill-opacity="0.55" transform="rotate(102 586.7 751.4)"/>
<ellipse cx="605.7" cy="741.7" rx="1.2" ry="4.1" fill="#701212" fill-opacity="0.59" transform="rotate(82 605.7 741.7)"/>
</g>
</g>
<clipPath id="ks000"><rect x="360.20" y="627.30" width="42.20" height="33.30"/></clipPath>
<rect x="360.20" y="627.30" width="42.20" height="33.30" fill="#030214" />
<g clip-path="url(#ks000)">
<g filter="url(#kb05)">
<ellipse cx="384.4" cy="647.5" rx="1.7" ry="1.4" fill="#2a2af0" fill-opacity="0.74" transform="rotate(110 384.4 647.5)"/>
<ellipse cx="375.7" cy="642.6" rx="1.3" ry="1.2" fill="#2a2af0" fill-opacity="0.68" transform="rotate(121 375.7 642.6)"/>
<ellipse cx="378.6" cy="646.7" rx="1.4" ry="1.5" fill="#2a2af0" fill-opacity="0.90" transform="rotate(54 378.6 646.7)"/>
<ellipse cx="383.4" cy="642.4" rx="1.4" ry="1.3" fill="#2a2af0" fill-opacity="0.76" transform="rotate(106 383.4 642.4)"/>
<ellipse cx="382.5" cy="639.2" rx="1.5" ry="1.5" fill="#2a2af0" fill-opacity="0.78" transform="rotate(132 382.5 639.2)"/>
<ellipse cx="376.5" cy="644.0" rx="1.8" ry="1.3" fill="#2a2af0" fill-opacity="0.61" transform="rotate(110 376.5 644.0)"/>
<ellipse cx="382.6" cy="641.1" rx="1.6" ry="1.3" fill="#2a2af0" fill-opacity="0.90" transform="rotate(61 382.6 641.1)"/>
<ellipse cx="386.9" cy="640.8" rx="1.3" ry="1.2" fill="#2a2af0" fill-opacity="0.69" transform="rotate(164 386.9 640.8)"/>
<ellipse cx="379.5" cy="648.5" rx="1.5" ry="1.2" fill="#2a2af0" fill-opacity="0.85" transform="rotate(130 379.5 648.5)"/>
<ellipse cx="381.7" cy="646.9" rx="1.7" ry="1.4" fill="#2a2af0" fill-opacity="0.84" transform="rotate(110 381.7 646.9)"/>
</g>
</g>
<clipPath id="ks001"><rect x="360.20" y="663.80" width="42.20" height="33.30"/></clipPath>
<rect x="360.20" y="663.80" width="42.20" height="33.30" fill="#030214" />
<g clip-path="url(#ks001)">
<g filter="url(#kb1)">
<ellipse cx="373.3" cy="688.0" rx="2.8" ry="1.7" fill="#6a1a78" fill-opacity="0.52" transform="rotate(65 373.3 688.0)"/>
<ellipse cx="389.5" cy="687.6" rx="3.6" ry="4.8" fill="#6a1a78" fill-opacity="0.71" transform="rotate(62 389.5 687.6)"/>
<ellipse cx="377.1" cy="678.1" rx="2.5" ry="2.8" fill="#6a1a78" fill-opacity="0.64" transform="rotate(114 377.1 678.1)"/>
<ellipse cx="384.5" cy="687.5" rx="2.8" ry="3.5" fill="#6a1a78" fill-opacity="0.75" transform="rotate(103 384.5 687.5)"/>
<ellipse cx="375.0" cy="675.2" rx="3.2" ry="2.8" fill="#6a1a78" fill-opacity="0.56" transform="rotate(54 375.0 675.2)"/>
<ellipse cx="383.1" cy="675.1" rx="3.6" ry="4.4" fill="#6a1a78" fill-opacity="0.79" transform="rotate(76 383.1 675.1)"/>
<ellipse cx="379.9" cy="674.0" rx="2.8" ry="2.8" fill="#6a1a78" fill-opacity="0.69" transform="rotate(44 379.9 674.0)"/>
<ellipse cx="383.7" cy="675.3" rx="2.3" ry="2.2" fill="#6a1a78" fill-opacity="0.65" transform="rotate(123 383.7 675.3)"/>
<ellipse cx="384.2" cy="679.5" rx="2.5" ry="2.3" fill="#6a1a78" fill-opacity="0.75" transform="rotate(24 384.2 679.5)"/>
<ellipse cx="373.5" cy="681.8" rx="3.4" ry="3.0" fill="#6a1a78" fill-opacity="0.50" transform="rotate(176 373.5 681.8)"/>
<ellipse cx="373.4" cy="687.9" rx="3.7" ry="4.6" fill="#6a1a78" fill-opacity="0.71" transform="rotate(55 373.4 687.9)"/>
<ellipse cx="384.9" cy="679.9" rx="3.0" ry="2.7" fill="#6a1a78" fill-opacity="0.79" transform="rotate(3 384.9 679.9)"/>
</g>
<g filter="url(#kb05)">
<ellipse cx="383.7" cy="686.6" rx="1.6" ry="1.3" fill="#2a2af0" fill-opacity="0.80" transform="rotate(48 383.7 686.6)"/>
<ellipse cx="376.6" cy="682.9" rx="1.7" ry="1.7" fill="#2a2af0" fill-opacity="0.66" transform="rotate(105 376.6 682.9)"/>
<ellipse cx="376.7" cy="679.8" rx="1.5" ry="1.2" fill="#2a2af0" fill-opacity="0.76" transform="rotate(93 376.7 679.8)"/>
<ellipse cx="376.8" cy="681.2" rx="1.3" ry="1.2" fill="#2a2af0" fill-opacity="0.61" transform="rotate(87 376.8 681.2)"/>
<ellipse cx="381.6" cy="680.3" rx="1.7" ry="1.3" fill="#2a2af0" fill-opacity="0.74" transform="rotate(86 381.6 680.3)"/>
<ellipse cx="377.6" cy="680.2" rx="1.4" ry="1.1" fill="#2a2af0" fill-opacity="0.84" transform="rotate(78 377.6 680.2)"/>
<ellipse cx="377.0" cy="681.3" rx="1.4" ry="1.3" fill="#2a2af0" fill-opacity="0.73" transform="rotate(129 377.0 681.3)"/>
<ellipse cx="379.9" cy="684.4" rx="1.4" ry="1.4" fill="#2a2af0" fill-opacity="0.94" transform="rotate(167 379.9 684.4)"/>
<ellipse cx="385.7" cy="679.8" rx="1.5" ry="1.1" fill="#2a2af0" fill-opacity="0.72" transform="rotate(47 385.7 679.8)"/>
<ellipse cx="386.4" cy="684.8" rx="1.6" ry="1.7" fill="#2a2af0" fill-opacity="0.77" transform="rotate(115 386.4 684.8)"/>
</g>
</g>
<clipPath id="ks010"><rect x="497.20" y="627.30" width="42.20" height="33.30"/></clipPath>
<rect x="497.20" y="627.30" width="42.20" height="33.30" fill="#030214" />
<g clip-path="url(#ks010)">
<g filter="url(#kb05)">
<ellipse cx="512.8" cy="629.7" rx="1.7" ry="1.8" fill="#2a2af0" fill-opacity="0.80" transform="rotate(162 512.8 629.7)"/>
<ellipse cx="514.0" cy="636.7" rx="1.4" ry="1.2" fill="#2a2af0" fill-opacity="0.72" transform="rotate(20 514.0 636.7)"/>
<ellipse cx="511.1" cy="657.2" rx="1.8" ry="1.6" fill="#2a2af0" fill-opacity="0.69" transform="rotate(89 511.1 657.2)"/>
<ellipse cx="511.9" cy="647.4" rx="1.5" ry="1.4" fill="#2a2af0" fill-opacity="0.91" transform="rotate(50 511.9 647.4)"/>
<ellipse cx="507.7" cy="645.9" rx="1.7" ry="1.8" fill="#2a2af0" fill-opacity="0.93" transform="rotate(83 507.7 645.9)"/>
<ellipse cx="518.1" cy="652.4" rx="1.7" ry="1.3" fill="#2a2af0" fill-opacity="0.75" transform="rotate(21 518.1 652.4)"/>
<ellipse cx="524.8" cy="652.2" rx="1.7" ry="1.3" fill="#2a2af0" fill-opacity="0.76" transform="rotate(3 524.8 652.2)"/>
<ellipse cx="525.3" cy="651.4" rx="1.4" ry="1.4" fill="#2a2af0" fill-opacity="0.62" transform="rotate(26 525.3 651.4)"/>
<ellipse cx="534.6" cy="635.6" rx="1.8" ry="1.9" fill="#2a2af0" fill-opacity="0.91" transform="rotate(82 534.6 635.6)"/>
<ellipse cx="515.6" cy="641.1" rx="1.4" ry="1.4" fill="#2a2af0" fill-opacity="0.81" transform="rotate(137 515.6 641.1)"/>
<ellipse cx="517.5" cy="636.2" rx="1.5" ry="1.1" fill="#2a2af0" fill-opacity="0.89" transform="rotate(90 517.5 636.2)"/>
<ellipse cx="513.9" cy="657.9" rx="1.6" ry="1.3" fill="#2a2af0" fill-opacity="0.69" transform="rotate(50 513.9 657.9)"/>
<ellipse cx="508.7" cy="644.3" rx="1.6" ry="1.4" fill="#2a2af0" fill-opacity="0.93" transform="rotate(63 508.7 644.3)"/>
<ellipse cx="522.4" cy="644.3" rx="2.0" ry="1.8" fill="#2a2af0" fill-opacity="0.97" transform="rotate(65 522.4 644.3)"/>
<ellipse cx="506.6" cy="635.4" rx="1.9" ry="1.4" fill="#2a2af0" fill-opacity="0.72" transform="rotate(153 506.6 635.4)"/>
<ellipse cx="501.6" cy="649.9" rx="1.6" ry="1.2" fill="#2a2af0" fill-opacity="0.98" transform="rotate(155 501.6 649.9)"/>
</g>
</g>
<clipPath id="ks011"><rect x="497.20" y="663.80" width="42.20" height="33.30"/></clipPath>
<rect x="497.20" y="663.80" width="42.20" height="33.30" fill="#030214" />
<g clip-path="url(#ks011)">
<g filter="url(#kb2)">
<ellipse cx="506.2" cy="668.2" rx="3.9" ry="2.6" fill="#5a1466" fill-opacity="0.62" transform="rotate(170 506.2 668.2)"/>
<ellipse cx="507.4" cy="689.0" rx="2.6" ry="2.0" fill="#6a1a7a" fill-opacity="0.74" transform="rotate(179 507.4 689.0)"/>
<ellipse cx="536.0" cy="692.8" rx="3.6" ry="3.2" fill="#8a2898" fill-opacity="0.49" transform="rotate(115 536.0 692.8)"/>
<ellipse cx="520.4" cy="667.2" rx="4.7" ry="6.2" fill="#5a1466" fill-opacity="0.65" transform="rotate(48 520.4 667.2)"/>
<ellipse cx="533.2" cy="671.4" rx="4.8" ry="4.3" fill="#7a2088" fill-opacity="0.52" transform="rotate(13 533.2 671.4)"/>
<ellipse cx="513.3" cy="676.5" rx="4.0" ry="2.6" fill="#5a1466" fill-opacity="0.61" transform="rotate(138 513.3 676.5)"/>
<ellipse cx="518.4" cy="671.7" rx="4.8" ry="4.9" fill="#5a1466" fill-opacity="0.68" transform="rotate(98 518.4 671.7)"/>
<ellipse cx="532.6" cy="667.8" rx="3.2" ry="2.5" fill="#5a1466" fill-opacity="0.64" transform="rotate(92 532.6 667.8)"/>
<ellipse cx="506.0" cy="671.1" rx="3.9" ry="3.1" fill="#8a2898" fill-opacity="0.70" transform="rotate(158 506.0 671.1)"/>
<ellipse cx="507.0" cy="676.9" rx="4.3" ry="4.8" fill="#6a1a7a" fill-opacity="0.77" transform="rotate(93 507.0 676.9)"/>
<ellipse cx="506.7" cy="682.1" rx="4.7" ry="3.7" fill="#5a1466" fill-opacity="0.80" transform="rotate(156 506.7 682.1)"/>
<ellipse cx="521.7" cy="695.8" rx="4.7" ry="5.8" fill="#5a1466" fill-opacity="0.53" transform="rotate(153 521.7 695.8)"/>
<ellipse cx="504.2" cy="680.8" rx="3.7" ry="4.1" fill="#7a2088" fill-opacity="0.46" transform="rotate(163 504.2 680.8)"/>
<ellipse cx="499.4" cy="664.8" rx="3.6" ry="3.0" fill="#8a2898" fill-opacity="0.56" transform="rotate(95 499.4 664.8)"/>
<ellipse cx="513.2" cy="694.6" rx="4.4" ry="5.7" fill="#7a2088" fill-opacity="0.51" transform="rotate(44 513.2 694.6)"/>
<ellipse cx="536.7" cy="677.2" rx="3.1" ry="2.0" fill="#5a1466" fill-opacity="0.79" transform="rotate(145 536.7 677.2)"/>
<ellipse cx="510.6" cy="683.0" rx="4.0" ry="4.4" fill="#6a1a7a" fill-opacity="0.46" transform="rotate(138 510.6 683.0)"/>
<ellipse cx="531.8" cy="689.0" rx="3.1" ry="2.0" fill="#8a2898" fill-opacity="0.46" transform="rotate(13 531.8 689.0)"/>
<ellipse cx="522.8" cy="683.3" rx="4.1" ry="4.0" fill="#8a2898" fill-opacity="0.78" transform="rotate(81 522.8 683.3)"/>
<ellipse cx="527.1" cy="666.2" rx="3.5" ry="2.3" fill="#5a1466" fill-opacity="0.59" transform="rotate(133 527.1 666.2)"/>
<ellipse cx="538.0" cy="670.9" rx="4.8" ry="2.9" fill="#6a1a7a" fill-opacity="0.57" transform="rotate(146 538.0 670.9)"/>
<ellipse cx="501.3" cy="671.7" rx="3.8" ry="4.6" fill="#7a2088" fill-opacity="0.62" transform="rotate(40 501.3 671.7)"/>
<ellipse cx="527.7" cy="697.1" rx="4.5" ry="3.6" fill="#5a1466" fill-opacity="0.79" transform="rotate(59 527.7 697.1)"/>
<ellipse cx="533.0" cy="689.8" rx="4.0" ry="4.7" fill="#8a2898" fill-opacity="0.51" transform="rotate(157 533.0 689.8)"/>
<ellipse cx="506.7" cy="677.3" rx="4.9" ry="4.2" fill="#5a1466" fill-opacity="0.71" transform="rotate(146 506.7 677.3)"/>
<ellipse cx="533.0" cy="667.2" rx="3.0" ry="3.9" fill="#6a1a7a" fill-opacity="0.75" transform="rotate(2 533.0 667.2)"/>
<ellipse cx="506.1" cy="668.0" rx="4.7" ry="4.7" fill="#7a2088" fill-opacity="0.53" transform="rotate(83 506.1 668.0)"/>
<ellipse cx="529.8" cy="669.2" rx="3.6" ry="3.6" fill="#6a1a7a" fill-opacity="0.70" transform="rotate(156 529.8 669.2)"/>
<ellipse cx="527.0" cy="664.8" rx="3.4" ry="4.3" fill="#7a2088" fill-opacity="0.54" transform="rotate(109 527.0 664.8)"/>
<ellipse cx="505.7" cy="668.4" rx="4.7" ry="4.7" fill="#8a2898" fill-opacity="0.63" transform="rotate(153 505.7 668.4)"/>
<ellipse cx="501.2" cy="687.6" rx="4.9" ry="5.4" fill="#6a1a7a" fill-opacity="0.66" transform="rotate(52 501.2 687.6)"/>
<ellipse cx="514.7" cy="693.8" rx="3.2" ry="2.6" fill="#5a1466" fill-opacity="0.80" transform="rotate(48 514.7 693.8)"/>
<ellipse cx="527.3" cy="683.6" rx="4.4" ry="3.1" fill="#8a2898" fill-opacity="0.77" transform="rotate(177 527.3 683.6)"/>
<ellipse cx="523.7" cy="695.2" rx="2.7" ry="2.9" fill="#8a2898" fill-opacity="0.73" transform="rotate(111 523.7 695.2)"/>
<ellipse cx="521.4" cy="672.8" rx="4.9" ry="4.4" fill="#7a2088" fill-opacity="0.46" transform="rotate(9 521.4 672.8)"/>
</g>
<g filter="url(#kb05)">
<ellipse cx="507.5" cy="675.7" rx="1.1" ry="5.4" fill="#c048d0" fill-opacity="0.42" transform="rotate(43 507.5 675.7)"/>
<ellipse cx="538.0" cy="686.9" rx="1.1" ry="4.7" fill="#c048d0" fill-opacity="0.37" transform="rotate(39 538.0 686.9)"/>
<ellipse cx="533.2" cy="689.4" rx="1.1" ry="5.2" fill="#c048d0" fill-opacity="0.46" transform="rotate(54 533.2 689.4)"/>
<ellipse cx="530.3" cy="684.8" rx="0.7" ry="3.4" fill="#c048d0" fill-opacity="0.36" transform="rotate(42 530.3 684.8)"/>
<ellipse cx="505.1" cy="690.5" rx="1.2" ry="5.8" fill="#c048d0" fill-opacity="0.65" transform="rotate(53 505.1 690.5)"/>
<ellipse cx="498.3" cy="695.7" rx="0.9" ry="3.2" fill="#c048d0" fill-opacity="0.36" transform="rotate(36 498.3 695.7)"/>
<ellipse cx="528.1" cy="675.1" rx="1.2" ry="4.7" fill="#c048d0" fill-opacity="0.63" transform="rotate(56 528.1 675.1)"/>
<ellipse cx="502.9" cy="678.4" rx="0.7" ry="4.2" fill="#c048d0" fill-opacity="0.46" transform="rotate(57 502.9 678.4)"/>
<ellipse cx="525.8" cy="681.3" rx="0.9" ry="3.3" fill="#c048d0" fill-opacity="0.53" transform="rotate(49 525.8 681.3)"/>
<ellipse cx="524.3" cy="687.6" rx="0.5" ry="3.1" fill="#c048d0" fill-opacity="0.30" transform="rotate(59 524.3 687.6)"/>
<ellipse cx="509.5" cy="670.6" rx="1.1" ry="4.3" fill="#c048d0" fill-opacity="0.39" transform="rotate(47 509.5 670.6)"/>
<ellipse cx="529.9" cy="677.5" rx="1.1" ry="4.5" fill="#c048d0" fill-opacity="0.67" transform="rotate(54 529.9 677.5)"/>
<ellipse cx="513.0" cy="694.1" rx="1.1" ry="5.5" fill="#c048d0" fill-opacity="0.54" transform="rotate(55 513.0 694.1)"/>
<ellipse cx="519.3" cy="683.4" rx="0.8" ry="3.5" fill="#c048d0" fill-opacity="0.42" transform="rotate(53 519.3 683.4)"/>
<ellipse cx="503.4" cy="678.6" rx="0.5" ry="2.1" fill="#c048d0" fill-opacity="0.69" transform="rotate(50 503.4 678.6)"/>
<ellipse cx="530.3" cy="696.6" rx="1.1" ry="4.5" fill="#c048d0" fill-opacity="0.59" transform="rotate(40 530.3 696.6)"/>
<ellipse cx="498.3" cy="685.0" rx="0.9" ry="2.9" fill="#c048d0" fill-opacity="0.62" transform="rotate(46 498.3 685.0)"/>
<ellipse cx="515.2" cy="678.2" rx="1.1" ry="3.7" fill="#c048d0" fill-opacity="0.32" transform="rotate(64 515.2 678.2)"/>
<ellipse cx="517.7" cy="664.3" rx="0.6" ry="2.9" fill="#c048d0" fill-opacity="0.37" transform="rotate(49 517.7 664.3)"/>
<ellipse cx="530.1" cy="682.7" rx="0.5" ry="3.0" fill="#c048d0" fill-opacity="0.46" transform="rotate(40 530.1 682.7)"/>
<ellipse cx="537.9" cy="664.3" rx="0.8" ry="4.9" fill="#c048d0" fill-opacity="0.64" transform="rotate(45 537.9 664.3)"/>
<ellipse cx="536.7" cy="677.1" rx="1.0" ry="5.6" fill="#c048d0" fill-opacity="0.64" transform="rotate(60 536.7 677.1)"/>
<ellipse cx="529.2" cy="694.5" rx="1.1" ry="6.4" fill="#c048d0" fill-opacity="0.37" transform="rotate(41 529.2 694.5)"/>
<ellipse cx="528.0" cy="679.3" rx="0.8" ry="4.2" fill="#c048d0" fill-opacity="0.51" transform="rotate(61 528.0 679.3)"/>
<ellipse cx="501.9" cy="681.7" rx="1.2" ry="4.5" fill="#c048d0" fill-opacity="0.48" transform="rotate(55 501.9 681.7)"/>
<ellipse cx="515.4" cy="687.6" rx="0.6" ry="2.5" fill="#c048d0" fill-opacity="0.62" transform="rotate(42 515.4 687.6)"/>
<ellipse cx="528.0" cy="694.4" rx="0.7" ry="4.4" fill="#c048d0" fill-opacity="0.39" transform="rotate(46 528.0 694.4)"/>
<ellipse cx="531.3" cy="692.0" rx="1.1" ry="5.5" fill="#c048d0" fill-opacity="0.58" transform="rotate(65 531.3 692.0)"/>
<ellipse cx="511.4" cy="694.6" rx="0.5" ry="3.2" fill="#c048d0" fill-opacity="0.42" transform="rotate(57 511.4 694.6)"/>
<ellipse cx="532.0" cy="680.3" rx="0.6" ry="3.0" fill="#c048d0" fill-opacity="0.67" transform="rotate(54 532.0 680.3)"/>
<ellipse cx="534.2" cy="669.7" rx="0.6" ry="3.2" fill="#c048d0" fill-opacity="0.68" transform="rotate(42 534.2 669.7)"/>
<ellipse cx="513.5" cy="689.3" rx="0.6" ry="2.9" fill="#c048d0" fill-opacity="0.36" transform="rotate(39 513.5 689.3)"/>
<ellipse cx="515.2" cy="664.6" rx="1.2" ry="5.7" fill="#c048d0" fill-opacity="0.69" transform="rotate(45 515.2 664.6)"/>
<ellipse cx="504.8" cy="666.2" rx="1.2" ry="4.9" fill="#c048d0" fill-opacity="0.38" transform="rotate(36 504.8 666.2)"/>
<ellipse cx="499.3" cy="681.7" rx="0.7" ry="2.0" fill="#c048d0" fill-opacity="0.57" transform="rotate(38 499.3 681.7)"/>
<ellipse cx="505.5" cy="695.7" rx="1.0" ry="4.8" fill="#c048d0" fill-opacity="0.40" transform="rotate(56 505.5 695.7)"/>
<ellipse cx="538.0" cy="675.1" rx="0.8" ry="4.8" fill="#c048d0" fill-opacity="0.37" transform="rotate(51 538.0 675.1)"/>
<ellipse cx="529.6" cy="694.6" rx="0.7" ry="3.2" fill="#c048d0" fill-opacity="0.60" transform="rotate(51 529.6 694.6)"/>
<ellipse cx="525.8" cy="676.8" rx="1.0" ry="4.3" fill="#c048d0" fill-opacity="0.57" transform="rotate(44 525.8 676.8)"/>
<ellipse cx="534.4" cy="683.4" rx="0.6" ry="2.8" fill="#c048d0" fill-opacity="0.64" transform="rotate(43 534.4 683.4)"/>
</g>
<g filter="url(#kb05)">
<ellipse cx="528.0" cy="668.8" rx="1.9" ry="2.0" fill="#2a2af0" fill-opacity="0.92" transform="rotate(151 528.0 668.8)"/>
<ellipse cx="518.4" cy="673.0" rx="1.7" ry="1.8" fill="#2a2af0" fill-opacity="0.75" transform="rotate(57 518.4 673.0)"/>
<ellipse cx="521.0" cy="692.5" rx="1.8" ry="1.8" fill="#2a2af0" fill-opacity="0.61" transform="rotate(159 521.0 692.5)"/>
<ellipse cx="510.9" cy="688.0" rx="1.9" ry="1.9" fill="#2a2af0" fill-opacity="0.66" transform="rotate(149 510.9 688.0)"/>
<ellipse cx="499.5" cy="690.9" rx="1.4" ry="1.4" fill="#2a2af0" fill-opacity="0.76" transform="rotate(29 499.5 690.9)"/>
<ellipse cx="518.7" cy="692.6" rx="1.6" ry="1.4" fill="#2a2af0" fill-opacity="0.94" transform="rotate(178 518.7 692.6)"/>
<ellipse cx="516.9" cy="679.7" rx="1.7" ry="1.5" fill="#2a2af0" fill-opacity="0.78" transform="rotate(125 516.9 679.7)"/>
<ellipse cx="502.9" cy="672.7" rx="1.6" ry="1.5" fill="#2a2af0" fill-opacity="0.61" transform="rotate(94 502.9 672.7)"/>
<ellipse cx="532.4" cy="689.1" rx="1.3" ry="1.1" fill="#2a2af0" fill-opacity="0.99" transform="rotate(166 532.4 689.1)"/>
<ellipse cx="508.3" cy="676.7" rx="1.8" ry="1.4" fill="#2a2af0" fill-opacity="0.94" transform="rotate(82 508.3 676.7)"/>
<ellipse cx="522.9" cy="691.5" rx="1.3" ry="1.2" fill="#2a2af0" fill-opacity="0.70" transform="rotate(117 522.9 691.5)"/>
<ellipse cx="528.4" cy="683.6" rx="1.3" ry="1.1" fill="#2a2af0" fill-opacity="0.62" transform="rotate(3 528.4 683.6)"/>
<ellipse cx="523.2" cy="687.1" rx="1.9" ry="1.5" fill="#2a2af0" fill-opacity="1.00" transform="rotate(171 523.2 687.1)"/>
<ellipse cx="528.6" cy="689.3" rx="1.6" ry="1.7" fill="#2a2af0" fill-opacity="0.85" transform="rotate(50 528.6 689.3)"/>
<ellipse cx="507.5" cy="686.7" rx="2.0" ry="2.0" fill="#2a2af0" fill-opacity="0.71" transform="rotate(80 507.5 686.7)"/>
<ellipse cx="516.7" cy="668.4" rx="1.8" ry="1.6" fill="#2a2af0" fill-opacity="0.82" transform="rotate(177 516.7 668.4)"/>
</g>
</g>
<clipPath id="ks020"><rect x="635.00" y="627.30" width="42.20" height="33.30"/></clipPath>
<rect x="635.00" y="627.30" width="42.20" height="33.30" fill="#030214" />
<g clip-path="url(#ks020)">
<g filter="url(#kb05)">
<ellipse cx="676.9" cy="645.3" rx="1.3" ry="1.1" fill="#2a2af0" fill-opacity="0.62" transform="rotate(69 676.9 645.3)"/>
<ellipse cx="668.8" cy="646.1" rx="1.9" ry="1.9" fill="#2a2af0" fill-opacity="0.64" transform="rotate(75 668.8 646.1)"/>
<ellipse cx="650.3" cy="645.4" rx="1.7" ry="1.5" fill="#2a2af0" fill-opacity="0.83" transform="rotate(140 650.3 645.4)"/>
<ellipse cx="665.9" cy="635.9" rx="1.4" ry="1.0" fill="#2a2af0" fill-opacity="0.94" transform="rotate(56 665.9 635.9)"/>
<ellipse cx="635.4" cy="647.0" rx="1.7" ry="1.3" fill="#2a2af0" fill-opacity="0.76" transform="rotate(5 635.4 647.0)"/>
<ellipse cx="665.6" cy="644.0" rx="1.4" ry="1.2" fill="#2a2af0" fill-opacity="0.75" transform="rotate(159 665.6 644.0)"/>
<ellipse cx="636.1" cy="654.6" rx="1.6" ry="1.3" fill="#2a2af0" fill-opacity="0.71" transform="rotate(175 636.1 654.6)"/>
<ellipse cx="675.8" cy="654.5" rx="1.5" ry="1.1" fill="#2a2af0" fill-opacity="0.98" transform="rotate(127 675.8 654.5)"/>
<ellipse cx="635.3" cy="660.1" rx="1.7" ry="1.7" fill="#2a2af0" fill-opacity="0.67" transform="rotate(123 635.3 660.1)"/>
<ellipse cx="641.9" cy="651.5" rx="1.8" ry="1.7" fill="#2a2af0" fill-opacity="0.78" transform="rotate(91 641.9 651.5)"/>
<ellipse cx="677.1" cy="649.8" rx="1.3" ry="1.4" fill="#2a2af0" fill-opacity="0.86" transform="rotate(87 677.1 649.8)"/>
<ellipse cx="676.2" cy="652.6" rx="1.8" ry="1.5" fill="#2a2af0" fill-opacity="0.98" transform="rotate(122 676.2 652.6)"/>
<ellipse cx="646.0" cy="654.2" rx="1.8" ry="1.6" fill="#2a2af0" fill-opacity="0.67" transform="rotate(14 646.0 654.2)"/>
<ellipse cx="651.7" cy="638.3" rx="1.4" ry="1.5" fill="#2a2af0" fill-opacity="0.89" transform="rotate(61 651.7 638.3)"/>
<ellipse cx="675.0" cy="657.2" rx="1.6" ry="1.5" fill="#2a2af0" fill-opacity="0.63" transform="rotate(147 675.0 657.2)"/>
<ellipse cx="647.8" cy="642.7" rx="1.6" ry="1.7" fill="#2a2af0" fill-opacity="0.99" transform="rotate(164 647.8 642.7)"/>
<ellipse cx="672.1" cy="645.9" rx="1.8" ry="1.3" fill="#2a2af0" fill-opacity="0.69" transform="rotate(75 672.1 645.9)"/>
<ellipse cx="652.8" cy="655.7" rx="1.3" ry="0.9" fill="#2a2af0" fill-opacity="0.62" transform="rotate(47 652.8 655.7)"/>
<ellipse cx="658.0" cy="637.3" rx="1.3" ry="1.4" fill="#2a2af0" fill-opacity="0.91" transform="rotate(121 658.0 637.3)"/>
<ellipse cx="646.1" cy="654.3" rx="1.6" ry="1.6" fill="#2a2af0" fill-opacity="0.90" transform="rotate(27 646.1 654.3)"/>
<ellipse cx="666.2" cy="635.7" rx="1.8" ry="2.0" fill="#2a2af0" fill-opacity="0.90" transform="rotate(108 666.2 635.7)"/>
<ellipse cx="647.3" cy="644.8" rx="1.4" ry="1.3" fill="#2a2af0" fill-opacity="0.93" transform="rotate(105 647.3 644.8)"/>
<ellipse cx="640.9" cy="651.4" rx="1.8" ry="1.3" fill="#2a2af0" fill-opacity="0.80" transform="rotate(168 640.9 651.4)"/>
<ellipse cx="651.1" cy="639.0" rx="1.5" ry="1.1" fill="#2a2af0" fill-opacity="0.80" transform="rotate(116 651.1 639.0)"/>
<ellipse cx="670.4" cy="646.4" rx="1.4" ry="1.5" fill="#2a2af0" fill-opacity="0.93" transform="rotate(18 670.4 646.4)"/>
<ellipse cx="655.2" cy="645.8" rx="1.5" ry="1.2" fill="#2a2af0" fill-opacity="0.85" transform="rotate(22 655.2 645.8)"/>
<ellipse cx="668.5" cy="659.1" rx="1.5" ry="1.4" fill="#2a2af0" fill-opacity="0.80" transform="rotate(39 668.5 659.1)"/>
<ellipse cx="654.3" cy="639.7" rx="1.3" ry="1.1" fill="#2a2af0" fill-opacity="0.96" transform="rotate(23 654.3 639.7)"/>
<ellipse cx="666.5" cy="651.0" rx="1.9" ry="1.5" fill="#2a2af0" fill-opacity="0.88" transform="rotate(53 666.5 651.0)"/>
<ellipse cx="671.3" cy="651.4" rx="1.6" ry="1.5" fill="#2a2af0" fill-opacity="0.62" transform="rotate(22 671.3 651.4)"/>
</g>
</g>
<clipPath id="ks021"><rect x="635.00" y="663.80" width="42.20" height="33.30"/></clipPath>
<rect x="635.00" y="663.80" width="42.20" height="33.30" fill="#030214" />
<g clip-path="url(#ks021)">
<g filter="url(#kb2)">
<ellipse cx="665.2" cy="676.7" rx="2.7" ry="2.6" fill="#5a1666" fill-opacity="0.71" transform="rotate(103 665.2 676.7)"/>
<ellipse cx="636.7" cy="694.2" rx="4.9" ry="3.2" fill="#4a1256" fill-opacity="0.55" transform="rotate(58 636.7 694.2)"/>
<ellipse cx="666.1" cy="691.8" rx="2.5" ry="2.5" fill="#5a1666" fill-opacity="0.48" transform="rotate(59 666.1 691.8)"/>
<ellipse cx="663.3" cy="671.1" rx="4.0" ry="3.9" fill="#4a1256" fill-opacity="0.74" transform="rotate(167 663.3 671.1)"/>
<ellipse cx="664.5" cy="680.5" rx="4.0" ry="3.7" fill="#5a1666" fill-opacity="0.68" transform="rotate(134 664.5 680.5)"/>
<ellipse cx="641.2" cy="685.1" rx="3.8" ry="5.0" fill="#5a1666" fill-opacity="0.49" transform="rotate(58 641.2 685.1)"/>
<ellipse cx="665.3" cy="679.3" rx="3.8" ry="3.1" fill="#5a1666" fill-opacity="0.69" transform="rotate(138 665.3 679.3)"/>
<ellipse cx="650.0" cy="674.2" rx="3.0" ry="4.1" fill="#4a1256" fill-opacity="0.63" transform="rotate(8 650.0 674.2)"/>
<ellipse cx="647.4" cy="684.7" rx="2.7" ry="3.4" fill="#4a1256" fill-opacity="0.60" transform="rotate(18 647.4 684.7)"/>
<ellipse cx="664.4" cy="676.7" rx="4.1" ry="3.2" fill="#4a1256" fill-opacity="0.60" transform="rotate(120 664.4 676.7)"/>
<ellipse cx="647.9" cy="683.0" rx="2.6" ry="3.1" fill="#5a1666" fill-opacity="0.65" transform="rotate(73 647.9 683.0)"/>
<ellipse cx="657.2" cy="682.7" rx="4.1" ry="5.2" fill="#5a1666" fill-opacity="0.62" transform="rotate(25 657.2 682.7)"/>
<ellipse cx="654.5" cy="696.8" rx="3.8" ry="4.3" fill="#5a1666" fill-opacity="0.56" transform="rotate(141 654.5 696.8)"/>
<ellipse cx="649.2" cy="696.8" rx="4.6" ry="4.9" fill="#4a1256" fill-opacity="0.48" transform="rotate(14 649.2 696.8)"/>
<ellipse cx="659.7" cy="689.6" rx="3.3" ry="3.5" fill="#4a1256" fill-opacity="0.59" transform="rotate(15 659.7 689.6)"/>
<ellipse cx="647.2" cy="683.1" rx="3.5" ry="2.5" fill="#5a1666" fill-opacity="0.52" transform="rotate(36 647.2 683.1)"/>
<ellipse cx="657.4" cy="676.4" rx="2.5" ry="2.5" fill="#4a1256" fill-opacity="0.60" transform="rotate(74 657.4 676.4)"/>
<ellipse cx="662.0" cy="692.2" rx="2.8" ry="2.9" fill="#4a1256" fill-opacity="0.71" transform="rotate(31 662.0 692.2)"/>
<ellipse cx="660.9" cy="683.9" rx="3.8" ry="3.3" fill="#5a1666" fill-opacity="0.55" transform="rotate(157 660.9 683.9)"/>
<ellipse cx="656.1" cy="684.3" rx="3.7" ry="2.9" fill="#4a1256" fill-opacity="0.55" transform="rotate(171 656.1 684.3)"/>
<ellipse cx="675.5" cy="676.7" rx="3.1" ry="3.1" fill="#4a1256" fill-opacity="0.54" transform="rotate(46 675.5 676.7)"/>
<ellipse cx="673.3" cy="676.9" rx="5.0" ry="3.2" fill="#5a1666" fill-opacity="0.71" transform="rotate(133 673.3 676.9)"/>
<ellipse cx="670.4" cy="674.6" rx="3.6" ry="3.8" fill="#5a1666" fill-opacity="0.58" transform="rotate(19 670.4 674.6)"/>
<ellipse cx="663.0" cy="672.1" rx="3.2" ry="2.4" fill="#5a1666" fill-opacity="0.73" transform="rotate(32 663.0 672.1)"/>
<ellipse cx="645.5" cy="692.1" rx="4.7" ry="4.9" fill="#4a1256" fill-opacity="0.61" transform="rotate(38 645.5 692.1)"/>
</g>
<g filter="url(#kb05)">
<ellipse cx="671.5" cy="681.8" rx="1.5" ry="1.2" fill="#2a2af0" fill-opacity="0.90" transform="rotate(45 671.5 681.8)"/>
<ellipse cx="648.3" cy="682.3" rx="1.2" ry="1.2" fill="#2a2af0" fill-opacity="0.60" transform="rotate(24 648.3 682.3)"/>
<ellipse cx="672.9" cy="691.1" rx="1.2" ry="1.0" fill="#2a2af0" fill-opacity="0.77" transform="rotate(3 672.9 691.1)"/>
<ellipse cx="644.9" cy="679.7" rx="1.9" ry="1.4" fill="#2a2af0" fill-opacity="0.88" transform="rotate(38 644.9 679.7)"/>
<ellipse cx="661.4" cy="670.8" rx="1.7" ry="1.8" fill="#2a2af0" fill-opacity="0.62" transform="rotate(175 661.4 670.8)"/>
<ellipse cx="671.3" cy="678.7" rx="1.5" ry="1.1" fill="#2a2af0" fill-opacity="0.67" transform="rotate(10 671.3 678.7)"/>
<ellipse cx="649.5" cy="677.1" rx="1.2" ry="0.9" fill="#2a2af0" fill-opacity="0.67" transform="rotate(10 649.5 677.1)"/>
<ellipse cx="640.7" cy="692.8" rx="1.5" ry="1.1" fill="#2a2af0" fill-opacity="0.95" transform="rotate(31 640.7 692.8)"/>
<ellipse cx="670.3" cy="682.4" rx="1.6" ry="1.5" fill="#2a2af0" fill-opacity="0.94" transform="rotate(162 670.3 682.4)"/>
<ellipse cx="668.8" cy="684.6" rx="1.7" ry="1.3" fill="#2a2af0" fill-opacity="0.95" transform="rotate(93 668.8 684.6)"/>
<ellipse cx="675.0" cy="678.2" rx="1.3" ry="1.4" fill="#2a2af0" fill-opacity="0.77" transform="rotate(103 675.0 678.2)"/>
<ellipse cx="650.3" cy="677.4" rx="1.4" ry="1.5" fill="#2a2af0" fill-opacity="0.80" transform="rotate(128 650.3 677.4)"/>
<ellipse cx="660.9" cy="677.0" rx="1.8" ry="2.0" fill="#2a2af0" fill-opacity="0.66" transform="rotate(9 660.9 677.0)"/>
<ellipse cx="665.6" cy="674.5" rx="1.8" ry="1.6" fill="#2a2af0" fill-opacity="0.81" transform="rotate(50 665.6 674.5)"/>
<ellipse cx="658.4" cy="678.8" rx="1.2" ry="1.1" fill="#2a2af0" fill-opacity="0.95" transform="rotate(120 658.4 678.8)"/>
<ellipse cx="654.7" cy="693.1" rx="1.2" ry="1.0" fill="#2a2af0" fill-opacity="0.75" transform="rotate(4 654.7 693.1)"/>
<ellipse cx="638.8" cy="691.8" rx="1.5" ry="1.5" fill="#2a2af0" fill-opacity="0.67" transform="rotate(164 638.8 691.8)"/>
<ellipse cx="673.9" cy="679.5" rx="1.3" ry="1.1" fill="#2a2af0" fill-opacity="0.71" transform="rotate(69 673.9 679.5)"/>
<ellipse cx="663.9" cy="690.9" rx="1.8" ry="1.7" fill="#2a2af0" fill-opacity="0.93" transform="rotate(117 663.9 690.9)"/>
<ellipse cx="646.0" cy="688.3" rx="1.7" ry="1.5" fill="#2a2af0" fill-opacity="0.82" transform="rotate(115 646.0 688.3)"/>
<ellipse cx="663.9" cy="681.9" rx="1.5" ry="1.3" fill="#2a2af0" fill-opacity="0.83" transform="rotate(25 663.9 681.9)"/>
<ellipse cx="654.4" cy="683.8" rx="1.7" ry="1.4" fill="#2a2af0" fill-opacity="0.98" transform="rotate(130 654.4 683.8)"/>
<ellipse cx="661.3" cy="683.8" rx="1.3" ry="1.1" fill="#2a2af0" fill-opacity="0.72" transform="rotate(86 661.3 683.8)"/>
<ellipse cx="647.7" cy="681.2" rx="1.9" ry="1.6" fill="#2a2af0" fill-opacity="0.72" transform="rotate(87 647.7 681.2)"/>
<ellipse cx="661.5" cy="693.8" rx="1.7" ry="1.2" fill="#2a2af0" fill-opacity="0.96" transform="rotate(163 661.5 693.8)"/>
<ellipse cx="639.4" cy="692.3" rx="1.8" ry="1.9" fill="#2a2af0" fill-opacity="0.97" transform="rotate(55 639.4 692.3)"/>
<ellipse cx="661.9" cy="691.2" rx="1.8" ry="1.7" fill="#2a2af0" fill-opacity="0.95" transform="rotate(119 661.9 691.2)"/>
<ellipse cx="651.2" cy="695.7" rx="1.5" ry="1.1" fill="#2a2af0" fill-opacity="0.97" transform="rotate(67 651.2 695.7)"/>
<ellipse cx="668.5" cy="694.1" rx="1.7" ry="1.7" fill="#2a2af0" fill-opacity="0.73" transform="rotate(91 668.5 694.1)"/>
<ellipse cx="651.6" cy="692.0" rx="1.4" ry="1.2" fill="#2a2af0" fill-opacity="0.91" transform="rotate(20 651.6 692.0)"/>
</g>
</g>
<clipPath id="ks100"><rect x="360.20" y="701.90" width="42.20" height="33.80"/></clipPath>
<rect x="360.20" y="701.90" width="42.20" height="33.80" fill="#030214" />
<g clip-path="url(#ks100)">
<g filter="url(#kb05)">
<ellipse cx="386.2" cy="719.7" rx="1.7" ry="1.6" fill="#2a2af0" fill-opacity="0.70" transform="rotate(160 386.2 719.7)"/>
<ellipse cx="383.9" cy="716.9" rx="1.3" ry="1.0" fill="#2a2af0" fill-opacity="0.61" transform="rotate(52 383.9 716.9)"/>
<ellipse cx="375.9" cy="713.3" rx="1.4" ry="1.0" fill="#2a2af0" fill-opacity="0.72" transform="rotate(19 375.9 713.3)"/>
<ellipse cx="377.4" cy="720.0" rx="1.5" ry="1.4" fill="#2a2af0" fill-opacity="0.69" transform="rotate(117 377.4 720.0)"/>
<ellipse cx="379.1" cy="717.9" rx="1.4" ry="1.0" fill="#2a2af0" fill-opacity="1.00" transform="rotate(46 379.1 717.9)"/>
<ellipse cx="376.0" cy="713.3" rx="1.4" ry="1.1" fill="#2a2af0" fill-opacity="0.75" transform="rotate(60 376.0 713.3)"/>
<ellipse cx="379.5" cy="722.8" rx="1.5" ry="1.6" fill="#2a2af0" fill-opacity="0.88" transform="rotate(159 379.5 722.8)"/>
<ellipse cx="381.2" cy="716.6" rx="1.6" ry="1.8" fill="#2a2af0" fill-opacity="0.63" transform="rotate(123 381.2 716.6)"/>
<ellipse cx="386.7" cy="719.6" rx="1.3" ry="1.4" fill="#2a2af0" fill-opacity="0.73" transform="rotate(166 386.7 719.6)"/>
<ellipse cx="381.8" cy="713.6" rx="1.6" ry="1.3" fill="#2a2af0" fill-opacity="0.72" transform="rotate(160 381.8 713.6)"/>
</g>
</g>
<clipPath id="ks101"><rect x="360.20" y="738.90" width="42.20" height="33.80"/></clipPath>
<rect x="360.20" y="738.90" width="42.20" height="33.80" fill="#030214" />
<g clip-path="url(#ks101)">
<g filter="url(#kb1)">
<ellipse cx="389.3" cy="757.3" rx="3.3" ry="3.7" fill="#6a1010" fill-opacity="0.74" transform="rotate(81 389.3 757.3)"/>
<ellipse cx="389.0" cy="747.6" rx="2.9" ry="2.1" fill="#6a1010" fill-opacity="0.59" transform="rotate(55 389.0 747.6)"/>
<ellipse cx="390.1" cy="762.2" rx="2.4" ry="1.5" fill="#6a1010" fill-opacity="0.75" transform="rotate(67 390.1 762.2)"/>
<ellipse cx="378.3" cy="752.4" rx="2.4" ry="1.8" fill="#6a1010" fill-opacity="0.64" transform="rotate(121 378.3 752.4)"/>
<ellipse cx="375.9" cy="749.5" rx="3.8" ry="2.6" fill="#6a1010" fill-opacity="0.56" transform="rotate(167 375.9 749.5)"/>
<ellipse cx="373.6" cy="760.9" rx="3.7" ry="4.3" fill="#6a1010" fill-opacity="0.73" transform="rotate(173 373.6 760.9)"/>
<ellipse cx="377.9" cy="750.6" rx="2.5" ry="2.6" fill="#6a1010" fill-opacity="0.79" transform="rotate(155 377.9 750.6)"/>
<ellipse cx="381.6" cy="754.5" rx="3.5" ry="4.1" fill="#6a1010" fill-opacity="0.76" transform="rotate(144 381.6 754.5)"/>
<ellipse cx="382.2" cy="758.9" rx="2.2" ry="2.8" fill="#6a1010" fill-opacity="0.60" transform="rotate(154 382.2 758.9)"/>
<ellipse cx="378.5" cy="756.0" rx="3.0" ry="2.7" fill="#6a1010" fill-opacity="0.66" transform="rotate(33 378.5 756.0)"/>
<ellipse cx="375.7" cy="760.0" rx="3.1" ry="4.1" fill="#6a1010" fill-opacity="0.77" transform="rotate(42 375.7 760.0)"/>
<ellipse cx="376.7" cy="748.2" rx="2.9" ry="2.5" fill="#6a1010" fill-opacity="0.66" transform="rotate(141 376.7 748.2)"/>
</g>
<g filter="url(#kb05)">
<ellipse cx="375.7" cy="754.1" rx="1.8" ry="1.4" fill="#2a2af0" fill-opacity="0.64" transform="rotate(36 375.7 754.1)"/>
<ellipse cx="385.6" cy="757.3" rx="1.8" ry="1.8" fill="#2a2af0" fill-opacity="0.74" transform="rotate(124 385.6 757.3)"/>
<ellipse cx="383.3" cy="761.3" rx="1.8" ry="1.6" fill="#2a2af0" fill-opacity="0.66" transform="rotate(121 383.3 761.3)"/>
<ellipse cx="381.9" cy="758.2" rx="1.4" ry="1.1" fill="#2a2af0" fill-opacity="0.93" transform="rotate(137 381.9 758.2)"/>
<ellipse cx="386.0" cy="758.8" rx="1.8" ry="1.8" fill="#2a2af0" fill-opacity="0.69" transform="rotate(138 386.0 758.8)"/>
<ellipse cx="384.2" cy="751.2" rx="1.2" ry="1.3" fill="#2a2af0" fill-opacity="0.80" transform="rotate(147 384.2 751.2)"/>
<ellipse cx="377.2" cy="757.5" rx="1.9" ry="1.9" fill="#2a2af0" fill-opacity="0.69" transform="rotate(167 377.2 757.5)"/>
<ellipse cx="381.6" cy="755.1" rx="1.2" ry="1.2" fill="#2a2af0" fill-opacity="0.61" transform="rotate(75 381.6 755.1)"/>
<ellipse cx="381.2" cy="750.7" rx="1.6" ry="1.4" fill="#2a2af0" fill-opacity="0.89" transform="rotate(173 381.2 750.7)"/>
<ellipse cx="377.6" cy="754.9" rx="1.8" ry="1.5" fill="#2a2af0" fill-opacity="0.76" transform="rotate(78 377.6 754.9)"/>
</g>
</g>
<clipPath id="ks110"><rect x="497.20" y="701.90" width="42.20" height="33.80"/></clipPath>
<rect x="497.20" y="701.90" width="42.20" height="33.80" fill="#030214" />
<g clip-path="url(#ks110)">
<g filter="url(#kb05)">
<ellipse cx="506.8" cy="713.0" rx="1.5" ry="1.1" fill="#2a2af0" fill-opacity="0.60" transform="rotate(141 506.8 713.0)"/>
<ellipse cx="522.9" cy="731.5" rx="1.9" ry="1.4" fill="#2a2af0" fill-opacity="0.68" transform="rotate(119 522.9 731.5)"/>
<ellipse cx="502.7" cy="718.0" rx="1.4" ry="1.3" fill="#2a2af0" fill-opacity="0.99" transform="rotate(32 502.7 718.0)"/>
<ellipse cx="521.4" cy="711.2" rx="1.8" ry="1.4" fill="#2a2af0" fill-opacity="0.97" transform="rotate(168 521.4 711.2)"/>
<ellipse cx="506.9" cy="733.0" rx="2.0" ry="1.5" fill="#2a2af0" fill-opacity="0.83" transform="rotate(99 506.9 733.0)"/>
<ellipse cx="529.2" cy="718.9" rx="1.5" ry="1.6" fill="#2a2af0" fill-opacity="0.77" transform="rotate(45 529.2 718.9)"/>
<ellipse cx="520.7" cy="711.6" rx="1.4" ry="1.4" fill="#2a2af0" fill-opacity="0.77" transform="rotate(152 520.7 711.6)"/>
<ellipse cx="510.4" cy="720.4" rx="1.9" ry="1.8" fill="#2a2af0" fill-opacity="0.64" transform="rotate(161 510.4 720.4)"/>
<ellipse cx="516.0" cy="711.2" rx="1.4" ry="1.0" fill="#2a2af0" fill-opacity="0.88" transform="rotate(90 516.0 711.2)"/>
<ellipse cx="530.9" cy="708.7" rx="1.9" ry="1.8" fill="#2a2af0" fill-opacity="0.97" transform="rotate(75 530.9 708.7)"/>
<ellipse cx="516.6" cy="707.8" rx="1.5" ry="1.2" fill="#2a2af0" fill-opacity="0.84" transform="rotate(117 516.6 707.8)"/>
<ellipse cx="506.1" cy="726.0" rx="1.9" ry="1.9" fill="#2a2af0" fill-opacity="0.67" transform="rotate(176 506.1 726.0)"/>
<ellipse cx="534.6" cy="707.5" rx="1.5" ry="1.3" fill="#2a2af0" fill-opacity="0.63" transform="rotate(98 534.6 707.5)"/>
<ellipse cx="519.1" cy="721.0" rx="1.9" ry="1.8" fill="#2a2af0" fill-opacity="0.71" transform="rotate(39 519.1 721.0)"/>
<ellipse cx="530.4" cy="724.0" rx="1.9" ry="2.1" fill="#2a2af0" fill-opacity="0.85" transform="rotate(35 530.4 724.0)"/>
<ellipse cx="501.1" cy="721.0" rx="1.6" ry="1.4" fill="#2a2af0" fill-opacity="0.76" transform="rotate(113 501.1 721.0)"/>
<ellipse cx="529.0" cy="710.3" rx="1.3" ry="1.4" fill="#2a2af0" fill-opacity="0.90" transform="rotate(114 529.0 710.3)"/>
<ellipse cx="499.4" cy="716.5" rx="1.6" ry="1.1" fill="#2a2af0" fill-opacity="0.81" transform="rotate(140 499.4 716.5)"/>
<ellipse cx="509.7" cy="732.1" rx="2.0" ry="2.2" fill="#2a2af0" fill-opacity="0.90" transform="rotate(169 509.7 732.1)"/>
<ellipse cx="519.2" cy="721.2" rx="1.4" ry="1.2" fill="#2a2af0" fill-opacity="0.70" transform="rotate(46 519.2 721.2)"/>
<ellipse cx="529.0" cy="713.7" rx="1.4" ry="1.5" fill="#2a2af0" fill-opacity="0.95" transform="rotate(100 529.0 713.7)"/>
<ellipse cx="503.2" cy="707.5" rx="2.0" ry="1.8" fill="#2a2af0" fill-opacity="0.71" transform="rotate(1 503.2 707.5)"/>
<ellipse cx="530.3" cy="723.7" rx="1.9" ry="1.6" fill="#2a2af0" fill-opacity="0.60" transform="rotate(177 530.3 723.7)"/>
<ellipse cx="500.4" cy="715.7" rx="1.3" ry="1.5" fill="#2a2af0" fill-opacity="0.88" transform="rotate(56 500.4 715.7)"/>
</g>
</g>
<clipPath id="ks111"><rect x="497.20" y="738.90" width="42.20" height="33.80"/></clipPath>
<rect x="497.20" y="738.90" width="42.20" height="33.80" fill="#030214" />
<g clip-path="url(#ks111)">
<g filter="url(#kb2)">
<ellipse cx="528.3" cy="739.8" rx="3.7" ry="5.0" fill="#6a0e0e" fill-opacity="0.57" transform="rotate(159 528.3 739.8)"/>
<ellipse cx="520.4" cy="760.2" rx="4.3" ry="3.4" fill="#4a0808" fill-opacity="0.62" transform="rotate(35 520.4 760.2)"/>
<ellipse cx="500.3" cy="768.2" rx="4.9" ry="4.2" fill="#6a0e0e" fill-opacity="0.73" transform="rotate(155 500.3 768.2)"/>
<ellipse cx="499.4" cy="765.9" rx="4.6" ry="3.4" fill="#4a0808" fill-opacity="0.51" transform="rotate(20 499.4 765.9)"/>
<ellipse cx="499.2" cy="750.9" rx="3.4" ry="2.8" fill="#6a0e0e" fill-opacity="0.48" transform="rotate(34 499.2 750.9)"/>
<ellipse cx="498.5" cy="758.1" rx="4.8" ry="6.0" fill="#6a0e0e" fill-opacity="0.65" transform="rotate(117 498.5 758.1)"/>
<ellipse cx="505.4" cy="744.1" rx="4.7" ry="6.2" fill="#5a0a0a" fill-opacity="0.73" transform="rotate(179 505.4 744.1)"/>
<ellipse cx="509.9" cy="739.6" rx="3.8" ry="4.5" fill="#6a0e0e" fill-opacity="0.79" transform="rotate(109 509.9 739.6)"/>
<ellipse cx="499.1" cy="754.7" rx="2.8" ry="3.8" fill="#5a0a0a" fill-opacity="0.61" transform="rotate(161 499.1 754.7)"/>
<ellipse cx="534.7" cy="768.4" rx="3.8" ry="4.5" fill="#5a0a0a" fill-opacity="0.60" transform="rotate(29 534.7 768.4)"/>
<ellipse cx="516.8" cy="765.3" rx="2.6" ry="2.1" fill="#6a0e0e" fill-opacity="0.74" transform="rotate(10 516.8 765.3)"/>
<ellipse cx="520.1" cy="741.8" rx="4.9" ry="3.7" fill="#5a0a0a" fill-opacity="0.60" transform="rotate(145 520.1 741.8)"/>
<ellipse cx="505.9" cy="762.6" rx="4.0" ry="5.2" fill="#5a0a0a" fill-opacity="0.48" transform="rotate(113 505.9 762.6)"/>
<ellipse cx="516.1" cy="744.6" rx="2.9" ry="2.8" fill="#5a0a0a" fill-opacity="0.59" transform="rotate(140 516.1 744.6)"/>
<ellipse cx="511.9" cy="747.7" rx="4.2" ry="3.8" fill="#5a0a0a" fill-opacity="0.67" transform="rotate(127 511.9 747.7)"/>
<ellipse cx="505.3" cy="741.9" rx="2.9" ry="3.8" fill="#5a0a0a" fill-opacity="0.77" transform="rotate(158 505.3 741.9)"/>
<ellipse cx="505.4" cy="760.2" rx="4.9" ry="5.9" fill="#5a0a0a" fill-opacity="0.63" transform="rotate(165 505.4 760.2)"/>
<ellipse cx="527.9" cy="749.9" rx="4.3" ry="5.6" fill="#5a0a0a" fill-opacity="0.65" transform="rotate(168 527.9 749.9)"/>
<ellipse cx="508.9" cy="762.7" rx="3.8" ry="2.9" fill="#4a0808" fill-opacity="0.66" transform="rotate(155 508.9 762.7)"/>
<ellipse cx="499.2" cy="772.2" rx="3.5" ry="2.7" fill="#4a0808" fill-opacity="0.62" transform="rotate(66 499.2 772.2)"/>
<ellipse cx="498.6" cy="753.8" rx="4.7" ry="6.2" fill="#6a0e0e" fill-opacity="0.49" transform="rotate(83 498.6 753.8)"/>
<ellipse cx="531.8" cy="747.3" rx="4.0" ry="3.9" fill="#5a0a0a" fill-opacity="0.60" transform="rotate(40 531.8 747.3)"/>
<ellipse cx="500.6" cy="770.7" rx="4.2" ry="3.3" fill="#4a0808" fill-opacity="0.74" transform="rotate(117 500.6 770.7)"/>
<ellipse cx="532.7" cy="750.4" rx="4.8" ry="4.2" fill="#4a0808" fill-opacity="0.73" transform="rotate(39 532.7 750.4)"/>
<ellipse cx="506.5" cy="756.7" rx="2.9" ry="3.5" fill="#6a0e0e" fill-opacity="0.77" transform="rotate(19 506.5 756.7)"/>
<ellipse cx="512.5" cy="769.7" rx="3.6" ry="3.9" fill="#5a0a0a" fill-opacity="0.62" transform="rotate(163 512.5 769.7)"/>
<ellipse cx="525.6" cy="772.7" rx="4.1" ry="2.5" fill="#4a0808" fill-opacity="0.45" transform="rotate(126 525.6 772.7)"/>
<ellipse cx="497.4" cy="745.9" rx="4.9" ry="4.5" fill="#5a0a0a" fill-opacity="0.62" transform="rotate(48 497.4 745.9)"/>
<ellipse cx="529.9" cy="740.3" rx="3.7" ry="3.9" fill="#5a0a0a" fill-opacity="0.60" transform="rotate(140 529.9 740.3)"/>
<ellipse cx="499.0" cy="740.9" rx="4.3" ry="4.4" fill="#5a0a0a" fill-opacity="0.55" transform="rotate(107 499.0 740.9)"/>
<ellipse cx="504.7" cy="752.8" rx="4.9" ry="6.4" fill="#4a0808" fill-opacity="0.67" transform="rotate(102 504.7 752.8)"/>
<ellipse cx="518.1" cy="766.0" rx="4.0" ry="4.0" fill="#6a0e0e" fill-opacity="0.75" transform="rotate(53 518.1 766.0)"/>
<ellipse cx="507.3" cy="765.6" rx="4.3" ry="5.5" fill="#6a0e0e" fill-opacity="0.52" transform="rotate(99 507.3 765.6)"/>
<ellipse cx="532.2" cy="771.8" rx="2.5" ry="3.0" fill="#6a0e0e" fill-opacity="0.60" transform="rotate(4 532.2 771.8)"/>
<ellipse cx="518.8" cy="765.0" rx="4.9" ry="3.4" fill="#6a0e0e" fill-opacity="0.58" transform="rotate(159 518.8 765.0)"/>
</g>
<g filter="url(#kb05)">
<ellipse cx="513.1" cy="744.0" rx="1.8" ry="1.5" fill="#2a2af0" fill-opacity="0.75" transform="rotate(36 513.1 744.0)"/>
<ellipse cx="531.4" cy="742.0" rx="1.9" ry="1.5" fill="#2a2af0" fill-opacity="0.78" transform="rotate(48 531.4 742.0)"/>
<ellipse cx="501.5" cy="743.0" rx="1.4" ry="1.0" fill="#2a2af0" fill-opacity="0.70" transform="rotate(56 501.5 743.0)"/>
<ellipse cx="520.5" cy="767.9" rx="1.7" ry="1.7" fill="#2a2af0" fill-opacity="0.76" transform="rotate(151 520.5 767.9)"/>
<ellipse cx="508.3" cy="752.3" rx="1.5" ry="1.2" fill="#2a2af0" fill-opacity="0.80" transform="rotate(177 508.3 752.3)"/>
<ellipse cx="528.0" cy="753.0" rx="1.5" ry="1.5" fill="#2a2af0" fill-opacity="0.85" transform="rotate(175 528.0 753.0)"/>
<ellipse cx="534.4" cy="743.1" rx="1.9" ry="1.4" fill="#2a2af0" fill-opacity="0.73" transform="rotate(55 534.4 743.1)"/>
<ellipse cx="508.2" cy="752.4" rx="1.4" ry="1.3" fill="#2a2af0" fill-opacity="0.71" transform="rotate(95 508.2 752.4)"/>
<ellipse cx="536.7" cy="742.5" rx="1.4" ry="1.0" fill="#2a2af0" fill-opacity="0.69" transform="rotate(173 536.7 742.5)"/>
<ellipse cx="530.3" cy="755.0" rx="2.0" ry="1.4" fill="#2a2af0" fill-opacity="0.62" transform="rotate(32 530.3 755.0)"/>
<ellipse cx="529.9" cy="765.2" rx="1.5" ry="1.6" fill="#2a2af0" fill-opacity="0.76" transform="rotate(107 529.9 765.2)"/>
<ellipse cx="528.9" cy="763.5" rx="1.7" ry="1.4" fill="#2a2af0" fill-opacity="0.67" transform="rotate(75 528.9 763.5)"/>
<ellipse cx="535.9" cy="770.5" rx="1.9" ry="1.9" fill="#2a2af0" fill-opacity="0.61" transform="rotate(88 535.9 770.5)"/>
<ellipse cx="536.8" cy="756.1" rx="1.8" ry="1.7" fill="#2a2af0" fill-opacity="0.82" transform="rotate(118 536.8 756.1)"/>
<ellipse cx="518.1" cy="753.3" rx="2.0" ry="1.7" fill="#2a2af0" fill-opacity="0.85" transform="rotate(172 518.1 753.3)"/>
<ellipse cx="510.4" cy="744.8" rx="1.3" ry="1.0" fill="#2a2af0" fill-opacity="0.69" transform="rotate(88 510.4 744.8)"/>
<ellipse cx="500.1" cy="767.8" rx="1.7" ry="1.6" fill="#2a2af0" fill-opacity="0.98" transform="rotate(53 500.1 767.8)"/>
<ellipse cx="515.3" cy="769.6" rx="1.9" ry="2.0" fill="#2a2af0" fill-opacity="0.71" transform="rotate(162 515.3 769.6)"/>
<ellipse cx="499.9" cy="744.3" rx="1.7" ry="1.2" fill="#2a2af0" fill-opacity="0.65" transform="rotate(176 499.9 744.3)"/>
<ellipse cx="512.5" cy="744.9" rx="1.9" ry="1.5" fill="#2a2af0" fill-opacity="0.94" transform="rotate(68 512.5 744.9)"/>
<ellipse cx="509.3" cy="765.4" rx="1.5" ry="1.6" fill="#2a2af0" fill-opacity="0.63" transform="rotate(11 509.3 765.4)"/>
<ellipse cx="504.7" cy="769.2" rx="1.5" ry="1.2" fill="#2a2af0" fill-opacity="0.75" transform="rotate(5 504.7 769.2)"/>
<ellipse cx="522.0" cy="753.3" rx="1.9" ry="2.0" fill="#2a2af0" fill-opacity="0.80" transform="rotate(109 522.0 753.3)"/>
<ellipse cx="535.3" cy="751.7" rx="2.0" ry="1.8" fill="#2a2af0" fill-opacity="0.63" transform="rotate(31 535.3 751.7)"/>
</g>
</g>
<clipPath id="ks120"><rect x="635.00" y="701.90" width="42.20" height="33.80"/></clipPath>
<rect x="635.00" y="701.90" width="42.20" height="33.80" fill="#030214" />
<g clip-path="url(#ks120)">
<g filter="url(#kb05)">
<ellipse cx="667.2" cy="735.5" rx="1.2" ry="0.9" fill="#2a2af0" fill-opacity="0.91" transform="rotate(152 667.2 735.5)"/>
<ellipse cx="641.3" cy="719.0" rx="1.6" ry="1.5" fill="#2a2af0" fill-opacity="0.76" transform="rotate(104 641.3 719.0)"/>
<ellipse cx="674.7" cy="732.9" rx="1.4" ry="1.5" fill="#2a2af0" fill-opacity="0.71" transform="rotate(58 674.7 732.9)"/>
<ellipse cx="653.5" cy="731.5" rx="1.2" ry="1.3" fill="#2a2af0" fill-opacity="0.92" transform="rotate(88 653.5 731.5)"/>
<ellipse cx="653.5" cy="729.0" rx="1.8" ry="1.7" fill="#2a2af0" fill-opacity="0.62" transform="rotate(81 653.5 729.0)"/>
<ellipse cx="648.0" cy="721.2" rx="1.8" ry="1.4" fill="#2a2af0" fill-opacity="0.98" transform="rotate(71 648.0 721.2)"/>
<ellipse cx="665.3" cy="727.0" rx="1.7" ry="1.7" fill="#2a2af0" fill-opacity="0.70" transform="rotate(117 665.3 727.0)"/>
<ellipse cx="650.4" cy="734.7" rx="1.3" ry="0.9" fill="#2a2af0" fill-opacity="0.65" transform="rotate(6 650.4 734.7)"/>
<ellipse cx="639.6" cy="719.8" rx="1.6" ry="1.4" fill="#2a2af0" fill-opacity="0.62" transform="rotate(23 639.6 719.8)"/>
<ellipse cx="636.3" cy="725.2" rx="1.4" ry="1.3" fill="#2a2af0" fill-opacity="0.74" transform="rotate(156 636.3 725.2)"/>
<ellipse cx="654.6" cy="714.7" rx="1.8" ry="1.6" fill="#2a2af0" fill-opacity="0.84" transform="rotate(166 654.6 714.7)"/>
<ellipse cx="649.7" cy="716.6" rx="1.2" ry="1.0" fill="#2a2af0" fill-opacity="0.90" transform="rotate(177 649.7 716.6)"/>
<ellipse cx="671.2" cy="732.2" rx="1.3" ry="1.0" fill="#2a2af0" fill-opacity="0.84" transform="rotate(175 671.2 732.2)"/>
<ellipse cx="636.5" cy="720.9" rx="1.5" ry="1.5" fill="#2a2af0" fill-opacity="0.92" transform="rotate(137 636.5 720.9)"/>
<ellipse cx="664.9" cy="731.7" rx="1.4" ry="1.0" fill="#2a2af0" fill-opacity="0.93" transform="rotate(161 664.9 731.7)"/>
<ellipse cx="635.7" cy="723.8" rx="1.4" ry="1.4" fill="#2a2af0" fill-opacity="0.80" transform="rotate(154 635.7 723.8)"/>
<ellipse cx="669.8" cy="714.0" rx="1.6" ry="1.2" fill="#2a2af0" fill-opacity="0.65" transform="rotate(124 669.8 714.0)"/>
<ellipse cx="652.5" cy="732.9" rx="1.8" ry="1.9" fill="#2a2af0" fill-opacity="0.79" transform="rotate(25 652.5 732.9)"/>
<ellipse cx="656.5" cy="730.2" rx="1.2" ry="1.3" fill="#2a2af0" fill-opacity="0.60" transform="rotate(175 656.5 730.2)"/>
<ellipse cx="648.1" cy="715.7" rx="1.8" ry="1.6" fill="#2a2af0" fill-opacity="0.79" transform="rotate(167 648.1 715.7)"/>
<ellipse cx="663.0" cy="711.2" rx="1.6" ry="1.4" fill="#2a2af0" fill-opacity="0.91" transform="rotate(129 663.0 711.2)"/>
<ellipse cx="662.5" cy="731.1" rx="1.5" ry="1.2" fill="#2a2af0" fill-opacity="0.63" transform="rotate(75 662.5 731.1)"/>
<ellipse cx="646.9" cy="735.5" rx="1.5" ry="1.6" fill="#2a2af0" fill-opacity="0.89" transform="rotate(36 646.9 735.5)"/>
<ellipse cx="645.9" cy="730.4" rx="1.7" ry="1.4" fill="#2a2af0" fill-opacity="0.80" transform="rotate(126 645.9 730.4)"/>
<ellipse cx="663.1" cy="731.0" rx="1.5" ry="1.6" fill="#2a2af0" fill-opacity="0.85" transform="rotate(103 663.1 731.0)"/>
<ellipse cx="675.8" cy="724.6" rx="1.6" ry="1.1" fill="#2a2af0" fill-opacity="0.62" transform="rotate(160 675.8 724.6)"/>
<ellipse cx="656.8" cy="719.1" rx="1.3" ry="1.0" fill="#2a2af0" fill-opacity="0.76" transform="rotate(86 656.8 719.1)"/>
<ellipse cx="662.5" cy="712.4" rx="1.4" ry="1.1" fill="#2a2af0" fill-opacity="0.63" transform="rotate(105 662.5 712.4)"/>
<ellipse cx="670.5" cy="733.0" rx="1.6" ry="1.3" fill="#2a2af0" fill-opacity="0.96" transform="rotate(106 670.5 733.0)"/>
<ellipse cx="669.4" cy="713.4" rx="1.2" ry="0.9" fill="#2a2af0" fill-opacity="0.61" transform="rotate(97 669.4 713.4)"/>
</g>
</g>
<clipPath id="ks121"><rect x="635.00" y="738.90" width="42.20" height="33.80"/></clipPath>
<rect x="635.00" y="738.90" width="42.20" height="33.80" fill="#030214" />
<g clip-path="url(#ks121)">
<g filter="url(#kb2)">
<ellipse cx="656.7" cy="769.2" rx="4.1" ry="4.1" fill="#4a0808" fill-opacity="0.61" transform="rotate(3 656.7 769.2)"/>
<ellipse cx="636.5" cy="762.0" rx="4.8" ry="3.1" fill="#4a0808" fill-opacity="0.45" transform="rotate(121 636.5 762.0)"/>
<ellipse cx="654.9" cy="758.5" rx="3.3" ry="3.8" fill="#4a0808" fill-opacity="0.75" transform="rotate(151 654.9 758.5)"/>
<ellipse cx="641.0" cy="769.8" rx="3.1" ry="4.2" fill="#4a0808" fill-opacity="0.78" transform="rotate(105 641.0 769.8)"/>
<ellipse cx="653.1" cy="762.9" rx="4.0" ry="4.2" fill="#560a0a" fill-opacity="0.60" transform="rotate(95 653.1 762.9)"/>
<ellipse cx="639.9" cy="760.5" rx="2.5" ry="1.9" fill="#560a0a" fill-opacity="0.56" transform="rotate(147 639.9 760.5)"/>
<ellipse cx="667.5" cy="761.2" rx="3.7" ry="3.2" fill="#4a0808" fill-opacity="0.46" transform="rotate(126 667.5 761.2)"/>
<ellipse cx="639.9" cy="756.6" rx="4.8" ry="4.1" fill="#560a0a" fill-opacity="0.54" transform="rotate(107 639.9 756.6)"/>
<ellipse cx="649.3" cy="757.4" rx="2.7" ry="3.7" fill="#560a0a" fill-opacity="0.70" transform="rotate(99 649.3 757.4)"/>
<ellipse cx="660.2" cy="763.0" rx="3.1" ry="3.3" fill="#560a0a" fill-opacity="0.57" transform="rotate(102 660.2 763.0)"/>
<ellipse cx="643.3" cy="768.0" rx="3.2" ry="2.7" fill="#560a0a" fill-opacity="0.48" transform="rotate(23 643.3 768.0)"/>
<ellipse cx="654.5" cy="750.8" rx="3.1" ry="4.2" fill="#4a0808" fill-opacity="0.59" transform="rotate(80 654.5 750.8)"/>
<ellipse cx="672.5" cy="755.7" rx="4.1" ry="4.6" fill="#4a0808" fill-opacity="0.75" transform="rotate(125 672.5 755.7)"/>
<ellipse cx="656.1" cy="770.9" rx="2.6" ry="2.8" fill="#560a0a" fill-opacity="0.64" transform="rotate(175 656.1 770.9)"/>
<ellipse cx="666.4" cy="757.1" rx="3.8" ry="3.5" fill="#560a0a" fill-opacity="0.46" transform="rotate(26 666.4 757.1)"/>
<ellipse cx="650.9" cy="768.0" rx="3.6" ry="3.1" fill="#560a0a" fill-opacity="0.47" transform="rotate(45 650.9 768.0)"/>
<ellipse cx="667.0" cy="753.3" rx="3.7" ry="4.7" fill="#4a0808" fill-opacity="0.51" transform="rotate(144 667.0 753.3)"/>
<ellipse cx="640.9" cy="769.2" rx="3.9" ry="3.2" fill="#560a0a" fill-opacity="0.71" transform="rotate(72 640.9 769.2)"/>
<ellipse cx="659.3" cy="769.3" rx="3.7" ry="5.0" fill="#560a0a" fill-opacity="0.47" transform="rotate(54 659.3 769.3)"/>
<ellipse cx="665.7" cy="755.0" rx="3.5" ry="4.6" fill="#4a0808" fill-opacity="0.46" transform="rotate(41 665.7 755.0)"/>
<ellipse cx="652.9" cy="770.9" rx="2.7" ry="2.9" fill="#560a0a" fill-opacity="0.57" transform="rotate(119 652.9 770.9)"/>
<ellipse cx="657.1" cy="769.5" rx="4.0" ry="4.9" fill="#560a0a" fill-opacity="0.65" transform="rotate(1 657.1 769.5)"/>
<ellipse cx="636.7" cy="772.5" rx="4.1" ry="5.3" fill="#4a0808" fill-opacity="0.53" transform="rotate(20 636.7 772.5)"/>
<ellipse cx="666.4" cy="764.9" rx="3.7" ry="4.2" fill="#560a0a" fill-opacity="0.47" transform="rotate(62 666.4 764.9)"/>
<ellipse cx="662.2" cy="754.5" rx="3.9" ry="4.1" fill="#560a0a" fill-opacity="0.52" transform="rotate(134 662.2 754.5)"/>
</g>
<g filter="url(#kb05)">
<ellipse cx="671.2" cy="759.6" rx="1.5" ry="1.3" fill="#2a2af0" fill-opacity="0.95" transform="rotate(77 671.2 759.6)"/>
<ellipse cx="641.4" cy="756.3" rx="1.3" ry="1.0" fill="#2a2af0" fill-opacity="0.70" transform="rotate(172 641.4 756.3)"/>
<ellipse cx="654.4" cy="766.1" rx="1.2" ry="1.0" fill="#2a2af0" fill-opacity="0.92" transform="rotate(111 654.4 766.1)"/>
<ellipse cx="675.6" cy="756.3" rx="1.8" ry="1.4" fill="#2a2af0" fill-opacity="0.82" transform="rotate(93 675.6 756.3)"/>
<ellipse cx="654.0" cy="770.4" rx="1.9" ry="1.7" fill="#2a2af0" fill-opacity="0.98" transform="rotate(53 654.0 770.4)"/>
<ellipse cx="649.5" cy="772.1" rx="1.4" ry="1.6" fill="#2a2af0" fill-opacity="0.63" transform="rotate(53 649.5 772.1)"/>
<ellipse cx="661.6" cy="769.3" rx="1.2" ry="0.9" fill="#2a2af0" fill-opacity="0.61" transform="rotate(33 661.6 769.3)"/>
<ellipse cx="656.9" cy="752.0" rx="1.3" ry="1.2" fill="#2a2af0" fill-opacity="0.66" transform="rotate(175 656.9 752.0)"/>
<ellipse cx="671.3" cy="769.8" rx="1.8" ry="2.0" fill="#2a2af0" fill-opacity="0.95" transform="rotate(48 671.3 769.8)"/>
<ellipse cx="653.2" cy="764.9" rx="1.5" ry="1.1" fill="#2a2af0" fill-opacity="0.76" transform="rotate(122 653.2 764.9)"/>
<ellipse cx="660.4" cy="746.4" rx="1.5" ry="1.5" fill="#2a2af0" fill-opacity="0.67" transform="rotate(64 660.4 746.4)"/>
<ellipse cx="668.3" cy="768.5" rx="1.4" ry="1.0" fill="#2a2af0" fill-opacity="0.69" transform="rotate(138 668.3 768.5)"/>
<ellipse cx="666.6" cy="749.5" rx="1.4" ry="1.2" fill="#2a2af0" fill-opacity="0.80" transform="rotate(62 666.6 749.5)"/>
<ellipse cx="658.0" cy="770.5" rx="1.2" ry="1.2" fill="#2a2af0" fill-opacity="0.76" transform="rotate(37 658.0 770.5)"/>
<ellipse cx="643.8" cy="757.9" rx="1.4" ry="1.4" fill="#2a2af0" fill-opacity="0.61" transform="rotate(93 643.8 757.9)"/>
<ellipse cx="640.2" cy="755.8" rx="1.9" ry="2.1" fill="#2a2af0" fill-opacity="0.70" transform="rotate(43 640.2 755.8)"/>
<ellipse cx="651.6" cy="750.8" rx="1.7" ry="1.5" fill="#2a2af0" fill-opacity="0.85" transform="rotate(78 651.6 750.8)"/>
<ellipse cx="641.8" cy="756.2" rx="1.5" ry="1.1" fill="#2a2af0" fill-opacity="0.77" transform="rotate(42 641.8 756.2)"/>
<ellipse cx="664.1" cy="771.0" rx="1.5" ry="1.1" fill="#2a2af0" fill-opacity="0.83" transform="rotate(106 664.1 771.0)"/>
<ellipse cx="652.5" cy="760.9" rx="1.8" ry="1.4" fill="#2a2af0" fill-opacity="0.75" transform="rotate(134 652.5 760.9)"/>
<ellipse cx="637.8" cy="764.2" rx="1.3" ry="1.1" fill="#2a2af0" fill-opacity="0.92" transform="rotate(139 637.8 764.2)"/>
<ellipse cx="652.5" cy="765.7" rx="1.3" ry="1.2" fill="#2a2af0" fill-opacity="0.82" transform="rotate(168 652.5 765.7)"/>
<ellipse cx="671.3" cy="759.8" rx="1.4" ry="1.1" fill="#2a2af0" fill-opacity="0.98" transform="rotate(19 671.3 759.8)"/>
<ellipse cx="646.5" cy="760.9" rx="1.2" ry="1.3" fill="#2a2af0" fill-opacity="0.88" transform="rotate(154 646.5 760.9)"/>
<ellipse cx="654.1" cy="763.7" rx="1.2" ry="1.2" fill="#2a2af0" fill-opacity="0.94" transform="rotate(89 654.1 763.7)"/>
<ellipse cx="662.8" cy="751.6" rx="1.4" ry="1.2" fill="#2a2af0" fill-opacity="0.91" transform="rotate(173 662.8 751.6)"/>
<ellipse cx="642.7" cy="771.2" rx="1.7" ry="1.3" fill="#2a2af0" fill-opacity="0.92" transform="rotate(53 642.7 771.2)"/>
<ellipse cx="636.4" cy="756.6" rx="1.3" ry="1.3" fill="#2a2af0" fill-opacity="0.68" transform="rotate(44 636.4 756.6)"/>
<ellipse cx="638.2" cy="758.7" rx="1.6" ry="1.2" fill="#2a2af0" fill-opacity="0.88" transform="rotate(167 638.2 758.7)"/>
<ellipse cx="643.4" cy="757.0" rx="1.5" ry="1.3" fill="#2a2af0" fill-opacity="0.82" transform="rotate(163 643.4 757.0)"/>
</g>
</g>
<rect x="617.00" y="693.75" width="13.70" height="1.50" fill="#ffffff" />
<rect x="669.70" y="693.75" width="6.30" height="1.50" fill="#ffffff" />
<rect x="617.00" y="768.65" width="13.70" height="1.50" fill="#ffffff" />
<rect x="669.70" y="768.65" width="6.30" height="1.50" fill="#ffffff" />
<line x1="419.00" y1="672.50" x2="424.98" y2="668.63" stroke="#ffffff" stroke-width="1.1" />
<path d="M427.50,667.00 L425.90,670.06 L424.06,667.20 Z" fill="#ffffff" />
<line x1="433.40" y1="657.70" x2="438.84" y2="653.91" stroke="#ffffff" stroke-width="1.1" />
<path d="M441.30,652.20 L439.81,655.31 L437.87,652.52 Z" fill="#ffffff" />
<line x1="456.10" y1="648.00" x2="461.73" y2="643.64" stroke="#ffffff" stroke-width="1.1" />
<path d="M464.10,641.80 L462.77,644.98 L460.69,642.29 Z" fill="#ffffff" />
<line x1="450.80" y1="684.60" x2="456.30" y2="680.96" stroke="#ffffff" stroke-width="1.1" />
<path d="M458.80,679.30 L457.24,682.37 L455.36,679.54 Z" fill="#ffffff" />
<line x1="558.00" y1="750.20" x2="562.11" y2="743.64" stroke="#ffffff" stroke-width="1.1" />
<path d="M563.70,741.10 L563.55,744.54 L560.67,742.74 Z" fill="#ffffff" />
<line x1="581.90" y1="747.00" x2="577.26" y2="740.00" stroke="#ffffff" stroke-width="1.1" />
<path d="M575.60,737.50 L578.67,739.06 L575.84,740.94 Z" fill="#ffffff" />
<line x1="613.70" y1="735.40" x2="621.44" y2="742.82" stroke="#ffffff" stroke-width="1.1" />
<path d="M623.60,744.90 L620.26,744.05 L622.61,741.60 Z" fill="#ffffff" />
</svg></body></html>
